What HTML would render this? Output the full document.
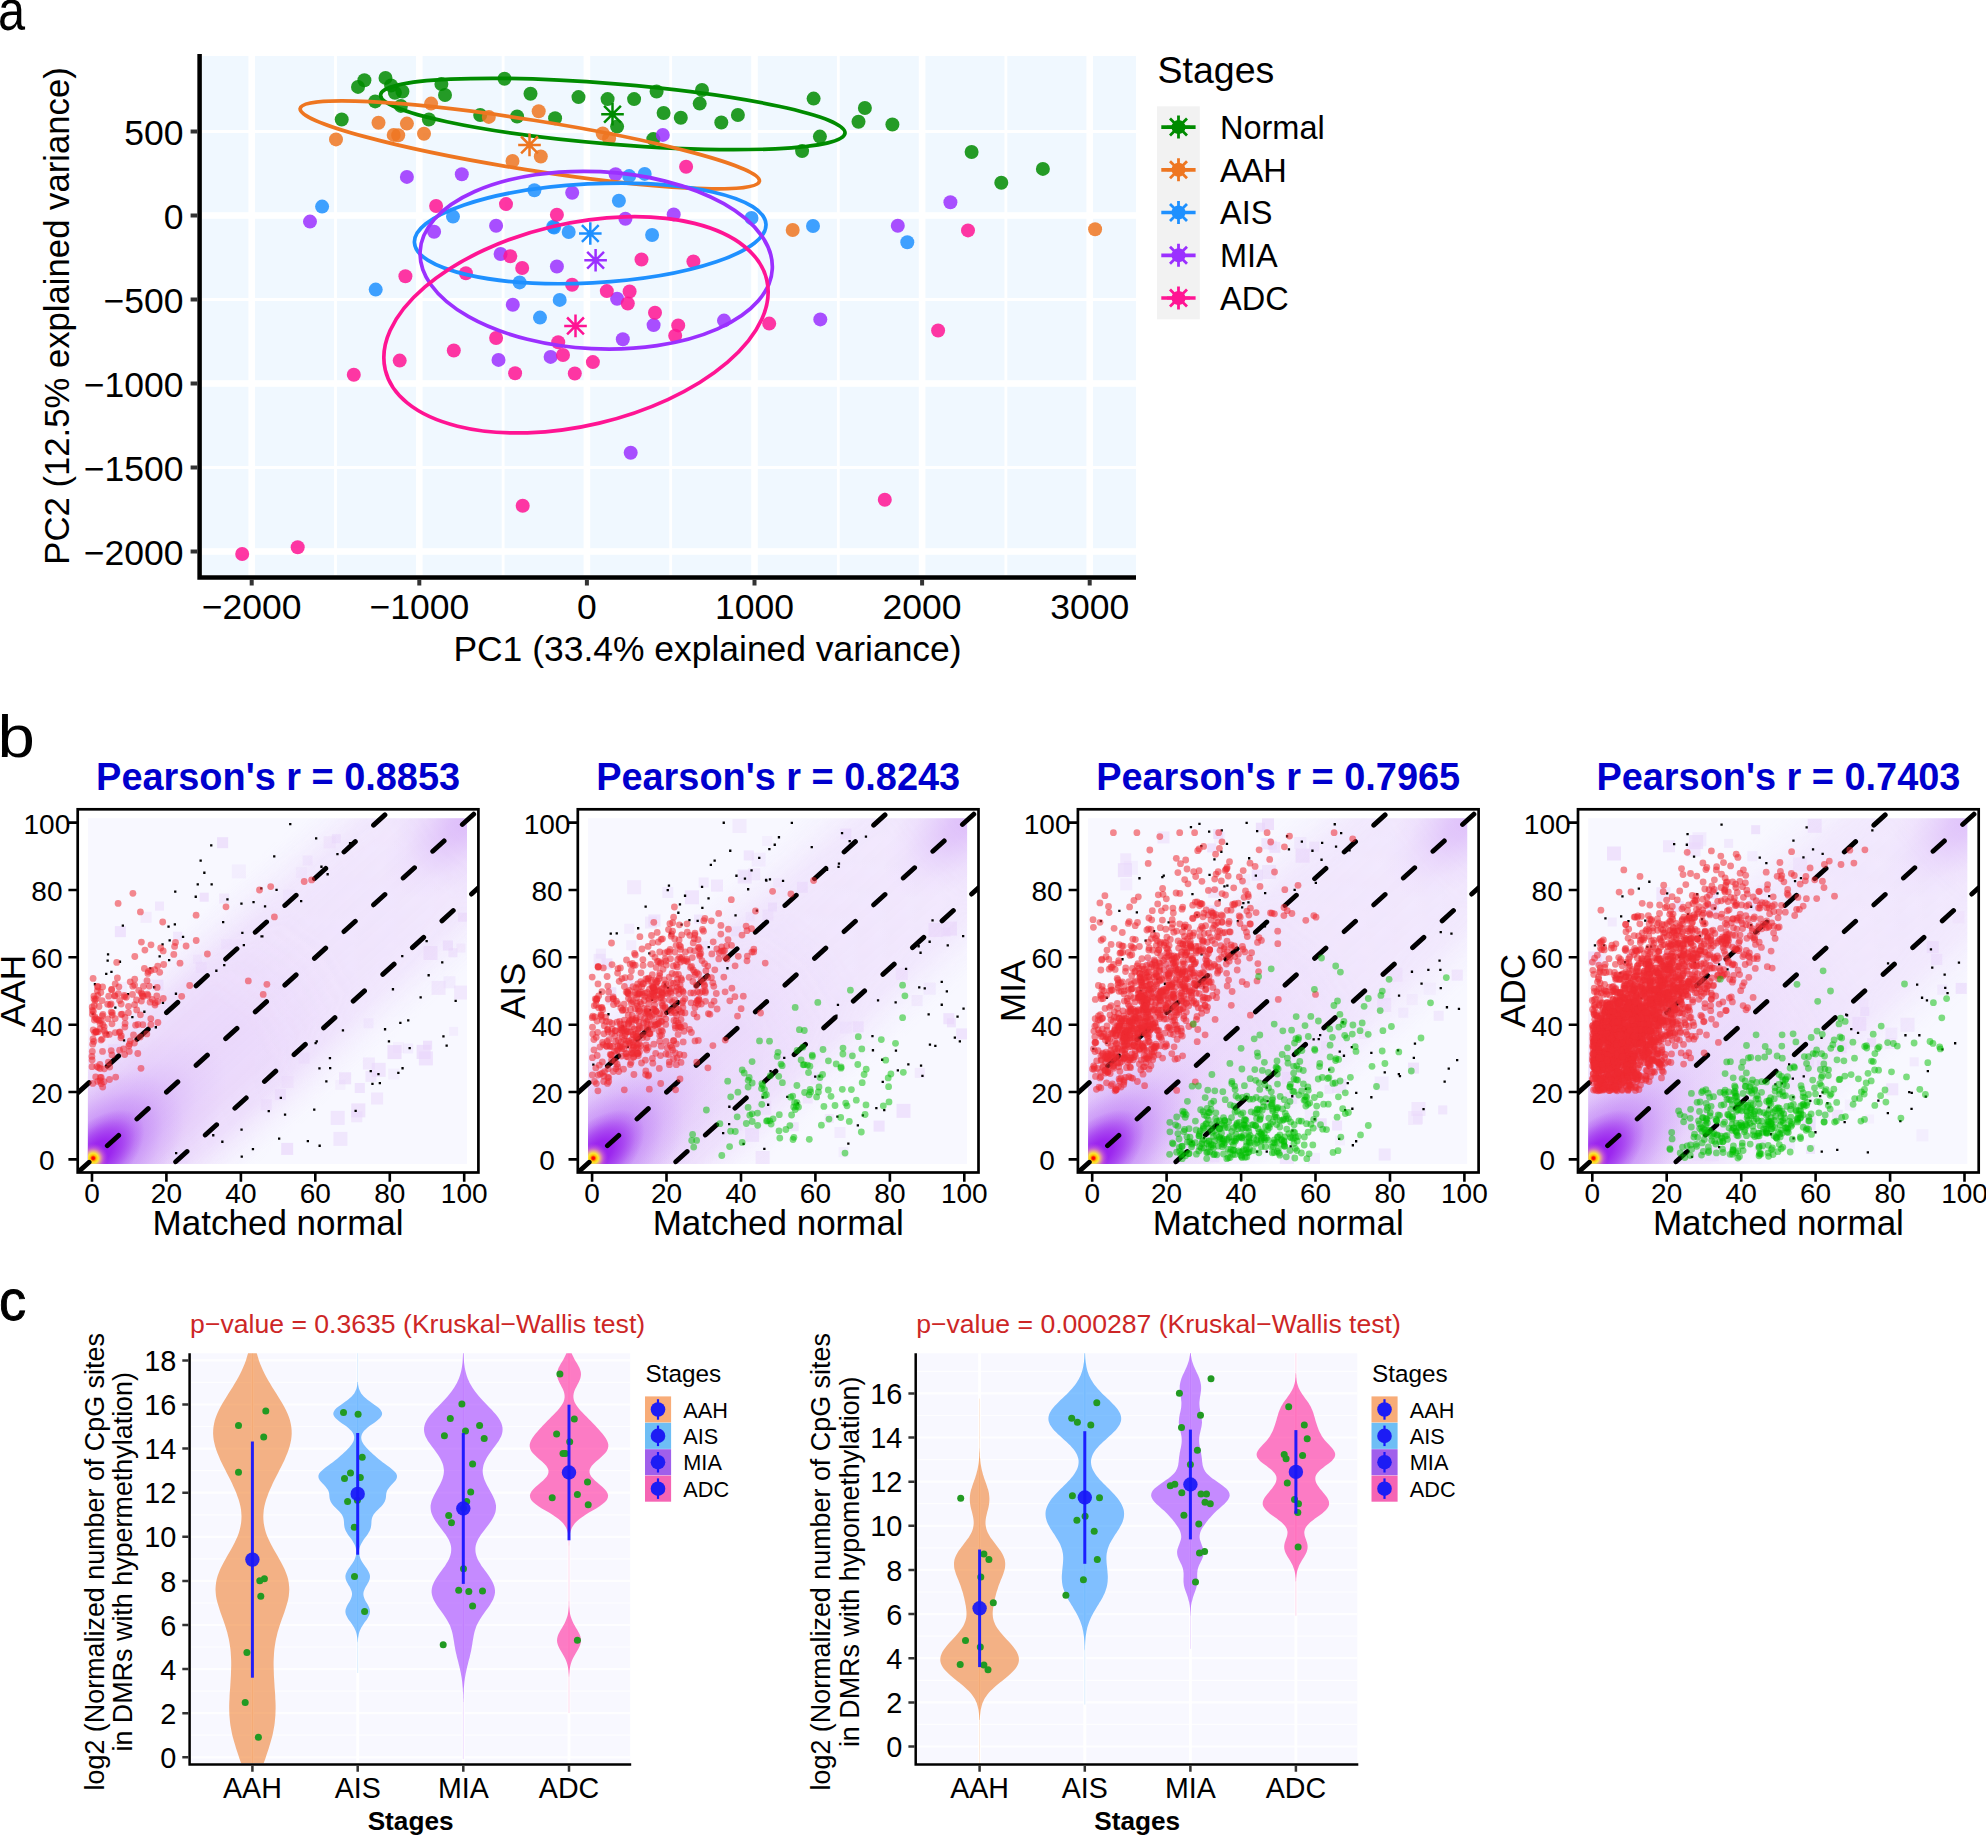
<!DOCTYPE html>
<html lang="en"><head><meta charset="utf-8"><title>Figure</title>
<style>html,body{margin:0;padding:0;background:#fff}svg{display:block}</style></head>
<body>
<svg width="1986" height="1836" viewBox="0 0 1986 1836" font-family="'Liberation Sans', Arial, sans-serif" fill="#000">
<rect width="1986" height="1836" fill="#fff"/>
<g id="panelA">
<text transform="translate(-2 30.3) scale(0.84 1)" font-size="58" fill="#000">a</text>
<rect x="201.8" y="56.0" width="934.2" height="519.2" fill="#F0F8FF"/>
<path d="M335.5 56.0V575.2M503.1 56.0V575.2M670.7 56.0V575.2M838.3 56.0V575.2M1005.9 56.0V575.2M201.8 131.5H1136.0M201.8 299.5H1136.0M201.8 467.5H1136.0" stroke="#fff" stroke-width="2.8" fill="none"/>
<path d="M251.7 56.0V575.2M419.3 56.0V575.2M586.9 56.0V575.2M754.5 56.0V575.2M922.1 56.0V575.2M1089.7 56.0V575.2M201.8 215.5H1136.0M201.8 383.5H1136.0M201.8 551.5H1136.0" stroke="#fff" stroke-width="6.6" fill="none"/>
<g fill-opacity="0.85">
<circle cx="364.4" cy="80.2" r="7" fill="#008B00"/>
<circle cx="358.0" cy="86.9" r="7" fill="#008B00"/>
<circle cx="385.5" cy="77.9" r="7" fill="#008B00"/>
<circle cx="391.1" cy="85.5" r="7" fill="#008B00"/>
<circle cx="394.9" cy="92.7" r="7" fill="#008B00"/>
<circle cx="402.4" cy="91.5" r="7" fill="#008B00"/>
<circle cx="375.2" cy="101.4" r="7" fill="#008B00"/>
<circle cx="400.9" cy="105.9" r="7" fill="#008B00"/>
<circle cx="341.7" cy="119.5" r="7" fill="#008B00"/>
<circle cx="441.4" cy="84.0" r="7" fill="#008B00"/>
<circle cx="445.0" cy="95.0" r="7" fill="#008B00"/>
<circle cx="428.9" cy="119.5" r="7" fill="#008B00"/>
<circle cx="480.2" cy="115.0" r="7" fill="#008B00"/>
<circle cx="504.5" cy="78.7" r="7" fill="#008B00"/>
<circle cx="530.5" cy="93.8" r="7" fill="#008B00"/>
<circle cx="578.5" cy="97.1" r="7" fill="#008B00"/>
<circle cx="607.6" cy="99.1" r="7" fill="#008B00"/>
<circle cx="634.1" cy="99.1" r="7" fill="#008B00"/>
<circle cx="656.6" cy="91.5" r="7" fill="#008B00"/>
<circle cx="702.0" cy="90.0" r="7" fill="#008B00"/>
<circle cx="699.7" cy="103.6" r="7" fill="#008B00"/>
<circle cx="517.1" cy="116.5" r="7" fill="#008B00"/>
<circle cx="555.1" cy="118.3" r="7" fill="#008B00"/>
<circle cx="617.1" cy="126.6" r="7" fill="#008B00"/>
<circle cx="663.6" cy="113.0" r="7" fill="#008B00"/>
<circle cx="680.8" cy="117.7" r="7" fill="#008B00"/>
<circle cx="721.3" cy="122.5" r="7" fill="#008B00"/>
<circle cx="737.9" cy="115.0" r="7" fill="#008B00"/>
<circle cx="653.3" cy="139.1" r="7" fill="#008B00"/>
<circle cx="813.6" cy="98.6" r="7" fill="#008B00"/>
<circle cx="864.9" cy="108.0" r="7" fill="#008B00"/>
<circle cx="858.5" cy="121.8" r="7" fill="#008B00"/>
<circle cx="892.4" cy="124.5" r="7" fill="#008B00"/>
<circle cx="819.9" cy="136.6" r="7" fill="#008B00"/>
<circle cx="802.1" cy="151.1" r="7" fill="#008B00"/>
<circle cx="971.6" cy="152.0" r="7" fill="#008B00"/>
<circle cx="1042.9" cy="168.9" r="7" fill="#008B00"/>
<circle cx="1001.3" cy="182.7" r="7" fill="#008B00"/>
<circle cx="431.1" cy="103.6" r="7" fill="#EE7621"/>
<circle cx="378.5" cy="122.8" r="7" fill="#EE7621"/>
<circle cx="406.9" cy="123.6" r="7" fill="#EE7621"/>
<circle cx="393.7" cy="134.9" r="7" fill="#EE7621"/>
<circle cx="398.2" cy="135.3" r="7" fill="#EE7621"/>
<circle cx="424.0" cy="133.8" r="7" fill="#EE7621"/>
<circle cx="336.0" cy="139.4" r="7" fill="#EE7621"/>
<circle cx="488.8" cy="116.9" r="7" fill="#EE7621"/>
<circle cx="538.7" cy="111.2" r="7" fill="#EE7621"/>
<circle cx="602.7" cy="133.5" r="7" fill="#EE7621"/>
<circle cx="609.1" cy="138.4" r="7" fill="#EE7621"/>
<circle cx="540.8" cy="156.5" r="7" fill="#EE7621"/>
<circle cx="512.5" cy="161.0" r="7" fill="#EE7621"/>
<circle cx="792.7" cy="230.0" r="7" fill="#EE7621"/>
<circle cx="1095.1" cy="229.3" r="7" fill="#EE7621"/>
<circle cx="322.1" cy="206.6" r="7" fill="#1E90FF"/>
<circle cx="453.0" cy="216.6" r="7" fill="#1E90FF"/>
<circle cx="629.2" cy="176.1" r="7" fill="#1E90FF"/>
<circle cx="644.7" cy="173.9" r="7" fill="#1E90FF"/>
<circle cx="534.4" cy="190.2" r="7" fill="#1E90FF"/>
<circle cx="618.9" cy="200.8" r="7" fill="#1E90FF"/>
<circle cx="553.2" cy="226.7" r="7" fill="#1E90FF"/>
<circle cx="554.1" cy="227.5" r="7" fill="#1E90FF"/>
<circle cx="568.7" cy="232.0" r="7" fill="#1E90FF"/>
<circle cx="652.1" cy="235.0" r="7" fill="#1E90FF"/>
<circle cx="751.5" cy="218.0" r="7" fill="#1E90FF"/>
<circle cx="813.0" cy="226.0" r="7" fill="#1E90FF"/>
<circle cx="907.3" cy="242.3" r="7" fill="#1E90FF"/>
<circle cx="375.7" cy="289.6" r="7" fill="#1E90FF"/>
<circle cx="519.6" cy="282.4" r="7" fill="#1E90FF"/>
<circle cx="559.7" cy="299.9" r="7" fill="#1E90FF"/>
<circle cx="540.0" cy="317.6" r="7" fill="#1E90FF"/>
<circle cx="406.9" cy="176.9" r="7" fill="#9B30FF"/>
<circle cx="461.8" cy="174.2" r="7" fill="#9B30FF"/>
<circle cx="310.0" cy="221.6" r="7" fill="#9B30FF"/>
<circle cx="434.1" cy="231.7" r="7" fill="#9B30FF"/>
<circle cx="496.1" cy="225.7" r="7" fill="#9B30FF"/>
<circle cx="662.8" cy="134.9" r="7" fill="#9B30FF"/>
<circle cx="615.6" cy="174.2" r="7" fill="#9B30FF"/>
<circle cx="572.2" cy="192.7" r="7" fill="#9B30FF"/>
<circle cx="625.4" cy="218.7" r="7" fill="#9B30FF"/>
<circle cx="673.7" cy="214.4" r="7" fill="#9B30FF"/>
<circle cx="556.9" cy="266.5" r="7" fill="#9B30FF"/>
<circle cx="950.4" cy="202.3" r="7" fill="#9B30FF"/>
<circle cx="897.8" cy="225.8" r="7" fill="#9B30FF"/>
<circle cx="512.8" cy="304.7" r="7" fill="#9B30FF"/>
<circle cx="617.1" cy="298.7" r="7" fill="#9B30FF"/>
<circle cx="653.6" cy="325.1" r="7" fill="#9B30FF"/>
<circle cx="724.0" cy="320.6" r="7" fill="#9B30FF"/>
<circle cx="622.8" cy="339.2" r="7" fill="#9B30FF"/>
<circle cx="550.6" cy="356.9" r="7" fill="#9B30FF"/>
<circle cx="498.5" cy="359.9" r="7" fill="#9B30FF"/>
<circle cx="630.7" cy="452.8" r="7" fill="#9B30FF"/>
<circle cx="820.3" cy="319.4" r="7" fill="#9B30FF"/>
<circle cx="500.6" cy="254.0" r="7" fill="#9B30FF"/>
<circle cx="436.1" cy="206.0" r="7" fill="#FF1493"/>
<circle cx="686.1" cy="166.8" r="7" fill="#FF1493"/>
<circle cx="506.0" cy="204.1" r="7" fill="#FF1493"/>
<circle cx="556.9" cy="214.7" r="7" fill="#FF1493"/>
<circle cx="510.3" cy="256.2" r="7" fill="#FF1493"/>
<circle cx="522.2" cy="268.0" r="7" fill="#FF1493"/>
<circle cx="641.5" cy="259.5" r="7" fill="#FF1493"/>
<circle cx="693.4" cy="261.5" r="7" fill="#FF1493"/>
<circle cx="968.0" cy="230.4" r="7" fill="#FF1493"/>
<circle cx="405.4" cy="276.3" r="7" fill="#FF1493"/>
<circle cx="465.9" cy="273.3" r="7" fill="#FF1493"/>
<circle cx="399.7" cy="360.6" r="7" fill="#FF1493"/>
<circle cx="353.8" cy="374.7" r="7" fill="#FF1493"/>
<circle cx="453.8" cy="350.5" r="7" fill="#FF1493"/>
<circle cx="496.1" cy="338.0" r="7" fill="#FF1493"/>
<circle cx="572.1" cy="284.7" r="7" fill="#FF1493"/>
<circle cx="606.8" cy="291.1" r="7" fill="#FF1493"/>
<circle cx="629.6" cy="291.5" r="7" fill="#FF1493"/>
<circle cx="627.8" cy="303.5" r="7" fill="#FF1493"/>
<circle cx="655.0" cy="312.7" r="7" fill="#FF1493"/>
<circle cx="678.2" cy="325.4" r="7" fill="#FF1493"/>
<circle cx="675.2" cy="335.7" r="7" fill="#FF1493"/>
<circle cx="769.2" cy="323.6" r="7" fill="#FF1493"/>
<circle cx="558.2" cy="342.2" r="7" fill="#FF1493"/>
<circle cx="563.0" cy="355.0" r="7" fill="#FF1493"/>
<circle cx="592.9" cy="362.1" r="7" fill="#FF1493"/>
<circle cx="574.8" cy="373.5" r="7" fill="#FF1493"/>
<circle cx="515.1" cy="373.2" r="7" fill="#FF1493"/>
<circle cx="938.1" cy="330.5" r="7" fill="#FF1493"/>
<circle cx="884.8" cy="499.7" r="7" fill="#FF1493"/>
<circle cx="242.2" cy="554.0" r="7" fill="#FF1493"/>
<circle cx="297.7" cy="547.2" r="7" fill="#FF1493"/>
<circle cx="522.7" cy="505.8" r="7" fill="#FF1493"/>
</g>
<ellipse cx="612.8" cy="114.0" rx="233.0" ry="30.2" transform="rotate(4.7 612.8 114.0)" fill="none" stroke="#008B00" stroke-width="3.7"/>
<ellipse cx="529.8" cy="144.9" rx="232.5" ry="25.0" transform="rotate(9.0 529.8 144.9)" fill="none" stroke="#EE7621" stroke-width="3.7"/>
<ellipse cx="590.2" cy="233.4" rx="176.0" ry="49.5" transform="rotate(-3.0 590.2 233.4)" fill="none" stroke="#1E90FF" stroke-width="3.7"/>
<ellipse cx="596.2" cy="260.2" rx="176.3" ry="88.6" transform="rotate(2.8 596.2 260.2)" fill="none" stroke="#9B30FF" stroke-width="3.7"/>
<ellipse cx="576.0" cy="324.8" rx="196.0" ry="101.0" transform="rotate(-13.3 576.0 324.8)" fill="none" stroke="#FF1493" stroke-width="3.7"/>
<path d="M601.2 114.2H623.8M612.5 102.9V125.5M604.1 105.8L620.9 122.6M604.1 122.6L620.9 105.8" stroke="#008B00" stroke-width="2.5" fill="none"/>
<path d="M518.2 144.9H540.8M529.5 133.6V156.2M521.1 136.5L537.9 153.3M521.1 153.3L537.9 136.5" stroke="#EE7621" stroke-width="2.5" fill="none"/>
<path d="M579.0 233.5H601.6M590.3 222.2V244.8M581.9 225.1L598.7 241.9M581.9 241.9L598.7 225.1" stroke="#1E90FF" stroke-width="2.5" fill="none"/>
<path d="M584.3 260.3H606.9M595.6 249.0V271.6M587.2 251.9L604.0 268.7M587.2 268.7L604.0 251.9" stroke="#9B30FF" stroke-width="2.5" fill="none"/>
<path d="M564.2 325.9H586.8M575.5 314.6V337.2M567.1 317.5L583.9 334.3M567.1 334.3L583.9 317.5" stroke="#FF1493" stroke-width="2.5" fill="none"/>
<path d="M199.6 54V579.7M197.4 577.4H1136.0" stroke="#000" stroke-width="4.5" fill="none"/>
<path d="M190.6 131.5H197.4M190.6 215.5H197.4M190.6 299.5H197.4M190.6 383.5H197.4M190.6 467.5H197.4M190.6 551.5H197.4M251.7 579.6V585.6M419.3 579.6V585.6M586.9 579.6V585.6M754.5 579.6V585.6M922.1 579.6V585.6M1089.7 579.6V585.6" stroke="#333" stroke-width="4" fill="none"/>
<g font-size="35.5" fill="#000">
<text x="183.5" y="144.9" text-anchor="end">500</text>
<text x="183.5" y="228.9" text-anchor="end">0</text>
<text x="183.5" y="312.9" text-anchor="end">−500</text>
<text x="183.5" y="396.9" text-anchor="end">−1000</text>
<text x="183.5" y="480.9" text-anchor="end">−1500</text>
<text x="183.5" y="564.9" text-anchor="end">−2000</text>
<text x="251.7" y="618.6" text-anchor="middle">−2000</text>
<text x="419.3" y="618.6" text-anchor="middle">−1000</text>
<text x="586.9" y="618.6" text-anchor="middle">0</text>
<text x="754.5" y="618.6" text-anchor="middle">1000</text>
<text x="922.1" y="618.6" text-anchor="middle">2000</text>
<text x="1089.7" y="618.6" text-anchor="middle">3000</text>
</g>
<text x="707.5" y="661" font-size="35.45" text-anchor="middle">PC1 (33.4% explained variance)</text>
<text transform="translate(68.5 316) rotate(-90)" font-size="34.7" text-anchor="middle">PC2 (12.5% explained variance)</text>
<text x="1157.5" y="82.5" font-size="37.5">Stages</text>
<rect x="1157" y="106.3" width="42.8" height="213" fill="#F2F2F2"/>
<path d="M1161.3 127.1H1195.6" stroke="#008B00" stroke-width="3.7"/>
<circle cx="1178.5" cy="127.1" r="7" fill="#008B00"/>
<path d="M1167.0 127.1H1190.0M1178.5 115.6V138.6M1170.0 118.6L1187.0 135.6M1170.0 135.6L1187.0 118.6" stroke="#008B00" stroke-width="2.8" fill="none"/>
<text x="1220" y="138.8" font-size="32.5">Normal</text>
<path d="M1161.3 169.8H1195.6" stroke="#EE7621" stroke-width="3.7"/>
<circle cx="1178.5" cy="169.8" r="7" fill="#EE7621"/>
<path d="M1167.0 169.8H1190.0M1178.5 158.3V181.3M1170.0 161.3L1187.0 178.3M1170.0 178.3L1187.0 161.3" stroke="#EE7621" stroke-width="2.8" fill="none"/>
<text x="1220" y="181.5" font-size="32.5">AAH</text>
<path d="M1161.3 212.5H1195.6" stroke="#1E90FF" stroke-width="3.7"/>
<circle cx="1178.5" cy="212.5" r="7" fill="#1E90FF"/>
<path d="M1167.0 212.5H1190.0M1178.5 201.0V224.0M1170.0 204.0L1187.0 221.0M1170.0 221.0L1187.0 204.0" stroke="#1E90FF" stroke-width="2.8" fill="none"/>
<text x="1220" y="224.2" font-size="32.5">AIS</text>
<path d="M1161.3 255.3H1195.6" stroke="#9B30FF" stroke-width="3.7"/>
<circle cx="1178.5" cy="255.3" r="7" fill="#9B30FF"/>
<path d="M1167.0 255.3H1190.0M1178.5 243.8V266.8M1170.0 246.8L1187.0 263.8M1170.0 263.8L1187.0 246.8" stroke="#9B30FF" stroke-width="2.8" fill="none"/>
<text x="1220" y="267.0" font-size="32.5">MIA</text>
<path d="M1161.3 298.0H1195.6" stroke="#FF1493" stroke-width="3.7"/>
<circle cx="1178.5" cy="298.0" r="7" fill="#FF1493"/>
<path d="M1167.0 298.0H1190.0M1178.5 286.5V309.5M1170.0 289.5L1187.0 306.5M1170.0 306.5L1187.0 289.5" stroke="#FF1493" stroke-width="2.8" fill="none"/>
<text x="1220" y="309.7" font-size="32.5">ADC</text>
</g>
<g id="panelB">
<defs><clipPath id="bclip"><rect x="87.9" y="818.2" width="379.1" height="345.7"/></clipPath><clipPath id="bbox"><rect x="77.7" y="809.3" width="400.7" height="363.2"/></clipPath><radialGradient id="bg1"><stop offset="0" stop-color="#DDBDFA" stop-opacity="0.280"/><stop offset="0.25" stop-color="#DDBDFA" stop-opacity="0.224"/><stop offset="0.5" stop-color="#DDBDFA" stop-opacity="0.118"/><stop offset="0.75" stop-color="#DDBDFA" stop-opacity="0.036"/><stop offset="1" stop-color="#DDBDFA" stop-opacity="0.000"/></radialGradient><radialGradient id="bg2"><stop offset="0" stop-color="#CB98F8" stop-opacity="0.850"/><stop offset="0.25" stop-color="#CB98F8" stop-opacity="0.680"/><stop offset="0.5" stop-color="#CB98F8" stop-opacity="0.357"/><stop offset="0.75" stop-color="#CB98F8" stop-opacity="0.111"/><stop offset="1" stop-color="#CB98F8" stop-opacity="0.000"/></radialGradient><radialGradient id="bg3"><stop offset="0" stop-color="#9A22EE" stop-opacity="1.000"/><stop offset="0.3" stop-color="#9A22EE" stop-opacity="0.950"/><stop offset="0.55" stop-color="#9A22EE" stop-opacity="0.600"/><stop offset="0.8" stop-color="#9A22EE" stop-opacity="0.200"/><stop offset="1" stop-color="#9A22EE" stop-opacity="0.000"/></radialGradient><radialGradient id="bg4"><stop offset="0" stop-color="#D6AEF9" stop-opacity="0.720"/><stop offset="0.25" stop-color="#D6AEF9" stop-opacity="0.576"/><stop offset="0.5" stop-color="#D6AEF9" stop-opacity="0.302"/><stop offset="0.75" stop-color="#D6AEF9" stop-opacity="0.094"/><stop offset="1" stop-color="#D6AEF9" stop-opacity="0.000"/></radialGradient><radialGradient id="bg5"><stop offset="0" stop-color="#B468F3" stop-opacity="0.780"/><stop offset="0.25" stop-color="#B468F3" stop-opacity="0.624"/><stop offset="0.5" stop-color="#B468F3" stop-opacity="0.328"/><stop offset="0.75" stop-color="#B468F3" stop-opacity="0.101"/><stop offset="1" stop-color="#B468F3" stop-opacity="0.000"/></radialGradient><radialGradient id="bblot"><stop offset="0" stop-color="#E4CDFA" stop-opacity="0.750"/><stop offset="0.5" stop-color="#E4CDFA" stop-opacity="0.675"/><stop offset="0.8" stop-color="#E4CDFA" stop-opacity="0.300"/><stop offset="1" stop-color="#E4CDFA" stop-opacity="0.000"/></radialGradient><radialGradient id="bhot"><stop offset="0" stop-color="#FF0000"/><stop offset="0.09" stop-color="#FF1000"/><stop offset="0.2" stop-color="#FFC000"/><stop offset="0.34" stop-color="#FFF030" stop-opacity="0.95"/><stop offset="0.5" stop-color="#FAC080" stop-opacity="0.75"/><stop offset="0.7" stop-color="#E080C8" stop-opacity="0.45"/><stop offset="1" stop-color="#C050E0" stop-opacity="0"/></radialGradient><linearGradient id="bband" x1="0" y1="0" x2="0" y2="1"><stop offset="0" stop-color="#EAD7FB" stop-opacity="0"/><stop offset="0.03" stop-color="#EAD7FB" stop-opacity="0.02"/><stop offset="0.09" stop-color="#EAD7FB" stop-opacity="0.2"/><stop offset="0.15" stop-color="#EAD7FB" stop-opacity="0.5"/><stop offset="0.205" stop-color="#EAD7FB" stop-opacity="0.85"/><stop offset="0.3" stop-color="#EAD7FB" stop-opacity="0.97"/><stop offset="0.5" stop-color="#EAD7FB" stop-opacity="1"/><stop offset="0.7" stop-color="#EAD7FB" stop-opacity="0.97"/><stop offset="0.795" stop-color="#EAD7FB" stop-opacity="0.85"/><stop offset="0.85" stop-color="#EAD7FB" stop-opacity="0.5"/><stop offset="0.91" stop-color="#EAD7FB" stop-opacity="0.2"/><stop offset="0.97" stop-color="#EAD7FB" stop-opacity="0.02"/><stop offset="1" stop-color="#EAD7FB" stop-opacity="0"/></linearGradient><linearGradient id="bmg" x1="0" y1="0" x2="1" y2="0"><stop offset="0" stop-color="#fff"/><stop offset="0.4" stop-color="#fff"/><stop offset="0.6" stop-color="#b4b4b4"/><stop offset="0.8" stop-color="#a4a4a4"/><stop offset="0.92" stop-color="#e0e0e0"/><stop offset="1" stop-color="#fff"/></linearGradient><mask id="bm" maskUnits="userSpaceOnUse" x="-40" y="-160" width="600" height="320"><rect x="-40" y="-160" width="600" height="320" fill="url(#bmg)"/></mask></defs>
<text transform="translate(-2.5 756.5) scale(1.12 1)" font-size="60">b</text>
<g id="b0">
<g transform="translate(0.0 0)"><rect x="87.9" y="818.2" width="379.1" height="345.7" fill="#F8F8FF"/><g clip-path="url(#bclip)"><rect x="456.4" y="943.6" width="9" height="9" fill="#E9D6FB" opacity="0.38"/><rect x="393.1" y="1041.9" width="11" height="11" fill="#E9D6FB" opacity="0.26"/><rect x="388.3" y="1068.6" width="11" height="11" fill="#E9D6FB" opacity="0.30"/><rect x="363.5" y="1018.3" width="10" height="10" fill="#E9D6FB" opacity="0.34"/><rect x="354.8" y="1083.0" width="10" height="10" fill="#E9D6FB" opacity="0.58"/><rect x="457.9" y="912.7" width="9" height="9" fill="#E9D6FB" opacity="0.66"/><rect x="217.1" y="837.2" width="11" height="11" fill="#E9D6FB" opacity="0.67"/><rect x="104.0" y="995.8" width="12" height="12" fill="#E9D6FB" opacity="0.26"/><rect x="114.8" y="982.0" width="12" height="12" fill="#E9D6FB" opacity="0.28"/><rect x="365.4" y="1070.9" width="11" height="11" fill="#E9D6FB" opacity="0.49"/><rect x="331.9" y="834.2" width="9" height="9" fill="#E9D6FB" opacity="0.57"/><rect x="281.2" y="1142.9" width="12" height="12" fill="#E9D6FB" opacity="0.69"/><rect x="108.1" y="1044.2" width="14" height="14" fill="#E9D6FB" opacity="0.60"/><rect x="173.2" y="931.7" width="9" height="9" fill="#E9D6FB" opacity="0.46"/><rect x="335.3" y="1079.8" width="10" height="10" fill="#E9D6FB" opacity="0.26"/><rect x="231.0" y="939.7" width="9" height="9" fill="#E9D6FB" opacity="0.29"/><rect x="323.7" y="836.3" width="12" height="12" fill="#E9D6FB" opacity="0.38"/><rect x="140.6" y="911.8" width="11" height="11" fill="#E9D6FB" opacity="0.38"/><rect x="274.9" y="1089.1" width="11" height="11" fill="#E9D6FB" opacity="0.59"/><rect x="351.3" y="1103.4" width="14" height="14" fill="#E9D6FB" opacity="0.63"/><rect x="449.1" y="1026.9" width="9" height="9" fill="#E9D6FB" opacity="0.32"/><rect x="330.7" y="1110.9" width="14" height="14" fill="#E9D6FB" opacity="0.53"/><rect x="231.9" y="864.4" width="14" height="14" fill="#E9D6FB" opacity="0.30"/><rect x="296.0" y="867.1" width="11" height="11" fill="#E9D6FB" opacity="0.28"/><rect x="199.7" y="892.7" width="9" height="9" fill="#E9D6FB" opacity="0.65"/><rect x="142.2" y="978.5" width="9" height="9" fill="#E9D6FB" opacity="0.27"/><rect x="423.5" y="946.0" width="14" height="14" fill="#E9D6FB" opacity="0.63"/><rect x="177.7" y="1153.7" width="10" height="10" fill="#E9D6FB" opacity="0.27"/><rect x="387.5" y="1045.1" width="14" height="14" fill="#E9D6FB" opacity="0.70"/><rect x="443.5" y="976.3" width="12" height="12" fill="#E9D6FB" opacity="0.34"/><rect x="403.2" y="1043.5" width="10" height="10" fill="#E9D6FB" opacity="0.34"/><rect x="418.9" y="1051.4" width="14" height="14" fill="#E9D6FB" opacity="0.60"/><rect x="195.7" y="961.9" width="11" height="11" fill="#E9D6FB" opacity="0.54"/><rect x="333.4" y="1131.9" width="14" height="14" fill="#E9D6FB" opacity="0.48"/><rect x="442.9" y="940.5" width="10" height="10" fill="#E9D6FB" opacity="0.67"/><rect x="281.5" y="1076.0" width="12" height="12" fill="#E9D6FB" opacity="0.38"/><rect x="371.7" y="1062.9" width="14" height="14" fill="#E9D6FB" opacity="0.56"/><rect x="260.7" y="1099.3" width="11" height="11" fill="#E9D6FB" opacity="0.51"/><rect x="339.1" y="1072.3" width="12" height="12" fill="#E9D6FB" opacity="0.64"/><rect x="219.1" y="893.5" width="10" height="10" fill="#E9D6FB" opacity="0.42"/><rect x="155.0" y="901.6" width="9" height="9" fill="#E9D6FB" opacity="0.51"/><rect x="351.2" y="1111.2" width="11" height="11" fill="#E9D6FB" opacity="0.52"/><rect x="371.1" y="1092.5" width="12" height="12" fill="#E9D6FB" opacity="0.51"/><rect x="114.9" y="926.1" width="11" height="11" fill="#E9D6FB" opacity="0.60"/><rect x="221.1" y="939.3" width="10" height="10" fill="#E9D6FB" opacity="0.34"/><rect x="283.1" y="889.7" width="12" height="12" fill="#E9D6FB" opacity="0.30"/><rect x="298.7" y="1052.6" width="11" height="11" fill="#E9D6FB" opacity="0.48"/><rect x="416.6" y="1044.9" width="14" height="14" fill="#E9D6FB" opacity="0.68"/><rect x="302.6" y="855.5" width="10" height="10" fill="#E9D6FB" opacity="0.37"/><rect x="431.6" y="980.9" width="14" height="14" fill="#E9D6FB" opacity="0.47"/><rect x="152.4" y="979.7" width="11" height="11" fill="#E9D6FB" opacity="0.58"/><rect x="423.1" y="1040.7" width="9" height="9" fill="#E9D6FB" opacity="0.68"/><rect x="454.1" y="985.6" width="14" height="14" fill="#E9D6FB" opacity="0.47"/><rect x="448.4" y="948.2" width="9" height="9" fill="#E9D6FB" opacity="0.54"/><rect x="362.9" y="1057.5" width="12" height="12" fill="#E9D6FB" opacity="0.47"/><rect x="192.9" y="954.7" width="9" height="9" fill="#E9D6FB" opacity="0.33"/><g transform="translate(92.0 1159.4) rotate(-42.14)"><rect x="-40" y="-116" width="600" height="232" fill="url(#bband)" opacity="0.85" mask="url(#bm)"/><ellipse cx="40" cy="0" rx="280" ry="88" fill="url(#bg1)"/><ellipse cx="508" cy="0" rx="105" ry="52" fill="url(#bg4)" opacity="1.0"/><ellipse cx="22" cy="0" rx="145" ry="74" fill="url(#bg2)"/><ellipse cx="12" cy="0" rx="96" ry="64" fill="url(#bg5)"/><ellipse cx="8" cy="0" rx="56" ry="32" fill="url(#bg3)"/></g><circle cx="93.2" cy="1158.2" r="15" fill="url(#bhot)"/></g></g>
<path d="M401.1 955.0h2.3v2.3h-2.3zM369.6 1070.0h2.3v2.3h-2.3zM240.4 1128.4h2.3v2.3h-2.3zM173.7 923.3h2.3v2.3h-2.3zM283.9 1113.5h2.3v2.3h-2.3zM126.9 993.0h2.3v2.3h-2.3zM240.6 1155.4h2.3v2.3h-2.3zM401.4 1067.1h2.3v2.3h-2.3zM153.1 986.1h2.3v2.3h-2.3zM377.3 1073.0h2.3v2.3h-2.3zM158.5 955.2h2.3v2.3h-2.3zM419.5 996.2h2.3v2.3h-2.3zM306.7 1139.9h2.3v2.3h-2.3zM181.9 935.7h2.3v2.3h-2.3zM174.1 890.4h2.3v2.3h-2.3zM194.6 895.6h2.3v2.3h-2.3zM196.6 883.2h2.3v2.3h-2.3zM114.2 1006.4h2.3v2.3h-2.3zM348.9 842.0h2.3v2.3h-2.3zM328.8 1056.9h2.3v2.3h-2.3zM203.2 871.6h2.3v2.3h-2.3zM289.1 823.0h2.3v2.3h-2.3zM161.8 1001.7h2.3v2.3h-2.3zM300.0 899.9h2.3v2.3h-2.3zM325.2 1080.3h2.3v2.3h-2.3zM407.1 1019.2h2.3v2.3h-2.3zM110.3 970.7h2.3v2.3h-2.3zM222.0 921.0h2.3v2.3h-2.3zM212.1 1134.1h2.3v2.3h-2.3zM260.4 935.2h2.3v2.3h-2.3zM441.1 961.3h2.3v2.3h-2.3zM143.2 1010.6h2.3v2.3h-2.3zM91.7 1012.8h2.3v2.3h-2.3zM326.5 873.1h2.3v2.3h-2.3zM354.5 1109.7h2.3v2.3h-2.3zM106.5 959.4h2.3v2.3h-2.3zM241.2 931.8h2.3v2.3h-2.3zM341.8 1029.3h2.3v2.3h-2.3zM273.1 855.2h2.3v2.3h-2.3zM121.7 924.4h2.3v2.3h-2.3zM221.2 1140.6h2.3v2.3h-2.3zM168.0 958.9h2.3v2.3h-2.3zM425.5 939.9h2.3v2.3h-2.3zM215.2 969.6h2.3v2.3h-2.3zM105.1 972.7h2.3v2.3h-2.3zM263.9 905.2h2.3v2.3h-2.3zM336.3 853.0h2.3v2.3h-2.3zM454.5 999.7h2.3v2.3h-2.3zM279.7 1096.7h2.3v2.3h-2.3zM199.5 859.4h2.3v2.3h-2.3zM383.9 1028.1h2.3v2.3h-2.3zM122.9 1039.2h2.3v2.3h-2.3zM131.2 1016.0h2.3v2.3h-2.3zM408.5 1046.9h2.3v2.3h-2.3zM226.3 898.2h2.3v2.3h-2.3zM397.2 1071.7h2.3v2.3h-2.3zM371.3 1082.7h2.3v2.3h-2.3zM314.5 1041.9h2.3v2.3h-2.3zM378.7 1081.9h2.3v2.3h-2.3zM210.5 883.3h2.3v2.3h-2.3zM252.4 900.9h2.3v2.3h-2.3zM106.6 1031.9h2.3v2.3h-2.3zM313.1 1108.4h2.3v2.3h-2.3zM318.5 1144.6h2.3v2.3h-2.3zM106.9 953.2h2.3v2.3h-2.3zM399.2 1021.7h2.3v2.3h-2.3zM93.8 983.1h2.3v2.3h-2.3zM242.7 944.0h2.3v2.3h-2.3zM427.5 974.1h2.3v2.3h-2.3zM149.2 967.3h2.3v2.3h-2.3zM174.8 992.6h2.3v2.3h-2.3zM118.8 960.6h2.3v2.3h-2.3zM267.6 1109.9h2.3v2.3h-2.3zM167.4 925.4h2.3v2.3h-2.3zM387.8 1040.3h2.3v2.3h-2.3zM275.4 888.8h2.3v2.3h-2.3zM251.8 1147.9h2.3v2.3h-2.3zM223.1 963.9h2.3v2.3h-2.3zM329.0 1067.0h2.3v2.3h-2.3zM442.3 1035.2h2.3v2.3h-2.3zM168.5 939.2h2.3v2.3h-2.3zM175.0 1152.0h2.3v2.3h-2.3zM315.0 837.2h2.3v2.3h-2.3zM260.1 887.3h2.3v2.3h-2.3zM261.2 935.2h2.3v2.3h-2.3zM161.4 943.3h2.3v2.3h-2.3zM154.7 1026.1h2.3v2.3h-2.3zM240.3 902.4h2.3v2.3h-2.3zM445.5 1044.4h2.3v2.3h-2.3zM320.3 865.6h2.3v2.3h-2.3zM315.6 1040.2h2.3v2.3h-2.3zM391.8 988.1h2.3v2.3h-2.3zM318.3 1067.3h2.3v2.3h-2.3zM278.0 1137.5h2.3v2.3h-2.3zM210.1 844.3h2.3v2.3h-2.3z" fill="#000"/>
<clipPath id="bbx0"><rect x="77.7" y="809.3" width="400.7" height="363.2"/></clipPath>
<g clip-path="url(#bbx0)"><path d="M77.7 1172.5L478.4 809.9M77.7 1092.9L391.1 809.3" stroke="#000" stroke-width="4.9" stroke-dasharray="15.3 24.6" stroke-linecap="round" fill="none"/><path d="M163.8 1172.5L478.4 887.8" stroke="#000" stroke-width="4.9" stroke-dasharray="15.3 24.6" stroke-dashoffset="-16" stroke-linecap="round" fill="none"/></g>
<g fill="#EE2A32" fill-opacity="0.55"><circle cx="142.8" cy="1024.7" r="3.4"/><circle cx="124.3" cy="995.4" r="3.4"/><circle cx="92.7" cy="1044.2" r="3.4"/><circle cx="128.5" cy="1006.3" r="3.4"/><circle cx="121.3" cy="1035.8" r="3.4"/><circle cx="105.2" cy="1033.3" r="3.4"/><circle cx="120.0" cy="1031.8" r="3.4"/><circle cx="112.0" cy="1023.8" r="3.4"/><circle cx="141.3" cy="992.8" r="3.4"/><circle cx="148.3" cy="971.6" r="3.4"/><circle cx="180.0" cy="963.2" r="3.4"/><circle cx="111.6" cy="989.7" r="3.4"/><circle cx="121.2" cy="1004.0" r="3.4"/><circle cx="124.6" cy="996.8" r="3.4"/><circle cx="150.7" cy="970.4" r="3.4"/><circle cx="109.3" cy="1034.4" r="3.4"/><circle cx="102.3" cy="1016.0" r="3.4"/><circle cx="119.3" cy="1032.5" r="3.4"/><circle cx="109.7" cy="1067.0" r="3.4"/><circle cx="136.7" cy="1009.9" r="3.4"/><circle cx="93.8" cy="1041.4" r="3.4"/><circle cx="102.9" cy="1014.3" r="3.4"/><circle cx="121.1" cy="1014.5" r="3.4"/><circle cx="118.9" cy="986.8" r="3.4"/><circle cx="126.3" cy="997.3" r="3.4"/><circle cx="157.9" cy="1022.5" r="3.4"/><circle cx="102.8" cy="1024.6" r="3.4"/><circle cx="150.1" cy="1002.2" r="3.4"/><circle cx="102.1" cy="1039.1" r="3.4"/><circle cx="100.0" cy="1023.2" r="3.4"/><circle cx="135.6" cy="1025.2" r="3.4"/><circle cx="102.6" cy="986.9" r="3.4"/><circle cx="146.8" cy="1033.9" r="3.4"/><circle cx="134.6" cy="1004.7" r="3.4"/><circle cx="156.8" cy="996.0" r="3.4"/><circle cx="98.1" cy="1031.8" r="3.4"/><circle cx="102.5" cy="1051.4" r="3.4"/><circle cx="115.0" cy="995.6" r="3.4"/><circle cx="142.3" cy="996.0" r="3.4"/><circle cx="163.7" cy="964.5" r="3.4"/><circle cx="144.4" cy="968.4" r="3.4"/><circle cx="111.1" cy="1003.8" r="3.4"/><circle cx="128.4" cy="1012.7" r="3.4"/><circle cx="119.6" cy="1000.5" r="3.4"/><circle cx="110.1" cy="1004.9" r="3.4"/><circle cx="133.5" cy="1035.0" r="3.4"/><circle cx="115.2" cy="983.8" r="3.4"/><circle cx="148.0" cy="995.5" r="3.4"/><circle cx="114.5" cy="995.9" r="3.4"/><circle cx="124.9" cy="1027.1" r="3.4"/><circle cx="111.2" cy="1050.6" r="3.4"/><circle cx="111.2" cy="1012.1" r="3.4"/><circle cx="137.9" cy="1024.5" r="3.4"/><circle cx="93.0" cy="1039.0" r="3.4"/><circle cx="150.9" cy="1024.6" r="3.4"/><circle cx="154.6" cy="969.6" r="3.4"/><circle cx="160.7" cy="948.0" r="3.4"/><circle cx="143.4" cy="986.3" r="3.4"/><circle cx="152.2" cy="999.3" r="3.4"/><circle cx="134.7" cy="979.2" r="3.4"/><circle cx="147.0" cy="980.7" r="3.4"/><circle cx="107.7" cy="1004.2" r="3.4"/><circle cx="157.8" cy="1001.6" r="3.4"/><circle cx="100.8" cy="992.5" r="3.4"/><circle cx="115.2" cy="1018.6" r="3.4"/><circle cx="147.3" cy="994.2" r="3.4"/><circle cx="125.1" cy="1023.4" r="3.4"/><circle cx="116.7" cy="962.4" r="3.4"/><circle cx="112.0" cy="1054.9" r="3.4"/><circle cx="128.8" cy="1046.0" r="3.4"/><circle cx="108.7" cy="996.2" r="3.4"/><circle cx="112.3" cy="1012.8" r="3.4"/><circle cx="143.3" cy="996.4" r="3.4"/><circle cx="115.3" cy="1032.6" r="3.4"/><circle cx="92.4" cy="1014.3" r="3.4"/><circle cx="140.4" cy="1014.8" r="3.4"/><circle cx="104.2" cy="1026.8" r="3.4"/><circle cx="97.8" cy="995.3" r="3.4"/><circle cx="112.2" cy="1015.1" r="3.4"/><circle cx="140.2" cy="1036.9" r="3.4"/><circle cx="155.0" cy="1005.0" r="3.4"/><circle cx="118.3" cy="993.7" r="3.4"/><circle cx="130.3" cy="1040.8" r="3.4"/><circle cx="137.8" cy="1053.5" r="3.4"/><circle cx="150.8" cy="1018.7" r="3.4"/><circle cx="149.2" cy="986.1" r="3.4"/><circle cx="130.2" cy="981.8" r="3.4"/><circle cx="106.5" cy="1034.7" r="3.4"/><circle cx="120.9" cy="1037.8" r="3.4"/><circle cx="129.5" cy="1044.2" r="3.4"/><circle cx="104.1" cy="1030.5" r="3.4"/><circle cx="155.2" cy="1002.9" r="3.4"/><circle cx="134.4" cy="1043.0" r="3.4"/><circle cx="125.0" cy="1017.4" r="3.4"/><circle cx="92.2" cy="1006.9" r="3.4"/><circle cx="98.0" cy="987.0" r="3.4"/><circle cx="92.1" cy="1060.0" r="3.4"/><circle cx="94.9" cy="1017.0" r="3.4"/><circle cx="94.6" cy="1032.5" r="3.4"/><circle cx="94.4" cy="1020.0" r="3.4"/><circle cx="99.0" cy="1006.5" r="3.4"/><circle cx="93.2" cy="1029.9" r="3.4"/><circle cx="97.3" cy="990.8" r="3.4"/><circle cx="93.4" cy="1011.5" r="3.4"/><circle cx="95.8" cy="1032.0" r="3.4"/><circle cx="92.0" cy="1066.7" r="3.4"/><circle cx="91.9" cy="1056.4" r="3.4"/><circle cx="102.0" cy="1000.6" r="3.4"/><circle cx="95.0" cy="1000.6" r="3.4"/><circle cx="99.8" cy="1028.9" r="3.4"/><circle cx="95.8" cy="999.1" r="3.4"/><circle cx="96.0" cy="1018.7" r="3.4"/><circle cx="92.3" cy="1051.4" r="3.4"/><circle cx="94.3" cy="1005.5" r="3.4"/><circle cx="92.4" cy="1010.5" r="3.4"/><circle cx="101.3" cy="1020.4" r="3.4"/><circle cx="93.9" cy="996.1" r="3.4"/><circle cx="101.0" cy="1040.1" r="3.4"/><circle cx="97.3" cy="1019.5" r="3.4"/><circle cx="99.0" cy="1020.6" r="3.4"/><circle cx="97.5" cy="986.5" r="3.4"/><circle cx="96.1" cy="1031.6" r="3.4"/><circle cx="96.3" cy="1031.9" r="3.4"/><circle cx="141.0" cy="1068.3" r="3.4"/><circle cx="96.9" cy="1066.6" r="3.4"/><circle cx="124.7" cy="1054.6" r="3.4"/><circle cx="129.3" cy="1051.4" r="3.4"/><circle cx="108.4" cy="1062.1" r="3.4"/><circle cx="119.6" cy="1050.2" r="3.4"/><circle cx="98.4" cy="1067.6" r="3.4"/><circle cx="109.5" cy="1079.5" r="3.4"/><circle cx="115.7" cy="1077.1" r="3.4"/><circle cx="123.5" cy="1048.9" r="3.4"/><circle cx="95.7" cy="1076.9" r="3.4"/><circle cx="104.0" cy="1081.7" r="3.4"/><circle cx="102.7" cy="1087.0" r="3.4"/><circle cx="100.2" cy="1080.7" r="3.4"/><circle cx="101.3" cy="1083.7" r="3.4"/><circle cx="100.1" cy="1068.5" r="3.4"/><circle cx="92.8" cy="1083.4" r="3.4"/><circle cx="104.3" cy="1068.8" r="3.4"/><circle cx="100.3" cy="1077.4" r="3.4"/><circle cx="101.2" cy="1077.3" r="3.4"/><circle cx="99.9" cy="1064.3" r="3.4"/><circle cx="97.8" cy="1081.4" r="3.4"/><circle cx="134.6" cy="985.1" r="3.4"/><circle cx="132.8" cy="986.2" r="3.4"/><circle cx="122.1" cy="1014.1" r="3.4"/><circle cx="141.4" cy="1001.0" r="3.4"/><circle cx="186.1" cy="946.0" r="3.4"/><circle cx="136.5" cy="1000.0" r="3.4"/><circle cx="141.4" cy="942.1" r="3.4"/><circle cx="181.7" cy="996.3" r="3.4"/><circle cx="157.7" cy="966.1" r="3.4"/><circle cx="189.7" cy="985.5" r="3.4"/><circle cx="144.9" cy="950.1" r="3.4"/><circle cx="163.2" cy="950.9" r="3.4"/><circle cx="93.1" cy="978.4" r="3.4"/><circle cx="196.1" cy="915.2" r="3.4"/><circle cx="142.3" cy="994.2" r="3.4"/><circle cx="159.7" cy="972.3" r="3.4"/><circle cx="138.7" cy="990.3" r="3.4"/><circle cx="157.2" cy="987.4" r="3.4"/><circle cx="134.8" cy="956.5" r="3.4"/><circle cx="94.0" cy="998.8" r="3.4"/><circle cx="111.7" cy="989.4" r="3.4"/><circle cx="174.6" cy="946.4" r="3.4"/><circle cx="173.8" cy="954.4" r="3.4"/><circle cx="117.4" cy="977.9" r="3.4"/><circle cx="108.0" cy="1018.8" r="3.4"/><circle cx="175.5" cy="942.5" r="3.4"/><circle cx="147.9" cy="973.4" r="3.4"/><circle cx="163.3" cy="998.5" r="3.4"/><circle cx="151.0" cy="944.8" r="3.4"/><circle cx="132.5" cy="994.4" r="3.4"/><circle cx="226.0" cy="906.8" r="3.4"/><circle cx="248.3" cy="980.9" r="3.4"/><circle cx="263.2" cy="994.4" r="3.4"/><circle cx="266.9" cy="984.3" r="3.4"/><circle cx="259.5" cy="890.0" r="3.4"/><circle cx="270.7" cy="886.6" r="3.4"/><circle cx="304.2" cy="881.5" r="3.4"/><circle cx="311.6" cy="879.9" r="3.4"/><circle cx="274.4" cy="916.9" r="3.4"/><circle cx="132.9" cy="893.3" r="3.4"/><circle cx="118.1" cy="903.4" r="3.4"/><circle cx="140.4" cy="911.9" r="3.4"/><circle cx="162.7" cy="922.0" r="3.4"/><circle cx="196.2" cy="940.5" r="3.4"/><circle cx="207.4" cy="954.0" r="3.4"/></g>
<rect x="77.7" y="809.3" width="400.7" height="363.2" fill="none" stroke="#000" stroke-width="2.7"/>
<path d="M92.0 1172.5v9.3M77.7 1159.4h-9.3M166.4 1172.5v9.3M77.7 1092.0h-9.3M240.9 1172.5v9.3M77.7 1024.7h-9.3M315.3 1172.5v9.3M77.7 957.3h-9.3M389.8 1172.5v9.3M77.7 890.0h-9.3M464.2 1172.5v9.3M77.7 822.6h-9.3" stroke="#000" stroke-width="2.6" fill="none"/>
<g font-size="28">
<text x="92.0" y="1202.6" text-anchor="middle">0</text>
<text x="46.9" y="1170.3" text-anchor="middle">0</text>
<text x="166.4" y="1202.6" text-anchor="middle">20</text>
<text x="46.9" y="1102.9" text-anchor="middle">20</text>
<text x="240.9" y="1202.6" text-anchor="middle">40</text>
<text x="46.9" y="1035.6" text-anchor="middle">40</text>
<text x="315.3" y="1202.6" text-anchor="middle">60</text>
<text x="46.9" y="968.2" text-anchor="middle">60</text>
<text x="389.8" y="1202.6" text-anchor="middle">80</text>
<text x="46.9" y="900.9" text-anchor="middle">80</text>
<text x="464.2" y="1202.6" text-anchor="middle">100</text>
<text x="46.9" y="833.5" text-anchor="middle">100</text>
</g>
<text x="278.1" y="1235" font-size="35" text-anchor="middle">Matched normal</text>
<text transform="translate(24.8 990.9) rotate(-90)" font-size="35" text-anchor="middle">AAH</text>
<text x="278.1" y="789.8" font-size="37.9" font-weight="bold" fill="#0000CD" text-anchor="middle">Pearson's r = 0.8853</text>
</g>
<g id="b1">
<g transform="translate(500.1 0)"><rect x="87.9" y="818.2" width="379.1" height="345.7" fill="#F8F8FF"/><g clip-path="url(#bclip)"><rect x="340.2" y="828.6" width="11" height="11" fill="#E9D6FB" opacity="0.58"/><rect x="144.9" y="916.6" width="12" height="12" fill="#E9D6FB" opacity="0.42"/><rect x="414.7" y="1067.9" width="10" height="10" fill="#E9D6FB" opacity="0.41"/><rect x="126.1" y="940.2" width="10" height="10" fill="#E9D6FB" opacity="0.33"/><rect x="231.2" y="1119.5" width="11" height="11" fill="#E9D6FB" opacity="0.32"/><rect x="243.7" y="850.4" width="10" height="10" fill="#E9D6FB" opacity="0.53"/><rect x="446.8" y="1018.3" width="9" height="9" fill="#E9D6FB" opacity="0.58"/><rect x="230.9" y="926.3" width="10" height="10" fill="#E9D6FB" opacity="0.44"/><rect x="296.8" y="881.8" width="11" height="11" fill="#E9D6FB" opacity="0.61"/><rect x="245.6" y="912.2" width="9" height="9" fill="#E9D6FB" opacity="0.34"/><rect x="115.5" y="1045.7" width="12" height="12" fill="#E9D6FB" opacity="0.57"/><rect x="262.1" y="836.0" width="10" height="10" fill="#E9D6FB" opacity="0.28"/><rect x="373.5" y="1120.6" width="11" height="11" fill="#E9D6FB" opacity="0.60"/><rect x="234.1" y="1104.2" width="10" height="10" fill="#E9D6FB" opacity="0.49"/><rect x="302.7" y="1093.5" width="10" height="10" fill="#E9D6FB" opacity="0.43"/><rect x="193.9" y="914.6" width="9" height="9" fill="#E9D6FB" opacity="0.47"/><rect x="232.4" y="819.0" width="14" height="14" fill="#E9D6FB" opacity="0.39"/><rect x="210.9" y="879.6" width="12" height="12" fill="#E9D6FB" opacity="0.51"/><rect x="239.2" y="870.9" width="11" height="11" fill="#E9D6FB" opacity="0.26"/><rect x="148.3" y="914.5" width="12" height="12" fill="#E9D6FB" opacity="0.53"/><rect x="251.5" y="852.6" width="14" height="14" fill="#E9D6FB" opacity="0.32"/><rect x="267.9" y="902.5" width="9" height="9" fill="#E9D6FB" opacity="0.62"/><rect x="428.4" y="923.0" width="14" height="14" fill="#E9D6FB" opacity="0.69"/><rect x="93.5" y="953.9" width="12" height="12" fill="#E9D6FB" opacity="0.45"/><rect x="237.6" y="869.6" width="14" height="14" fill="#E9D6FB" opacity="0.49"/><rect x="442.8" y="921.6" width="14" height="14" fill="#E9D6FB" opacity="0.68"/><rect x="310.3" y="1072.5" width="12" height="12" fill="#E9D6FB" opacity="0.40"/><rect x="262.3" y="909.7" width="11" height="11" fill="#E9D6FB" opacity="0.46"/><rect x="289.6" y="1122.2" width="9" height="9" fill="#E9D6FB" opacity="0.48"/><rect x="248.1" y="868.3" width="12" height="12" fill="#E9D6FB" opacity="0.43"/><rect x="443.2" y="1013.2" width="11" height="11" fill="#E9D6FB" opacity="0.60"/><rect x="411.5" y="995.1" width="11" height="11" fill="#E9D6FB" opacity="0.40"/><rect x="352.6" y="1021.3" width="11" height="11" fill="#E9D6FB" opacity="0.59"/><rect x="105.9" y="995.7" width="9" height="9" fill="#E9D6FB" opacity="0.56"/><rect x="255.5" y="1151.0" width="14" height="14" fill="#E9D6FB" opacity="0.50"/><rect x="324.7" y="1114.0" width="9" height="9" fill="#E9D6FB" opacity="0.43"/><rect x="198.6" y="877.5" width="10" height="10" fill="#E9D6FB" opacity="0.45"/><rect x="124.1" y="923.8" width="10" height="10" fill="#E9D6FB" opacity="0.33"/><rect x="456.1" y="1028.4" width="11" height="11" fill="#E9D6FB" opacity="0.58"/><rect x="123.4" y="978.8" width="10" height="10" fill="#E9D6FB" opacity="0.54"/><rect x="245.0" y="1127.9" width="14" height="14" fill="#E9D6FB" opacity="0.62"/><rect x="396.4" y="1103.9" width="14" height="14" fill="#E9D6FB" opacity="0.61"/><rect x="441.3" y="927.5" width="9" height="9" fill="#E9D6FB" opacity="0.61"/><rect x="184.8" y="890.3" width="14" height="14" fill="#E9D6FB" opacity="0.55"/><rect x="338.4" y="1147.1" width="10" height="10" fill="#E9D6FB" opacity="0.30"/><rect x="127.0" y="880.2" width="14" height="14" fill="#E9D6FB" opacity="0.43"/><rect x="273.2" y="878.3" width="9" height="9" fill="#E9D6FB" opacity="0.29"/><rect x="162.2" y="887.0" width="11" height="11" fill="#E9D6FB" opacity="0.37"/><rect x="101.4" y="958.4" width="11" height="11" fill="#E9D6FB" opacity="0.61"/><rect x="198.9" y="941.0" width="9" height="9" fill="#E9D6FB" opacity="0.40"/><rect x="257.1" y="1100.8" width="14" height="14" fill="#E9D6FB" opacity="0.45"/><rect x="334.4" y="1127.0" width="11" height="11" fill="#E9D6FB" opacity="0.36"/><rect x="395.7" y="967.9" width="12" height="12" fill="#E9D6FB" opacity="0.50"/><rect x="107.2" y="987.3" width="9" height="9" fill="#E9D6FB" opacity="0.63"/><rect x="345.6" y="1050.2" width="9" height="9" fill="#E9D6FB" opacity="0.45"/><rect x="339.8" y="1021.6" width="12" height="12" fill="#E9D6FB" opacity="0.34"/><rect x="95.8" y="948.7" width="10" height="10" fill="#E9D6FB" opacity="0.39"/><rect x="423.6" y="982.7" width="12" height="12" fill="#E9D6FB" opacity="0.35"/><g transform="translate(92.0 1159.4) rotate(-42.14)"><rect x="-40" y="-122" width="600" height="244" fill="url(#bband)" opacity="0.8" mask="url(#bm)"/><ellipse cx="40" cy="0" rx="280" ry="88" fill="url(#bg1)"/><ellipse cx="508" cy="0" rx="105" ry="52" fill="url(#bg4)" opacity="0.95"/><ellipse cx="22" cy="0" rx="145" ry="74" fill="url(#bg2)"/><ellipse cx="12" cy="0" rx="96" ry="64" fill="url(#bg5)"/><ellipse cx="8" cy="0" rx="56" ry="32" fill="url(#bg3)"/></g><circle cx="93.2" cy="1158.2" r="15" fill="url(#bhot)"/></g></g>
<path d="M728.2 1105.6h2.3v2.3h-2.3zM664.4 985.3h2.3v2.3h-2.3zM648.9 1008.9h2.3v2.3h-2.3zM696.5 919.7h2.3v2.3h-2.3zM683.9 894.6h2.3v2.3h-2.3zM615.6 932.3h2.3v2.3h-2.3zM666.6 888.9h2.3v2.3h-2.3zM676.6 1011.2h2.3v2.3h-2.3zM953.7 1036.4h2.3v2.3h-2.3zM747.0 888.1h2.3v2.3h-2.3zM607.3 1013.1h2.3v2.3h-2.3zM861.7 1114.3h2.3v2.3h-2.3zM750.4 869.3h2.3v2.3h-2.3zM810.6 846.0h2.3v2.3h-2.3zM848.5 840.0h2.3v2.3h-2.3zM726.3 967.1h2.3v2.3h-2.3zM796.6 1102.3h2.3v2.3h-2.3zM940.6 980.8h2.3v2.3h-2.3zM881.6 1080.7h2.3v2.3h-2.3zM875.2 1106.9h2.3v2.3h-2.3zM722.0 1131.9h2.3v2.3h-2.3zM768.8 878.2h2.3v2.3h-2.3zM678.8 903.2h2.3v2.3h-2.3zM777.8 836.1h2.3v2.3h-2.3zM904.9 967.8h2.3v2.3h-2.3zM881.1 1058.6h2.3v2.3h-2.3zM755.7 909.5h2.3v2.3h-2.3zM637.0 927.1h2.3v2.3h-2.3zM825.9 868.7h2.3v2.3h-2.3zM667.8 884.5h2.3v2.3h-2.3zM918.1 986.3h2.3v2.3h-2.3zM735.3 874.6h2.3v2.3h-2.3zM783.1 1056.8h2.3v2.3h-2.3zM940.6 1003.6h2.3v2.3h-2.3zM701.2 906.7h2.3v2.3h-2.3zM835.3 1014.5h2.3v2.3h-2.3zM864.8 835.5h2.3v2.3h-2.3zM764.9 878.8h2.3v2.3h-2.3zM781.9 879.8h2.3v2.3h-2.3zM837.8 862.4h2.3v2.3h-2.3zM962.4 1007.5h2.3v2.3h-2.3zM743.8 877.5h2.3v2.3h-2.3zM626.7 1045.6h2.3v2.3h-2.3zM871.8 1049.1h2.3v2.3h-2.3zM765.2 879.5h2.3v2.3h-2.3zM773.6 843.6h2.3v2.3h-2.3zM688.3 919.0h2.3v2.3h-2.3zM763.2 1147.8h2.3v2.3h-2.3zM927.5 1013.3h2.3v2.3h-2.3zM644.5 905.4h2.3v2.3h-2.3zM709.7 863.7h2.3v2.3h-2.3zM728.0 1123.0h2.3v2.3h-2.3zM695.4 983.2h2.3v2.3h-2.3zM945.7 990.2h2.3v2.3h-2.3zM876.9 999.3h2.3v2.3h-2.3zM946.6 944.2h2.3v2.3h-2.3zM790.7 821.8h2.3v2.3h-2.3zM786.2 1095.8h2.3v2.3h-2.3zM894.8 1049.5h2.3v2.3h-2.3zM928.8 1043.5h2.3v2.3h-2.3zM722.6 821.6h2.3v2.3h-2.3zM814.1 1075.4h2.3v2.3h-2.3zM761.6 1096.1h2.3v2.3h-2.3zM818.3 1075.3h2.3v2.3h-2.3zM836.8 1003.8h2.3v2.3h-2.3zM742.4 1142.8h2.3v2.3h-2.3zM917.5 945.1h2.3v2.3h-2.3zM768.2 847.9h2.3v2.3h-2.3zM666.9 986.8h2.3v2.3h-2.3zM896.7 1069.2h2.3v2.3h-2.3zM847.2 1142.5h2.3v2.3h-2.3zM621.7 1025.3h2.3v2.3h-2.3zM919.4 951.6h2.3v2.3h-2.3zM707.6 945.9h2.3v2.3h-2.3zM856.7 1124.3h2.3v2.3h-2.3zM907.2 1063.3h2.3v2.3h-2.3zM871.3 1034.9h2.3v2.3h-2.3zM663.5 985.1h2.3v2.3h-2.3zM650.9 998.7h2.3v2.3h-2.3zM663.8 983.3h2.3v2.3h-2.3zM614.5 1057.4h2.3v2.3h-2.3zM677.2 911.6h2.3v2.3h-2.3zM713.5 859.5h2.3v2.3h-2.3zM609.6 932.4h2.3v2.3h-2.3zM931.4 919.2h2.3v2.3h-2.3zM837.4 865.7h2.3v2.3h-2.3zM962.0 934.9h2.3v2.3h-2.3zM758.1 856.8h2.3v2.3h-2.3zM958.7 1040.3h2.3v2.3h-2.3zM836.3 1115.4h2.3v2.3h-2.3zM680.4 923.4h2.3v2.3h-2.3zM707.4 897.2h2.3v2.3h-2.3zM592.2 1063.5h2.3v2.3h-2.3zM767.0 1103.6h2.3v2.3h-2.3zM769.4 1070.1h2.3v2.3h-2.3zM921.3 1074.7h2.3v2.3h-2.3zM883.1 1108.9h2.3v2.3h-2.3zM648.2 952.3h2.3v2.3h-2.3zM729.1 849.6h2.3v2.3h-2.3zM928.5 940.6h2.3v2.3h-2.3zM840.9 831.9h2.3v2.3h-2.3zM956.4 1015.5h2.3v2.3h-2.3zM599.2 991.2h2.3v2.3h-2.3zM700.9 885.7h2.3v2.3h-2.3zM734.4 914.3h2.3v2.3h-2.3zM934.2 1044.7h2.3v2.3h-2.3zM923.6 987.3h2.3v2.3h-2.3zM669.1 932.3h2.3v2.3h-2.3zM919.9 1064.5h2.3v2.3h-2.3zM894.5 1001.2h2.3v2.3h-2.3z" fill="#000"/>
<clipPath id="bbx1"><rect x="577.8" y="809.3" width="400.7" height="363.2"/></clipPath>
<g clip-path="url(#bbx1)"><path d="M577.8 1172.5L978.5 809.9M577.8 1092.9L891.2 809.3" stroke="#000" stroke-width="4.9" stroke-dasharray="15.3 24.6" stroke-linecap="round" fill="none"/><path d="M663.9 1172.5L978.5 887.8" stroke="#000" stroke-width="4.9" stroke-dasharray="15.3 24.6" stroke-dashoffset="-16" stroke-linecap="round" fill="none"/></g>
<g fill="#EE2A32" fill-opacity="0.55"><circle cx="653.7" cy="1014.5" r="3.4"/><circle cx="695.0" cy="1040.9" r="3.4"/><circle cx="672.7" cy="922.7" r="3.4"/><circle cx="674.0" cy="1020.5" r="3.4"/><circle cx="639.1" cy="1026.1" r="3.4"/><circle cx="676.4" cy="1043.9" r="3.4"/><circle cx="705.9" cy="970.7" r="3.4"/><circle cx="645.8" cy="1071.0" r="3.4"/><circle cx="630.4" cy="977.1" r="3.4"/><circle cx="735.1" cy="965.8" r="3.4"/><circle cx="702.5" cy="929.4" r="3.4"/><circle cx="639.4" cy="1051.8" r="3.4"/><circle cx="651.5" cy="935.5" r="3.4"/><circle cx="608.6" cy="991.9" r="3.4"/><circle cx="665.1" cy="959.0" r="3.4"/><circle cx="607.6" cy="1029.9" r="3.4"/><circle cx="641.1" cy="1003.8" r="3.4"/><circle cx="697.3" cy="991.8" r="3.4"/><circle cx="683.9" cy="960.8" r="3.4"/><circle cx="660.8" cy="1021.3" r="3.4"/><circle cx="718.8" cy="958.9" r="3.4"/><circle cx="637.5" cy="1006.1" r="3.4"/><circle cx="617.0" cy="1022.2" r="3.4"/><circle cx="661.5" cy="997.4" r="3.4"/><circle cx="653.2" cy="994.8" r="3.4"/><circle cx="614.6" cy="1051.3" r="3.4"/><circle cx="685.4" cy="952.0" r="3.4"/><circle cx="655.2" cy="1010.5" r="3.4"/><circle cx="644.8" cy="993.1" r="3.4"/><circle cx="669.9" cy="923.7" r="3.4"/><circle cx="633.0" cy="1001.6" r="3.4"/><circle cx="625.1" cy="977.7" r="3.4"/><circle cx="661.7" cy="1003.0" r="3.4"/><circle cx="631.0" cy="1062.6" r="3.4"/><circle cx="605.5" cy="1017.1" r="3.4"/><circle cx="602.3" cy="1061.9" r="3.4"/><circle cx="669.3" cy="1061.9" r="3.4"/><circle cx="663.4" cy="1000.6" r="3.4"/><circle cx="626.5" cy="960.0" r="3.4"/><circle cx="665.8" cy="1019.0" r="3.4"/><circle cx="723.8" cy="977.1" r="3.4"/><circle cx="652.5" cy="992.0" r="3.4"/><circle cx="668.5" cy="929.6" r="3.4"/><circle cx="672.5" cy="1002.0" r="3.4"/><circle cx="669.5" cy="999.8" r="3.4"/><circle cx="597.2" cy="1055.5" r="3.4"/><circle cx="633.3" cy="1034.5" r="3.4"/><circle cx="687.0" cy="923.8" r="3.4"/><circle cx="678.1" cy="1022.9" r="3.4"/><circle cx="648.7" cy="1074.9" r="3.4"/><circle cx="657.5" cy="981.4" r="3.4"/><circle cx="667.3" cy="1047.9" r="3.4"/><circle cx="620.9" cy="1029.8" r="3.4"/><circle cx="659.1" cy="978.5" r="3.4"/><circle cx="633.9" cy="1056.6" r="3.4"/><circle cx="615.6" cy="1041.5" r="3.4"/><circle cx="747.0" cy="960.8" r="3.4"/><circle cx="621.9" cy="1028.2" r="3.4"/><circle cx="649.6" cy="1033.6" r="3.4"/><circle cx="674.4" cy="907.0" r="3.4"/><circle cx="641.5" cy="1063.0" r="3.4"/><circle cx="681.0" cy="1062.4" r="3.4"/><circle cx="675.1" cy="1025.7" r="3.4"/><circle cx="639.4" cy="993.1" r="3.4"/><circle cx="622.2" cy="1046.9" r="3.4"/><circle cx="682.7" cy="991.1" r="3.4"/><circle cx="644.9" cy="1012.3" r="3.4"/><circle cx="657.2" cy="932.4" r="3.4"/><circle cx="621.5" cy="1048.7" r="3.4"/><circle cx="631.4" cy="1052.6" r="3.4"/><circle cx="592.3" cy="1075.0" r="3.4"/><circle cx="603.3" cy="1044.6" r="3.4"/><circle cx="633.0" cy="1042.2" r="3.4"/><circle cx="662.5" cy="1031.3" r="3.4"/><circle cx="644.2" cy="1000.5" r="3.4"/><circle cx="615.3" cy="1030.6" r="3.4"/><circle cx="615.1" cy="1031.0" r="3.4"/><circle cx="654.3" cy="1021.7" r="3.4"/><circle cx="645.8" cy="1048.3" r="3.4"/><circle cx="675.6" cy="1089.8" r="3.4"/><circle cx="628.3" cy="1024.1" r="3.4"/><circle cx="653.7" cy="993.1" r="3.4"/><circle cx="679.4" cy="945.3" r="3.4"/><circle cx="639.5" cy="1028.1" r="3.4"/><circle cx="687.5" cy="961.8" r="3.4"/><circle cx="656.7" cy="990.5" r="3.4"/><circle cx="717.1" cy="1009.0" r="3.4"/><circle cx="656.0" cy="1024.5" r="3.4"/><circle cx="592.3" cy="1017.7" r="3.4"/><circle cx="703.2" cy="982.1" r="3.4"/><circle cx="619.7" cy="1047.3" r="3.4"/><circle cx="621.6" cy="1056.0" r="3.4"/><circle cx="624.1" cy="1004.2" r="3.4"/><circle cx="673.4" cy="966.0" r="3.4"/><circle cx="659.6" cy="1013.7" r="3.4"/><circle cx="698.7" cy="948.0" r="3.4"/><circle cx="661.4" cy="1030.1" r="3.4"/><circle cx="681.0" cy="1027.5" r="3.4"/><circle cx="635.6" cy="1020.6" r="3.4"/><circle cx="667.7" cy="951.6" r="3.4"/><circle cx="679.4" cy="924.8" r="3.4"/><circle cx="671.5" cy="934.0" r="3.4"/><circle cx="618.7" cy="1071.5" r="3.4"/><circle cx="639.0" cy="1022.2" r="3.4"/><circle cx="636.3" cy="1047.8" r="3.4"/><circle cx="682.4" cy="1002.9" r="3.4"/><circle cx="680.6" cy="962.0" r="3.4"/><circle cx="645.6" cy="1074.6" r="3.4"/><circle cx="724.5" cy="950.7" r="3.4"/><circle cx="623.9" cy="1027.6" r="3.4"/><circle cx="597.0" cy="998.7" r="3.4"/><circle cx="620.2" cy="1045.9" r="3.4"/><circle cx="661.1" cy="939.3" r="3.4"/><circle cx="608.1" cy="1068.7" r="3.4"/><circle cx="646.1" cy="1045.0" r="3.4"/><circle cx="644.0" cy="1034.8" r="3.4"/><circle cx="728.4" cy="929.2" r="3.4"/><circle cx="630.7" cy="1031.9" r="3.4"/><circle cx="647.6" cy="1023.8" r="3.4"/><circle cx="680.1" cy="1026.8" r="3.4"/><circle cx="675.3" cy="1053.0" r="3.4"/><circle cx="751.5" cy="928.7" r="3.4"/><circle cx="672.8" cy="1050.0" r="3.4"/><circle cx="655.7" cy="1053.3" r="3.4"/><circle cx="646.8" cy="1050.1" r="3.4"/><circle cx="614.7" cy="1036.1" r="3.4"/><circle cx="683.2" cy="1041.9" r="3.4"/><circle cx="630.1" cy="1020.2" r="3.4"/><circle cx="628.0" cy="1056.9" r="3.4"/><circle cx="678.5" cy="974.3" r="3.4"/><circle cx="618.3" cy="1040.5" r="3.4"/><circle cx="654.0" cy="1009.1" r="3.4"/><circle cx="731.9" cy="988.2" r="3.4"/><circle cx="607.1" cy="1041.4" r="3.4"/><circle cx="635.2" cy="1008.7" r="3.4"/><circle cx="658.2" cy="1023.9" r="3.4"/><circle cx="650.1" cy="1033.7" r="3.4"/><circle cx="613.1" cy="998.8" r="3.4"/><circle cx="648.1" cy="1076.1" r="3.4"/><circle cx="609.4" cy="1045.8" r="3.4"/><circle cx="726.7" cy="945.9" r="3.4"/><circle cx="592.5" cy="1027.2" r="3.4"/><circle cx="650.6" cy="996.5" r="3.4"/><circle cx="660.2" cy="997.5" r="3.4"/><circle cx="622.8" cy="1009.8" r="3.4"/><circle cx="677.7" cy="959.5" r="3.4"/><circle cx="737.5" cy="1016.1" r="3.4"/><circle cx="655.3" cy="980.3" r="3.4"/><circle cx="681.9" cy="957.6" r="3.4"/><circle cx="656.3" cy="986.9" r="3.4"/><circle cx="660.7" cy="1083.5" r="3.4"/><circle cx="641.0" cy="972.8" r="3.4"/><circle cx="592.4" cy="1057.7" r="3.4"/><circle cx="624.3" cy="1039.8" r="3.4"/><circle cx="624.1" cy="1024.1" r="3.4"/><circle cx="640.8" cy="981.6" r="3.4"/><circle cx="649.4" cy="1033.6" r="3.4"/><circle cx="655.0" cy="957.3" r="3.4"/><circle cx="608.7" cy="1081.5" r="3.4"/><circle cx="714.1" cy="1001.2" r="3.4"/><circle cx="603.7" cy="1081.5" r="3.4"/><circle cx="660.5" cy="1055.6" r="3.4"/><circle cx="676.4" cy="965.0" r="3.4"/><circle cx="659.0" cy="990.8" r="3.4"/><circle cx="610.3" cy="1054.4" r="3.4"/><circle cx="627.4" cy="1031.7" r="3.4"/><circle cx="676.6" cy="1015.5" r="3.4"/><circle cx="627.4" cy="1031.6" r="3.4"/><circle cx="702.5" cy="991.5" r="3.4"/><circle cx="665.9" cy="1054.0" r="3.4"/><circle cx="610.3" cy="1046.5" r="3.4"/><circle cx="699.1" cy="1000.0" r="3.4"/><circle cx="633.9" cy="1074.5" r="3.4"/><circle cx="652.0" cy="986.0" r="3.4"/><circle cx="691.1" cy="1002.8" r="3.4"/><circle cx="627.5" cy="991.6" r="3.4"/><circle cx="716.3" cy="993.5" r="3.4"/><circle cx="644.6" cy="1018.4" r="3.4"/><circle cx="639.9" cy="936.7" r="3.4"/><circle cx="594.0" cy="1049.9" r="3.4"/><circle cx="655.9" cy="998.8" r="3.4"/><circle cx="637.5" cy="1038.5" r="3.4"/><circle cx="624.3" cy="1089.8" r="3.4"/><circle cx="678.1" cy="1034.4" r="3.4"/><circle cx="652.6" cy="942.7" r="3.4"/><circle cx="672.6" cy="931.1" r="3.4"/><circle cx="676.3" cy="1064.7" r="3.4"/><circle cx="634.5" cy="953.4" r="3.4"/><circle cx="671.2" cy="1012.6" r="3.4"/><circle cx="621.1" cy="1042.2" r="3.4"/><circle cx="598.7" cy="1007.8" r="3.4"/><circle cx="656.1" cy="983.3" r="3.4"/><circle cx="602.6" cy="1009.7" r="3.4"/><circle cx="630.6" cy="1009.5" r="3.4"/><circle cx="673.5" cy="983.1" r="3.4"/><circle cx="753.7" cy="951.9" r="3.4"/><circle cx="698.8" cy="999.2" r="3.4"/><circle cx="673.7" cy="1040.7" r="3.4"/><circle cx="661.6" cy="992.4" r="3.4"/><circle cx="659.7" cy="952.0" r="3.4"/><circle cx="602.3" cy="1073.1" r="3.4"/><circle cx="694.3" cy="938.7" r="3.4"/><circle cx="607.5" cy="1083.4" r="3.4"/><circle cx="632.7" cy="1045.1" r="3.4"/><circle cx="720.9" cy="925.4" r="3.4"/><circle cx="633.0" cy="986.7" r="3.4"/><circle cx="598.4" cy="966.8" r="3.4"/><circle cx="708.4" cy="1013.6" r="3.4"/><circle cx="673.5" cy="1040.6" r="3.4"/><circle cx="652.5" cy="1029.1" r="3.4"/><circle cx="648.1" cy="946.4" r="3.4"/><circle cx="720.8" cy="934.1" r="3.4"/><circle cx="648.2" cy="1047.5" r="3.4"/><circle cx="698.3" cy="1040.4" r="3.4"/><circle cx="613.1" cy="996.8" r="3.4"/><circle cx="599.4" cy="1065.2" r="3.4"/><circle cx="669.0" cy="989.0" r="3.4"/><circle cx="625.9" cy="1044.0" r="3.4"/><circle cx="662.8" cy="988.1" r="3.4"/><circle cx="631.5" cy="1003.5" r="3.4"/><circle cx="685.0" cy="1012.9" r="3.4"/><circle cx="600.0" cy="1047.0" r="3.4"/><circle cx="670.1" cy="949.4" r="3.4"/><circle cx="600.9" cy="1014.7" r="3.4"/><circle cx="658.9" cy="1023.4" r="3.4"/><circle cx="648.2" cy="1019.8" r="3.4"/><circle cx="617.8" cy="1045.9" r="3.4"/><circle cx="664.5" cy="979.8" r="3.4"/><circle cx="711.8" cy="953.9" r="3.4"/><circle cx="653.8" cy="922.3" r="3.4"/><circle cx="627.7" cy="992.5" r="3.4"/><circle cx="611.5" cy="943.0" r="3.4"/><circle cx="622.2" cy="1036.4" r="3.4"/><circle cx="694.8" cy="935.0" r="3.4"/><circle cx="602.6" cy="1042.3" r="3.4"/><circle cx="651.3" cy="1024.7" r="3.4"/><circle cx="680.7" cy="1011.7" r="3.4"/><circle cx="695.0" cy="1007.4" r="3.4"/><circle cx="700.2" cy="949.1" r="3.4"/><circle cx="606.3" cy="1046.0" r="3.4"/><circle cx="626.2" cy="992.1" r="3.4"/><circle cx="608.7" cy="1077.6" r="3.4"/><circle cx="677.4" cy="987.1" r="3.4"/><circle cx="632.0" cy="1026.8" r="3.4"/><circle cx="632.4" cy="963.5" r="3.4"/><circle cx="712.8" cy="982.8" r="3.4"/><circle cx="673.6" cy="917.2" r="3.4"/><circle cx="662.0" cy="1021.4" r="3.4"/><circle cx="652.4" cy="1058.4" r="3.4"/><circle cx="686.4" cy="960.8" r="3.4"/><circle cx="603.9" cy="1033.8" r="3.4"/><circle cx="689.5" cy="1029.3" r="3.4"/><circle cx="612.0" cy="964.6" r="3.4"/><circle cx="600.9" cy="1016.6" r="3.4"/><circle cx="625.6" cy="1010.1" r="3.4"/><circle cx="631.4" cy="970.7" r="3.4"/><circle cx="675.9" cy="1007.5" r="3.4"/><circle cx="658.6" cy="961.5" r="3.4"/><circle cx="596.2" cy="1037.3" r="3.4"/><circle cx="666.3" cy="965.1" r="3.4"/><circle cx="680.6" cy="946.7" r="3.4"/><circle cx="659.7" cy="1041.2" r="3.4"/><circle cx="670.5" cy="991.6" r="3.4"/><circle cx="615.9" cy="1068.7" r="3.4"/><circle cx="648.3" cy="997.9" r="3.4"/><circle cx="659.3" cy="1068.4" r="3.4"/><circle cx="669.4" cy="1064.7" r="3.4"/><circle cx="598.0" cy="1075.1" r="3.4"/><circle cx="648.8" cy="978.1" r="3.4"/><circle cx="601.9" cy="991.7" r="3.4"/><circle cx="626.5" cy="1053.5" r="3.4"/><circle cx="681.1" cy="989.4" r="3.4"/><circle cx="611.6" cy="1059.8" r="3.4"/><circle cx="687.3" cy="932.2" r="3.4"/><circle cx="691.6" cy="966.4" r="3.4"/><circle cx="707.9" cy="1067.8" r="3.4"/><circle cx="627.9" cy="993.6" r="3.4"/><circle cx="624.9" cy="1035.6" r="3.4"/><circle cx="611.6" cy="1055.1" r="3.4"/><circle cx="665.1" cy="993.6" r="3.4"/><circle cx="636.7" cy="1002.9" r="3.4"/><circle cx="746.1" cy="926.1" r="3.4"/><circle cx="738.3" cy="956.3" r="3.4"/><circle cx="649.3" cy="1089.2" r="3.4"/><circle cx="674.7" cy="939.0" r="3.4"/><circle cx="592.2" cy="977.1" r="3.4"/><circle cx="617.7" cy="1066.8" r="3.4"/><circle cx="628.6" cy="1023.0" r="3.4"/><circle cx="661.2" cy="1046.2" r="3.4"/><circle cx="594.3" cy="1005.7" r="3.4"/><circle cx="638.1" cy="1032.7" r="3.4"/><circle cx="656.0" cy="1011.6" r="3.4"/><circle cx="652.8" cy="1063.2" r="3.4"/><circle cx="620.6" cy="1027.6" r="3.4"/><circle cx="665.1" cy="1006.6" r="3.4"/><circle cx="636.6" cy="997.6" r="3.4"/><circle cx="623.5" cy="1069.2" r="3.4"/><circle cx="617.8" cy="1050.1" r="3.4"/><circle cx="623.7" cy="1048.8" r="3.4"/><circle cx="662.5" cy="993.3" r="3.4"/><circle cx="628.5" cy="998.4" r="3.4"/><circle cx="633.5" cy="1057.3" r="3.4"/><circle cx="753.8" cy="949.2" r="3.4"/><circle cx="638.9" cy="986.9" r="3.4"/><circle cx="743.3" cy="996.2" r="3.4"/><circle cx="692.3" cy="957.6" r="3.4"/><circle cx="647.7" cy="978.9" r="3.4"/><circle cx="709.9" cy="1014.4" r="3.4"/><circle cx="617.6" cy="973.1" r="3.4"/><circle cx="607.1" cy="976.5" r="3.4"/><circle cx="721.7" cy="947.0" r="3.4"/><circle cx="635.1" cy="992.4" r="3.4"/><circle cx="624.4" cy="986.5" r="3.4"/><circle cx="647.2" cy="1011.2" r="3.4"/><circle cx="713.2" cy="941.8" r="3.4"/><circle cx="670.9" cy="983.0" r="3.4"/><circle cx="666.3" cy="990.9" r="3.4"/><circle cx="689.1" cy="977.3" r="3.4"/><circle cx="663.7" cy="1014.4" r="3.4"/><circle cx="696.7" cy="1062.1" r="3.4"/><circle cx="679.1" cy="939.9" r="3.4"/><circle cx="647.1" cy="1037.5" r="3.4"/><circle cx="630.1" cy="1043.1" r="3.4"/><circle cx="639.3" cy="1043.8" r="3.4"/><circle cx="654.2" cy="996.6" r="3.4"/><circle cx="642.7" cy="983.7" r="3.4"/><circle cx="681.0" cy="1019.6" r="3.4"/><circle cx="657.3" cy="961.3" r="3.4"/><circle cx="705.2" cy="990.9" r="3.4"/><circle cx="671.0" cy="993.4" r="3.4"/><circle cx="606.8" cy="1046.3" r="3.4"/><circle cx="684.0" cy="1031.3" r="3.4"/><circle cx="704.4" cy="984.9" r="3.4"/><circle cx="699.9" cy="992.7" r="3.4"/><circle cx="618.0" cy="968.6" r="3.4"/><circle cx="619.6" cy="1021.3" r="3.4"/><circle cx="636.2" cy="1040.0" r="3.4"/><circle cx="728.0" cy="939.7" r="3.4"/><circle cx="642.9" cy="959.6" r="3.4"/><circle cx="639.8" cy="1010.7" r="3.4"/><circle cx="643.6" cy="1023.0" r="3.4"/><circle cx="654.7" cy="1004.9" r="3.4"/><circle cx="679.6" cy="1054.5" r="3.4"/><circle cx="652.3" cy="1015.5" r="3.4"/><circle cx="725.1" cy="991.8" r="3.4"/><circle cx="741.1" cy="1008.7" r="3.4"/><circle cx="647.2" cy="1028.2" r="3.4"/><circle cx="670.4" cy="1045.5" r="3.4"/><circle cx="604.3" cy="1025.7" r="3.4"/><circle cx="673.2" cy="1011.1" r="3.4"/><circle cx="625.6" cy="1033.6" r="3.4"/><circle cx="611.8" cy="1033.5" r="3.4"/><circle cx="621.9" cy="978.6" r="3.4"/><circle cx="658.3" cy="942.0" r="3.4"/><circle cx="635.3" cy="954.9" r="3.4"/><circle cx="654.9" cy="1025.6" r="3.4"/><circle cx="609.0" cy="1039.7" r="3.4"/><circle cx="621.8" cy="1030.4" r="3.4"/><circle cx="704.9" cy="918.4" r="3.4"/><circle cx="613.3" cy="1071.5" r="3.4"/><circle cx="677.2" cy="1057.9" r="3.4"/><circle cx="651.1" cy="980.5" r="3.4"/><circle cx="660.8" cy="963.6" r="3.4"/><circle cx="638.3" cy="1008.9" r="3.4"/><circle cx="653.5" cy="988.0" r="3.4"/><circle cx="654.1" cy="1000.1" r="3.4"/><circle cx="677.2" cy="966.9" r="3.4"/><circle cx="634.1" cy="1029.2" r="3.4"/><circle cx="663.0" cy="1008.2" r="3.4"/><circle cx="633.7" cy="1047.4" r="3.4"/><circle cx="690.0" cy="950.2" r="3.4"/><circle cx="606.2" cy="1021.4" r="3.4"/><circle cx="704.5" cy="986.2" r="3.4"/><circle cx="696.2" cy="1002.9" r="3.4"/><circle cx="696.3" cy="985.5" r="3.4"/><circle cx="681.0" cy="978.4" r="3.4"/><circle cx="662.5" cy="938.8" r="3.4"/><circle cx="654.7" cy="990.9" r="3.4"/><circle cx="707.7" cy="977.4" r="3.4"/><circle cx="640.4" cy="1045.7" r="3.4"/><circle cx="642.7" cy="1027.6" r="3.4"/><circle cx="698.2" cy="1004.3" r="3.4"/><circle cx="625.8" cy="1053.7" r="3.4"/><circle cx="619.2" cy="981.3" r="3.4"/><circle cx="602.4" cy="1020.3" r="3.4"/><circle cx="636.2" cy="1017.8" r="3.4"/><circle cx="640.0" cy="1002.1" r="3.4"/><circle cx="671.7" cy="1047.5" r="3.4"/><circle cx="698.1" cy="939.6" r="3.4"/><circle cx="595.3" cy="999.0" r="3.4"/><circle cx="697.2" cy="1000.7" r="3.4"/><circle cx="596.4" cy="1083.6" r="3.4"/><circle cx="653.4" cy="987.6" r="3.4"/><circle cx="596.7" cy="999.2" r="3.4"/><circle cx="632.9" cy="1053.2" r="3.4"/><circle cx="639.1" cy="994.0" r="3.4"/><circle cx="671.9" cy="988.5" r="3.4"/><circle cx="601.4" cy="1015.4" r="3.4"/><circle cx="654.4" cy="990.1" r="3.4"/><circle cx="645.4" cy="1060.2" r="3.4"/><circle cx="607.8" cy="1077.3" r="3.4"/><circle cx="678.7" cy="1009.4" r="3.4"/><circle cx="718.7" cy="913.4" r="3.4"/><circle cx="607.7" cy="1029.1" r="3.4"/><circle cx="664.8" cy="952.9" r="3.4"/><circle cx="637.7" cy="984.0" r="3.4"/><circle cx="637.8" cy="993.9" r="3.4"/><circle cx="595.8" cy="1067.9" r="3.4"/><circle cx="673.5" cy="1059.0" r="3.4"/><circle cx="659.6" cy="975.7" r="3.4"/><circle cx="636.0" cy="1036.7" r="3.4"/><circle cx="612.6" cy="1046.4" r="3.4"/><circle cx="625.9" cy="1029.4" r="3.4"/><circle cx="601.9" cy="1007.3" r="3.4"/><circle cx="603.9" cy="1076.2" r="3.4"/><circle cx="649.5" cy="989.2" r="3.4"/><circle cx="665.7" cy="984.0" r="3.4"/><circle cx="616.3" cy="1001.2" r="3.4"/><circle cx="620.9" cy="1007.9" r="3.4"/><circle cx="619.9" cy="1033.6" r="3.4"/><circle cx="637.8" cy="1029.3" r="3.4"/><circle cx="612.2" cy="1023.5" r="3.4"/><circle cx="628.3" cy="1015.2" r="3.4"/><circle cx="656.3" cy="1011.3" r="3.4"/><circle cx="642.3" cy="994.4" r="3.4"/><circle cx="620.4" cy="1024.2" r="3.4"/><circle cx="647.7" cy="1012.4" r="3.4"/><circle cx="632.5" cy="1053.7" r="3.4"/><circle cx="656.2" cy="967.4" r="3.4"/><circle cx="681.9" cy="1013.2" r="3.4"/><circle cx="600.2" cy="1074.1" r="3.4"/><circle cx="642.0" cy="949.0" r="3.4"/><circle cx="689.8" cy="935.3" r="3.4"/><circle cx="630.6" cy="1000.2" r="3.4"/><circle cx="592.8" cy="1034.0" r="3.4"/><circle cx="626.6" cy="1056.6" r="3.4"/><circle cx="651.6" cy="993.7" r="3.4"/><circle cx="648.7" cy="1003.6" r="3.4"/><circle cx="669.4" cy="952.0" r="3.4"/><circle cx="668.2" cy="993.5" r="3.4"/><circle cx="631.7" cy="1039.6" r="3.4"/><circle cx="597.6" cy="1032.3" r="3.4"/><circle cx="638.0" cy="1053.7" r="3.4"/><circle cx="684.5" cy="1025.7" r="3.4"/><circle cx="632.2" cy="1015.4" r="3.4"/><circle cx="686.6" cy="959.1" r="3.4"/><circle cx="635.7" cy="1019.8" r="3.4"/><circle cx="662.7" cy="1005.6" r="3.4"/><circle cx="712.9" cy="1045.6" r="3.4"/><circle cx="597.9" cy="1090.8" r="3.4"/><circle cx="670.9" cy="1010.2" r="3.4"/><circle cx="644.2" cy="1008.3" r="3.4"/><circle cx="646.0" cy="979.0" r="3.4"/><circle cx="632.4" cy="1050.2" r="3.4"/><circle cx="653.8" cy="1044.2" r="3.4"/><circle cx="646.5" cy="1021.7" r="3.4"/><circle cx="598.7" cy="995.8" r="3.4"/><circle cx="628.5" cy="1041.0" r="3.4"/><circle cx="725.2" cy="1040.1" r="3.4"/><circle cx="760.6" cy="1013.0" r="3.4"/><circle cx="637.3" cy="1045.2" r="3.4"/><circle cx="652.8" cy="986.8" r="3.4"/><circle cx="640.5" cy="1016.9" r="3.4"/><circle cx="734.9" cy="996.7" r="3.4"/><circle cx="676.1" cy="1020.8" r="3.4"/><circle cx="656.9" cy="981.4" r="3.4"/><circle cx="711.4" cy="920.8" r="3.4"/><circle cx="592.8" cy="1016.2" r="3.4"/><circle cx="634.0" cy="1046.2" r="3.4"/><circle cx="598.0" cy="983.9" r="3.4"/><circle cx="676.7" cy="982.9" r="3.4"/><circle cx="682.9" cy="1007.4" r="3.4"/><circle cx="705.4" cy="992.4" r="3.4"/><circle cx="630.2" cy="964.3" r="3.4"/><circle cx="711.4" cy="977.7" r="3.4"/><circle cx="616.6" cy="1051.3" r="3.4"/><circle cx="611.0" cy="1054.8" r="3.4"/><circle cx="697.0" cy="1017.1" r="3.4"/><circle cx="653.1" cy="1008.8" r="3.4"/><circle cx="624.1" cy="1030.5" r="3.4"/><circle cx="634.8" cy="995.0" r="3.4"/><circle cx="644.9" cy="996.3" r="3.4"/><circle cx="637.0" cy="1036.1" r="3.4"/><circle cx="678.2" cy="1027.4" r="3.4"/><circle cx="661.6" cy="989.2" r="3.4"/><circle cx="608.2" cy="999.0" r="3.4"/><circle cx="674.7" cy="1000.0" r="3.4"/><circle cx="684.9" cy="998.7" r="3.4"/><circle cx="675.4" cy="1028.1" r="3.4"/><circle cx="638.2" cy="1047.7" r="3.4"/><circle cx="648.8" cy="1014.0" r="3.4"/><circle cx="653.2" cy="986.9" r="3.4"/><circle cx="666.0" cy="1041.4" r="3.4"/><circle cx="638.3" cy="1055.6" r="3.4"/><circle cx="649.1" cy="999.2" r="3.4"/><circle cx="650.6" cy="964.3" r="3.4"/><circle cx="637.7" cy="1053.2" r="3.4"/><circle cx="594.5" cy="1081.5" r="3.4"/><circle cx="659.0" cy="1031.3" r="3.4"/><circle cx="691.4" cy="1032.5" r="3.4"/><circle cx="629.4" cy="990.4" r="3.4"/><circle cx="665.7" cy="1024.4" r="3.4"/><circle cx="629.2" cy="1021.4" r="3.4"/><circle cx="652.3" cy="974.7" r="3.4"/><circle cx="617.6" cy="1003.7" r="3.4"/><circle cx="637.2" cy="1053.3" r="3.4"/><circle cx="664.9" cy="1007.8" r="3.4"/><circle cx="690.7" cy="992.9" r="3.4"/><circle cx="624.4" cy="1020.1" r="3.4"/><circle cx="626.7" cy="1041.1" r="3.4"/><circle cx="705.5" cy="1001.3" r="3.4"/><circle cx="598.1" cy="967.2" r="3.4"/><circle cx="646.3" cy="1013.8" r="3.4"/><circle cx="679.1" cy="1025.5" r="3.4"/><circle cx="659.3" cy="1018.1" r="3.4"/><circle cx="675.8" cy="991.1" r="3.4"/><circle cx="615.1" cy="1061.4" r="3.4"/><circle cx="662.1" cy="994.9" r="3.4"/><circle cx="604.5" cy="1071.7" r="3.4"/><circle cx="596.3" cy="1000.2" r="3.4"/><circle cx="598.1" cy="966.5" r="3.4"/><circle cx="659.8" cy="1035.6" r="3.4"/><circle cx="659.8" cy="973.1" r="3.4"/><circle cx="642.5" cy="1037.7" r="3.4"/><circle cx="683.9" cy="1055.2" r="3.4"/><circle cx="668.5" cy="1054.5" r="3.4"/><circle cx="613.4" cy="998.7" r="3.4"/><circle cx="680.1" cy="985.0" r="3.4"/><circle cx="677.5" cy="979.3" r="3.4"/><circle cx="631.6" cy="1021.0" r="3.4"/><circle cx="620.4" cy="967.9" r="3.4"/><circle cx="633.1" cy="1035.1" r="3.4"/><circle cx="681.1" cy="959.1" r="3.4"/><circle cx="640.9" cy="992.1" r="3.4"/><circle cx="678.5" cy="989.5" r="3.4"/><circle cx="648.2" cy="1029.3" r="3.4"/><circle cx="635.9" cy="988.0" r="3.4"/><circle cx="716.8" cy="949.0" r="3.4"/><circle cx="661.5" cy="1035.3" r="3.4"/><circle cx="693.9" cy="1013.7" r="3.4"/><circle cx="597.0" cy="1021.0" r="3.4"/><circle cx="607.8" cy="986.1" r="3.4"/><circle cx="647.1" cy="992.5" r="3.4"/><circle cx="680.0" cy="1078.9" r="3.4"/><circle cx="622.4" cy="1010.4" r="3.4"/><circle cx="630.3" cy="1064.6" r="3.4"/><circle cx="703.5" cy="931.2" r="3.4"/><circle cx="603.3" cy="967.9" r="3.4"/><circle cx="612.1" cy="1029.1" r="3.4"/><circle cx="609.5" cy="1022.1" r="3.4"/><circle cx="596.1" cy="1004.7" r="3.4"/><circle cx="647.2" cy="1008.9" r="3.4"/><circle cx="711.3" cy="1004.9" r="3.4"/><circle cx="650.0" cy="1016.8" r="3.4"/><circle cx="713.8" cy="986.3" r="3.4"/><circle cx="635.2" cy="965.2" r="3.4"/><circle cx="701.3" cy="1004.0" r="3.4"/><circle cx="594.8" cy="1017.0" r="3.4"/><circle cx="658.6" cy="994.9" r="3.4"/><circle cx="652.3" cy="953.7" r="3.4"/><circle cx="593.9" cy="1039.6" r="3.4"/><circle cx="697.9" cy="1001.0" r="3.4"/><circle cx="628.7" cy="994.1" r="3.4"/><circle cx="617.1" cy="1064.2" r="3.4"/><circle cx="681.6" cy="979.9" r="3.4"/><circle cx="608.1" cy="1032.0" r="3.4"/><circle cx="601.3" cy="1007.8" r="3.4"/><circle cx="671.2" cy="936.2" r="3.4"/><circle cx="613.5" cy="1004.6" r="3.4"/><circle cx="633.5" cy="965.2" r="3.4"/><circle cx="699.8" cy="956.1" r="3.4"/><circle cx="693.6" cy="992.9" r="3.4"/><circle cx="664.4" cy="985.0" r="3.4"/><circle cx="628.5" cy="1046.2" r="3.4"/><circle cx="635.9" cy="1033.9" r="3.4"/><circle cx="647.7" cy="981.1" r="3.4"/><circle cx="643.1" cy="965.4" r="3.4"/><circle cx="694.5" cy="972.1" r="3.4"/><circle cx="660.6" cy="962.6" r="3.4"/><circle cx="693.2" cy="969.8" r="3.4"/><circle cx="683.3" cy="992.3" r="3.4"/><circle cx="751.9" cy="952.1" r="3.4"/><circle cx="693.2" cy="942.9" r="3.4"/><circle cx="690.5" cy="967.5" r="3.4"/><circle cx="680.5" cy="949.4" r="3.4"/><circle cx="765.2" cy="963.1" r="3.4"/><circle cx="641.7" cy="986.8" r="3.4"/><circle cx="657.2" cy="1024.8" r="3.4"/><circle cx="755.5" cy="911.0" r="3.4"/><circle cx="675.0" cy="1012.8" r="3.4"/><circle cx="704.6" cy="963.7" r="3.4"/><circle cx="714.8" cy="969.8" r="3.4"/><circle cx="731.5" cy="945.3" r="3.4"/><circle cx="699.5" cy="954.4" r="3.4"/><circle cx="719.4" cy="952.9" r="3.4"/><circle cx="672.1" cy="973.5" r="3.4"/><circle cx="669.2" cy="977.1" r="3.4"/><circle cx="703.8" cy="920.7" r="3.4"/><circle cx="696.7" cy="972.6" r="3.4"/><circle cx="747.0" cy="930.7" r="3.4"/><circle cx="674.9" cy="952.1" r="3.4"/><circle cx="707.8" cy="966.1" r="3.4"/><circle cx="725.2" cy="957.1" r="3.4"/><circle cx="638.7" cy="1011.6" r="3.4"/><circle cx="700.8" cy="953.6" r="3.4"/><circle cx="670.5" cy="958.8" r="3.4"/><circle cx="683.1" cy="1000.9" r="3.4"/><circle cx="678.9" cy="994.1" r="3.4"/><circle cx="698.5" cy="974.1" r="3.4"/><circle cx="701.0" cy="980.0" r="3.4"/><circle cx="692.9" cy="981.5" r="3.4"/><circle cx="695.2" cy="974.9" r="3.4"/><circle cx="632.5" cy="1019.2" r="3.4"/><circle cx="679.6" cy="957.1" r="3.4"/><circle cx="698.8" cy="947.2" r="3.4"/><circle cx="663.0" cy="969.3" r="3.4"/><circle cx="742.0" cy="935.1" r="3.4"/><circle cx="675.6" cy="974.4" r="3.4"/><circle cx="702.0" cy="960.6" r="3.4"/><circle cx="721.4" cy="951.1" r="3.4"/><circle cx="681.7" cy="934.9" r="3.4"/><circle cx="747.3" cy="956.1" r="3.4"/><circle cx="723.1" cy="951.0" r="3.4"/><circle cx="694.5" cy="950.8" r="3.4"/><circle cx="729.8" cy="1000.8" r="3.4"/><circle cx="676.1" cy="945.6" r="3.4"/><circle cx="643.6" cy="983.7" r="3.4"/><circle cx="694.9" cy="933.2" r="3.4"/><circle cx="726.9" cy="958.9" r="3.4"/><circle cx="666.0" cy="961.0" r="3.4"/><circle cx="772.6" cy="891.3" r="3.4"/><circle cx="790.9" cy="894.0" r="3.4"/><circle cx="813.6" cy="880.5" r="3.4"/><circle cx="731.3" cy="899.7" r="3.4"/></g>
<g fill="#00C000" fill-opacity="0.5"><circle cx="851.4" cy="1089.6" r="3.4"/><circle cx="843.0" cy="1048.1" r="3.4"/><circle cx="762.5" cy="1085.3" r="3.4"/><circle cx="804.3" cy="1030.5" r="3.4"/><circle cx="791.6" cy="1115.0" r="3.4"/><circle cx="804.2" cy="1064.7" r="3.4"/><circle cx="761.5" cy="1088.6" r="3.4"/><circle cx="759.5" cy="1040.9" r="3.4"/><circle cx="789.9" cy="1125.6" r="3.4"/><circle cx="748.1" cy="1087.0" r="3.4"/><circle cx="797.1" cy="1050.4" r="3.4"/><circle cx="737.9" cy="1092.2" r="3.4"/><circle cx="752.2" cy="1083.0" r="3.4"/><circle cx="799.4" cy="1029.7" r="3.4"/><circle cx="730.6" cy="1131.2" r="3.4"/><circle cx="865.1" cy="1114.5" r="3.4"/><circle cx="757.5" cy="1113.1" r="3.4"/><circle cx="888.2" cy="1077.9" r="3.4"/><circle cx="866.0" cy="1104.9" r="3.4"/><circle cx="749.8" cy="1115.2" r="3.4"/><circle cx="769.5" cy="1041.2" r="3.4"/><circle cx="781.0" cy="1064.1" r="3.4"/><circle cx="809.3" cy="1139.3" r="3.4"/><circle cx="823.0" cy="1049.5" r="3.4"/><circle cx="840.7" cy="1117.5" r="3.4"/><circle cx="796.9" cy="1085.5" r="3.4"/><circle cx="858.3" cy="1036.7" r="3.4"/><circle cx="823.9" cy="1106.4" r="3.4"/><circle cx="847.0" cy="1105.8" r="3.4"/><circle cx="778.0" cy="1052.3" r="3.4"/><circle cx="883.3" cy="1105.8" r="3.4"/><circle cx="861.8" cy="1048.9" r="3.4"/><circle cx="764.6" cy="1095.7" r="3.4"/><circle cx="777.2" cy="1056.4" r="3.4"/><circle cx="742.2" cy="1070.0" r="3.4"/><circle cx="904.9" cy="995.8" r="3.4"/><circle cx="810.7" cy="1091.9" r="3.4"/><circle cx="752.1" cy="1113.8" r="3.4"/><circle cx="761.9" cy="1083.6" r="3.4"/><circle cx="836.2" cy="1063.9" r="3.4"/><circle cx="820.0" cy="1077.5" r="3.4"/><circle cx="773.1" cy="1118.8" r="3.4"/><circle cx="808.5" cy="1072.6" r="3.4"/><circle cx="766.4" cy="1094.7" r="3.4"/><circle cx="845.0" cy="1153.1" r="3.4"/><circle cx="770.3" cy="1075.7" r="3.4"/><circle cx="766.5" cy="1121.1" r="3.4"/><circle cx="856.3" cy="1100.2" r="3.4"/><circle cx="852.4" cy="1055.8" r="3.4"/><circle cx="818.4" cy="1092.0" r="3.4"/><circle cx="812.2" cy="1055.1" r="3.4"/><circle cx="862.2" cy="1082.7" r="3.4"/><circle cx="796.4" cy="1106.3" r="3.4"/><circle cx="749.2" cy="1077.4" r="3.4"/><circle cx="857.8" cy="1064.5" r="3.4"/><circle cx="888.6" cy="1086.7" r="3.4"/><circle cx="778.7" cy="1076.3" r="3.4"/><circle cx="849.3" cy="1121.4" r="3.4"/><circle cx="902.6" cy="985.2" r="3.4"/><circle cx="767.5" cy="1120.7" r="3.4"/><circle cx="803.2" cy="1064.8" r="3.4"/><circle cx="782.2" cy="1065.7" r="3.4"/><circle cx="746.3" cy="1123.5" r="3.4"/><circle cx="881.3" cy="1039.6" r="3.4"/><circle cx="831.0" cy="1096.3" r="3.4"/><circle cx="890.9" cy="1074.0" r="3.4"/><circle cx="793.7" cy="1107.0" r="3.4"/><circle cx="795.2" cy="1007.4" r="3.4"/><circle cx="696.6" cy="1140.4" r="3.4"/><circle cx="798.5" cy="1107.1" r="3.4"/><circle cx="809.9" cy="1066.2" r="3.4"/><circle cx="812.4" cy="1056.4" r="3.4"/><circle cx="790.6" cy="1097.2" r="3.4"/><circle cx="895.5" cy="1043.3" r="3.4"/><circle cx="735.3" cy="1131.5" r="3.4"/><circle cx="817.8" cy="1002.4" r="3.4"/><circle cx="782.4" cy="1082.7" r="3.4"/><circle cx="719.9" cy="1123.7" r="3.4"/><circle cx="810.1" cy="1089.5" r="3.4"/><circle cx="801.1" cy="1060.0" r="3.4"/><circle cx="841.0" cy="1068.2" r="3.4"/><circle cx="793.0" cy="1139.5" r="3.4"/><circle cx="752.2" cy="1121.5" r="3.4"/><circle cx="761.8" cy="1104.3" r="3.4"/><circle cx="693.7" cy="1147.1" r="3.4"/><circle cx="737.2" cy="1116.8" r="3.4"/><circle cx="785.9" cy="1129.5" r="3.4"/><circle cx="730.7" cy="1096.8" r="3.4"/><circle cx="748.2" cy="1080.3" r="3.4"/><circle cx="764.5" cy="1089.7" r="3.4"/><circle cx="819.0" cy="1087.0" r="3.4"/><circle cx="779.0" cy="1130.8" r="3.4"/><circle cx="845.7" cy="1103.1" r="3.4"/><circle cx="804.6" cy="1092.5" r="3.4"/><circle cx="822.6" cy="1074.5" r="3.4"/><circle cx="752.1" cy="1061.6" r="3.4"/><circle cx="769.7" cy="1120.8" r="3.4"/><circle cx="828.3" cy="1090.0" r="3.4"/><circle cx="721.8" cy="1155.5" r="3.4"/><circle cx="795.2" cy="1109.6" r="3.4"/><circle cx="850.4" cy="990.2" r="3.4"/><circle cx="757.7" cy="1125.3" r="3.4"/><circle cx="706.4" cy="1110.0" r="3.4"/><circle cx="729.6" cy="1146.6" r="3.4"/><circle cx="802.9" cy="1047.2" r="3.4"/><circle cx="771.1" cy="1124.0" r="3.4"/><circle cx="692.6" cy="1134.4" r="3.4"/><circle cx="727.7" cy="1081.2" r="3.4"/><circle cx="742.2" cy="1142.4" r="3.4"/><circle cx="842.9" cy="1054.0" r="3.4"/><circle cx="828.4" cy="1060.8" r="3.4"/><circle cx="889.0" cy="1101.9" r="3.4"/><circle cx="748.1" cy="1107.4" r="3.4"/><circle cx="816.6" cy="1096.9" r="3.4"/><circle cx="903.3" cy="1072.3" r="3.4"/><circle cx="744.2" cy="1073.0" r="3.4"/><circle cx="842.3" cy="1089.3" r="3.4"/><circle cx="691.7" cy="1140.5" r="3.4"/><circle cx="902.6" cy="1017.7" r="3.4"/><circle cx="885.7" cy="1060.2" r="3.4"/><circle cx="793.9" cy="1137.3" r="3.4"/><circle cx="866.2" cy="1069.2" r="3.4"/><circle cx="835.0" cy="1105.5" r="3.4"/><circle cx="807.5" cy="1065.1" r="3.4"/><circle cx="861.3" cy="1132.0" r="3.4"/><circle cx="829.0" cy="1119.1" r="3.4"/><circle cx="864.1" cy="1074.5" r="3.4"/><circle cx="779.3" cy="1114.7" r="3.4"/><circle cx="794.6" cy="1102.4" r="3.4"/><circle cx="841.1" cy="1067.0" r="3.4"/><circle cx="779.8" cy="1138.1" r="3.4"/><circle cx="821.4" cy="1125.2" r="3.4"/><circle cx="809.1" cy="1094.8" r="3.4"/><circle cx="792.7" cy="1096.1" r="3.4"/><circle cx="797.0" cy="1102.7" r="3.4"/></g>
<rect x="577.8" y="809.3" width="400.7" height="363.2" fill="none" stroke="#000" stroke-width="2.7"/>
<path d="M592.1 1172.5v9.3M577.8 1159.4h-9.3M666.5 1172.5v9.3M577.8 1092.0h-9.3M741.0 1172.5v9.3M577.8 1024.7h-9.3M815.4 1172.5v9.3M577.8 957.3h-9.3M889.9 1172.5v9.3M577.8 890.0h-9.3M964.3 1172.5v9.3M577.8 822.6h-9.3" stroke="#000" stroke-width="2.6" fill="none"/>
<g font-size="28">
<text x="592.1" y="1202.6" text-anchor="middle">0</text>
<text x="547.0" y="1170.3" text-anchor="middle">0</text>
<text x="666.5" y="1202.6" text-anchor="middle">20</text>
<text x="547.0" y="1102.9" text-anchor="middle">20</text>
<text x="741.0" y="1202.6" text-anchor="middle">40</text>
<text x="547.0" y="1035.6" text-anchor="middle">40</text>
<text x="815.4" y="1202.6" text-anchor="middle">60</text>
<text x="547.0" y="968.2" text-anchor="middle">60</text>
<text x="889.9" y="1202.6" text-anchor="middle">80</text>
<text x="547.0" y="900.9" text-anchor="middle">80</text>
<text x="964.3" y="1202.6" text-anchor="middle">100</text>
<text x="547.0" y="833.5" text-anchor="middle">100</text>
</g>
<text x="778.2" y="1235" font-size="35" text-anchor="middle">Matched normal</text>
<text transform="translate(524.9 990.9) rotate(-90)" font-size="35" text-anchor="middle">AIS</text>
<text x="778.2" y="789.8" font-size="37.9" font-weight="bold" fill="#0000CD" text-anchor="middle">Pearson's r = 0.8243</text>
</g>
<g id="b2">
<g transform="translate(1000.2 0)"><rect x="87.9" y="818.2" width="379.1" height="345.7" fill="#F8F8FF"/><g clip-path="url(#bclip)"><rect x="161.3" y="963.3" width="12" height="12" fill="#E9D6FB" opacity="0.57"/><rect x="378.4" y="988.5" width="12" height="12" fill="#E9D6FB" opacity="0.27"/><rect x="320.8" y="1040.8" width="9" height="9" fill="#E9D6FB" opacity="0.53"/><rect x="280.4" y="1141.9" width="11" height="11" fill="#E9D6FB" opacity="0.46"/><rect x="117.4" y="1035.5" width="14" height="14" fill="#E9D6FB" opacity="0.41"/><rect x="267.6" y="840.8" width="9" height="9" fill="#E9D6FB" opacity="0.49"/><rect x="295.4" y="848.7" width="14" height="14" fill="#E9D6FB" opacity="0.70"/><rect x="214.0" y="832.2" width="11" height="11" fill="#E9D6FB" opacity="0.26"/><rect x="294.1" y="837.0" width="12" height="12" fill="#E9D6FB" opacity="0.35"/><rect x="160.8" y="952.0" width="14" height="14" fill="#E9D6FB" opacity="0.34"/><rect x="207.4" y="1150.3" width="12" height="12" fill="#E9D6FB" opacity="0.58"/><rect x="131.2" y="1009.5" width="12" height="12" fill="#E9D6FB" opacity="0.25"/><rect x="269.2" y="841.9" width="11" height="11" fill="#E9D6FB" opacity="0.61"/><rect x="205.9" y="905.3" width="11" height="11" fill="#E9D6FB" opacity="0.59"/><rect x="309.0" y="841.7" width="10" height="10" fill="#E9D6FB" opacity="0.49"/><rect x="261.8" y="818.1" width="12" height="12" fill="#E9D6FB" opacity="0.70"/><rect x="324.3" y="1084.8" width="9" height="9" fill="#E9D6FB" opacity="0.45"/><rect x="378.5" y="1148.5" width="12" height="12" fill="#E9D6FB" opacity="0.48"/><rect x="144.9" y="957.1" width="10" height="10" fill="#E9D6FB" opacity="0.58"/><rect x="279.7" y="1150.9" width="14" height="14" fill="#E9D6FB" opacity="0.56"/><rect x="123.7" y="860.8" width="14" height="14" fill="#E9D6FB" opacity="0.30"/><rect x="120.0" y="878.3" width="12" height="12" fill="#E9D6FB" opacity="0.33"/><rect x="165.0" y="961.0" width="10" height="10" fill="#E9D6FB" opacity="0.44"/><rect x="407.8" y="1062.6" width="11" height="11" fill="#E9D6FB" opacity="0.64"/><rect x="315.5" y="1118.3" width="11" height="11" fill="#E9D6FB" opacity="0.66"/><rect x="213.0" y="829.0" width="10" height="10" fill="#E9D6FB" opacity="0.64"/><rect x="358.7" y="1029.0" width="10" height="10" fill="#E9D6FB" opacity="0.38"/><rect x="261.2" y="838.2" width="11" height="11" fill="#E9D6FB" opacity="0.53"/><rect x="208.0" y="886.8" width="11" height="11" fill="#E9D6FB" opacity="0.47"/><rect x="376.9" y="998.0" width="14" height="14" fill="#E9D6FB" opacity="0.52"/><rect x="157.3" y="831.4" width="12" height="12" fill="#E9D6FB" opacity="0.46"/><rect x="117.7" y="863.2" width="14" height="14" fill="#E9D6FB" opacity="0.67"/><rect x="184.5" y="963.5" width="14" height="14" fill="#E9D6FB" opacity="0.66"/><rect x="150.0" y="986.1" width="14" height="14" fill="#E9D6FB" opacity="0.60"/><rect x="242.4" y="1124.9" width="9" height="9" fill="#E9D6FB" opacity="0.40"/><rect x="451.5" y="969.6" width="11" height="11" fill="#E9D6FB" opacity="0.50"/><rect x="284.9" y="1092.0" width="12" height="12" fill="#E9D6FB" opacity="0.54"/><rect x="207.0" y="843.4" width="9" height="9" fill="#E9D6FB" opacity="0.61"/><rect x="433.5" y="1010.8" width="10" height="10" fill="#E9D6FB" opacity="0.45"/><rect x="261.8" y="865.0" width="14" height="14" fill="#E9D6FB" opacity="0.48"/><rect x="407.9" y="1111.0" width="14" height="14" fill="#E9D6FB" opacity="0.42"/><rect x="374.4" y="1076.5" width="14" height="14" fill="#E9D6FB" opacity="0.35"/><rect x="307.8" y="1152.9" width="12" height="12" fill="#E9D6FB" opacity="0.34"/><rect x="423.5" y="982.8" width="12" height="12" fill="#E9D6FB" opacity="0.25"/><rect x="411.3" y="1102.0" width="14" height="14" fill="#E9D6FB" opacity="0.51"/><rect x="199.8" y="958.1" width="10" height="10" fill="#E9D6FB" opacity="0.51"/><rect x="331.9" y="1120.5" width="10" height="10" fill="#E9D6FB" opacity="0.59"/><rect x="438.0" y="1105.4" width="9" height="9" fill="#E9D6FB" opacity="0.54"/><rect x="255.7" y="822.7" width="9" height="9" fill="#E9D6FB" opacity="0.68"/><rect x="406.5" y="994.1" width="11" height="11" fill="#E9D6FB" opacity="0.27"/><rect x="334.8" y="1135.5" width="10" height="10" fill="#E9D6FB" opacity="0.27"/><rect x="398.1" y="1007.7" width="10" height="10" fill="#E9D6FB" opacity="0.34"/><rect x="251.5" y="869.6" width="11" height="11" fill="#E9D6FB" opacity="0.62"/><rect x="332.1" y="1079.0" width="14" height="14" fill="#E9D6FB" opacity="0.55"/><rect x="388.3" y="967.7" width="14" height="14" fill="#E9D6FB" opacity="0.43"/><rect x="304.5" y="1110.0" width="14" height="14" fill="#E9D6FB" opacity="0.32"/><rect x="281.7" y="1071.9" width="12" height="12" fill="#E9D6FB" opacity="0.63"/><rect x="239.0" y="874.3" width="11" height="11" fill="#E9D6FB" opacity="0.32"/><rect x="136.4" y="1027.8" width="10" height="10" fill="#E9D6FB" opacity="0.48"/><rect x="120.0" y="853.3" width="11" height="11" fill="#E9D6FB" opacity="0.47"/><rect x="412.8" y="1113.9" width="10" height="10" fill="#E9D6FB" opacity="0.41"/><g transform="translate(92.0 1159.4) rotate(-42.14)"><rect x="-40" y="-128" width="600" height="256" fill="url(#bband)" opacity="0.78" mask="url(#bm)"/><ellipse cx="40" cy="0" rx="280" ry="88" fill="url(#bg1)"/><ellipse cx="508" cy="0" rx="105" ry="52" fill="url(#bg4)" opacity="0.9"/><ellipse cx="22" cy="0" rx="145" ry="74" fill="url(#bg2)"/><ellipse cx="12" cy="0" rx="96" ry="64" fill="url(#bg5)"/><ellipse cx="8" cy="0" rx="56" ry="32" fill="url(#bg3)"/></g><circle cx="93.2" cy="1158.2" r="15" fill="url(#bhot)"/></g></g>
<path d="M1293.5 888.8h2.3v2.3h-2.3zM1439.6 930.9h2.3v2.3h-2.3zM1370.2 1051.8h2.3v2.3h-2.3zM1225.8 842.7h2.3v2.3h-2.3zM1413.8 1042.4h2.3v2.3h-2.3zM1443.5 1080.5h2.3v2.3h-2.3zM1226.2 884.4h2.3v2.3h-2.3zM1254.7 874.5h2.3v2.3h-2.3zM1438.4 959.4h2.3v2.3h-2.3zM1348.4 849.3h2.3v2.3h-2.3zM1196.9 948.1h2.3v2.3h-2.3zM1338.6 1050.4h2.3v2.3h-2.3zM1456.0 1059.0h2.3v2.3h-2.3zM1118.2 909.8h2.3v2.3h-2.3zM1410.8 970.6h2.3v2.3h-2.3zM1190.5 946.3h2.3v2.3h-2.3zM1162.6 874.4h2.3v2.3h-2.3zM1397.9 994.4h2.3v2.3h-2.3zM1195.8 914.0h2.3v2.3h-2.3zM1138.3 877.1h2.3v2.3h-2.3zM1439.6 986.9h2.3v2.3h-2.3zM1245.5 821.8h2.3v2.3h-2.3zM1447.6 1067.5h2.3v2.3h-2.3zM1427.2 968.7h2.3v2.3h-2.3zM1213.3 858.2h2.3v2.3h-2.3zM1167.5 921.3h2.3v2.3h-2.3zM1099.7 920.0h2.3v2.3h-2.3zM1422.4 1108.0h2.3v2.3h-2.3zM1264.0 891.9h2.3v2.3h-2.3zM1202.8 1136.9h2.3v2.3h-2.3zM1370.2 1096.1h2.3v2.3h-2.3zM1236.7 920.0h2.3v2.3h-2.3zM1181.6 985.9h2.3v2.3h-2.3zM1445.8 1006.1h2.3v2.3h-2.3zM1263.8 925.3h2.3v2.3h-2.3zM1189.8 825.9h2.3v2.3h-2.3zM1190.6 1140.8h2.3v2.3h-2.3zM1144.5 939.4h2.3v2.3h-2.3zM1313.5 1118.1h2.3v2.3h-2.3zM1198.3 822.7h2.3v2.3h-2.3zM1291.4 1129.5h2.3v2.3h-2.3zM1163.8 982.6h2.3v2.3h-2.3zM1200.4 953.3h2.3v2.3h-2.3zM1291.1 1095.1h2.3v2.3h-2.3zM1450.3 932.5h2.3v2.3h-2.3zM1135.7 911.2h2.3v2.3h-2.3zM1351.7 1144.1h2.3v2.3h-2.3zM1220.6 829.2h2.3v2.3h-2.3zM1223.3 885.3h2.3v2.3h-2.3zM1105.6 996.6h2.3v2.3h-2.3zM1317.6 1037.9h2.3v2.3h-2.3zM1287.8 848.2h2.3v2.3h-2.3zM1439.2 968.7h2.3v2.3h-2.3zM1350.7 1046.0h2.3v2.3h-2.3zM1311.3 849.6h2.3v2.3h-2.3zM1314.7 881.7h2.3v2.3h-2.3zM1340.0 832.0h2.3v2.3h-2.3zM1265.6 1150.4h2.3v2.3h-2.3zM1334.9 845.5h2.3v2.3h-2.3zM1248.0 857.1h2.3v2.3h-2.3zM1285.9 835.1h2.3v2.3h-2.3zM1139.4 989.7h2.3v2.3h-2.3zM1320.4 858.6h2.3v2.3h-2.3zM1266.4 1100.0h2.3v2.3h-2.3zM1220.2 850.6h2.3v2.3h-2.3zM1242.2 902.0h2.3v2.3h-2.3zM1333.6 823.1h2.3v2.3h-2.3zM1265.7 1086.4h2.3v2.3h-2.3zM1289.5 1145.3h2.3v2.3h-2.3zM1355.1 1091.8h2.3v2.3h-2.3zM1256.0 830.0h2.3v2.3h-2.3zM1220.4 1136.4h2.3v2.3h-2.3zM1355.0 1140.1h2.3v2.3h-2.3zM1208.4 873.7h2.3v2.3h-2.3zM1121.3 958.1h2.3v2.3h-2.3zM1420.4 982.4h2.3v2.3h-2.3zM1304.7 1087.8h2.3v2.3h-2.3zM1202.9 986.3h2.3v2.3h-2.3zM1383.6 1071.3h2.3v2.3h-2.3zM1200.2 845.0h2.3v2.3h-2.3zM1338.0 1137.8h2.3v2.3h-2.3zM1183.7 926.6h2.3v2.3h-2.3zM1218.4 899.1h2.3v2.3h-2.3zM1397.7 1072.9h2.3v2.3h-2.3zM1300.7 840.4h2.3v2.3h-2.3zM1208.0 830.4h2.3v2.3h-2.3zM1161.2 875.9h2.3v2.3h-2.3zM1092.2 1047.7h2.3v2.3h-2.3zM1312.5 1038.2h2.3v2.3h-2.3zM1328.0 1068.4h2.3v2.3h-2.3zM1321.0 841.8h2.3v2.3h-2.3zM1396.9 1049.3h2.3v2.3h-2.3zM1351.2 1107.6h2.3v2.3h-2.3zM1152.9 930.1h2.3v2.3h-2.3zM1342.8 1054.6h2.3v2.3h-2.3zM1319.0 1033.9h2.3v2.3h-2.3zM1341.6 1021.1h2.3v2.3h-2.3zM1191.3 893.0h2.3v2.3h-2.3zM1346.6 1081.9h2.3v2.3h-2.3zM1105.4 1041.6h2.3v2.3h-2.3zM1119.3 1025.4h2.3v2.3h-2.3zM1344.0 1109.0h2.3v2.3h-2.3zM1412.7 1056.7h2.3v2.3h-2.3zM1163.1 1009.2h2.3v2.3h-2.3zM1398.8 1074.9h2.3v2.3h-2.3zM1247.3 901.2h2.3v2.3h-2.3zM1256.0 1150.5h2.3v2.3h-2.3zM1156.3 977.8h2.3v2.3h-2.3zM1241.0 906.2h2.3v2.3h-2.3zM1457.8 1007.7h2.3v2.3h-2.3z" fill="#000"/>
<clipPath id="bbx2"><rect x="1077.9" y="809.3" width="400.7" height="363.2"/></clipPath>
<g clip-path="url(#bbx2)"><path d="M1077.9 1172.5L1478.6 809.9M1077.9 1092.9L1391.3 809.3" stroke="#000" stroke-width="4.9" stroke-dasharray="15.3 24.6" stroke-linecap="round" fill="none"/><path d="M1164.0 1172.5L1478.6 887.8" stroke="#000" stroke-width="4.9" stroke-dasharray="15.3 24.6" stroke-dashoffset="-16" stroke-linecap="round" fill="none"/></g>
<g fill="#EE2A32" fill-opacity="0.55"><circle cx="1122.3" cy="1041.5" r="3.4"/><circle cx="1147.8" cy="989.6" r="3.4"/><circle cx="1105.9" cy="1052.2" r="3.4"/><circle cx="1135.4" cy="1056.4" r="3.4"/><circle cx="1142.1" cy="1009.2" r="3.4"/><circle cx="1132.4" cy="968.4" r="3.4"/><circle cx="1106.2" cy="1036.5" r="3.4"/><circle cx="1155.2" cy="1046.4" r="3.4"/><circle cx="1156.2" cy="965.4" r="3.4"/><circle cx="1143.0" cy="1074.2" r="3.4"/><circle cx="1103.8" cy="990.8" r="3.4"/><circle cx="1193.8" cy="983.4" r="3.4"/><circle cx="1123.4" cy="1025.8" r="3.4"/><circle cx="1165.6" cy="999.3" r="3.4"/><circle cx="1168.8" cy="1027.0" r="3.4"/><circle cx="1145.4" cy="1021.2" r="3.4"/><circle cx="1188.5" cy="927.3" r="3.4"/><circle cx="1107.7" cy="1072.2" r="3.4"/><circle cx="1169.0" cy="987.4" r="3.4"/><circle cx="1111.4" cy="1033.6" r="3.4"/><circle cx="1168.5" cy="973.9" r="3.4"/><circle cx="1186.0" cy="1020.7" r="3.4"/><circle cx="1169.5" cy="984.8" r="3.4"/><circle cx="1158.0" cy="998.3" r="3.4"/><circle cx="1171.8" cy="1000.4" r="3.4"/><circle cx="1205.7" cy="959.6" r="3.4"/><circle cx="1133.2" cy="1020.7" r="3.4"/><circle cx="1189.6" cy="976.8" r="3.4"/><circle cx="1162.1" cy="991.8" r="3.4"/><circle cx="1143.1" cy="1008.1" r="3.4"/><circle cx="1098.4" cy="985.5" r="3.4"/><circle cx="1144.0" cy="1002.5" r="3.4"/><circle cx="1098.2" cy="1029.9" r="3.4"/><circle cx="1173.5" cy="1034.5" r="3.4"/><circle cx="1168.7" cy="955.3" r="3.4"/><circle cx="1115.0" cy="1029.8" r="3.4"/><circle cx="1146.0" cy="1017.2" r="3.4"/><circle cx="1218.2" cy="967.2" r="3.4"/><circle cx="1137.9" cy="1032.8" r="3.4"/><circle cx="1190.9" cy="946.3" r="3.4"/><circle cx="1246.9" cy="911.1" r="3.4"/><circle cx="1237.2" cy="970.0" r="3.4"/><circle cx="1159.8" cy="1018.5" r="3.4"/><circle cx="1183.9" cy="1016.1" r="3.4"/><circle cx="1151.9" cy="1052.3" r="3.4"/><circle cx="1226.6" cy="973.3" r="3.4"/><circle cx="1184.4" cy="936.3" r="3.4"/><circle cx="1146.9" cy="1029.0" r="3.4"/><circle cx="1126.5" cy="1039.1" r="3.4"/><circle cx="1183.2" cy="1008.5" r="3.4"/><circle cx="1149.5" cy="1055.9" r="3.4"/><circle cx="1148.7" cy="992.4" r="3.4"/><circle cx="1221.5" cy="957.1" r="3.4"/><circle cx="1145.3" cy="989.8" r="3.4"/><circle cx="1171.2" cy="997.1" r="3.4"/><circle cx="1125.3" cy="1018.2" r="3.4"/><circle cx="1154.3" cy="960.0" r="3.4"/><circle cx="1175.9" cy="1007.1" r="3.4"/><circle cx="1152.8" cy="1024.0" r="3.4"/><circle cx="1142.2" cy="974.6" r="3.4"/><circle cx="1192.7" cy="905.2" r="3.4"/><circle cx="1125.5" cy="971.5" r="3.4"/><circle cx="1106.8" cy="1030.1" r="3.4"/><circle cx="1138.3" cy="993.7" r="3.4"/><circle cx="1112.7" cy="1034.0" r="3.4"/><circle cx="1202.2" cy="940.2" r="3.4"/><circle cx="1111.1" cy="1005.7" r="3.4"/><circle cx="1206.7" cy="1010.5" r="3.4"/><circle cx="1122.1" cy="1032.9" r="3.4"/><circle cx="1166.8" cy="952.8" r="3.4"/><circle cx="1112.6" cy="1032.8" r="3.4"/><circle cx="1131.2" cy="1015.3" r="3.4"/><circle cx="1134.6" cy="1015.9" r="3.4"/><circle cx="1160.4" cy="992.3" r="3.4"/><circle cx="1128.4" cy="1004.5" r="3.4"/><circle cx="1154.7" cy="961.4" r="3.4"/><circle cx="1152.8" cy="998.0" r="3.4"/><circle cx="1160.0" cy="963.4" r="3.4"/><circle cx="1144.4" cy="1003.1" r="3.4"/><circle cx="1151.3" cy="991.0" r="3.4"/><circle cx="1185.2" cy="986.5" r="3.4"/><circle cx="1209.0" cy="976.5" r="3.4"/><circle cx="1119.0" cy="991.3" r="3.4"/><circle cx="1108.4" cy="1056.1" r="3.4"/><circle cx="1184.9" cy="972.1" r="3.4"/><circle cx="1149.2" cy="1025.6" r="3.4"/><circle cx="1127.2" cy="1000.9" r="3.4"/><circle cx="1250.4" cy="908.2" r="3.4"/><circle cx="1149.0" cy="1069.2" r="3.4"/><circle cx="1140.0" cy="977.6" r="3.4"/><circle cx="1179.6" cy="973.1" r="3.4"/><circle cx="1137.4" cy="1037.5" r="3.4"/><circle cx="1149.6" cy="989.3" r="3.4"/><circle cx="1185.6" cy="944.8" r="3.4"/><circle cx="1202.0" cy="903.9" r="3.4"/><circle cx="1122.4" cy="981.8" r="3.4"/><circle cx="1148.3" cy="942.1" r="3.4"/><circle cx="1201.4" cy="1008.4" r="3.4"/><circle cx="1143.0" cy="1028.0" r="3.4"/><circle cx="1144.7" cy="1006.5" r="3.4"/><circle cx="1189.8" cy="936.2" r="3.4"/><circle cx="1184.8" cy="955.2" r="3.4"/><circle cx="1192.7" cy="935.5" r="3.4"/><circle cx="1163.0" cy="1009.8" r="3.4"/><circle cx="1154.4" cy="997.0" r="3.4"/><circle cx="1143.5" cy="1010.0" r="3.4"/><circle cx="1159.2" cy="969.9" r="3.4"/><circle cx="1209.2" cy="963.0" r="3.4"/><circle cx="1217.5" cy="973.2" r="3.4"/><circle cx="1167.1" cy="956.6" r="3.4"/><circle cx="1163.2" cy="995.2" r="3.4"/><circle cx="1192.4" cy="1002.4" r="3.4"/><circle cx="1146.7" cy="1050.4" r="3.4"/><circle cx="1115.5" cy="1088.8" r="3.4"/><circle cx="1108.0" cy="1037.7" r="3.4"/><circle cx="1136.8" cy="1032.2" r="3.4"/><circle cx="1153.1" cy="1024.3" r="3.4"/><circle cx="1123.1" cy="1038.6" r="3.4"/><circle cx="1204.3" cy="966.4" r="3.4"/><circle cx="1201.8" cy="986.0" r="3.4"/><circle cx="1248.0" cy="894.4" r="3.4"/><circle cx="1165.9" cy="975.6" r="3.4"/><circle cx="1194.5" cy="983.9" r="3.4"/><circle cx="1112.5" cy="1058.2" r="3.4"/><circle cx="1100.4" cy="1014.7" r="3.4"/><circle cx="1159.2" cy="962.4" r="3.4"/><circle cx="1168.7" cy="985.0" r="3.4"/><circle cx="1184.1" cy="941.0" r="3.4"/><circle cx="1187.6" cy="978.9" r="3.4"/><circle cx="1123.2" cy="1059.0" r="3.4"/><circle cx="1177.4" cy="1028.8" r="3.4"/><circle cx="1182.1" cy="973.7" r="3.4"/><circle cx="1208.1" cy="914.9" r="3.4"/><circle cx="1139.9" cy="1043.1" r="3.4"/><circle cx="1131.0" cy="1008.7" r="3.4"/><circle cx="1183.1" cy="961.5" r="3.4"/><circle cx="1142.1" cy="998.8" r="3.4"/><circle cx="1194.2" cy="963.9" r="3.4"/><circle cx="1191.2" cy="967.2" r="3.4"/><circle cx="1139.9" cy="1048.9" r="3.4"/><circle cx="1100.1" cy="1020.1" r="3.4"/><circle cx="1186.8" cy="951.9" r="3.4"/><circle cx="1124.0" cy="994.0" r="3.4"/><circle cx="1128.9" cy="981.6" r="3.4"/><circle cx="1124.3" cy="990.8" r="3.4"/><circle cx="1196.1" cy="952.9" r="3.4"/><circle cx="1144.1" cy="1005.4" r="3.4"/><circle cx="1134.3" cy="1026.2" r="3.4"/><circle cx="1146.8" cy="1010.1" r="3.4"/><circle cx="1152.5" cy="1010.8" r="3.4"/><circle cx="1193.9" cy="975.4" r="3.4"/><circle cx="1128.9" cy="1076.7" r="3.4"/><circle cx="1144.4" cy="1066.6" r="3.4"/><circle cx="1095.2" cy="1042.5" r="3.4"/><circle cx="1135.1" cy="1017.7" r="3.4"/><circle cx="1127.1" cy="1056.4" r="3.4"/><circle cx="1117.2" cy="978.5" r="3.4"/><circle cx="1158.0" cy="1012.9" r="3.4"/><circle cx="1156.0" cy="1027.0" r="3.4"/><circle cx="1182.7" cy="944.1" r="3.4"/><circle cx="1107.2" cy="1058.6" r="3.4"/><circle cx="1143.6" cy="1011.5" r="3.4"/><circle cx="1135.2" cy="1020.1" r="3.4"/><circle cx="1156.1" cy="1002.6" r="3.4"/><circle cx="1119.9" cy="1071.3" r="3.4"/><circle cx="1191.3" cy="995.4" r="3.4"/><circle cx="1099.0" cy="1087.1" r="3.4"/><circle cx="1122.4" cy="1029.9" r="3.4"/><circle cx="1124.3" cy="986.4" r="3.4"/><circle cx="1183.1" cy="970.1" r="3.4"/><circle cx="1166.3" cy="898.8" r="3.4"/><circle cx="1133.8" cy="1045.3" r="3.4"/><circle cx="1116.4" cy="1044.4" r="3.4"/><circle cx="1144.1" cy="1021.1" r="3.4"/><circle cx="1098.1" cy="1050.7" r="3.4"/><circle cx="1155.0" cy="1005.0" r="3.4"/><circle cx="1141.0" cy="985.1" r="3.4"/><circle cx="1172.0" cy="986.7" r="3.4"/><circle cx="1144.1" cy="1055.4" r="3.4"/><circle cx="1118.6" cy="982.6" r="3.4"/><circle cx="1171.7" cy="985.2" r="3.4"/><circle cx="1184.7" cy="950.4" r="3.4"/><circle cx="1117.5" cy="1008.3" r="3.4"/><circle cx="1116.6" cy="1043.1" r="3.4"/><circle cx="1155.4" cy="1048.1" r="3.4"/><circle cx="1130.5" cy="996.1" r="3.4"/><circle cx="1135.3" cy="1038.0" r="3.4"/><circle cx="1198.3" cy="950.3" r="3.4"/><circle cx="1133.3" cy="1018.3" r="3.4"/><circle cx="1150.3" cy="984.0" r="3.4"/><circle cx="1191.9" cy="990.4" r="3.4"/><circle cx="1135.3" cy="1050.9" r="3.4"/><circle cx="1126.9" cy="1044.8" r="3.4"/><circle cx="1175.1" cy="987.2" r="3.4"/><circle cx="1175.4" cy="979.9" r="3.4"/><circle cx="1161.8" cy="978.6" r="3.4"/><circle cx="1168.6" cy="977.8" r="3.4"/><circle cx="1103.0" cy="1036.4" r="3.4"/><circle cx="1175.1" cy="1004.8" r="3.4"/><circle cx="1142.0" cy="1030.3" r="3.4"/><circle cx="1137.4" cy="1033.0" r="3.4"/><circle cx="1124.2" cy="1045.3" r="3.4"/><circle cx="1131.7" cy="975.6" r="3.4"/><circle cx="1211.0" cy="919.9" r="3.4"/><circle cx="1128.1" cy="952.3" r="3.4"/><circle cx="1208.5" cy="933.1" r="3.4"/><circle cx="1179.7" cy="984.6" r="3.4"/><circle cx="1173.9" cy="991.3" r="3.4"/><circle cx="1185.4" cy="971.2" r="3.4"/><circle cx="1136.1" cy="1010.9" r="3.4"/><circle cx="1148.4" cy="1041.4" r="3.4"/><circle cx="1204.1" cy="982.0" r="3.4"/><circle cx="1154.9" cy="1017.1" r="3.4"/><circle cx="1182.7" cy="971.8" r="3.4"/><circle cx="1176.4" cy="1012.6" r="3.4"/><circle cx="1202.9" cy="942.0" r="3.4"/><circle cx="1169.7" cy="1027.9" r="3.4"/><circle cx="1139.2" cy="997.1" r="3.4"/><circle cx="1096.7" cy="1060.9" r="3.4"/><circle cx="1142.1" cy="1046.1" r="3.4"/><circle cx="1179.9" cy="993.1" r="3.4"/><circle cx="1157.5" cy="952.7" r="3.4"/><circle cx="1115.6" cy="1054.1" r="3.4"/><circle cx="1139.4" cy="996.7" r="3.4"/><circle cx="1153.6" cy="1056.4" r="3.4"/><circle cx="1128.3" cy="990.0" r="3.4"/><circle cx="1140.4" cy="1026.6" r="3.4"/><circle cx="1177.5" cy="1058.5" r="3.4"/><circle cx="1166.8" cy="987.7" r="3.4"/><circle cx="1163.5" cy="960.5" r="3.4"/><circle cx="1184.3" cy="963.9" r="3.4"/><circle cx="1155.2" cy="1023.1" r="3.4"/><circle cx="1210.5" cy="937.3" r="3.4"/><circle cx="1125.7" cy="1021.1" r="3.4"/><circle cx="1203.1" cy="950.5" r="3.4"/><circle cx="1146.3" cy="1012.5" r="3.4"/><circle cx="1183.1" cy="944.2" r="3.4"/><circle cx="1164.0" cy="989.5" r="3.4"/><circle cx="1219.9" cy="969.9" r="3.4"/><circle cx="1149.0" cy="1025.4" r="3.4"/><circle cx="1094.8" cy="1036.8" r="3.4"/><circle cx="1122.2" cy="1018.8" r="3.4"/><circle cx="1124.6" cy="1033.5" r="3.4"/><circle cx="1160.6" cy="1010.1" r="3.4"/><circle cx="1176.5" cy="1006.1" r="3.4"/><circle cx="1107.8" cy="1058.3" r="3.4"/><circle cx="1198.3" cy="946.4" r="3.4"/><circle cx="1208.3" cy="953.6" r="3.4"/><circle cx="1172.5" cy="995.5" r="3.4"/><circle cx="1122.9" cy="1045.5" r="3.4"/><circle cx="1166.0" cy="992.4" r="3.4"/><circle cx="1200.0" cy="936.3" r="3.4"/><circle cx="1204.1" cy="973.2" r="3.4"/><circle cx="1197.0" cy="1016.5" r="3.4"/><circle cx="1161.6" cy="1039.5" r="3.4"/><circle cx="1191.6" cy="969.5" r="3.4"/><circle cx="1095.0" cy="1051.6" r="3.4"/><circle cx="1194.3" cy="972.7" r="3.4"/><circle cx="1152.2" cy="964.4" r="3.4"/><circle cx="1192.7" cy="973.4" r="3.4"/><circle cx="1172.1" cy="984.2" r="3.4"/><circle cx="1109.0" cy="1054.3" r="3.4"/><circle cx="1187.6" cy="938.8" r="3.4"/><circle cx="1114.2" cy="1017.3" r="3.4"/><circle cx="1151.4" cy="1007.0" r="3.4"/><circle cx="1133.7" cy="998.0" r="3.4"/><circle cx="1111.0" cy="1050.2" r="3.4"/><circle cx="1100.5" cy="1033.5" r="3.4"/><circle cx="1107.2" cy="1059.3" r="3.4"/><circle cx="1150.8" cy="967.1" r="3.4"/><circle cx="1144.0" cy="992.8" r="3.4"/><circle cx="1160.7" cy="955.7" r="3.4"/><circle cx="1118.2" cy="1026.3" r="3.4"/><circle cx="1183.1" cy="1007.3" r="3.4"/><circle cx="1169.0" cy="968.0" r="3.4"/><circle cx="1229.1" cy="921.5" r="3.4"/><circle cx="1133.4" cy="1028.7" r="3.4"/><circle cx="1178.6" cy="948.1" r="3.4"/><circle cx="1194.6" cy="988.6" r="3.4"/><circle cx="1152.4" cy="989.1" r="3.4"/><circle cx="1111.0" cy="1020.0" r="3.4"/><circle cx="1128.0" cy="1030.0" r="3.4"/><circle cx="1134.9" cy="1054.5" r="3.4"/><circle cx="1116.4" cy="1057.8" r="3.4"/><circle cx="1150.4" cy="984.5" r="3.4"/><circle cx="1166.1" cy="1005.0" r="3.4"/><circle cx="1249.6" cy="958.1" r="3.4"/><circle cx="1119.8" cy="1081.0" r="3.4"/><circle cx="1181.4" cy="987.2" r="3.4"/><circle cx="1093.7" cy="1066.0" r="3.4"/><circle cx="1205.5" cy="989.9" r="3.4"/><circle cx="1207.5" cy="1007.1" r="3.4"/><circle cx="1149.4" cy="979.8" r="3.4"/><circle cx="1203.8" cy="913.2" r="3.4"/><circle cx="1196.3" cy="1003.0" r="3.4"/><circle cx="1172.7" cy="924.0" r="3.4"/><circle cx="1152.2" cy="996.8" r="3.4"/><circle cx="1166.7" cy="948.3" r="3.4"/><circle cx="1132.4" cy="988.5" r="3.4"/><circle cx="1101.8" cy="1018.5" r="3.4"/><circle cx="1143.3" cy="1006.1" r="3.4"/><circle cx="1180.4" cy="943.5" r="3.4"/><circle cx="1112.0" cy="967.4" r="3.4"/><circle cx="1180.7" cy="1034.6" r="3.4"/><circle cx="1107.0" cy="1026.0" r="3.4"/><circle cx="1224.1" cy="948.6" r="3.4"/><circle cx="1131.3" cy="1046.6" r="3.4"/><circle cx="1140.2" cy="1000.6" r="3.4"/><circle cx="1122.9" cy="1010.8" r="3.4"/><circle cx="1151.1" cy="1029.0" r="3.4"/><circle cx="1234.4" cy="945.9" r="3.4"/><circle cx="1159.9" cy="1014.9" r="3.4"/><circle cx="1130.0" cy="1012.3" r="3.4"/><circle cx="1129.5" cy="1011.3" r="3.4"/><circle cx="1183.2" cy="986.7" r="3.4"/><circle cx="1125.7" cy="968.0" r="3.4"/><circle cx="1125.3" cy="1077.5" r="3.4"/><circle cx="1134.9" cy="1001.9" r="3.4"/><circle cx="1185.9" cy="954.9" r="3.4"/><circle cx="1179.7" cy="982.0" r="3.4"/><circle cx="1166.2" cy="964.2" r="3.4"/><circle cx="1104.1" cy="1033.6" r="3.4"/><circle cx="1134.7" cy="1035.7" r="3.4"/><circle cx="1144.1" cy="985.8" r="3.4"/><circle cx="1138.1" cy="1009.7" r="3.4"/><circle cx="1130.0" cy="1034.4" r="3.4"/><circle cx="1158.5" cy="1010.1" r="3.4"/><circle cx="1121.8" cy="945.9" r="3.4"/><circle cx="1182.7" cy="963.9" r="3.4"/><circle cx="1182.2" cy="984.1" r="3.4"/><circle cx="1164.2" cy="1019.0" r="3.4"/><circle cx="1184.9" cy="988.9" r="3.4"/><circle cx="1171.3" cy="955.8" r="3.4"/><circle cx="1135.9" cy="1017.1" r="3.4"/><circle cx="1107.9" cy="1072.2" r="3.4"/><circle cx="1176.6" cy="957.5" r="3.4"/><circle cx="1160.0" cy="999.9" r="3.4"/><circle cx="1122.5" cy="1050.0" r="3.4"/><circle cx="1154.9" cy="1022.8" r="3.4"/><circle cx="1204.7" cy="1005.6" r="3.4"/><circle cx="1199.3" cy="950.0" r="3.4"/><circle cx="1175.1" cy="998.4" r="3.4"/><circle cx="1146.9" cy="930.0" r="3.4"/><circle cx="1159.5" cy="979.8" r="3.4"/><circle cx="1156.9" cy="976.2" r="3.4"/><circle cx="1170.5" cy="970.8" r="3.4"/><circle cx="1144.5" cy="969.2" r="3.4"/><circle cx="1184.1" cy="985.8" r="3.4"/><circle cx="1123.9" cy="1015.8" r="3.4"/><circle cx="1197.2" cy="901.9" r="3.4"/><circle cx="1123.9" cy="1080.3" r="3.4"/><circle cx="1201.7" cy="1013.3" r="3.4"/><circle cx="1131.6" cy="1022.2" r="3.4"/><circle cx="1129.9" cy="1066.8" r="3.4"/><circle cx="1116.3" cy="1033.4" r="3.4"/><circle cx="1159.1" cy="1036.7" r="3.4"/><circle cx="1141.8" cy="1000.4" r="3.4"/><circle cx="1131.3" cy="1057.9" r="3.4"/><circle cx="1148.7" cy="971.7" r="3.4"/><circle cx="1184.2" cy="926.9" r="3.4"/><circle cx="1206.1" cy="909.9" r="3.4"/><circle cx="1192.0" cy="959.3" r="3.4"/><circle cx="1166.6" cy="1045.7" r="3.4"/><circle cx="1178.0" cy="969.8" r="3.4"/><circle cx="1129.7" cy="1021.4" r="3.4"/><circle cx="1109.6" cy="1039.3" r="3.4"/><circle cx="1172.7" cy="1021.1" r="3.4"/><circle cx="1180.0" cy="1010.0" r="3.4"/><circle cx="1240.0" cy="923.6" r="3.4"/><circle cx="1176.6" cy="978.6" r="3.4"/><circle cx="1121.1" cy="1021.7" r="3.4"/><circle cx="1209.7" cy="949.6" r="3.4"/><circle cx="1117.2" cy="1026.1" r="3.4"/><circle cx="1137.7" cy="1033.4" r="3.4"/><circle cx="1186.3" cy="978.4" r="3.4"/><circle cx="1175.3" cy="1011.5" r="3.4"/><circle cx="1105.5" cy="1062.1" r="3.4"/><circle cx="1141.8" cy="1002.2" r="3.4"/><circle cx="1130.7" cy="1032.3" r="3.4"/><circle cx="1145.4" cy="995.7" r="3.4"/><circle cx="1124.3" cy="1038.3" r="3.4"/><circle cx="1120.3" cy="1036.4" r="3.4"/><circle cx="1139.3" cy="1028.1" r="3.4"/><circle cx="1125.5" cy="1032.2" r="3.4"/><circle cx="1166.1" cy="1044.0" r="3.4"/><circle cx="1141.7" cy="981.7" r="3.4"/><circle cx="1148.2" cy="1011.9" r="3.4"/><circle cx="1199.3" cy="993.6" r="3.4"/><circle cx="1130.2" cy="1058.0" r="3.4"/><circle cx="1196.1" cy="951.1" r="3.4"/><circle cx="1163.7" cy="969.8" r="3.4"/><circle cx="1218.6" cy="937.5" r="3.4"/><circle cx="1171.8" cy="1053.6" r="3.4"/><circle cx="1185.2" cy="979.6" r="3.4"/><circle cx="1198.3" cy="1007.7" r="3.4"/><circle cx="1147.5" cy="1011.9" r="3.4"/><circle cx="1148.8" cy="976.9" r="3.4"/><circle cx="1118.4" cy="1013.5" r="3.4"/><circle cx="1111.9" cy="1052.7" r="3.4"/><circle cx="1147.7" cy="1021.6" r="3.4"/><circle cx="1152.3" cy="1054.3" r="3.4"/><circle cx="1217.7" cy="922.5" r="3.4"/><circle cx="1131.6" cy="988.9" r="3.4"/><circle cx="1176.6" cy="1015.0" r="3.4"/><circle cx="1153.9" cy="977.2" r="3.4"/><circle cx="1161.2" cy="994.0" r="3.4"/><circle cx="1205.8" cy="984.1" r="3.4"/><circle cx="1165.9" cy="942.8" r="3.4"/><circle cx="1191.7" cy="998.0" r="3.4"/><circle cx="1191.7" cy="948.1" r="3.4"/><circle cx="1174.5" cy="958.2" r="3.4"/><circle cx="1103.0" cy="998.5" r="3.4"/><circle cx="1146.8" cy="1002.5" r="3.4"/><circle cx="1144.6" cy="1021.9" r="3.4"/><circle cx="1101.4" cy="1036.5" r="3.4"/><circle cx="1174.7" cy="1024.7" r="3.4"/><circle cx="1136.2" cy="1018.6" r="3.4"/><circle cx="1219.6" cy="931.0" r="3.4"/><circle cx="1109.0" cy="1057.5" r="3.4"/><circle cx="1138.4" cy="997.6" r="3.4"/><circle cx="1143.5" cy="997.7" r="3.4"/><circle cx="1144.9" cy="1009.3" r="3.4"/><circle cx="1130.1" cy="1037.7" r="3.4"/><circle cx="1171.0" cy="1016.7" r="3.4"/><circle cx="1165.6" cy="1008.6" r="3.4"/><circle cx="1152.7" cy="1059.8" r="3.4"/><circle cx="1094.9" cy="1026.2" r="3.4"/><circle cx="1129.6" cy="1006.5" r="3.4"/><circle cx="1098.5" cy="1016.0" r="3.4"/><circle cx="1125.4" cy="1034.6" r="3.4"/><circle cx="1165.6" cy="996.1" r="3.4"/><circle cx="1171.2" cy="1029.8" r="3.4"/><circle cx="1151.8" cy="1045.4" r="3.4"/><circle cx="1186.2" cy="1003.3" r="3.4"/><circle cx="1178.8" cy="1012.2" r="3.4"/><circle cx="1185.3" cy="925.0" r="3.4"/><circle cx="1224.7" cy="932.5" r="3.4"/><circle cx="1141.2" cy="994.5" r="3.4"/><circle cx="1117.5" cy="1047.9" r="3.4"/><circle cx="1129.3" cy="1022.9" r="3.4"/><circle cx="1134.0" cy="1038.3" r="3.4"/><circle cx="1121.7" cy="1020.7" r="3.4"/><circle cx="1159.3" cy="1035.2" r="3.4"/><circle cx="1126.5" cy="1028.1" r="3.4"/><circle cx="1100.0" cy="1077.9" r="3.4"/><circle cx="1181.2" cy="998.4" r="3.4"/><circle cx="1139.8" cy="1028.4" r="3.4"/><circle cx="1125.2" cy="1033.2" r="3.4"/><circle cx="1185.4" cy="979.9" r="3.4"/><circle cx="1114.7" cy="1049.0" r="3.4"/><circle cx="1161.0" cy="990.7" r="3.4"/><circle cx="1228.6" cy="923.6" r="3.4"/><circle cx="1194.0" cy="932.8" r="3.4"/><circle cx="1147.8" cy="1033.7" r="3.4"/><circle cx="1212.9" cy="987.4" r="3.4"/><circle cx="1101.9" cy="989.6" r="3.4"/><circle cx="1144.6" cy="995.4" r="3.4"/><circle cx="1131.2" cy="984.5" r="3.4"/><circle cx="1138.1" cy="997.9" r="3.4"/><circle cx="1196.4" cy="1019.4" r="3.4"/><circle cx="1168.2" cy="1003.2" r="3.4"/><circle cx="1162.6" cy="1058.1" r="3.4"/><circle cx="1191.0" cy="947.9" r="3.4"/><circle cx="1153.4" cy="1026.8" r="3.4"/><circle cx="1105.4" cy="1070.4" r="3.4"/><circle cx="1129.0" cy="1030.0" r="3.4"/><circle cx="1207.3" cy="942.3" r="3.4"/><circle cx="1174.7" cy="1020.2" r="3.4"/><circle cx="1173.5" cy="982.8" r="3.4"/><circle cx="1178.2" cy="969.2" r="3.4"/><circle cx="1156.3" cy="975.3" r="3.4"/><circle cx="1144.3" cy="1059.1" r="3.4"/><circle cx="1122.5" cy="1023.2" r="3.4"/><circle cx="1119.1" cy="1027.5" r="3.4"/><circle cx="1102.6" cy="1018.2" r="3.4"/><circle cx="1143.2" cy="1046.9" r="3.4"/><circle cx="1131.7" cy="1027.9" r="3.4"/><circle cx="1126.2" cy="1032.0" r="3.4"/><circle cx="1127.5" cy="998.5" r="3.4"/><circle cx="1249.9" cy="923.9" r="3.4"/><circle cx="1108.0" cy="1071.1" r="3.4"/><circle cx="1145.8" cy="1007.0" r="3.4"/><circle cx="1208.6" cy="998.3" r="3.4"/><circle cx="1173.8" cy="1007.9" r="3.4"/><circle cx="1186.6" cy="952.8" r="3.4"/><circle cx="1191.1" cy="946.9" r="3.4"/><circle cx="1166.4" cy="1018.9" r="3.4"/><circle cx="1165.7" cy="929.2" r="3.4"/><circle cx="1177.1" cy="1039.4" r="3.4"/><circle cx="1147.4" cy="1036.3" r="3.4"/><circle cx="1165.4" cy="1005.2" r="3.4"/><circle cx="1147.6" cy="998.3" r="3.4"/><circle cx="1153.6" cy="988.0" r="3.4"/><circle cx="1105.2" cy="1057.6" r="3.4"/><circle cx="1175.4" cy="964.2" r="3.4"/><circle cx="1195.0" cy="980.7" r="3.4"/><circle cx="1176.3" cy="1025.2" r="3.4"/><circle cx="1168.5" cy="998.4" r="3.4"/><circle cx="1176.2" cy="962.0" r="3.4"/><circle cx="1155.0" cy="962.7" r="3.4"/><circle cx="1141.0" cy="979.5" r="3.4"/><circle cx="1154.3" cy="1010.2" r="3.4"/><circle cx="1099.1" cy="1033.0" r="3.4"/><circle cx="1114.3" cy="1011.8" r="3.4"/><circle cx="1132.5" cy="947.4" r="3.4"/><circle cx="1214.3" cy="925.5" r="3.4"/><circle cx="1159.3" cy="1005.4" r="3.4"/><circle cx="1124.6" cy="1042.2" r="3.4"/><circle cx="1185.2" cy="988.4" r="3.4"/><circle cx="1159.1" cy="976.3" r="3.4"/><circle cx="1129.0" cy="1021.8" r="3.4"/><circle cx="1133.0" cy="1009.1" r="3.4"/><circle cx="1180.3" cy="1009.6" r="3.4"/><circle cx="1120.6" cy="982.9" r="3.4"/><circle cx="1211.4" cy="911.7" r="3.4"/><circle cx="1196.7" cy="985.6" r="3.4"/><circle cx="1174.1" cy="997.6" r="3.4"/><circle cx="1146.7" cy="986.0" r="3.4"/><circle cx="1180.9" cy="995.3" r="3.4"/><circle cx="1204.2" cy="933.6" r="3.4"/><circle cx="1132.2" cy="1019.6" r="3.4"/><circle cx="1197.2" cy="1041.7" r="3.4"/><circle cx="1159.9" cy="996.9" r="3.4"/><circle cx="1177.3" cy="972.0" r="3.4"/><circle cx="1175.7" cy="968.1" r="3.4"/><circle cx="1135.2" cy="925.7" r="3.4"/><circle cx="1131.2" cy="1010.1" r="3.4"/><circle cx="1139.0" cy="1025.1" r="3.4"/><circle cx="1127.4" cy="1032.5" r="3.4"/><circle cx="1117.3" cy="1003.5" r="3.4"/><circle cx="1138.4" cy="1013.0" r="3.4"/><circle cx="1171.9" cy="927.9" r="3.4"/><circle cx="1118.8" cy="1018.2" r="3.4"/><circle cx="1151.4" cy="938.6" r="3.4"/><circle cx="1169.1" cy="945.6" r="3.4"/><circle cx="1139.7" cy="993.8" r="3.4"/><circle cx="1155.8" cy="1044.2" r="3.4"/><circle cx="1190.2" cy="968.6" r="3.4"/><circle cx="1168.0" cy="974.5" r="3.4"/><circle cx="1211.2" cy="981.9" r="3.4"/><circle cx="1124.3" cy="1001.1" r="3.4"/><circle cx="1195.6" cy="984.8" r="3.4"/><circle cx="1096.3" cy="1024.9" r="3.4"/><circle cx="1190.0" cy="973.2" r="3.4"/><circle cx="1160.7" cy="1037.3" r="3.4"/><circle cx="1169.7" cy="1012.2" r="3.4"/><circle cx="1168.5" cy="981.2" r="3.4"/><circle cx="1093.9" cy="1031.1" r="3.4"/><circle cx="1186.4" cy="1012.1" r="3.4"/><circle cx="1105.1" cy="1008.4" r="3.4"/><circle cx="1130.5" cy="1067.7" r="3.4"/><circle cx="1166.9" cy="937.2" r="3.4"/><circle cx="1138.7" cy="1010.6" r="3.4"/><circle cx="1147.8" cy="957.6" r="3.4"/><circle cx="1188.5" cy="959.4" r="3.4"/><circle cx="1151.1" cy="1001.6" r="3.4"/><circle cx="1120.3" cy="1058.1" r="3.4"/><circle cx="1111.4" cy="989.9" r="3.4"/><circle cx="1151.3" cy="1049.1" r="3.4"/><circle cx="1163.3" cy="1015.0" r="3.4"/><circle cx="1181.7" cy="952.1" r="3.4"/><circle cx="1244.3" cy="927.9" r="3.4"/><circle cx="1173.8" cy="996.7" r="3.4"/><circle cx="1128.0" cy="1011.7" r="3.4"/><circle cx="1169.0" cy="952.3" r="3.4"/><circle cx="1126.7" cy="1031.7" r="3.4"/><circle cx="1183.8" cy="1001.8" r="3.4"/><circle cx="1147.3" cy="1003.1" r="3.4"/><circle cx="1159.0" cy="997.9" r="3.4"/><circle cx="1132.7" cy="1028.5" r="3.4"/><circle cx="1202.7" cy="972.5" r="3.4"/><circle cx="1201.6" cy="926.3" r="3.4"/><circle cx="1144.6" cy="1032.6" r="3.4"/><circle cx="1170.9" cy="986.4" r="3.4"/><circle cx="1164.8" cy="1033.1" r="3.4"/><circle cx="1159.6" cy="980.8" r="3.4"/><circle cx="1131.3" cy="1030.7" r="3.4"/><circle cx="1105.4" cy="1040.0" r="3.4"/><circle cx="1261.4" cy="940.4" r="3.4"/><circle cx="1177.6" cy="1031.1" r="3.4"/><circle cx="1203.0" cy="997.2" r="3.4"/><circle cx="1173.1" cy="973.4" r="3.4"/><circle cx="1220.0" cy="950.3" r="3.4"/><circle cx="1172.1" cy="959.1" r="3.4"/><circle cx="1137.8" cy="1020.8" r="3.4"/><circle cx="1160.4" cy="1001.1" r="3.4"/><circle cx="1224.6" cy="946.8" r="3.4"/><circle cx="1134.9" cy="982.5" r="3.4"/><circle cx="1142.5" cy="1044.4" r="3.4"/><circle cx="1206.8" cy="964.5" r="3.4"/><circle cx="1147.5" cy="1026.8" r="3.4"/><circle cx="1119.9" cy="1023.5" r="3.4"/><circle cx="1148.4" cy="1009.4" r="3.4"/><circle cx="1107.7" cy="1039.1" r="3.4"/><circle cx="1152.8" cy="950.2" r="3.4"/><circle cx="1142.7" cy="1017.7" r="3.4"/><circle cx="1206.4" cy="963.2" r="3.4"/><circle cx="1164.9" cy="1046.8" r="3.4"/><circle cx="1123.8" cy="1035.5" r="3.4"/><circle cx="1134.9" cy="981.1" r="3.4"/><circle cx="1158.7" cy="949.8" r="3.4"/><circle cx="1180.0" cy="980.3" r="3.4"/><circle cx="1131.3" cy="1025.1" r="3.4"/><circle cx="1204.7" cy="997.7" r="3.4"/><circle cx="1195.8" cy="1004.1" r="3.4"/><circle cx="1195.3" cy="902.1" r="3.4"/><circle cx="1146.6" cy="965.5" r="3.4"/><circle cx="1186.5" cy="999.2" r="3.4"/><circle cx="1154.2" cy="1047.8" r="3.4"/><circle cx="1118.1" cy="987.9" r="3.4"/><circle cx="1183.8" cy="1018.5" r="3.4"/><circle cx="1138.8" cy="1018.2" r="3.4"/><circle cx="1157.5" cy="1011.7" r="3.4"/><circle cx="1206.1" cy="989.1" r="3.4"/><circle cx="1159.7" cy="971.2" r="3.4"/><circle cx="1160.6" cy="1016.9" r="3.4"/><circle cx="1146.1" cy="981.0" r="3.4"/><circle cx="1197.8" cy="1029.5" r="3.4"/><circle cx="1100.9" cy="1055.9" r="3.4"/><circle cx="1145.5" cy="1026.6" r="3.4"/><circle cx="1166.4" cy="1008.1" r="3.4"/><circle cx="1107.0" cy="1058.2" r="3.4"/><circle cx="1137.8" cy="990.0" r="3.4"/><circle cx="1151.3" cy="993.6" r="3.4"/><circle cx="1200.7" cy="983.8" r="3.4"/><circle cx="1142.0" cy="969.1" r="3.4"/><circle cx="1128.6" cy="1043.8" r="3.4"/><circle cx="1125.9" cy="1036.2" r="3.4"/><circle cx="1111.1" cy="1085.6" r="3.4"/><circle cx="1098.2" cy="1020.1" r="3.4"/><circle cx="1156.3" cy="985.4" r="3.4"/><circle cx="1160.0" cy="943.9" r="3.4"/><circle cx="1157.0" cy="983.6" r="3.4"/><circle cx="1151.1" cy="1019.3" r="3.4"/><circle cx="1140.0" cy="976.9" r="3.4"/><circle cx="1137.6" cy="1022.1" r="3.4"/><circle cx="1139.9" cy="973.5" r="3.4"/><circle cx="1175.6" cy="970.3" r="3.4"/><circle cx="1190.3" cy="945.5" r="3.4"/><circle cx="1169.6" cy="973.0" r="3.4"/><circle cx="1182.0" cy="974.9" r="3.4"/><circle cx="1128.7" cy="1038.3" r="3.4"/><circle cx="1229.2" cy="961.2" r="3.4"/><circle cx="1209.5" cy="982.6" r="3.4"/><circle cx="1102.7" cy="1067.5" r="3.4"/><circle cx="1141.8" cy="1028.7" r="3.4"/><circle cx="1260.0" cy="886.4" r="3.4"/><circle cx="1147.0" cy="1003.9" r="3.4"/><circle cx="1171.6" cy="959.8" r="3.4"/><circle cx="1183.7" cy="995.9" r="3.4"/><circle cx="1095.9" cy="1042.6" r="3.4"/><circle cx="1125.1" cy="1030.1" r="3.4"/><circle cx="1146.3" cy="1056.7" r="3.4"/><circle cx="1182.0" cy="909.2" r="3.4"/><circle cx="1167.6" cy="1027.6" r="3.4"/><circle cx="1198.6" cy="978.0" r="3.4"/><circle cx="1153.9" cy="1009.4" r="3.4"/><circle cx="1159.1" cy="996.0" r="3.4"/><circle cx="1162.8" cy="990.7" r="3.4"/><circle cx="1145.9" cy="1006.6" r="3.4"/><circle cx="1137.5" cy="1029.0" r="3.4"/><circle cx="1123.2" cy="1040.1" r="3.4"/><circle cx="1133.7" cy="1057.3" r="3.4"/><circle cx="1145.4" cy="1043.0" r="3.4"/><circle cx="1117.3" cy="1062.6" r="3.4"/><circle cx="1125.1" cy="1045.8" r="3.4"/><circle cx="1134.4" cy="1042.2" r="3.4"/><circle cx="1153.5" cy="1027.6" r="3.4"/><circle cx="1118.0" cy="1029.7" r="3.4"/><circle cx="1139.7" cy="1019.3" r="3.4"/><circle cx="1095.3" cy="999.4" r="3.4"/><circle cx="1141.2" cy="1060.2" r="3.4"/><circle cx="1117.5" cy="1030.8" r="3.4"/><circle cx="1121.4" cy="1061.8" r="3.4"/><circle cx="1149.4" cy="1041.8" r="3.4"/><circle cx="1121.0" cy="1087.1" r="3.4"/><circle cx="1140.8" cy="1070.0" r="3.4"/><circle cx="1115.1" cy="1028.0" r="3.4"/><circle cx="1145.9" cy="1034.6" r="3.4"/><circle cx="1142.2" cy="1026.8" r="3.4"/><circle cx="1092.5" cy="1069.0" r="3.4"/><circle cx="1153.7" cy="1047.2" r="3.4"/><circle cx="1105.6" cy="1073.1" r="3.4"/><circle cx="1097.4" cy="1068.3" r="3.4"/><circle cx="1124.4" cy="1035.0" r="3.4"/><circle cx="1137.7" cy="1041.8" r="3.4"/><circle cx="1174.1" cy="1046.8" r="3.4"/><circle cx="1139.4" cy="1050.2" r="3.4"/><circle cx="1157.8" cy="1030.9" r="3.4"/><circle cx="1156.5" cy="1046.3" r="3.4"/><circle cx="1111.1" cy="1045.8" r="3.4"/><circle cx="1147.8" cy="1025.7" r="3.4"/><circle cx="1160.7" cy="1045.8" r="3.4"/><circle cx="1124.3" cy="1057.2" r="3.4"/><circle cx="1120.1" cy="1025.6" r="3.4"/><circle cx="1116.2" cy="1089.8" r="3.4"/><circle cx="1101.1" cy="1060.4" r="3.4"/><circle cx="1106.5" cy="1082.8" r="3.4"/><circle cx="1113.5" cy="1063.2" r="3.4"/><circle cx="1146.1" cy="1062.7" r="3.4"/><circle cx="1137.4" cy="1081.5" r="3.4"/><circle cx="1111.6" cy="1061.8" r="3.4"/><circle cx="1123.7" cy="1084.4" r="3.4"/><circle cx="1135.9" cy="1012.1" r="3.4"/><circle cx="1120.8" cy="1035.0" r="3.4"/><circle cx="1173.9" cy="1017.5" r="3.4"/><circle cx="1107.9" cy="1043.1" r="3.4"/><circle cx="1130.0" cy="1035.3" r="3.4"/><circle cx="1119.1" cy="1078.9" r="3.4"/><circle cx="1103.3" cy="1066.4" r="3.4"/><circle cx="1124.2" cy="1058.3" r="3.4"/><circle cx="1139.4" cy="1063.9" r="3.4"/><circle cx="1148.0" cy="1038.0" r="3.4"/><circle cx="1142.5" cy="1046.4" r="3.4"/><circle cx="1144.6" cy="1085.7" r="3.4"/><circle cx="1109.5" cy="1065.8" r="3.4"/><circle cx="1149.9" cy="1029.8" r="3.4"/><circle cx="1100.8" cy="1087.9" r="3.4"/><circle cx="1125.2" cy="1053.9" r="3.4"/><circle cx="1116.6" cy="1017.5" r="3.4"/><circle cx="1147.1" cy="1058.6" r="3.4"/><circle cx="1093.5" cy="1048.8" r="3.4"/><circle cx="1110.8" cy="1055.6" r="3.4"/><circle cx="1141.6" cy="1015.1" r="3.4"/><circle cx="1100.5" cy="1072.1" r="3.4"/><circle cx="1127.1" cy="1037.3" r="3.4"/><circle cx="1149.8" cy="1024.4" r="3.4"/><circle cx="1119.5" cy="1018.5" r="3.4"/><circle cx="1146.6" cy="1018.6" r="3.4"/><circle cx="1127.4" cy="1040.3" r="3.4"/><circle cx="1100.9" cy="1076.7" r="3.4"/><circle cx="1156.8" cy="1030.1" r="3.4"/><circle cx="1110.2" cy="1073.5" r="3.4"/><circle cx="1132.6" cy="1078.3" r="3.4"/><circle cx="1131.0" cy="1077.7" r="3.4"/><circle cx="1158.3" cy="1054.8" r="3.4"/><circle cx="1112.3" cy="1084.0" r="3.4"/><circle cx="1107.6" cy="1053.8" r="3.4"/><circle cx="1125.3" cy="1049.4" r="3.4"/><circle cx="1119.3" cy="1029.9" r="3.4"/><circle cx="1118.7" cy="1066.8" r="3.4"/><circle cx="1111.8" cy="1054.6" r="3.4"/><circle cx="1122.1" cy="1051.4" r="3.4"/><circle cx="1147.5" cy="1057.6" r="3.4"/><circle cx="1102.6" cy="1054.3" r="3.4"/><circle cx="1096.4" cy="1089.3" r="3.4"/><circle cx="1094.4" cy="1067.3" r="3.4"/><circle cx="1140.2" cy="995.9" r="3.4"/><circle cx="1129.1" cy="1046.7" r="3.4"/><circle cx="1126.5" cy="1067.7" r="3.4"/><circle cx="1116.2" cy="1089.8" r="3.4"/><circle cx="1119.7" cy="1062.9" r="3.4"/><circle cx="1114.5" cy="1056.8" r="3.4"/><circle cx="1116.8" cy="1051.2" r="3.4"/><circle cx="1115.8" cy="1057.0" r="3.4"/><circle cx="1142.1" cy="1025.2" r="3.4"/><circle cx="1148.0" cy="1014.8" r="3.4"/><circle cx="1143.3" cy="1067.2" r="3.4"/><circle cx="1115.1" cy="1090.8" r="3.4"/><circle cx="1124.3" cy="1038.1" r="3.4"/><circle cx="1124.3" cy="1050.0" r="3.4"/><circle cx="1147.4" cy="999.4" r="3.4"/><circle cx="1157.8" cy="994.3" r="3.4"/><circle cx="1139.7" cy="1048.8" r="3.4"/><circle cx="1127.7" cy="1062.3" r="3.4"/><circle cx="1124.0" cy="1081.9" r="3.4"/><circle cx="1120.9" cy="1078.1" r="3.4"/><circle cx="1118.4" cy="1086.5" r="3.4"/><circle cx="1149.7" cy="1018.2" r="3.4"/><circle cx="1117.7" cy="1063.2" r="3.4"/><circle cx="1113.5" cy="1065.6" r="3.4"/><circle cx="1144.5" cy="1050.3" r="3.4"/><circle cx="1137.0" cy="1047.1" r="3.4"/><circle cx="1128.9" cy="1060.1" r="3.4"/><circle cx="1144.1" cy="1048.5" r="3.4"/><circle cx="1130.0" cy="1060.2" r="3.4"/><circle cx="1129.2" cy="1025.5" r="3.4"/><circle cx="1114.8" cy="1041.3" r="3.4"/><circle cx="1149.0" cy="1035.7" r="3.4"/><circle cx="1125.4" cy="1055.1" r="3.4"/><circle cx="1133.7" cy="1045.5" r="3.4"/><circle cx="1115.4" cy="1035.5" r="3.4"/><circle cx="1095.0" cy="1042.4" r="3.4"/><circle cx="1148.7" cy="1059.5" r="3.4"/><circle cx="1104.8" cy="1070.3" r="3.4"/><circle cx="1095.5" cy="1076.4" r="3.4"/><circle cx="1124.1" cy="1058.1" r="3.4"/><circle cx="1113.7" cy="1068.3" r="3.4"/><circle cx="1135.0" cy="1046.1" r="3.4"/><circle cx="1175.0" cy="1059.2" r="3.4"/><circle cx="1133.2" cy="1059.8" r="3.4"/><circle cx="1181.3" cy="1001.1" r="3.4"/><circle cx="1130.9" cy="945.8" r="3.4"/><circle cx="1155.7" cy="973.7" r="3.4"/><circle cx="1208.4" cy="890.4" r="3.4"/><circle cx="1185.9" cy="991.0" r="3.4"/><circle cx="1214.7" cy="889.6" r="3.4"/><circle cx="1114.1" cy="928.3" r="3.4"/><circle cx="1148.2" cy="863.4" r="3.4"/><circle cx="1154.3" cy="967.7" r="3.4"/><circle cx="1148.7" cy="985.5" r="3.4"/><circle cx="1202.7" cy="948.6" r="3.4"/><circle cx="1176.6" cy="931.1" r="3.4"/><circle cx="1154.2" cy="974.4" r="3.4"/><circle cx="1181.9" cy="1001.0" r="3.4"/><circle cx="1188.7" cy="1005.8" r="3.4"/><circle cx="1270.7" cy="842.0" r="3.4"/><circle cx="1113.5" cy="964.4" r="3.4"/><circle cx="1130.0" cy="1040.9" r="3.4"/><circle cx="1128.9" cy="1020.8" r="3.4"/><circle cx="1221.9" cy="922.2" r="3.4"/><circle cx="1213.5" cy="915.7" r="3.4"/><circle cx="1244.9" cy="951.9" r="3.4"/><circle cx="1177.9" cy="872.6" r="3.4"/><circle cx="1173.9" cy="955.9" r="3.4"/><circle cx="1233.7" cy="887.8" r="3.4"/><circle cx="1200.6" cy="974.6" r="3.4"/><circle cx="1207.0" cy="998.2" r="3.4"/><circle cx="1139.7" cy="973.4" r="3.4"/><circle cx="1155.5" cy="938.5" r="3.4"/><circle cx="1160.5" cy="942.4" r="3.4"/><circle cx="1142.2" cy="987.0" r="3.4"/><circle cx="1215.1" cy="1019.4" r="3.4"/><circle cx="1121.4" cy="991.3" r="3.4"/><circle cx="1141.9" cy="958.6" r="3.4"/><circle cx="1160.3" cy="927.7" r="3.4"/><circle cx="1093.4" cy="927.3" r="3.4"/><circle cx="1228.4" cy="955.6" r="3.4"/><circle cx="1215.6" cy="854.2" r="3.4"/><circle cx="1199.6" cy="973.3" r="3.4"/><circle cx="1111.1" cy="944.4" r="3.4"/><circle cx="1119.2" cy="944.6" r="3.4"/><circle cx="1120.9" cy="952.6" r="3.4"/><circle cx="1221.3" cy="880.9" r="3.4"/><circle cx="1109.1" cy="912.6" r="3.4"/><circle cx="1220.9" cy="945.7" r="3.4"/><circle cx="1203.1" cy="1000.0" r="3.4"/><circle cx="1106.1" cy="956.7" r="3.4"/><circle cx="1104.9" cy="895.7" r="3.4"/><circle cx="1148.9" cy="918.0" r="3.4"/><circle cx="1208.9" cy="981.4" r="3.4"/><circle cx="1179.7" cy="924.0" r="3.4"/><circle cx="1214.8" cy="965.9" r="3.4"/><circle cx="1142.6" cy="1032.7" r="3.4"/><circle cx="1214.9" cy="943.6" r="3.4"/><circle cx="1120.0" cy="953.2" r="3.4"/><circle cx="1118.7" cy="960.7" r="3.4"/><circle cx="1232.1" cy="991.5" r="3.4"/><circle cx="1163.9" cy="945.2" r="3.4"/><circle cx="1093.0" cy="919.7" r="3.4"/><circle cx="1234.1" cy="904.9" r="3.4"/><circle cx="1156.7" cy="935.6" r="3.4"/><circle cx="1172.9" cy="963.2" r="3.4"/><circle cx="1153.2" cy="934.8" r="3.4"/><circle cx="1159.8" cy="836.6" r="3.4"/><circle cx="1207.2" cy="961.1" r="3.4"/><circle cx="1185.7" cy="860.0" r="3.4"/><circle cx="1142.6" cy="979.6" r="3.4"/><circle cx="1167.8" cy="949.0" r="3.4"/><circle cx="1099.9" cy="902.9" r="3.4"/><circle cx="1216.9" cy="991.9" r="3.4"/><circle cx="1216.4" cy="917.6" r="3.4"/><circle cx="1201.3" cy="951.5" r="3.4"/><circle cx="1247.3" cy="936.6" r="3.4"/><circle cx="1182.6" cy="1055.8" r="3.4"/><circle cx="1106.5" cy="995.2" r="3.4"/><circle cx="1219.4" cy="848.3" r="3.4"/><circle cx="1191.4" cy="992.2" r="3.4"/><circle cx="1103.0" cy="938.8" r="3.4"/><circle cx="1238.3" cy="903.1" r="3.4"/><circle cx="1147.6" cy="976.9" r="3.4"/><circle cx="1199.1" cy="870.7" r="3.4"/><circle cx="1138.3" cy="1043.0" r="3.4"/><circle cx="1226.9" cy="868.6" r="3.4"/><circle cx="1150.9" cy="1065.7" r="3.4"/><circle cx="1242.2" cy="981.7" r="3.4"/><circle cx="1160.0" cy="966.4" r="3.4"/><circle cx="1117.9" cy="979.8" r="3.4"/><circle cx="1158.9" cy="1030.4" r="3.4"/><circle cx="1140.5" cy="980.3" r="3.4"/><circle cx="1167.0" cy="991.1" r="3.4"/><circle cx="1201.9" cy="881.3" r="3.4"/><circle cx="1224.2" cy="953.9" r="3.4"/><circle cx="1231.1" cy="945.0" r="3.4"/><circle cx="1176.1" cy="893.0" r="3.4"/><circle cx="1095.2" cy="1018.7" r="3.4"/><circle cx="1274.5" cy="872.0" r="3.4"/><circle cx="1114.4" cy="1030.7" r="3.4"/><circle cx="1179.3" cy="975.2" r="3.4"/><circle cx="1130.1" cy="955.4" r="3.4"/><circle cx="1174.6" cy="965.9" r="3.4"/><circle cx="1231.3" cy="947.5" r="3.4"/><circle cx="1139.3" cy="989.7" r="3.4"/><circle cx="1176.3" cy="858.3" r="3.4"/><circle cx="1157.7" cy="903.9" r="3.4"/><circle cx="1206.4" cy="956.2" r="3.4"/><circle cx="1231.3" cy="1005.3" r="3.4"/><circle cx="1200.2" cy="903.5" r="3.4"/><circle cx="1141.2" cy="982.7" r="3.4"/><circle cx="1102.2" cy="986.4" r="3.4"/><circle cx="1240.2" cy="917.2" r="3.4"/><circle cx="1146.1" cy="972.5" r="3.4"/><circle cx="1109.5" cy="1007.3" r="3.4"/><circle cx="1118.3" cy="1048.9" r="3.4"/><circle cx="1137.1" cy="966.0" r="3.4"/><circle cx="1133.9" cy="948.1" r="3.4"/><circle cx="1216.1" cy="914.6" r="3.4"/><circle cx="1131.9" cy="1054.0" r="3.4"/><circle cx="1151.7" cy="919.8" r="3.4"/><circle cx="1184.4" cy="927.1" r="3.4"/><circle cx="1142.4" cy="985.8" r="3.4"/><circle cx="1116.1" cy="1035.5" r="3.4"/><circle cx="1225.2" cy="870.4" r="3.4"/><circle cx="1244.1" cy="897.3" r="3.4"/><circle cx="1298.0" cy="885.3" r="3.4"/><circle cx="1230.2" cy="931.9" r="3.4"/><circle cx="1208.6" cy="967.2" r="3.4"/><circle cx="1182.3" cy="1036.0" r="3.4"/><circle cx="1217.2" cy="936.7" r="3.4"/><circle cx="1142.8" cy="966.4" r="3.4"/><circle cx="1149.1" cy="948.0" r="3.4"/><circle cx="1239.3" cy="876.8" r="3.4"/><circle cx="1284.0" cy="907.5" r="3.4"/><circle cx="1199.1" cy="848.9" r="3.4"/><circle cx="1110.0" cy="1015.0" r="3.4"/><circle cx="1129.2" cy="921.6" r="3.4"/><circle cx="1200.1" cy="929.6" r="3.4"/><circle cx="1168.9" cy="975.5" r="3.4"/><circle cx="1259.1" cy="849.8" r="3.4"/><circle cx="1100.0" cy="922.3" r="3.4"/><circle cx="1222.5" cy="915.9" r="3.4"/><circle cx="1203.0" cy="916.8" r="3.4"/><circle cx="1222.7" cy="932.9" r="3.4"/><circle cx="1108.5" cy="906.5" r="3.4"/><circle cx="1181.9" cy="974.2" r="3.4"/><circle cx="1194.9" cy="963.5" r="3.4"/><circle cx="1142.7" cy="996.3" r="3.4"/><circle cx="1110.9" cy="967.1" r="3.4"/><circle cx="1172.9" cy="908.1" r="3.4"/><circle cx="1113.0" cy="1021.5" r="3.4"/><circle cx="1209.7" cy="950.0" r="3.4"/><circle cx="1259.0" cy="937.7" r="3.4"/><circle cx="1138.3" cy="896.8" r="3.4"/><circle cx="1246.7" cy="984.4" r="3.4"/><circle cx="1222.1" cy="893.6" r="3.4"/><circle cx="1243.1" cy="949.3" r="3.4"/><circle cx="1101.1" cy="995.9" r="3.4"/><circle cx="1227.2" cy="986.0" r="3.4"/><circle cx="1166.2" cy="989.9" r="3.4"/><circle cx="1158.3" cy="894.8" r="3.4"/><circle cx="1193.7" cy="1000.9" r="3.4"/><circle cx="1251.6" cy="952.7" r="3.4"/><circle cx="1135.0" cy="1011.7" r="3.4"/><circle cx="1172.2" cy="919.7" r="3.4"/><circle cx="1313.8" cy="915.6" r="3.4"/><circle cx="1156.6" cy="968.6" r="3.4"/><circle cx="1248.9" cy="915.1" r="3.4"/><circle cx="1243.2" cy="870.6" r="3.4"/><circle cx="1195.6" cy="962.1" r="3.4"/><circle cx="1181.0" cy="1028.3" r="3.4"/><circle cx="1107.0" cy="950.1" r="3.4"/><circle cx="1158.4" cy="990.9" r="3.4"/><circle cx="1214.3" cy="964.5" r="3.4"/><circle cx="1287.2" cy="910.7" r="3.4"/><circle cx="1316.0" cy="917.2" r="3.4"/><circle cx="1151.0" cy="929.3" r="3.4"/><circle cx="1212.7" cy="928.4" r="3.4"/><circle cx="1227.0" cy="941.2" r="3.4"/><circle cx="1217.6" cy="903.5" r="3.4"/><circle cx="1162.4" cy="920.1" r="3.4"/><circle cx="1250.4" cy="924.0" r="3.4"/><circle cx="1129.6" cy="906.9" r="3.4"/><circle cx="1187.8" cy="986.1" r="3.4"/><circle cx="1229.4" cy="931.8" r="3.4"/><circle cx="1154.0" cy="1051.5" r="3.4"/><circle cx="1216.1" cy="874.1" r="3.4"/><circle cx="1192.8" cy="960.1" r="3.4"/><circle cx="1145.6" cy="998.9" r="3.4"/><circle cx="1123.2" cy="946.1" r="3.4"/><circle cx="1196.2" cy="993.2" r="3.4"/><circle cx="1245.5" cy="890.9" r="3.4"/><circle cx="1147.6" cy="999.9" r="3.4"/><circle cx="1150.2" cy="1030.2" r="3.4"/><circle cx="1165.4" cy="907.8" r="3.4"/><circle cx="1250.0" cy="863.2" r="3.4"/><circle cx="1109.2" cy="969.2" r="3.4"/><circle cx="1189.6" cy="991.1" r="3.4"/><circle cx="1218.0" cy="971.2" r="3.4"/><circle cx="1212.2" cy="940.4" r="3.4"/><circle cx="1182.7" cy="907.1" r="3.4"/><circle cx="1141.1" cy="996.5" r="3.4"/><circle cx="1132.3" cy="1022.8" r="3.4"/><circle cx="1139.4" cy="946.5" r="3.4"/><circle cx="1155.3" cy="981.7" r="3.4"/><circle cx="1163.0" cy="894.3" r="3.4"/><circle cx="1148.5" cy="928.9" r="3.4"/><circle cx="1225.5" cy="895.0" r="3.4"/><circle cx="1177.3" cy="956.3" r="3.4"/><circle cx="1211.2" cy="967.0" r="3.4"/><circle cx="1101.6" cy="959.9" r="3.4"/><circle cx="1197.7" cy="850.7" r="3.4"/><circle cx="1184.7" cy="879.6" r="3.4"/><circle cx="1258.6" cy="971.6" r="3.4"/><circle cx="1217.6" cy="931.5" r="3.4"/><circle cx="1269.7" cy="859.4" r="3.4"/><circle cx="1149.1" cy="1017.0" r="3.4"/><circle cx="1227.2" cy="952.2" r="3.4"/><circle cx="1178.1" cy="940.9" r="3.4"/><circle cx="1128.3" cy="923.4" r="3.4"/><circle cx="1122.3" cy="932.5" r="3.4"/><circle cx="1270.5" cy="912.9" r="3.4"/><circle cx="1179.8" cy="893.4" r="3.4"/><circle cx="1186.7" cy="1003.0" r="3.4"/><circle cx="1135.4" cy="939.6" r="3.4"/><circle cx="1193.7" cy="871.6" r="3.4"/><circle cx="1234.8" cy="903.7" r="3.4"/><circle cx="1102.0" cy="959.2" r="3.4"/><circle cx="1205.1" cy="1034.8" r="3.4"/><circle cx="1126.5" cy="1018.7" r="3.4"/><circle cx="1238.4" cy="954.3" r="3.4"/><circle cx="1213.2" cy="913.2" r="3.4"/><circle cx="1187.0" cy="869.0" r="3.4"/><circle cx="1209.6" cy="950.0" r="3.4"/><circle cx="1305.8" cy="920.3" r="3.4"/><circle cx="1274.4" cy="913.8" r="3.4"/><circle cx="1119.1" cy="1024.2" r="3.4"/><circle cx="1170.3" cy="939.4" r="3.4"/><circle cx="1192.6" cy="918.2" r="3.4"/><circle cx="1102.3" cy="1029.1" r="3.4"/><circle cx="1122.6" cy="952.4" r="3.4"/><circle cx="1146.2" cy="974.8" r="3.4"/><circle cx="1173.3" cy="913.0" r="3.4"/><circle cx="1192.6" cy="958.5" r="3.4"/><circle cx="1272.0" cy="913.2" r="3.4"/><circle cx="1188.8" cy="1026.5" r="3.4"/><circle cx="1100.5" cy="994.9" r="3.4"/><circle cx="1165.2" cy="958.2" r="3.4"/><circle cx="1255.1" cy="866.4" r="3.4"/><circle cx="1218.9" cy="959.1" r="3.4"/><circle cx="1257.0" cy="980.9" r="3.4"/><circle cx="1192.7" cy="1024.6" r="3.4"/><circle cx="1256.1" cy="912.6" r="3.4"/><circle cx="1131.8" cy="954.7" r="3.4"/><circle cx="1100.8" cy="970.0" r="3.4"/><circle cx="1211.8" cy="913.1" r="3.4"/><circle cx="1135.5" cy="971.0" r="3.4"/><circle cx="1117.8" cy="984.9" r="3.4"/><circle cx="1112.4" cy="990.1" r="3.4"/><circle cx="1242.5" cy="881.1" r="3.4"/><circle cx="1181.8" cy="993.1" r="3.4"/><circle cx="1189.4" cy="992.5" r="3.4"/><circle cx="1149.9" cy="963.7" r="3.4"/><circle cx="1227.2" cy="910.3" r="3.4"/><circle cx="1173.6" cy="962.3" r="3.4"/><circle cx="1234.8" cy="956.6" r="3.4"/><circle cx="1112.8" cy="1066.8" r="3.4"/><circle cx="1105.9" cy="1056.1" r="3.4"/><circle cx="1283.9" cy="915.6" r="3.4"/><circle cx="1228.6" cy="980.1" r="3.4"/><circle cx="1148.8" cy="950.1" r="3.4"/><circle cx="1138.8" cy="968.4" r="3.4"/><circle cx="1228.2" cy="876.1" r="3.4"/><circle cx="1160.6" cy="991.8" r="3.4"/><circle cx="1130.8" cy="989.5" r="3.4"/><circle cx="1199.4" cy="905.5" r="3.4"/><circle cx="1161.4" cy="910.8" r="3.4"/><circle cx="1190.5" cy="955.8" r="3.4"/><circle cx="1214.7" cy="879.1" r="3.4"/><circle cx="1193.0" cy="918.6" r="3.4"/><circle cx="1176.7" cy="1029.3" r="3.4"/><circle cx="1205.1" cy="980.8" r="3.4"/><circle cx="1226.1" cy="869.3" r="3.4"/><circle cx="1162.0" cy="980.0" r="3.4"/><circle cx="1132.8" cy="939.1" r="3.4"/><circle cx="1277.8" cy="943.7" r="3.4"/><circle cx="1109.9" cy="991.0" r="3.4"/><circle cx="1277.7" cy="931.2" r="3.4"/><circle cx="1218.2" cy="871.7" r="3.4"/><circle cx="1170.9" cy="1006.6" r="3.4"/><circle cx="1190.3" cy="941.3" r="3.4"/><circle cx="1147.7" cy="972.3" r="3.4"/><circle cx="1229.5" cy="861.7" r="3.4"/><circle cx="1232.7" cy="904.4" r="3.4"/><circle cx="1110.9" cy="986.2" r="3.4"/><circle cx="1173.5" cy="994.2" r="3.4"/><circle cx="1195.7" cy="876.5" r="3.4"/><circle cx="1184.0" cy="969.9" r="3.4"/><circle cx="1152.3" cy="910.7" r="3.4"/><circle cx="1101.6" cy="1059.7" r="3.4"/><circle cx="1182.5" cy="932.0" r="3.4"/><circle cx="1212.7" cy="995.5" r="3.4"/><circle cx="1201.1" cy="903.8" r="3.4"/><circle cx="1248.4" cy="896.6" r="3.4"/><circle cx="1102.7" cy="1053.2" r="3.4"/><circle cx="1101.3" cy="998.8" r="3.4"/><circle cx="1133.9" cy="900.4" r="3.4"/><circle cx="1284.8" cy="889.7" r="3.4"/><circle cx="1164.3" cy="942.5" r="3.4"/><circle cx="1108.8" cy="959.4" r="3.4"/><circle cx="1181.5" cy="1031.1" r="3.4"/><circle cx="1257.9" cy="963.6" r="3.4"/><circle cx="1094.1" cy="1069.3" r="3.4"/><circle cx="1205.6" cy="925.7" r="3.4"/><circle cx="1181.2" cy="954.7" r="3.4"/><circle cx="1137.5" cy="922.5" r="3.4"/><circle cx="1158.9" cy="949.9" r="3.4"/><circle cx="1221.5" cy="915.0" r="3.4"/><circle cx="1221.9" cy="922.0" r="3.4"/><circle cx="1216.5" cy="997.7" r="3.4"/><circle cx="1226.3" cy="964.0" r="3.4"/><circle cx="1149.8" cy="850.0" r="3.4"/><circle cx="1203.6" cy="846.4" r="3.4"/><circle cx="1242.4" cy="946.4" r="3.4"/><circle cx="1189.8" cy="933.2" r="3.4"/><circle cx="1231.0" cy="910.2" r="3.4"/><circle cx="1230.0" cy="957.3" r="3.4"/><circle cx="1157.4" cy="940.8" r="3.4"/><circle cx="1222.0" cy="841.8" r="3.4"/><circle cx="1115.2" cy="969.4" r="3.4"/><circle cx="1160.6" cy="1000.9" r="3.4"/><circle cx="1284.4" cy="846.8" r="3.4"/><circle cx="1173.8" cy="932.2" r="3.4"/><circle cx="1227.1" cy="867.1" r="3.4"/><circle cx="1118.6" cy="962.8" r="3.4"/><circle cx="1180.5" cy="863.7" r="3.4"/><circle cx="1188.0" cy="883.8" r="3.4"/><circle cx="1162.6" cy="888.5" r="3.4"/><circle cx="1246.5" cy="932.2" r="3.4"/><circle cx="1134.7" cy="972.0" r="3.4"/><circle cx="1291.9" cy="913.5" r="3.4"/><circle cx="1166.5" cy="1006.6" r="3.4"/><circle cx="1203.6" cy="940.9" r="3.4"/><circle cx="1239.2" cy="916.0" r="3.4"/><circle cx="1195.7" cy="946.5" r="3.4"/><circle cx="1170.3" cy="1033.8" r="3.4"/><circle cx="1196.8" cy="915.1" r="3.4"/><circle cx="1257.5" cy="942.4" r="3.4"/><circle cx="1101.1" cy="940.3" r="3.4"/><circle cx="1197.2" cy="914.5" r="3.4"/><circle cx="1205.2" cy="1005.2" r="3.4"/><circle cx="1172.7" cy="993.8" r="3.4"/><circle cx="1190.4" cy="944.2" r="3.4"/><circle cx="1215.7" cy="924.6" r="3.4"/><circle cx="1138.0" cy="963.6" r="3.4"/><circle cx="1237.8" cy="961.3" r="3.4"/><circle cx="1119.5" cy="1027.0" r="3.4"/><circle cx="1184.8" cy="947.8" r="3.4"/><circle cx="1156.3" cy="945.3" r="3.4"/><circle cx="1144.4" cy="977.9" r="3.4"/><circle cx="1202.5" cy="927.8" r="3.4"/><circle cx="1113.4" cy="832.7" r="3.4"/><circle cx="1179.7" cy="832.7" r="3.4"/><circle cx="1194.6" cy="832.7" r="3.4"/><circle cx="1218.7" cy="832.7" r="3.4"/><circle cx="1267.1" cy="832.7" r="3.4"/><circle cx="1289.5" cy="836.1" r="3.4"/><circle cx="1334.1" cy="832.7" r="3.4"/><circle cx="1352.7" cy="838.8" r="3.4"/><circle cx="1136.9" cy="832.7" r="3.4"/><circle cx="1315.5" cy="994.4" r="3.4"/><circle cx="1278.3" cy="999.4" r="3.4"/><circle cx="1250.4" cy="1015.2" r="3.4"/><circle cx="1195.3" cy="1081.9" r="3.4"/><circle cx="1176.7" cy="1090.4" r="3.4"/></g>
<g fill="#00C000" fill-opacity="0.5"><circle cx="1296.9" cy="1150.6" r="3.4"/><circle cx="1306.5" cy="1123.7" r="3.4"/><circle cx="1214.5" cy="1154.2" r="3.4"/><circle cx="1231.1" cy="1149.4" r="3.4"/><circle cx="1227.2" cy="1139.4" r="3.4"/><circle cx="1274.4" cy="1139.8" r="3.4"/><circle cx="1223.5" cy="1154.0" r="3.4"/><circle cx="1257.6" cy="1109.0" r="3.4"/><circle cx="1287.1" cy="1105.7" r="3.4"/><circle cx="1214.8" cy="1141.0" r="3.4"/><circle cx="1242.2" cy="1137.5" r="3.4"/><circle cx="1342.7" cy="1108.7" r="3.4"/><circle cx="1260.7" cy="1133.7" r="3.4"/><circle cx="1218.2" cy="1146.0" r="3.4"/><circle cx="1206.7" cy="1158.6" r="3.4"/><circle cx="1221.9" cy="1138.3" r="3.4"/><circle cx="1199.6" cy="1134.0" r="3.4"/><circle cx="1182.2" cy="1158.7" r="3.4"/><circle cx="1179.1" cy="1139.0" r="3.4"/><circle cx="1249.5" cy="1148.9" r="3.4"/><circle cx="1340.1" cy="1081.0" r="3.4"/><circle cx="1316.2" cy="1114.0" r="3.4"/><circle cx="1173.1" cy="1143.8" r="3.4"/><circle cx="1196.1" cy="1130.0" r="3.4"/><circle cx="1211.9" cy="1074.5" r="3.4"/><circle cx="1256.6" cy="1140.0" r="3.4"/><circle cx="1243.7" cy="1124.6" r="3.4"/><circle cx="1294.7" cy="1132.7" r="3.4"/><circle cx="1208.4" cy="1119.8" r="3.4"/><circle cx="1274.1" cy="1152.5" r="3.4"/><circle cx="1205.8" cy="1124.1" r="3.4"/><circle cx="1284.4" cy="1145.9" r="3.4"/><circle cx="1195.3" cy="1142.6" r="3.4"/><circle cx="1258.0" cy="1136.1" r="3.4"/><circle cx="1231.9" cy="1081.5" r="3.4"/><circle cx="1230.1" cy="1152.2" r="3.4"/><circle cx="1281.4" cy="1139.5" r="3.4"/><circle cx="1276.7" cy="1107.8" r="3.4"/><circle cx="1211.1" cy="1103.5" r="3.4"/><circle cx="1198.8" cy="1150.9" r="3.4"/><circle cx="1224.6" cy="1120.5" r="3.4"/><circle cx="1283.7" cy="1144.4" r="3.4"/><circle cx="1272.5" cy="1098.1" r="3.4"/><circle cx="1268.1" cy="1140.2" r="3.4"/><circle cx="1360.5" cy="1134.9" r="3.4"/><circle cx="1199.7" cy="1146.7" r="3.4"/><circle cx="1207.6" cy="1151.9" r="3.4"/><circle cx="1309.1" cy="1153.8" r="3.4"/><circle cx="1241.2" cy="1136.5" r="3.4"/><circle cx="1223.8" cy="1144.5" r="3.4"/><circle cx="1225.0" cy="1127.4" r="3.4"/><circle cx="1301.4" cy="1153.0" r="3.4"/><circle cx="1236.2" cy="1137.8" r="3.4"/><circle cx="1253.6" cy="1137.9" r="3.4"/><circle cx="1326.5" cy="1129.6" r="3.4"/><circle cx="1219.2" cy="1128.3" r="3.4"/><circle cx="1238.4" cy="1097.8" r="3.4"/><circle cx="1215.6" cy="1119.0" r="3.4"/><circle cx="1280.2" cy="1096.5" r="3.4"/><circle cx="1255.6" cy="1125.7" r="3.4"/><circle cx="1279.9" cy="1134.8" r="3.4"/><circle cx="1200.2" cy="1131.0" r="3.4"/><circle cx="1234.0" cy="1150.3" r="3.4"/><circle cx="1258.9" cy="1152.8" r="3.4"/><circle cx="1246.7" cy="1142.5" r="3.4"/><circle cx="1224.8" cy="1121.0" r="3.4"/><circle cx="1196.4" cy="1154.2" r="3.4"/><circle cx="1264.8" cy="1084.5" r="3.4"/><circle cx="1376.5" cy="1086.5" r="3.4"/><circle cx="1227.8" cy="1127.7" r="3.4"/><circle cx="1274.9" cy="1143.0" r="3.4"/><circle cx="1198.4" cy="1086.0" r="3.4"/><circle cx="1283.9" cy="1142.0" r="3.4"/><circle cx="1236.7" cy="1125.9" r="3.4"/><circle cx="1275.2" cy="1115.2" r="3.4"/><circle cx="1186.1" cy="1114.6" r="3.4"/><circle cx="1257.1" cy="1142.6" r="3.4"/><circle cx="1246.2" cy="1146.2" r="3.4"/><circle cx="1209.0" cy="1140.7" r="3.4"/><circle cx="1188.6" cy="1153.7" r="3.4"/><circle cx="1298.1" cy="1136.5" r="3.4"/><circle cx="1291.5" cy="1137.9" r="3.4"/><circle cx="1277.2" cy="1142.2" r="3.4"/><circle cx="1286.8" cy="1129.1" r="3.4"/><circle cx="1224.9" cy="1142.8" r="3.4"/><circle cx="1189.1" cy="1153.5" r="3.4"/><circle cx="1211.2" cy="1146.7" r="3.4"/><circle cx="1301.4" cy="1121.2" r="3.4"/><circle cx="1238.3" cy="1150.9" r="3.4"/><circle cx="1202.9" cy="1129.5" r="3.4"/><circle cx="1270.5" cy="1124.0" r="3.4"/><circle cx="1292.8" cy="1091.3" r="3.4"/><circle cx="1219.8" cy="1129.0" r="3.4"/><circle cx="1261.3" cy="1146.7" r="3.4"/><circle cx="1233.2" cy="1150.2" r="3.4"/><circle cx="1248.9" cy="1137.8" r="3.4"/><circle cx="1298.9" cy="1120.9" r="3.4"/><circle cx="1278.3" cy="1148.5" r="3.4"/><circle cx="1333.0" cy="1152.4" r="3.4"/><circle cx="1233.4" cy="1144.9" r="3.4"/><circle cx="1284.3" cy="1099.7" r="3.4"/><circle cx="1242.9" cy="1112.8" r="3.4"/><circle cx="1295.3" cy="1148.3" r="3.4"/><circle cx="1229.6" cy="1136.7" r="3.4"/><circle cx="1169.6" cy="1154.3" r="3.4"/><circle cx="1231.5" cy="1117.6" r="3.4"/><circle cx="1241.9" cy="1157.6" r="3.4"/><circle cx="1231.8" cy="1131.4" r="3.4"/><circle cx="1255.7" cy="1080.3" r="3.4"/><circle cx="1223.5" cy="1117.7" r="3.4"/><circle cx="1201.9" cy="1143.8" r="3.4"/><circle cx="1272.3" cy="1152.8" r="3.4"/><circle cx="1206.8" cy="1116.3" r="3.4"/><circle cx="1182.2" cy="1153.0" r="3.4"/><circle cx="1304.2" cy="1145.0" r="3.4"/><circle cx="1227.9" cy="1149.1" r="3.4"/><circle cx="1316.7" cy="1106.1" r="3.4"/><circle cx="1169.9" cy="1131.8" r="3.4"/><circle cx="1175.6" cy="1124.8" r="3.4"/><circle cx="1235.0" cy="1112.0" r="3.4"/><circle cx="1259.8" cy="1119.8" r="3.4"/><circle cx="1294.0" cy="1143.3" r="3.4"/><circle cx="1261.9" cy="1131.8" r="3.4"/><circle cx="1207.7" cy="1090.1" r="3.4"/><circle cx="1269.4" cy="1127.5" r="3.4"/><circle cx="1219.5" cy="1120.7" r="3.4"/><circle cx="1284.0" cy="1140.8" r="3.4"/><circle cx="1214.4" cy="1130.7" r="3.4"/><circle cx="1240.9" cy="1155.2" r="3.4"/><circle cx="1240.0" cy="1152.2" r="3.4"/><circle cx="1224.1" cy="1125.2" r="3.4"/><circle cx="1203.4" cy="1139.6" r="3.4"/><circle cx="1264.6" cy="1139.9" r="3.4"/><circle cx="1250.6" cy="1142.7" r="3.4"/><circle cx="1183.0" cy="1114.3" r="3.4"/><circle cx="1243.0" cy="1128.0" r="3.4"/><circle cx="1176.6" cy="1152.2" r="3.4"/><circle cx="1242.3" cy="1097.3" r="3.4"/><circle cx="1183.8" cy="1131.5" r="3.4"/><circle cx="1209.2" cy="1128.3" r="3.4"/><circle cx="1230.1" cy="1157.6" r="3.4"/><circle cx="1264.1" cy="1137.7" r="3.4"/><circle cx="1219.4" cy="1128.7" r="3.4"/><circle cx="1288.8" cy="1133.6" r="3.4"/><circle cx="1260.1" cy="1118.9" r="3.4"/><circle cx="1309.7" cy="1103.0" r="3.4"/><circle cx="1223.8" cy="1139.2" r="3.4"/><circle cx="1213.3" cy="1148.3" r="3.4"/><circle cx="1212.8" cy="1145.2" r="3.4"/><circle cx="1207.2" cy="1108.5" r="3.4"/><circle cx="1276.5" cy="1117.5" r="3.4"/><circle cx="1191.6" cy="1146.8" r="3.4"/><circle cx="1345.3" cy="1113.6" r="3.4"/><circle cx="1261.6" cy="1134.3" r="3.4"/><circle cx="1267.6" cy="1129.8" r="3.4"/><circle cx="1213.7" cy="1101.2" r="3.4"/><circle cx="1307.9" cy="1104.3" r="3.4"/><circle cx="1237.3" cy="1111.2" r="3.4"/><circle cx="1266.4" cy="1137.9" r="3.4"/><circle cx="1262.2" cy="1110.2" r="3.4"/><circle cx="1235.1" cy="1154.6" r="3.4"/><circle cx="1211.0" cy="1109.5" r="3.4"/><circle cx="1281.6" cy="1140.2" r="3.4"/><circle cx="1219.4" cy="1137.0" r="3.4"/><circle cx="1313.7" cy="1119.3" r="3.4"/><circle cx="1232.7" cy="1154.4" r="3.4"/><circle cx="1267.2" cy="1106.8" r="3.4"/><circle cx="1240.9" cy="1114.3" r="3.4"/><circle cx="1271.4" cy="1105.6" r="3.4"/><circle cx="1213.5" cy="1136.4" r="3.4"/><circle cx="1313.2" cy="1128.2" r="3.4"/><circle cx="1284.7" cy="1146.3" r="3.4"/><circle cx="1236.0" cy="1095.9" r="3.4"/><circle cx="1239.4" cy="1137.3" r="3.4"/><circle cx="1250.1" cy="1135.3" r="3.4"/><circle cx="1320.5" cy="1124.7" r="3.4"/><circle cx="1338.0" cy="1150.7" r="3.4"/><circle cx="1206.7" cy="1152.4" r="3.4"/><circle cx="1234.1" cy="1140.8" r="3.4"/><circle cx="1241.7" cy="1129.0" r="3.4"/><circle cx="1185.5" cy="1155.8" r="3.4"/><circle cx="1279.0" cy="1153.2" r="3.4"/><circle cx="1231.8" cy="1083.5" r="3.4"/><circle cx="1258.1" cy="1128.7" r="3.4"/><circle cx="1239.2" cy="1122.3" r="3.4"/><circle cx="1332.9" cy="1083.4" r="3.4"/><circle cx="1185.2" cy="1117.3" r="3.4"/><circle cx="1260.6" cy="1116.3" r="3.4"/><circle cx="1177.9" cy="1126.3" r="3.4"/><circle cx="1177.9" cy="1133.6" r="3.4"/><circle cx="1289.9" cy="1150.5" r="3.4"/><circle cx="1261.3" cy="1141.0" r="3.4"/><circle cx="1208.6" cy="1112.5" r="3.4"/><circle cx="1182.7" cy="1111.2" r="3.4"/><circle cx="1203.0" cy="1111.7" r="3.4"/><circle cx="1320.0" cy="1094.7" r="3.4"/><circle cx="1273.6" cy="1142.7" r="3.4"/><circle cx="1242.6" cy="1151.1" r="3.4"/><circle cx="1181.8" cy="1146.5" r="3.4"/><circle cx="1248.8" cy="1131.5" r="3.4"/><circle cx="1285.9" cy="1119.1" r="3.4"/><circle cx="1179.6" cy="1151.1" r="3.4"/><circle cx="1176.7" cy="1117.0" r="3.4"/><circle cx="1273.2" cy="1146.6" r="3.4"/><circle cx="1203.9" cy="1147.9" r="3.4"/><circle cx="1200.6" cy="1109.7" r="3.4"/><circle cx="1294.1" cy="1124.7" r="3.4"/><circle cx="1222.1" cy="1146.7" r="3.4"/><circle cx="1290.2" cy="1086.9" r="3.4"/><circle cx="1199.2" cy="1135.8" r="3.4"/><circle cx="1348.4" cy="1112.5" r="3.4"/><circle cx="1208.8" cy="1141.4" r="3.4"/><circle cx="1189.8" cy="1141.7" r="3.4"/><circle cx="1211.3" cy="1144.4" r="3.4"/><circle cx="1271.7" cy="1104.1" r="3.4"/><circle cx="1244.3" cy="1119.9" r="3.4"/><circle cx="1237.1" cy="1123.1" r="3.4"/><circle cx="1241.7" cy="1156.4" r="3.4"/><circle cx="1203.5" cy="1127.9" r="3.4"/><circle cx="1234.0" cy="1106.2" r="3.4"/><circle cx="1201.4" cy="1148.2" r="3.4"/><circle cx="1337.1" cy="1117.2" r="3.4"/><circle cx="1297.6" cy="1080.1" r="3.4"/><circle cx="1237.8" cy="1128.7" r="3.4"/><circle cx="1280.0" cy="1120.5" r="3.4"/><circle cx="1304.4" cy="1137.0" r="3.4"/><circle cx="1169.8" cy="1122.3" r="3.4"/><circle cx="1228.3" cy="1157.8" r="3.4"/><circle cx="1187.4" cy="1142.1" r="3.4"/><circle cx="1277.4" cy="1137.1" r="3.4"/><circle cx="1246.8" cy="1156.9" r="3.4"/><circle cx="1225.2" cy="1099.7" r="3.4"/><circle cx="1290.3" cy="1137.2" r="3.4"/><circle cx="1206.6" cy="1123.4" r="3.4"/><circle cx="1282.4" cy="1120.4" r="3.4"/><circle cx="1249.0" cy="1152.0" r="3.4"/><circle cx="1298.8" cy="1095.0" r="3.4"/><circle cx="1279.8" cy="1127.0" r="3.4"/><circle cx="1223.5" cy="1141.2" r="3.4"/><circle cx="1260.6" cy="1099.3" r="3.4"/><circle cx="1229.1" cy="1137.8" r="3.4"/><circle cx="1257.1" cy="1109.7" r="3.4"/><circle cx="1305.3" cy="1096.5" r="3.4"/><circle cx="1192.1" cy="1144.2" r="3.4"/><circle cx="1204.4" cy="1115.0" r="3.4"/><circle cx="1202.3" cy="1141.4" r="3.4"/><circle cx="1322.7" cy="1129.2" r="3.4"/><circle cx="1245.1" cy="1157.3" r="3.4"/><circle cx="1243.8" cy="1149.7" r="3.4"/><circle cx="1248.6" cy="1136.8" r="3.4"/><circle cx="1241.9" cy="1138.1" r="3.4"/><circle cx="1209.7" cy="1152.1" r="3.4"/><circle cx="1215.9" cy="1112.8" r="3.4"/><circle cx="1243.7" cy="1135.3" r="3.4"/><circle cx="1209.6" cy="1112.7" r="3.4"/><circle cx="1282.6" cy="1108.9" r="3.4"/><circle cx="1283.6" cy="1119.4" r="3.4"/><circle cx="1251.2" cy="1111.8" r="3.4"/><circle cx="1284.7" cy="1137.0" r="3.4"/><circle cx="1231.7" cy="1141.9" r="3.4"/><circle cx="1249.0" cy="1141.5" r="3.4"/><circle cx="1286.7" cy="1116.1" r="3.4"/><circle cx="1236.1" cy="1139.3" r="3.4"/><circle cx="1293.4" cy="1138.4" r="3.4"/><circle cx="1294.0" cy="1091.7" r="3.4"/><circle cx="1195.4" cy="1121.1" r="3.4"/><circle cx="1172.4" cy="1143.0" r="3.4"/><circle cx="1246.1" cy="1127.7" r="3.4"/><circle cx="1276.7" cy="1124.5" r="3.4"/><circle cx="1212.1" cy="1132.3" r="3.4"/><circle cx="1259.4" cy="1109.7" r="3.4"/><circle cx="1248.1" cy="1152.6" r="3.4"/><circle cx="1274.7" cy="1116.8" r="3.4"/><circle cx="1295.5" cy="1137.5" r="3.4"/><circle cx="1216.5" cy="1135.2" r="3.4"/><circle cx="1216.8" cy="1154.8" r="3.4"/><circle cx="1340.8" cy="1137.1" r="3.4"/><circle cx="1268.8" cy="1118.1" r="3.4"/><circle cx="1180.8" cy="1154.5" r="3.4"/><circle cx="1254.9" cy="1113.0" r="3.4"/><circle cx="1179.3" cy="1147.4" r="3.4"/><circle cx="1286.3" cy="1156.8" r="3.4"/><circle cx="1233.9" cy="1127.6" r="3.4"/><circle cx="1249.3" cy="1142.8" r="3.4"/><circle cx="1226.8" cy="1158.7" r="3.4"/><circle cx="1213.6" cy="1154.7" r="3.4"/><circle cx="1307.9" cy="1086.9" r="3.4"/><circle cx="1276.5" cy="1109.4" r="3.4"/><circle cx="1235.3" cy="1141.3" r="3.4"/><circle cx="1290.4" cy="1084.3" r="3.4"/><circle cx="1271.4" cy="1146.7" r="3.4"/><circle cx="1261.2" cy="1139.9" r="3.4"/><circle cx="1265.7" cy="1126.5" r="3.4"/><circle cx="1301.6" cy="1091.0" r="3.4"/><circle cx="1234.6" cy="1086.1" r="3.4"/><circle cx="1294.8" cy="1158.0" r="3.4"/><circle cx="1257.0" cy="1113.1" r="3.4"/><circle cx="1191.7" cy="1143.2" r="3.4"/><circle cx="1259.2" cy="1132.1" r="3.4"/><circle cx="1214.8" cy="1090.8" r="3.4"/><circle cx="1293.4" cy="1131.7" r="3.4"/><circle cx="1245.2" cy="1125.4" r="3.4"/><circle cx="1198.9" cy="1135.9" r="3.4"/><circle cx="1272.3" cy="1099.8" r="3.4"/><circle cx="1323.6" cy="1104.2" r="3.4"/><circle cx="1256.5" cy="1118.6" r="3.4"/><circle cx="1246.1" cy="1153.1" r="3.4"/><circle cx="1206.9" cy="1143.5" r="3.4"/><circle cx="1228.6" cy="1121.7" r="3.4"/><circle cx="1209.1" cy="1145.8" r="3.4"/><circle cx="1253.1" cy="1150.6" r="3.4"/><circle cx="1272.7" cy="1111.1" r="3.4"/><circle cx="1306.8" cy="1158.7" r="3.4"/><circle cx="1248.2" cy="1128.0" r="3.4"/><circle cx="1312.8" cy="1144.9" r="3.4"/><circle cx="1265.3" cy="1146.7" r="3.4"/><circle cx="1246.4" cy="1149.4" r="3.4"/><circle cx="1251.9" cy="1124.8" r="3.4"/><circle cx="1211.8" cy="1124.6" r="3.4"/><circle cx="1314.4" cy="1097.5" r="3.4"/><circle cx="1249.7" cy="1099.2" r="3.4"/><circle cx="1246.8" cy="1096.2" r="3.4"/><circle cx="1278.1" cy="1137.0" r="3.4"/><circle cx="1310.9" cy="1124.2" r="3.4"/><circle cx="1255.2" cy="1144.1" r="3.4"/><circle cx="1277.3" cy="1151.5" r="3.4"/><circle cx="1368.3" cy="1125.5" r="3.4"/><circle cx="1261.8" cy="1138.2" r="3.4"/><circle cx="1221.5" cy="1133.2" r="3.4"/><circle cx="1222.8" cy="1091.7" r="3.4"/><circle cx="1308.3" cy="1036.5" r="3.4"/><circle cx="1236.6" cy="1124.7" r="3.4"/><circle cx="1330.1" cy="1045.2" r="3.4"/><circle cx="1318.4" cy="1021.0" r="3.4"/><circle cx="1296.7" cy="1065.8" r="3.4"/><circle cx="1276.8" cy="1068.0" r="3.4"/><circle cx="1262.3" cy="1070.4" r="3.4"/><circle cx="1276.1" cy="1067.2" r="3.4"/><circle cx="1298.6" cy="1037.6" r="3.4"/><circle cx="1268.4" cy="1072.4" r="3.4"/><circle cx="1218.9" cy="1139.6" r="3.4"/><circle cx="1257.3" cy="1052.8" r="3.4"/><circle cx="1268.3" cy="1125.9" r="3.4"/><circle cx="1384.9" cy="1063.5" r="3.4"/><circle cx="1272.3" cy="1103.0" r="3.4"/><circle cx="1298.3" cy="1039.6" r="3.4"/><circle cx="1186.9" cy="1136.8" r="3.4"/><circle cx="1411.3" cy="1071.0" r="3.4"/><circle cx="1254.2" cy="1038.8" r="3.4"/><circle cx="1328.9" cy="1077.6" r="3.4"/><circle cx="1277.0" cy="1061.0" r="3.4"/><circle cx="1319.5" cy="1066.6" r="3.4"/><circle cx="1364.1" cy="1006.3" r="3.4"/><circle cx="1314.6" cy="1049.1" r="3.4"/><circle cx="1421.0" cy="1038.0" r="3.4"/><circle cx="1340.4" cy="972.1" r="3.4"/><circle cx="1246.0" cy="1120.5" r="3.4"/><circle cx="1259.8" cy="1035.0" r="3.4"/><circle cx="1430.5" cy="1002.8" r="3.4"/><circle cx="1230.3" cy="1104.9" r="3.4"/><circle cx="1287.5" cy="1047.8" r="3.4"/><circle cx="1380.2" cy="1010.6" r="3.4"/><circle cx="1338.6" cy="1059.4" r="3.4"/><circle cx="1368.3" cy="998.5" r="3.4"/><circle cx="1294.5" cy="1043.0" r="3.4"/><circle cx="1350.4" cy="1077.3" r="3.4"/><circle cx="1243.4" cy="1124.8" r="3.4"/><circle cx="1271.3" cy="1091.8" r="3.4"/><circle cx="1264.4" cy="1062.3" r="3.4"/><circle cx="1274.2" cy="1024.1" r="3.4"/><circle cx="1301.9" cy="1050.5" r="3.4"/><circle cx="1297.3" cy="1052.3" r="3.4"/><circle cx="1382.9" cy="1030.7" r="3.4"/><circle cx="1189.0" cy="1128.7" r="3.4"/><circle cx="1360.1" cy="1030.7" r="3.4"/><circle cx="1291.6" cy="1030.2" r="3.4"/><circle cx="1345.3" cy="1092.8" r="3.4"/><circle cx="1288.0" cy="1063.2" r="3.4"/><circle cx="1304.1" cy="1100.2" r="3.4"/><circle cx="1295.9" cy="1038.7" r="3.4"/><circle cx="1296.2" cy="1016.6" r="3.4"/><circle cx="1277.3" cy="1074.0" r="3.4"/><circle cx="1253.4" cy="1124.7" r="3.4"/><circle cx="1217.1" cy="1121.1" r="3.4"/><circle cx="1330.1" cy="1056.9" r="3.4"/><circle cx="1279.8" cy="1155.2" r="3.4"/><circle cx="1356.0" cy="1051.4" r="3.4"/><circle cx="1203.4" cy="1125.9" r="3.4"/><circle cx="1297.2" cy="1141.1" r="3.4"/><circle cx="1272.8" cy="1121.8" r="3.4"/><circle cx="1335.2" cy="1083.0" r="3.4"/><circle cx="1265.9" cy="1098.6" r="3.4"/><circle cx="1293.6" cy="1066.3" r="3.4"/><circle cx="1190.0" cy="1137.2" r="3.4"/><circle cx="1362.2" cy="1022.9" r="3.4"/><circle cx="1235.1" cy="1089.6" r="3.4"/><circle cx="1355.2" cy="1046.7" r="3.4"/><circle cx="1259.7" cy="1089.4" r="3.4"/><circle cx="1287.4" cy="1058.1" r="3.4"/><circle cx="1310.8" cy="1016.4" r="3.4"/><circle cx="1282.2" cy="1054.5" r="3.4"/><circle cx="1314.9" cy="1050.3" r="3.4"/><circle cx="1391.4" cy="1026.5" r="3.4"/><circle cx="1344.7" cy="1035.3" r="3.4"/><circle cx="1285.3" cy="1113.4" r="3.4"/><circle cx="1252.9" cy="1099.1" r="3.4"/><circle cx="1256.3" cy="1097.5" r="3.4"/><circle cx="1380.9" cy="995.4" r="3.4"/><circle cx="1339.9" cy="1014.4" r="3.4"/><circle cx="1299.8" cy="1061.4" r="3.4"/><circle cx="1290.0" cy="1101.4" r="3.4"/><circle cx="1305.8" cy="1106.1" r="3.4"/><circle cx="1308.3" cy="1090.3" r="3.4"/><circle cx="1263.5" cy="1106.6" r="3.4"/><circle cx="1296.2" cy="1079.7" r="3.4"/><circle cx="1382.2" cy="1051.0" r="3.4"/><circle cx="1338.4" cy="1096.8" r="3.4"/><circle cx="1327.7" cy="1078.5" r="3.4"/><circle cx="1305.0" cy="1025.6" r="3.4"/><circle cx="1289.6" cy="1086.8" r="3.4"/><circle cx="1254.8" cy="1069.6" r="3.4"/><circle cx="1343.9" cy="1021.5" r="3.4"/><circle cx="1277.8" cy="1107.7" r="3.4"/><circle cx="1331.4" cy="1069.8" r="3.4"/><circle cx="1259.1" cy="1082.8" r="3.4"/><circle cx="1182.2" cy="1146.2" r="3.4"/><circle cx="1352.3" cy="1034.1" r="3.4"/><circle cx="1368.2" cy="1034.3" r="3.4"/><circle cx="1328.3" cy="1104.2" r="3.4"/><circle cx="1305.3" cy="1099.9" r="3.4"/><circle cx="1222.0" cy="1123.9" r="3.4"/><circle cx="1255.5" cy="1125.5" r="3.4"/><circle cx="1282.8" cy="1030.8" r="3.4"/><circle cx="1333.9" cy="1005.5" r="3.4"/><circle cx="1308.1" cy="1132.2" r="3.4"/><circle cx="1335.7" cy="966.0" r="3.4"/><circle cx="1290.6" cy="1121.9" r="3.4"/><circle cx="1278.1" cy="1068.9" r="3.4"/><circle cx="1303.4" cy="1084.0" r="3.4"/><circle cx="1221.8" cy="1144.0" r="3.4"/><circle cx="1352.9" cy="1025.0" r="3.4"/><circle cx="1277.5" cy="1084.1" r="3.4"/><circle cx="1235.8" cy="1134.2" r="3.4"/><circle cx="1241.9" cy="1069.0" r="3.4"/><circle cx="1205.2" cy="1097.6" r="3.4"/><circle cx="1398.8" cy="1051.9" r="3.4"/><circle cx="1220.5" cy="1138.6" r="3.4"/><circle cx="1192.1" cy="1086.2" r="3.4"/><circle cx="1337.5" cy="1001.0" r="3.4"/><circle cx="1263.2" cy="1101.9" r="3.4"/><circle cx="1268.6" cy="1088.0" r="3.4"/><circle cx="1187.4" cy="1101.3" r="3.4"/><circle cx="1322.3" cy="1077.4" r="3.4"/><circle cx="1319.8" cy="1063.4" r="3.4"/><circle cx="1446.3" cy="977.6" r="3.4"/><circle cx="1338.8" cy="1027.1" r="3.4"/><circle cx="1184.6" cy="1129.5" r="3.4"/><circle cx="1389.1" cy="979.3" r="3.4"/><circle cx="1303.3" cy="1070.5" r="3.4"/><circle cx="1306.7" cy="1097.0" r="3.4"/><circle cx="1343.0" cy="1024.5" r="3.4"/><circle cx="1244.4" cy="1085.7" r="3.4"/><circle cx="1293.6" cy="1073.1" r="3.4"/><circle cx="1336.0" cy="1058.6" r="3.4"/><circle cx="1299.0" cy="1069.2" r="3.4"/><circle cx="1272.7" cy="1109.2" r="3.4"/><circle cx="1335.6" cy="1060.5" r="3.4"/><circle cx="1184.4" cy="1112.1" r="3.4"/><circle cx="1372.0" cy="1066.3" r="3.4"/><circle cx="1288.4" cy="1118.6" r="3.4"/><circle cx="1382.3" cy="991.1" r="3.4"/><circle cx="1257.8" cy="1056.3" r="3.4"/><circle cx="1346.7" cy="1037.9" r="3.4"/><circle cx="1329.8" cy="1028.9" r="3.4"/><circle cx="1264.3" cy="1133.2" r="3.4"/><circle cx="1318.2" cy="1079.0" r="3.4"/><circle cx="1250.2" cy="1078.7" r="3.4"/><circle cx="1245.1" cy="1119.4" r="3.4"/><circle cx="1294.0" cy="1079.1" r="3.4"/><circle cx="1332.4" cy="1037.3" r="3.4"/><circle cx="1258.6" cy="976.5" r="3.4"/><circle cx="1271.2" cy="968.8" r="3.4"/><circle cx="1321.5" cy="958.0" r="3.4"/><circle cx="1314.4" cy="989.3" r="3.4"/><circle cx="1193.4" cy="1024.0" r="3.4"/><circle cx="1241.1" cy="1048.3" r="3.4"/><circle cx="1229.9" cy="1063.4" r="3.4"/></g>
<rect x="1077.9" y="809.3" width="400.7" height="363.2" fill="none" stroke="#000" stroke-width="2.7"/>
<path d="M1092.2 1172.5v9.3M1077.9 1159.4h-9.3M1166.6 1172.5v9.3M1077.9 1092.0h-9.3M1241.1 1172.5v9.3M1077.9 1024.7h-9.3M1315.5 1172.5v9.3M1077.9 957.3h-9.3M1390.0 1172.5v9.3M1077.9 890.0h-9.3M1464.4 1172.5v9.3M1077.9 822.6h-9.3" stroke="#000" stroke-width="2.6" fill="none"/>
<g font-size="28">
<text x="1092.2" y="1202.6" text-anchor="middle">0</text>
<text x="1047.1" y="1170.3" text-anchor="middle">0</text>
<text x="1166.6" y="1202.6" text-anchor="middle">20</text>
<text x="1047.1" y="1102.9" text-anchor="middle">20</text>
<text x="1241.1" y="1202.6" text-anchor="middle">40</text>
<text x="1047.1" y="1035.6" text-anchor="middle">40</text>
<text x="1315.5" y="1202.6" text-anchor="middle">60</text>
<text x="1047.1" y="968.2" text-anchor="middle">60</text>
<text x="1390.0" y="1202.6" text-anchor="middle">80</text>
<text x="1047.1" y="900.9" text-anchor="middle">80</text>
<text x="1464.4" y="1202.6" text-anchor="middle">100</text>
<text x="1047.1" y="833.5" text-anchor="middle">100</text>
</g>
<text x="1278.2" y="1235" font-size="35" text-anchor="middle">Matched normal</text>
<text transform="translate(1025.0 990.9) rotate(-90)" font-size="35" text-anchor="middle">MIA</text>
<text x="1278.2" y="789.8" font-size="37.9" font-weight="bold" fill="#0000CD" text-anchor="middle">Pearson's r = 0.7965</text>
</g>
<g id="b3">
<g transform="translate(1500.3 0)"><rect x="87.9" y="818.2" width="379.1" height="345.7" fill="#F8F8FF"/><g clip-path="url(#bclip)"><rect x="94.4" y="953.6" width="12" height="12" fill="#E9D6FB" opacity="0.42"/><rect x="205.8" y="887.2" width="12" height="12" fill="#E9D6FB" opacity="0.67"/><rect x="166.2" y="966.3" width="10" height="10" fill="#E9D6FB" opacity="0.37"/><rect x="430.9" y="953.9" width="11" height="11" fill="#E9D6FB" opacity="0.53"/><rect x="223.8" y="838.9" width="9" height="9" fill="#E9D6FB" opacity="0.45"/><rect x="107.4" y="917.5" width="9" height="9" fill="#E9D6FB" opacity="0.42"/><rect x="204.6" y="1147.3" width="14" height="14" fill="#E9D6FB" opacity="0.37"/><rect x="230.2" y="942.6" width="11" height="11" fill="#E9D6FB" opacity="0.60"/><rect x="316.5" y="1060.0" width="10" height="10" fill="#E9D6FB" opacity="0.63"/><rect x="426.5" y="941.1" width="12" height="12" fill="#E9D6FB" opacity="0.59"/><rect x="204.4" y="902.2" width="14" height="14" fill="#E9D6FB" opacity="0.70"/><rect x="156.1" y="887.3" width="14" height="14" fill="#E9D6FB" opacity="0.50"/><rect x="194.5" y="1141.0" width="12" height="12" fill="#E9D6FB" opacity="0.25"/><rect x="254.5" y="1140.1" width="11" height="11" fill="#E9D6FB" opacity="0.66"/><rect x="118.8" y="1013.9" width="10" height="10" fill="#E9D6FB" opacity="0.54"/><rect x="250.9" y="825.2" width="9" height="9" fill="#E9D6FB" opacity="0.67"/><rect x="436.9" y="984.7" width="10" height="10" fill="#E9D6FB" opacity="0.35"/><rect x="162.7" y="840.3" width="12" height="12" fill="#E9D6FB" opacity="0.52"/><rect x="248.9" y="899.2" width="12" height="12" fill="#E9D6FB" opacity="0.68"/><rect x="352.0" y="1016.9" width="14" height="14" fill="#E9D6FB" opacity="0.60"/><rect x="283.4" y="1138.5" width="11" height="11" fill="#E9D6FB" opacity="0.35"/><rect x="335.4" y="1042.4" width="11" height="11" fill="#E9D6FB" opacity="0.61"/><rect x="339.4" y="1038.5" width="11" height="11" fill="#E9D6FB" opacity="0.31"/><rect x="455.4" y="982.9" width="11" height="11" fill="#E9D6FB" opacity="0.58"/><rect x="89.0" y="1060.6" width="12" height="12" fill="#E9D6FB" opacity="0.36"/><rect x="188.9" y="835.1" width="14" height="14" fill="#E9D6FB" opacity="0.67"/><rect x="305.7" y="1144.9" width="9" height="9" fill="#E9D6FB" opacity="0.53"/><rect x="302.6" y="1056.5" width="11" height="11" fill="#E9D6FB" opacity="0.63"/><rect x="257.2" y="885.3" width="10" height="10" fill="#E9D6FB" opacity="0.26"/><rect x="292.8" y="857.4" width="14" height="14" fill="#E9D6FB" opacity="0.36"/><rect x="250.3" y="897.8" width="12" height="12" fill="#E9D6FB" opacity="0.37"/><rect x="192.0" y="1149.7" width="11" height="11" fill="#E9D6FB" opacity="0.45"/><rect x="409.4" y="1057.3" width="9" height="9" fill="#E9D6FB" opacity="0.41"/><rect x="384.6" y="1038.0" width="11" height="11" fill="#E9D6FB" opacity="0.33"/><rect x="278.1" y="1107.5" width="9" height="9" fill="#E9D6FB" opacity="0.66"/><rect x="172.3" y="901.1" width="11" height="11" fill="#E9D6FB" opacity="0.55"/><rect x="400.2" y="1017.8" width="14" height="14" fill="#E9D6FB" opacity="0.45"/><rect x="87.3" y="951.5" width="14" height="14" fill="#E9D6FB" opacity="0.68"/><rect x="175.3" y="990.5" width="9" height="9" fill="#E9D6FB" opacity="0.29"/><rect x="344.5" y="1099.6" width="11" height="11" fill="#E9D6FB" opacity="0.28"/><rect x="146.2" y="988.8" width="11" height="11" fill="#E9D6FB" opacity="0.37"/><rect x="267.0" y="1115.0" width="11" height="11" fill="#E9D6FB" opacity="0.50"/><rect x="301.4" y="1116.1" width="14" height="14" fill="#E9D6FB" opacity="0.59"/><rect x="320.1" y="1111.1" width="10" height="10" fill="#E9D6FB" opacity="0.35"/><rect x="228.1" y="1126.2" width="14" height="14" fill="#E9D6FB" opacity="0.64"/><rect x="385.9" y="1083.3" width="12" height="12" fill="#E9D6FB" opacity="0.54"/><rect x="310.3" y="1044.9" width="11" height="11" fill="#E9D6FB" opacity="0.26"/><rect x="299.9" y="1066.7" width="9" height="9" fill="#E9D6FB" opacity="0.39"/><rect x="192.1" y="832.2" width="14" height="14" fill="#E9D6FB" opacity="0.37"/><rect x="180.2" y="918.6" width="12" height="12" fill="#E9D6FB" opacity="0.25"/><rect x="160.9" y="951.6" width="11" height="11" fill="#E9D6FB" opacity="0.58"/><rect x="106.7" y="846.5" width="14" height="14" fill="#E9D6FB" opacity="0.65"/><rect x="360.0" y="1007.0" width="9" height="9" fill="#E9D6FB" opacity="0.62"/><rect x="452.1" y="911.2" width="12" height="12" fill="#E9D6FB" opacity="0.29"/><rect x="281.5" y="1130.5" width="9" height="9" fill="#E9D6FB" opacity="0.30"/><rect x="102.0" y="1051.7" width="12" height="12" fill="#E9D6FB" opacity="0.43"/><rect x="124.4" y="947.4" width="10" height="10" fill="#E9D6FB" opacity="0.37"/><rect x="206.3" y="952.7" width="14" height="14" fill="#E9D6FB" opacity="0.37"/><rect x="359.1" y="998.0" width="9" height="9" fill="#E9D6FB" opacity="0.32"/><rect x="385.1" y="1027.6" width="12" height="12" fill="#E9D6FB" opacity="0.37"/><rect x="416.1" y="1129.3" width="12" height="12" fill="#E9D6FB" opacity="0.30"/><rect x="186.1" y="842.4" width="14" height="14" fill="#E9D6FB" opacity="0.51"/><rect x="247.0" y="851.2" width="10" height="10" fill="#E9D6FB" opacity="0.31"/><rect x="307.4" y="818.8" width="14" height="14" fill="#E9D6FB" opacity="0.60"/><rect x="215.3" y="1126.9" width="10" height="10" fill="#E9D6FB" opacity="0.37"/><rect x="364.8" y="1114.5" width="9" height="9" fill="#E9D6FB" opacity="0.26"/><rect x="366.8" y="1038.2" width="9" height="9" fill="#E9D6FB" opacity="0.69"/><rect x="331.5" y="1109.8" width="11" height="11" fill="#E9D6FB" opacity="0.55"/><g transform="translate(92.0 1159.4) rotate(-42.14)"><rect x="-40" y="-134" width="600" height="268" fill="url(#bband)" opacity="0.75" mask="url(#bm)"/><ellipse cx="40" cy="0" rx="280" ry="88" fill="url(#bg1)"/><ellipse cx="508" cy="0" rx="105" ry="52" fill="url(#bg4)" opacity="0.85"/><ellipse cx="22" cy="0" rx="145" ry="74" fill="url(#bg2)"/><ellipse cx="12" cy="0" rx="96" ry="64" fill="url(#bg5)"/><ellipse cx="8" cy="0" rx="56" ry="32" fill="url(#bg3)"/></g><circle cx="93.2" cy="1158.2" r="15" fill="url(#bhot)"/></g></g>
<path d="M1836.1 1148.7h2.3v2.3h-2.3zM1594.2 1044.2h2.3v2.3h-2.3zM1713.7 907.2h2.3v2.3h-2.3zM1850.1 1028.0h2.3v2.3h-2.3zM1799.8 877.0h2.3v2.3h-2.3zM1821.5 1091.3h2.3v2.3h-2.3zM1650.0 945.4h2.3v2.3h-2.3zM1666.0 892.3h2.3v2.3h-2.3zM1811.9 848.3h2.3v2.3h-2.3zM1768.1 894.9h2.3v2.3h-2.3zM1954.0 1042.1h2.3v2.3h-2.3zM1871.2 829.2h2.3v2.3h-2.3zM1944.1 986.8h2.3v2.3h-2.3zM1720.4 823.5h2.3v2.3h-2.3zM1678.2 955.6h2.3v2.3h-2.3zM1646.2 945.7h2.3v2.3h-2.3zM1749.9 924.0h2.3v2.3h-2.3zM1750.0 905.6h2.3v2.3h-2.3zM1696.0 893.1h2.3v2.3h-2.3zM1793.9 879.9h2.3v2.3h-2.3zM1632.7 989.7h2.3v2.3h-2.3zM1593.8 944.2h2.3v2.3h-2.3zM1767.6 1106.3h2.3v2.3h-2.3zM1910.6 1091.7h2.3v2.3h-2.3zM1765.2 861.9h2.3v2.3h-2.3zM1946.4 992.0h2.3v2.3h-2.3zM1637.7 887.5h2.3v2.3h-2.3zM1780.9 1082.3h2.3v2.3h-2.3zM1791.7 1077.5h2.3v2.3h-2.3zM1657.7 974.2h2.3v2.3h-2.3zM1957.8 961.5h2.3v2.3h-2.3zM1918.2 1034.1h2.3v2.3h-2.3zM1931.1 966.4h2.3v2.3h-2.3zM1877.2 1099.5h2.3v2.3h-2.3zM1925.8 999.3h2.3v2.3h-2.3zM1820.6 1150.4h2.3v2.3h-2.3zM1686.4 833.0h2.3v2.3h-2.3zM1604.3 917.2h2.3v2.3h-2.3zM1685.7 843.6h2.3v2.3h-2.3zM1917.1 941.7h2.3v2.3h-2.3zM1904.3 1034.1h2.3v2.3h-2.3zM1920.9 996.6h2.3v2.3h-2.3zM1693.6 961.6h2.3v2.3h-2.3zM1679.4 994.3h2.3v2.3h-2.3zM1690.8 1155.8h2.3v2.3h-2.3zM1845.0 1013.5h2.3v2.3h-2.3zM1856.9 1031.7h2.3v2.3h-2.3zM1809.1 1099.7h2.3v2.3h-2.3zM1665.3 994.8h2.3v2.3h-2.3zM1929.8 948.2h2.3v2.3h-2.3zM1814.3 1131.1h2.3v2.3h-2.3zM1636.1 1019.8h2.3v2.3h-2.3zM1718.0 1146.0h2.3v2.3h-2.3zM1899.2 1119.9h2.3v2.3h-2.3zM1845.9 1014.1h2.3v2.3h-2.3zM1924.6 1095.5h2.3v2.3h-2.3zM1926.7 1069.9h2.3v2.3h-2.3zM1602.9 944.2h2.3v2.3h-2.3zM1620.0 915.2h2.3v2.3h-2.3zM1774.3 1083.2h2.3v2.3h-2.3zM1802.6 1075.3h2.3v2.3h-2.3zM1820.4 1036.8h2.3v2.3h-2.3zM1941.2 1048.3h2.3v2.3h-2.3zM1886.7 1111.9h2.3v2.3h-2.3zM1716.3 892.3h2.3v2.3h-2.3zM1758.6 856.4h2.3v2.3h-2.3zM1826.3 1102.1h2.3v2.3h-2.3zM1819.0 1095.0h2.3v2.3h-2.3zM1700.9 918.1h2.3v2.3h-2.3zM1718.0 963.3h2.3v2.3h-2.3zM1908.1 1091.0h2.3v2.3h-2.3zM1644.1 919.5h2.3v2.3h-2.3zM1943.5 973.4h2.3v2.3h-2.3zM1916.0 983.5h2.3v2.3h-2.3zM1698.6 934.8h2.3v2.3h-2.3zM1805.5 826.2h2.3v2.3h-2.3zM1692.9 855.4h2.3v2.3h-2.3zM1627.3 920.0h2.3v2.3h-2.3zM1621.3 895.3h2.3v2.3h-2.3zM1686.9 912.9h2.3v2.3h-2.3zM1843.5 1120.9h2.3v2.3h-2.3zM1769.8 1133.1h2.3v2.3h-2.3zM1641.4 1029.1h2.3v2.3h-2.3zM1866.7 1151.2h2.3v2.3h-2.3zM1726.3 968.2h2.3v2.3h-2.3zM1802.3 856.2h2.3v2.3h-2.3zM1703.6 922.4h2.3v2.3h-2.3zM1648.2 880.6h2.3v2.3h-2.3zM1886.9 962.3h2.3v2.3h-2.3zM1623.9 961.1h2.3v2.3h-2.3zM1612.0 1027.4h2.3v2.3h-2.3zM1673.0 843.0h2.3v2.3h-2.3zM1792.4 1137.3h2.3v2.3h-2.3zM1910.4 1107.7h2.3v2.3h-2.3zM1792.3 839.5h2.3v2.3h-2.3zM1792.1 1095.9h2.3v2.3h-2.3zM1619.2 972.0h2.3v2.3h-2.3zM1640.1 997.0h2.3v2.3h-2.3zM1821.5 852.8h2.3v2.3h-2.3zM1788.0 1063.2h2.3v2.3h-2.3z" fill="#000"/>
<clipPath id="bbx3"><rect x="1578.0" y="809.3" width="400.7" height="363.2"/></clipPath>
<g clip-path="url(#bbx3)"><path d="M1578.0 1172.5L1978.7 809.9M1578.0 1092.9L1891.4 809.3" stroke="#000" stroke-width="4.9" stroke-dasharray="15.3 24.6" stroke-linecap="round" fill="none"/><path d="M1664.1 1172.5L1978.7 887.8" stroke="#000" stroke-width="4.9" stroke-dasharray="15.3 24.6" stroke-dashoffset="-16" stroke-linecap="round" fill="none"/></g>
<g fill="#EE2A32" fill-opacity="0.55"><circle cx="1630.8" cy="1069.1" r="3.4"/><circle cx="1605.8" cy="1058.7" r="3.4"/><circle cx="1599.6" cy="1066.2" r="3.4"/><circle cx="1665.3" cy="1003.4" r="3.4"/><circle cx="1621.3" cy="1042.5" r="3.4"/><circle cx="1623.9" cy="1018.3" r="3.4"/><circle cx="1612.1" cy="1051.7" r="3.4"/><circle cx="1604.4" cy="1056.8" r="3.4"/><circle cx="1677.4" cy="988.6" r="3.4"/><circle cx="1592.5" cy="1009.5" r="3.4"/><circle cx="1624.6" cy="1054.8" r="3.4"/><circle cx="1613.6" cy="990.6" r="3.4"/><circle cx="1633.6" cy="1035.9" r="3.4"/><circle cx="1634.7" cy="1037.1" r="3.4"/><circle cx="1610.1" cy="1009.5" r="3.4"/><circle cx="1598.4" cy="1066.0" r="3.4"/><circle cx="1629.5" cy="1003.4" r="3.4"/><circle cx="1628.7" cy="1003.5" r="3.4"/><circle cx="1656.9" cy="985.2" r="3.4"/><circle cx="1612.9" cy="1047.5" r="3.4"/><circle cx="1628.4" cy="1073.4" r="3.4"/><circle cx="1683.0" cy="874.6" r="3.4"/><circle cx="1611.1" cy="1077.3" r="3.4"/><circle cx="1656.4" cy="971.7" r="3.4"/><circle cx="1600.1" cy="1090.5" r="3.4"/><circle cx="1639.3" cy="1018.8" r="3.4"/><circle cx="1640.4" cy="1039.8" r="3.4"/><circle cx="1605.8" cy="1065.3" r="3.4"/><circle cx="1649.9" cy="953.5" r="3.4"/><circle cx="1662.1" cy="1066.9" r="3.4"/><circle cx="1597.0" cy="1077.9" r="3.4"/><circle cx="1600.2" cy="1059.1" r="3.4"/><circle cx="1610.8" cy="1016.2" r="3.4"/><circle cx="1625.7" cy="1067.1" r="3.4"/><circle cx="1644.9" cy="1049.9" r="3.4"/><circle cx="1609.4" cy="1036.6" r="3.4"/><circle cx="1633.7" cy="990.0" r="3.4"/><circle cx="1593.0" cy="1041.9" r="3.4"/><circle cx="1621.7" cy="1042.9" r="3.4"/><circle cx="1660.2" cy="1012.5" r="3.4"/><circle cx="1604.9" cy="1027.3" r="3.4"/><circle cx="1597.1" cy="1042.1" r="3.4"/><circle cx="1637.9" cy="965.2" r="3.4"/><circle cx="1618.4" cy="1051.9" r="3.4"/><circle cx="1650.4" cy="1003.5" r="3.4"/><circle cx="1641.7" cy="1027.1" r="3.4"/><circle cx="1628.4" cy="1046.7" r="3.4"/><circle cx="1605.3" cy="1012.6" r="3.4"/><circle cx="1625.4" cy="1073.1" r="3.4"/><circle cx="1639.5" cy="1041.5" r="3.4"/><circle cx="1646.5" cy="1011.2" r="3.4"/><circle cx="1663.7" cy="1024.8" r="3.4"/><circle cx="1610.1" cy="1041.8" r="3.4"/><circle cx="1622.1" cy="1020.2" r="3.4"/><circle cx="1613.4" cy="1027.9" r="3.4"/><circle cx="1646.1" cy="992.6" r="3.4"/><circle cx="1642.4" cy="1034.2" r="3.4"/><circle cx="1673.6" cy="949.0" r="3.4"/><circle cx="1614.8" cy="1079.8" r="3.4"/><circle cx="1636.5" cy="1021.0" r="3.4"/><circle cx="1619.5" cy="1010.3" r="3.4"/><circle cx="1675.7" cy="977.4" r="3.4"/><circle cx="1672.1" cy="962.9" r="3.4"/><circle cx="1650.5" cy="1016.9" r="3.4"/><circle cx="1662.0" cy="1050.0" r="3.4"/><circle cx="1673.7" cy="980.0" r="3.4"/><circle cx="1639.5" cy="1006.7" r="3.4"/><circle cx="1632.8" cy="1068.4" r="3.4"/><circle cx="1676.8" cy="1038.8" r="3.4"/><circle cx="1631.2" cy="1054.2" r="3.4"/><circle cx="1666.1" cy="998.0" r="3.4"/><circle cx="1638.9" cy="1029.5" r="3.4"/><circle cx="1599.9" cy="1059.9" r="3.4"/><circle cx="1606.9" cy="1072.3" r="3.4"/><circle cx="1605.8" cy="1011.5" r="3.4"/><circle cx="1638.8" cy="1045.5" r="3.4"/><circle cx="1659.3" cy="1019.8" r="3.4"/><circle cx="1643.4" cy="980.2" r="3.4"/><circle cx="1648.8" cy="989.8" r="3.4"/><circle cx="1631.2" cy="1011.6" r="3.4"/><circle cx="1695.3" cy="953.1" r="3.4"/><circle cx="1638.0" cy="1028.2" r="3.4"/><circle cx="1618.5" cy="1045.3" r="3.4"/><circle cx="1607.6" cy="1035.7" r="3.4"/><circle cx="1660.6" cy="978.0" r="3.4"/><circle cx="1592.3" cy="1000.5" r="3.4"/><circle cx="1629.7" cy="965.7" r="3.4"/><circle cx="1706.5" cy="970.5" r="3.4"/><circle cx="1641.4" cy="1043.2" r="3.4"/><circle cx="1604.4" cy="1020.0" r="3.4"/><circle cx="1642.4" cy="1000.3" r="3.4"/><circle cx="1613.0" cy="1056.7" r="3.4"/><circle cx="1611.3" cy="1026.5" r="3.4"/><circle cx="1634.8" cy="1037.8" r="3.4"/><circle cx="1678.8" cy="1000.1" r="3.4"/><circle cx="1649.8" cy="1031.6" r="3.4"/><circle cx="1645.2" cy="1052.3" r="3.4"/><circle cx="1606.3" cy="1031.7" r="3.4"/><circle cx="1605.4" cy="1050.2" r="3.4"/><circle cx="1597.7" cy="1078.1" r="3.4"/><circle cx="1614.9" cy="1061.6" r="3.4"/><circle cx="1645.4" cy="1008.2" r="3.4"/><circle cx="1608.6" cy="1024.1" r="3.4"/><circle cx="1595.5" cy="1030.4" r="3.4"/><circle cx="1612.7" cy="1054.2" r="3.4"/><circle cx="1638.9" cy="1018.8" r="3.4"/><circle cx="1637.7" cy="998.5" r="3.4"/><circle cx="1632.4" cy="969.6" r="3.4"/><circle cx="1699.6" cy="985.1" r="3.4"/><circle cx="1633.9" cy="1011.3" r="3.4"/><circle cx="1629.7" cy="1039.3" r="3.4"/><circle cx="1632.9" cy="1011.1" r="3.4"/><circle cx="1600.7" cy="988.5" r="3.4"/><circle cx="1647.3" cy="973.7" r="3.4"/><circle cx="1663.4" cy="994.7" r="3.4"/><circle cx="1606.8" cy="1055.0" r="3.4"/><circle cx="1612.1" cy="1045.7" r="3.4"/><circle cx="1652.2" cy="1015.5" r="3.4"/><circle cx="1598.9" cy="1048.4" r="3.4"/><circle cx="1608.7" cy="1083.1" r="3.4"/><circle cx="1643.4" cy="1010.0" r="3.4"/><circle cx="1609.4" cy="971.9" r="3.4"/><circle cx="1632.4" cy="1058.1" r="3.4"/><circle cx="1609.6" cy="1090.6" r="3.4"/><circle cx="1616.8" cy="1034.0" r="3.4"/><circle cx="1625.6" cy="1072.6" r="3.4"/><circle cx="1597.2" cy="1033.8" r="3.4"/><circle cx="1689.1" cy="974.1" r="3.4"/><circle cx="1603.0" cy="1073.4" r="3.4"/><circle cx="1601.7" cy="1015.3" r="3.4"/><circle cx="1663.4" cy="1072.1" r="3.4"/><circle cx="1625.0" cy="1021.6" r="3.4"/><circle cx="1615.3" cy="1009.9" r="3.4"/><circle cx="1688.8" cy="1052.7" r="3.4"/><circle cx="1625.8" cy="1065.0" r="3.4"/><circle cx="1633.4" cy="1056.5" r="3.4"/><circle cx="1647.2" cy="1053.5" r="3.4"/><circle cx="1595.9" cy="1034.1" r="3.4"/><circle cx="1660.5" cy="982.6" r="3.4"/><circle cx="1636.1" cy="951.1" r="3.4"/><circle cx="1599.9" cy="1058.8" r="3.4"/><circle cx="1629.2" cy="1081.4" r="3.4"/><circle cx="1630.1" cy="1084.9" r="3.4"/><circle cx="1598.8" cy="1030.3" r="3.4"/><circle cx="1611.5" cy="1078.9" r="3.4"/><circle cx="1687.3" cy="940.0" r="3.4"/><circle cx="1622.3" cy="997.0" r="3.4"/><circle cx="1635.9" cy="1045.0" r="3.4"/><circle cx="1629.6" cy="1036.3" r="3.4"/><circle cx="1707.5" cy="938.0" r="3.4"/><circle cx="1674.5" cy="1008.0" r="3.4"/><circle cx="1629.1" cy="1050.6" r="3.4"/><circle cx="1633.8" cy="978.9" r="3.4"/><circle cx="1635.6" cy="992.4" r="3.4"/><circle cx="1669.1" cy="977.2" r="3.4"/><circle cx="1623.6" cy="1014.1" r="3.4"/><circle cx="1617.3" cy="1064.3" r="3.4"/><circle cx="1668.5" cy="987.4" r="3.4"/><circle cx="1612.5" cy="1011.8" r="3.4"/><circle cx="1652.2" cy="1059.9" r="3.4"/><circle cx="1600.0" cy="1043.9" r="3.4"/><circle cx="1650.7" cy="1030.4" r="3.4"/><circle cx="1672.3" cy="1023.4" r="3.4"/><circle cx="1603.7" cy="1028.6" r="3.4"/><circle cx="1664.6" cy="1057.2" r="3.4"/><circle cx="1610.2" cy="1031.9" r="3.4"/><circle cx="1633.1" cy="1077.8" r="3.4"/><circle cx="1625.1" cy="1028.1" r="3.4"/><circle cx="1685.8" cy="1024.8" r="3.4"/><circle cx="1611.2" cy="1057.8" r="3.4"/><circle cx="1600.4" cy="1083.4" r="3.4"/><circle cx="1600.2" cy="983.2" r="3.4"/><circle cx="1680.3" cy="977.9" r="3.4"/><circle cx="1618.0" cy="1023.6" r="3.4"/><circle cx="1654.5" cy="997.5" r="3.4"/><circle cx="1631.3" cy="1062.9" r="3.4"/><circle cx="1646.5" cy="1076.3" r="3.4"/><circle cx="1631.2" cy="1061.4" r="3.4"/><circle cx="1613.1" cy="1023.1" r="3.4"/><circle cx="1645.5" cy="1005.5" r="3.4"/><circle cx="1606.2" cy="1042.9" r="3.4"/><circle cx="1665.4" cy="993.3" r="3.4"/><circle cx="1647.2" cy="1045.4" r="3.4"/><circle cx="1601.0" cy="1058.3" r="3.4"/><circle cx="1605.7" cy="1038.0" r="3.4"/><circle cx="1613.5" cy="1067.4" r="3.4"/><circle cx="1652.2" cy="1009.8" r="3.4"/><circle cx="1647.7" cy="1052.1" r="3.4"/><circle cx="1672.4" cy="956.6" r="3.4"/><circle cx="1659.0" cy="998.4" r="3.4"/><circle cx="1618.4" cy="1029.2" r="3.4"/><circle cx="1598.5" cy="1021.1" r="3.4"/><circle cx="1609.5" cy="1066.8" r="3.4"/><circle cx="1610.7" cy="1048.4" r="3.4"/><circle cx="1646.6" cy="1018.2" r="3.4"/><circle cx="1655.9" cy="1018.6" r="3.4"/><circle cx="1612.5" cy="1014.5" r="3.4"/><circle cx="1616.2" cy="1027.4" r="3.4"/><circle cx="1601.7" cy="1014.2" r="3.4"/><circle cx="1607.8" cy="1039.8" r="3.4"/><circle cx="1610.5" cy="1051.6" r="3.4"/><circle cx="1647.0" cy="1028.5" r="3.4"/><circle cx="1616.9" cy="1010.9" r="3.4"/><circle cx="1627.2" cy="1005.2" r="3.4"/><circle cx="1633.5" cy="1012.2" r="3.4"/><circle cx="1659.5" cy="989.9" r="3.4"/><circle cx="1608.0" cy="1033.1" r="3.4"/><circle cx="1609.7" cy="1033.5" r="3.4"/><circle cx="1623.9" cy="985.7" r="3.4"/><circle cx="1633.0" cy="1058.9" r="3.4"/><circle cx="1676.7" cy="1009.0" r="3.4"/><circle cx="1628.3" cy="1017.0" r="3.4"/><circle cx="1641.8" cy="1026.4" r="3.4"/><circle cx="1606.0" cy="1036.2" r="3.4"/><circle cx="1672.9" cy="1018.3" r="3.4"/><circle cx="1654.0" cy="992.7" r="3.4"/><circle cx="1639.5" cy="950.0" r="3.4"/><circle cx="1615.5" cy="1034.6" r="3.4"/><circle cx="1611.0" cy="1066.9" r="3.4"/><circle cx="1679.5" cy="995.1" r="3.4"/><circle cx="1631.6" cy="1018.3" r="3.4"/><circle cx="1619.9" cy="1029.6" r="3.4"/><circle cx="1627.0" cy="1076.2" r="3.4"/><circle cx="1658.2" cy="1035.7" r="3.4"/><circle cx="1623.8" cy="1017.7" r="3.4"/><circle cx="1600.1" cy="1087.6" r="3.4"/><circle cx="1618.9" cy="1078.2" r="3.4"/><circle cx="1652.0" cy="1041.0" r="3.4"/><circle cx="1614.7" cy="1040.7" r="3.4"/><circle cx="1655.8" cy="1042.1" r="3.4"/><circle cx="1625.7" cy="1014.1" r="3.4"/><circle cx="1643.3" cy="1019.1" r="3.4"/><circle cx="1637.2" cy="1012.1" r="3.4"/><circle cx="1625.9" cy="962.4" r="3.4"/><circle cx="1600.0" cy="1066.0" r="3.4"/><circle cx="1630.6" cy="1034.9" r="3.4"/><circle cx="1668.0" cy="946.7" r="3.4"/><circle cx="1679.0" cy="953.0" r="3.4"/><circle cx="1621.7" cy="1084.4" r="3.4"/><circle cx="1603.6" cy="1051.7" r="3.4"/><circle cx="1635.5" cy="1023.0" r="3.4"/><circle cx="1690.6" cy="1057.9" r="3.4"/><circle cx="1611.0" cy="1018.6" r="3.4"/><circle cx="1638.9" cy="999.0" r="3.4"/><circle cx="1642.5" cy="1034.0" r="3.4"/><circle cx="1640.0" cy="1038.0" r="3.4"/><circle cx="1594.2" cy="1014.7" r="3.4"/><circle cx="1618.5" cy="1004.6" r="3.4"/><circle cx="1645.6" cy="1050.1" r="3.4"/><circle cx="1634.6" cy="1055.2" r="3.4"/><circle cx="1605.9" cy="972.5" r="3.4"/><circle cx="1613.8" cy="1032.7" r="3.4"/><circle cx="1624.2" cy="1083.2" r="3.4"/><circle cx="1624.3" cy="1042.6" r="3.4"/><circle cx="1646.1" cy="1070.2" r="3.4"/><circle cx="1651.6" cy="1039.7" r="3.4"/><circle cx="1673.5" cy="937.3" r="3.4"/><circle cx="1637.3" cy="1015.4" r="3.4"/><circle cx="1618.0" cy="1014.8" r="3.4"/><circle cx="1592.8" cy="1025.5" r="3.4"/><circle cx="1624.7" cy="1007.7" r="3.4"/><circle cx="1634.8" cy="1087.2" r="3.4"/><circle cx="1661.7" cy="1060.5" r="3.4"/><circle cx="1627.7" cy="1080.7" r="3.4"/><circle cx="1699.7" cy="1031.8" r="3.4"/><circle cx="1611.7" cy="1017.9" r="3.4"/><circle cx="1623.3" cy="1056.6" r="3.4"/><circle cx="1617.0" cy="1002.5" r="3.4"/><circle cx="1690.6" cy="956.3" r="3.4"/><circle cx="1624.1" cy="1054.3" r="3.4"/><circle cx="1685.4" cy="1007.1" r="3.4"/><circle cx="1610.6" cy="1025.3" r="3.4"/><circle cx="1626.9" cy="1064.0" r="3.4"/><circle cx="1630.0" cy="983.2" r="3.4"/><circle cx="1638.4" cy="1068.2" r="3.4"/><circle cx="1693.9" cy="1039.2" r="3.4"/><circle cx="1613.1" cy="1030.9" r="3.4"/><circle cx="1704.9" cy="988.7" r="3.4"/><circle cx="1648.1" cy="1059.2" r="3.4"/><circle cx="1632.4" cy="1029.3" r="3.4"/><circle cx="1599.0" cy="1004.5" r="3.4"/><circle cx="1646.5" cy="1056.5" r="3.4"/><circle cx="1598.1" cy="1067.0" r="3.4"/><circle cx="1657.7" cy="994.9" r="3.4"/><circle cx="1610.7" cy="1082.9" r="3.4"/><circle cx="1611.2" cy="1044.9" r="3.4"/><circle cx="1603.7" cy="1021.7" r="3.4"/><circle cx="1605.6" cy="1044.1" r="3.4"/><circle cx="1674.8" cy="1034.3" r="3.4"/><circle cx="1618.9" cy="1077.1" r="3.4"/><circle cx="1598.8" cy="1050.5" r="3.4"/><circle cx="1618.1" cy="1064.8" r="3.4"/><circle cx="1616.0" cy="1059.1" r="3.4"/><circle cx="1660.5" cy="992.7" r="3.4"/><circle cx="1640.9" cy="1056.6" r="3.4"/><circle cx="1629.9" cy="1053.2" r="3.4"/><circle cx="1633.7" cy="1000.4" r="3.4"/><circle cx="1617.2" cy="1059.9" r="3.4"/><circle cx="1601.0" cy="1032.5" r="3.4"/><circle cx="1595.2" cy="1070.1" r="3.4"/><circle cx="1596.0" cy="1074.7" r="3.4"/><circle cx="1656.5" cy="1002.7" r="3.4"/><circle cx="1619.0" cy="1058.1" r="3.4"/><circle cx="1640.4" cy="1031.2" r="3.4"/><circle cx="1595.5" cy="1037.3" r="3.4"/><circle cx="1618.3" cy="1054.8" r="3.4"/><circle cx="1667.1" cy="969.7" r="3.4"/><circle cx="1612.3" cy="1062.9" r="3.4"/><circle cx="1643.3" cy="1032.0" r="3.4"/><circle cx="1661.2" cy="1022.6" r="3.4"/><circle cx="1612.7" cy="1041.4" r="3.4"/><circle cx="1655.1" cy="1018.9" r="3.4"/><circle cx="1634.2" cy="1064.8" r="3.4"/><circle cx="1661.3" cy="983.9" r="3.4"/><circle cx="1659.1" cy="958.8" r="3.4"/><circle cx="1600.0" cy="1045.6" r="3.4"/><circle cx="1682.2" cy="983.1" r="3.4"/><circle cx="1645.8" cy="1080.4" r="3.4"/><circle cx="1630.4" cy="1034.5" r="3.4"/><circle cx="1625.5" cy="976.9" r="3.4"/><circle cx="1626.8" cy="1063.2" r="3.4"/><circle cx="1666.9" cy="1009.3" r="3.4"/><circle cx="1634.6" cy="984.8" r="3.4"/><circle cx="1631.1" cy="1084.9" r="3.4"/><circle cx="1650.2" cy="1004.6" r="3.4"/><circle cx="1595.8" cy="1064.3" r="3.4"/><circle cx="1655.4" cy="1018.3" r="3.4"/><circle cx="1596.5" cy="1059.6" r="3.4"/><circle cx="1607.4" cy="1030.4" r="3.4"/><circle cx="1703.5" cy="923.9" r="3.4"/><circle cx="1625.9" cy="1038.2" r="3.4"/><circle cx="1690.9" cy="928.2" r="3.4"/><circle cx="1627.0" cy="1049.4" r="3.4"/><circle cx="1623.6" cy="1042.0" r="3.4"/><circle cx="1594.9" cy="1067.3" r="3.4"/><circle cx="1601.3" cy="1085.9" r="3.4"/><circle cx="1612.8" cy="1035.6" r="3.4"/><circle cx="1618.1" cy="1032.0" r="3.4"/><circle cx="1596.8" cy="1077.9" r="3.4"/><circle cx="1713.5" cy="985.1" r="3.4"/><circle cx="1652.0" cy="1072.4" r="3.4"/><circle cx="1656.3" cy="970.4" r="3.4"/><circle cx="1637.7" cy="1032.0" r="3.4"/><circle cx="1622.6" cy="1061.7" r="3.4"/><circle cx="1601.6" cy="1018.7" r="3.4"/><circle cx="1629.3" cy="1040.7" r="3.4"/><circle cx="1604.9" cy="1060.7" r="3.4"/><circle cx="1650.2" cy="1031.1" r="3.4"/><circle cx="1604.3" cy="1057.8" r="3.4"/><circle cx="1638.5" cy="1023.6" r="3.4"/><circle cx="1621.5" cy="1064.8" r="3.4"/><circle cx="1623.7" cy="1030.4" r="3.4"/><circle cx="1618.5" cy="1081.9" r="3.4"/><circle cx="1620.9" cy="1006.8" r="3.4"/><circle cx="1669.7" cy="914.3" r="3.4"/><circle cx="1656.9" cy="1038.5" r="3.4"/><circle cx="1596.2" cy="1057.8" r="3.4"/><circle cx="1653.4" cy="1071.3" r="3.4"/><circle cx="1626.5" cy="1037.2" r="3.4"/><circle cx="1602.7" cy="1057.5" r="3.4"/><circle cx="1659.6" cy="1067.2" r="3.4"/><circle cx="1626.7" cy="1076.8" r="3.4"/><circle cx="1621.2" cy="1047.1" r="3.4"/><circle cx="1626.4" cy="1010.9" r="3.4"/><circle cx="1604.1" cy="1034.7" r="3.4"/><circle cx="1662.4" cy="977.3" r="3.4"/><circle cx="1598.2" cy="1072.4" r="3.4"/><circle cx="1619.7" cy="1053.2" r="3.4"/><circle cx="1637.7" cy="993.5" r="3.4"/><circle cx="1661.3" cy="1035.3" r="3.4"/><circle cx="1594.4" cy="1059.9" r="3.4"/><circle cx="1621.3" cy="1026.5" r="3.4"/><circle cx="1602.3" cy="1069.9" r="3.4"/><circle cx="1614.2" cy="1061.3" r="3.4"/><circle cx="1637.6" cy="1017.7" r="3.4"/><circle cx="1594.6" cy="1032.5" r="3.4"/><circle cx="1627.1" cy="1046.9" r="3.4"/><circle cx="1598.7" cy="1074.9" r="3.4"/><circle cx="1595.2" cy="1089.3" r="3.4"/><circle cx="1614.4" cy="1010.8" r="3.4"/><circle cx="1628.5" cy="966.8" r="3.4"/><circle cx="1700.9" cy="950.4" r="3.4"/><circle cx="1652.2" cy="978.8" r="3.4"/><circle cx="1637.8" cy="1019.1" r="3.4"/><circle cx="1624.7" cy="1051.8" r="3.4"/><circle cx="1620.0" cy="1021.2" r="3.4"/><circle cx="1592.7" cy="1034.1" r="3.4"/><circle cx="1628.2" cy="1026.1" r="3.4"/><circle cx="1608.7" cy="1087.2" r="3.4"/><circle cx="1642.2" cy="903.3" r="3.4"/><circle cx="1620.1" cy="1072.1" r="3.4"/><circle cx="1632.0" cy="986.5" r="3.4"/><circle cx="1592.4" cy="1060.3" r="3.4"/><circle cx="1653.6" cy="1041.8" r="3.4"/><circle cx="1597.5" cy="1050.8" r="3.4"/><circle cx="1619.3" cy="1015.2" r="3.4"/><circle cx="1593.6" cy="1090.0" r="3.4"/><circle cx="1645.6" cy="1075.8" r="3.4"/><circle cx="1611.1" cy="1031.4" r="3.4"/><circle cx="1651.0" cy="979.7" r="3.4"/><circle cx="1642.1" cy="1032.1" r="3.4"/><circle cx="1628.4" cy="1002.1" r="3.4"/><circle cx="1630.8" cy="1062.1" r="3.4"/><circle cx="1618.3" cy="1046.0" r="3.4"/><circle cx="1594.2" cy="1005.8" r="3.4"/><circle cx="1635.7" cy="1002.4" r="3.4"/><circle cx="1683.6" cy="1064.1" r="3.4"/><circle cx="1598.3" cy="1048.1" r="3.4"/><circle cx="1627.7" cy="1072.6" r="3.4"/><circle cx="1629.5" cy="1012.3" r="3.4"/><circle cx="1597.0" cy="1044.9" r="3.4"/><circle cx="1636.4" cy="971.5" r="3.4"/><circle cx="1610.8" cy="1062.5" r="3.4"/><circle cx="1672.3" cy="1003.6" r="3.4"/><circle cx="1634.3" cy="1002.5" r="3.4"/><circle cx="1625.9" cy="1041.0" r="3.4"/><circle cx="1616.0" cy="1020.1" r="3.4"/><circle cx="1625.4" cy="1048.6" r="3.4"/><circle cx="1594.0" cy="1062.3" r="3.4"/><circle cx="1610.1" cy="1049.7" r="3.4"/><circle cx="1653.2" cy="980.8" r="3.4"/><circle cx="1605.2" cy="1053.9" r="3.4"/><circle cx="1625.3" cy="1075.2" r="3.4"/><circle cx="1614.7" cy="1010.6" r="3.4"/><circle cx="1636.8" cy="1012.6" r="3.4"/><circle cx="1632.0" cy="1039.1" r="3.4"/><circle cx="1649.6" cy="1030.6" r="3.4"/><circle cx="1594.0" cy="1013.8" r="3.4"/><circle cx="1609.0" cy="1018.9" r="3.4"/><circle cx="1606.2" cy="1005.5" r="3.4"/><circle cx="1646.1" cy="1059.5" r="3.4"/><circle cx="1598.8" cy="1055.2" r="3.4"/><circle cx="1600.9" cy="1049.2" r="3.4"/><circle cx="1641.1" cy="962.8" r="3.4"/><circle cx="1599.3" cy="1005.3" r="3.4"/><circle cx="1651.7" cy="1042.5" r="3.4"/><circle cx="1646.0" cy="1010.1" r="3.4"/><circle cx="1618.4" cy="1046.1" r="3.4"/><circle cx="1638.9" cy="1089.5" r="3.4"/><circle cx="1600.1" cy="1051.2" r="3.4"/><circle cx="1595.2" cy="1023.2" r="3.4"/><circle cx="1679.3" cy="936.2" r="3.4"/><circle cx="1614.9" cy="1061.4" r="3.4"/><circle cx="1602.3" cy="1021.0" r="3.4"/><circle cx="1611.1" cy="1022.8" r="3.4"/><circle cx="1618.6" cy="1087.1" r="3.4"/><circle cx="1593.8" cy="1067.6" r="3.4"/><circle cx="1607.9" cy="1066.3" r="3.4"/><circle cx="1642.7" cy="1055.5" r="3.4"/><circle cx="1609.4" cy="1048.0" r="3.4"/><circle cx="1621.4" cy="1017.9" r="3.4"/><circle cx="1630.4" cy="1045.2" r="3.4"/><circle cx="1626.5" cy="1062.8" r="3.4"/><circle cx="1615.8" cy="1033.3" r="3.4"/><circle cx="1614.5" cy="972.5" r="3.4"/><circle cx="1633.0" cy="992.8" r="3.4"/><circle cx="1629.7" cy="989.2" r="3.4"/><circle cx="1618.3" cy="1080.2" r="3.4"/><circle cx="1613.2" cy="1086.6" r="3.4"/><circle cx="1645.7" cy="964.4" r="3.4"/><circle cx="1631.9" cy="1069.8" r="3.4"/><circle cx="1593.9" cy="1011.9" r="3.4"/><circle cx="1615.6" cy="1043.4" r="3.4"/><circle cx="1677.5" cy="1023.9" r="3.4"/><circle cx="1627.2" cy="1069.2" r="3.4"/><circle cx="1627.8" cy="1060.7" r="3.4"/><circle cx="1622.1" cy="1090.3" r="3.4"/><circle cx="1613.6" cy="1040.1" r="3.4"/><circle cx="1634.8" cy="1012.4" r="3.4"/><circle cx="1623.8" cy="1019.0" r="3.4"/><circle cx="1613.2" cy="1039.2" r="3.4"/><circle cx="1645.6" cy="1019.1" r="3.4"/><circle cx="1598.0" cy="1070.5" r="3.4"/><circle cx="1686.0" cy="1055.7" r="3.4"/><circle cx="1620.4" cy="1022.0" r="3.4"/><circle cx="1616.7" cy="1069.6" r="3.4"/><circle cx="1603.0" cy="1032.4" r="3.4"/><circle cx="1621.5" cy="1077.4" r="3.4"/><circle cx="1644.4" cy="990.2" r="3.4"/><circle cx="1611.5" cy="1022.8" r="3.4"/><circle cx="1604.2" cy="1063.8" r="3.4"/><circle cx="1618.4" cy="1077.1" r="3.4"/><circle cx="1648.8" cy="1052.5" r="3.4"/><circle cx="1635.4" cy="1090.4" r="3.4"/><circle cx="1626.4" cy="1071.1" r="3.4"/><circle cx="1594.0" cy="1046.2" r="3.4"/><circle cx="1613.5" cy="1041.2" r="3.4"/><circle cx="1605.9" cy="1064.6" r="3.4"/><circle cx="1663.0" cy="994.1" r="3.4"/><circle cx="1652.6" cy="971.4" r="3.4"/><circle cx="1599.2" cy="1063.0" r="3.4"/><circle cx="1652.8" cy="1059.1" r="3.4"/><circle cx="1604.3" cy="1079.1" r="3.4"/><circle cx="1641.4" cy="1008.2" r="3.4"/><circle cx="1597.4" cy="1063.5" r="3.4"/><circle cx="1648.4" cy="1058.2" r="3.4"/><circle cx="1597.6" cy="1059.2" r="3.4"/><circle cx="1598.2" cy="1070.4" r="3.4"/><circle cx="1644.0" cy="1062.6" r="3.4"/><circle cx="1609.0" cy="1048.4" r="3.4"/><circle cx="1603.5" cy="1069.6" r="3.4"/><circle cx="1625.1" cy="1046.2" r="3.4"/><circle cx="1598.2" cy="1090.8" r="3.4"/><circle cx="1627.4" cy="1057.5" r="3.4"/><circle cx="1625.8" cy="976.7" r="3.4"/><circle cx="1604.4" cy="1089.8" r="3.4"/><circle cx="1613.3" cy="986.4" r="3.4"/><circle cx="1624.4" cy="1041.2" r="3.4"/><circle cx="1650.7" cy="1045.1" r="3.4"/><circle cx="1597.0" cy="1066.7" r="3.4"/><circle cx="1618.1" cy="1047.2" r="3.4"/><circle cx="1625.8" cy="1043.8" r="3.4"/><circle cx="1652.9" cy="1013.8" r="3.4"/><circle cx="1642.9" cy="1038.9" r="3.4"/><circle cx="1652.5" cy="999.0" r="3.4"/><circle cx="1609.0" cy="1090.5" r="3.4"/><circle cx="1607.7" cy="1051.4" r="3.4"/><circle cx="1617.4" cy="1037.1" r="3.4"/><circle cx="1604.3" cy="1066.2" r="3.4"/><circle cx="1633.2" cy="1077.6" r="3.4"/><circle cx="1629.2" cy="1018.4" r="3.4"/><circle cx="1633.8" cy="1045.1" r="3.4"/><circle cx="1612.8" cy="1085.4" r="3.4"/><circle cx="1631.5" cy="1050.3" r="3.4"/><circle cx="1633.9" cy="1031.7" r="3.4"/><circle cx="1615.8" cy="1017.8" r="3.4"/><circle cx="1637.4" cy="1051.3" r="3.4"/><circle cx="1600.7" cy="1038.3" r="3.4"/><circle cx="1657.2" cy="992.2" r="3.4"/><circle cx="1638.2" cy="1033.7" r="3.4"/><circle cx="1684.5" cy="1019.4" r="3.4"/><circle cx="1596.6" cy="1023.7" r="3.4"/><circle cx="1602.1" cy="1068.4" r="3.4"/><circle cx="1650.4" cy="991.0" r="3.4"/><circle cx="1610.1" cy="1087.1" r="3.4"/><circle cx="1629.6" cy="1044.4" r="3.4"/><circle cx="1617.3" cy="1086.7" r="3.4"/><circle cx="1650.3" cy="982.9" r="3.4"/><circle cx="1643.3" cy="1040.0" r="3.4"/><circle cx="1642.7" cy="1041.9" r="3.4"/><circle cx="1620.6" cy="975.4" r="3.4"/><circle cx="1621.0" cy="992.1" r="3.4"/><circle cx="1612.6" cy="1068.3" r="3.4"/><circle cx="1605.4" cy="1083.6" r="3.4"/><circle cx="1630.5" cy="1054.7" r="3.4"/><circle cx="1610.2" cy="1015.0" r="3.4"/><circle cx="1644.2" cy="1056.5" r="3.4"/><circle cx="1619.3" cy="1053.5" r="3.4"/><circle cx="1650.4" cy="1076.5" r="3.4"/><circle cx="1596.2" cy="1037.1" r="3.4"/><circle cx="1616.1" cy="1073.3" r="3.4"/><circle cx="1604.2" cy="1034.0" r="3.4"/><circle cx="1634.7" cy="948.3" r="3.4"/><circle cx="1645.7" cy="963.9" r="3.4"/><circle cx="1658.9" cy="988.1" r="3.4"/><circle cx="1636.1" cy="1023.5" r="3.4"/><circle cx="1629.6" cy="1067.6" r="3.4"/><circle cx="1619.2" cy="1038.6" r="3.4"/><circle cx="1621.4" cy="1043.6" r="3.4"/><circle cx="1651.4" cy="940.9" r="3.4"/><circle cx="1663.0" cy="966.0" r="3.4"/><circle cx="1645.4" cy="1028.9" r="3.4"/><circle cx="1615.0" cy="1075.4" r="3.4"/><circle cx="1619.9" cy="992.6" r="3.4"/><circle cx="1656.7" cy="1056.1" r="3.4"/><circle cx="1625.0" cy="1029.5" r="3.4"/><circle cx="1646.1" cy="1046.9" r="3.4"/><circle cx="1646.6" cy="1050.1" r="3.4"/><circle cx="1620.8" cy="1042.5" r="3.4"/><circle cx="1599.9" cy="1040.2" r="3.4"/><circle cx="1650.9" cy="972.7" r="3.4"/><circle cx="1621.5" cy="1016.9" r="3.4"/><circle cx="1626.8" cy="1049.0" r="3.4"/><circle cx="1622.7" cy="1007.0" r="3.4"/><circle cx="1601.3" cy="1053.6" r="3.4"/><circle cx="1610.9" cy="1069.0" r="3.4"/><circle cx="1600.5" cy="1053.5" r="3.4"/><circle cx="1659.4" cy="995.8" r="3.4"/><circle cx="1622.1" cy="1052.9" r="3.4"/><circle cx="1665.8" cy="956.7" r="3.4"/><circle cx="1619.5" cy="1053.2" r="3.4"/><circle cx="1600.8" cy="1052.7" r="3.4"/><circle cx="1635.1" cy="980.7" r="3.4"/><circle cx="1603.0" cy="1036.2" r="3.4"/><circle cx="1606.1" cy="1050.5" r="3.4"/><circle cx="1604.5" cy="1088.4" r="3.4"/><circle cx="1619.7" cy="997.9" r="3.4"/><circle cx="1612.3" cy="1088.8" r="3.4"/><circle cx="1599.3" cy="1030.4" r="3.4"/><circle cx="1683.8" cy="970.6" r="3.4"/><circle cx="1665.3" cy="984.3" r="3.4"/><circle cx="1643.0" cy="1015.1" r="3.4"/><circle cx="1612.3" cy="1061.1" r="3.4"/><circle cx="1632.4" cy="1006.5" r="3.4"/><circle cx="1594.8" cy="1067.6" r="3.4"/><circle cx="1595.3" cy="1069.3" r="3.4"/><circle cx="1642.1" cy="988.7" r="3.4"/><circle cx="1675.2" cy="1001.5" r="3.4"/><circle cx="1629.1" cy="1006.3" r="3.4"/><circle cx="1600.5" cy="1052.9" r="3.4"/><circle cx="1605.2" cy="1036.4" r="3.4"/><circle cx="1621.4" cy="1073.9" r="3.4"/><circle cx="1670.0" cy="983.2" r="3.4"/><circle cx="1635.0" cy="1043.5" r="3.4"/><circle cx="1660.6" cy="977.8" r="3.4"/><circle cx="1660.0" cy="984.9" r="3.4"/><circle cx="1614.9" cy="1072.2" r="3.4"/><circle cx="1618.3" cy="1060.6" r="3.4"/><circle cx="1643.5" cy="1021.1" r="3.4"/><circle cx="1600.9" cy="1037.0" r="3.4"/><circle cx="1601.2" cy="1056.4" r="3.4"/><circle cx="1626.5" cy="1010.4" r="3.4"/><circle cx="1624.3" cy="998.7" r="3.4"/><circle cx="1637.2" cy="966.2" r="3.4"/><circle cx="1637.1" cy="975.5" r="3.4"/><circle cx="1609.6" cy="1066.7" r="3.4"/><circle cx="1595.1" cy="1067.4" r="3.4"/><circle cx="1631.9" cy="995.9" r="3.4"/><circle cx="1614.7" cy="1050.9" r="3.4"/><circle cx="1658.2" cy="1053.8" r="3.4"/><circle cx="1679.8" cy="1012.7" r="3.4"/><circle cx="1650.4" cy="991.7" r="3.4"/><circle cx="1611.4" cy="1028.4" r="3.4"/><circle cx="1603.6" cy="1077.3" r="3.4"/><circle cx="1674.3" cy="998.7" r="3.4"/><circle cx="1630.3" cy="1002.0" r="3.4"/><circle cx="1630.9" cy="1057.4" r="3.4"/><circle cx="1679.5" cy="1007.6" r="3.4"/><circle cx="1627.0" cy="1052.1" r="3.4"/><circle cx="1622.8" cy="1042.5" r="3.4"/><circle cx="1601.7" cy="1082.7" r="3.4"/><circle cx="1649.7" cy="998.6" r="3.4"/><circle cx="1625.2" cy="1049.1" r="3.4"/><circle cx="1647.1" cy="1070.8" r="3.4"/><circle cx="1639.3" cy="1006.0" r="3.4"/><circle cx="1650.9" cy="1044.3" r="3.4"/><circle cx="1602.4" cy="1032.2" r="3.4"/><circle cx="1602.0" cy="1026.1" r="3.4"/><circle cx="1631.0" cy="1060.5" r="3.4"/><circle cx="1601.7" cy="1028.1" r="3.4"/><circle cx="1657.9" cy="991.4" r="3.4"/><circle cx="1622.1" cy="1006.2" r="3.4"/><circle cx="1612.6" cy="1048.6" r="3.4"/><circle cx="1615.9" cy="1032.4" r="3.4"/><circle cx="1598.6" cy="1078.9" r="3.4"/><circle cx="1638.2" cy="1051.6" r="3.4"/><circle cx="1648.4" cy="1063.9" r="3.4"/><circle cx="1627.7" cy="1058.9" r="3.4"/><circle cx="1623.2" cy="1010.8" r="3.4"/><circle cx="1685.4" cy="986.8" r="3.4"/><circle cx="1621.6" cy="1075.2" r="3.4"/><circle cx="1599.2" cy="1089.6" r="3.4"/><circle cx="1608.1" cy="1037.0" r="3.4"/><circle cx="1613.5" cy="1041.2" r="3.4"/><circle cx="1670.9" cy="1014.4" r="3.4"/><circle cx="1628.1" cy="980.5" r="3.4"/><circle cx="1675.9" cy="947.6" r="3.4"/><circle cx="1619.6" cy="1039.9" r="3.4"/><circle cx="1605.0" cy="1040.1" r="3.4"/><circle cx="1688.7" cy="957.9" r="3.4"/><circle cx="1598.2" cy="1036.7" r="3.4"/><circle cx="1609.5" cy="1072.5" r="3.4"/><circle cx="1645.2" cy="1028.9" r="3.4"/><circle cx="1643.2" cy="1007.5" r="3.4"/><circle cx="1642.1" cy="1012.9" r="3.4"/><circle cx="1621.3" cy="1048.0" r="3.4"/><circle cx="1634.7" cy="988.3" r="3.4"/><circle cx="1602.8" cy="1069.8" r="3.4"/><circle cx="1620.3" cy="961.6" r="3.4"/><circle cx="1644.3" cy="971.5" r="3.4"/><circle cx="1615.1" cy="1023.7" r="3.4"/><circle cx="1607.5" cy="1041.5" r="3.4"/><circle cx="1622.7" cy="1036.0" r="3.4"/><circle cx="1599.3" cy="1026.8" r="3.4"/><circle cx="1633.8" cy="1069.1" r="3.4"/><circle cx="1655.5" cy="1049.1" r="3.4"/><circle cx="1597.8" cy="1086.5" r="3.4"/><circle cx="1635.9" cy="1051.0" r="3.4"/><circle cx="1612.9" cy="1035.1" r="3.4"/><circle cx="1675.9" cy="1022.3" r="3.4"/><circle cx="1642.5" cy="1039.8" r="3.4"/><circle cx="1609.3" cy="1062.3" r="3.4"/><circle cx="1601.0" cy="1028.4" r="3.4"/><circle cx="1633.0" cy="1070.3" r="3.4"/><circle cx="1629.6" cy="1006.2" r="3.4"/><circle cx="1628.2" cy="1090.4" r="3.4"/><circle cx="1617.6" cy="1021.1" r="3.4"/><circle cx="1650.1" cy="973.9" r="3.4"/><circle cx="1618.1" cy="1024.7" r="3.4"/><circle cx="1614.9" cy="1066.1" r="3.4"/><circle cx="1631.5" cy="1009.4" r="3.4"/><circle cx="1656.6" cy="994.6" r="3.4"/><circle cx="1661.5" cy="974.5" r="3.4"/><circle cx="1615.4" cy="1055.1" r="3.4"/><circle cx="1613.2" cy="999.3" r="3.4"/><circle cx="1641.5" cy="1007.5" r="3.4"/><circle cx="1664.9" cy="968.9" r="3.4"/><circle cx="1666.6" cy="992.3" r="3.4"/><circle cx="1620.8" cy="1015.2" r="3.4"/><circle cx="1618.8" cy="1014.2" r="3.4"/><circle cx="1594.4" cy="991.5" r="3.4"/><circle cx="1607.9" cy="1023.8" r="3.4"/><circle cx="1688.8" cy="1026.4" r="3.4"/><circle cx="1603.6" cy="1077.9" r="3.4"/><circle cx="1661.5" cy="1046.5" r="3.4"/><circle cx="1649.8" cy="1031.2" r="3.4"/><circle cx="1691.1" cy="943.1" r="3.4"/><circle cx="1620.4" cy="1043.0" r="3.4"/><circle cx="1634.1" cy="1053.2" r="3.4"/><circle cx="1597.0" cy="1061.4" r="3.4"/><circle cx="1630.2" cy="1032.4" r="3.4"/><circle cx="1633.8" cy="1032.7" r="3.4"/><circle cx="1615.7" cy="1032.7" r="3.4"/><circle cx="1598.9" cy="988.5" r="3.4"/><circle cx="1644.1" cy="991.7" r="3.4"/><circle cx="1699.0" cy="906.6" r="3.4"/><circle cx="1651.8" cy="961.3" r="3.4"/><circle cx="1635.6" cy="1078.9" r="3.4"/><circle cx="1599.6" cy="1070.5" r="3.4"/><circle cx="1601.3" cy="1073.3" r="3.4"/><circle cx="1634.4" cy="1056.6" r="3.4"/><circle cx="1621.7" cy="1017.4" r="3.4"/><circle cx="1612.3" cy="1049.6" r="3.4"/><circle cx="1655.6" cy="1008.9" r="3.4"/><circle cx="1627.9" cy="1028.7" r="3.4"/><circle cx="1609.1" cy="1041.6" r="3.4"/><circle cx="1646.8" cy="995.6" r="3.4"/><circle cx="1631.6" cy="1071.0" r="3.4"/><circle cx="1604.2" cy="1058.3" r="3.4"/><circle cx="1641.4" cy="1013.7" r="3.4"/><circle cx="1619.7" cy="993.7" r="3.4"/><circle cx="1628.7" cy="1026.9" r="3.4"/><circle cx="1601.9" cy="1052.8" r="3.4"/><circle cx="1677.5" cy="944.3" r="3.4"/><circle cx="1636.2" cy="1036.3" r="3.4"/><circle cx="1627.1" cy="994.5" r="3.4"/><circle cx="1610.0" cy="1051.8" r="3.4"/><circle cx="1642.3" cy="1052.8" r="3.4"/><circle cx="1602.4" cy="1051.8" r="3.4"/><circle cx="1633.7" cy="1039.2" r="3.4"/><circle cx="1645.2" cy="981.0" r="3.4"/><circle cx="1609.5" cy="1041.5" r="3.4"/><circle cx="1598.5" cy="977.2" r="3.4"/><circle cx="1628.5" cy="1024.6" r="3.4"/><circle cx="1597.6" cy="1024.5" r="3.4"/><circle cx="1604.2" cy="1019.4" r="3.4"/><circle cx="1611.8" cy="1023.6" r="3.4"/><circle cx="1641.6" cy="1022.2" r="3.4"/><circle cx="1596.9" cy="1045.5" r="3.4"/><circle cx="1652.7" cy="1012.4" r="3.4"/><circle cx="1611.1" cy="1050.8" r="3.4"/><circle cx="1597.4" cy="1040.1" r="3.4"/><circle cx="1615.8" cy="1044.4" r="3.4"/><circle cx="1627.9" cy="1005.3" r="3.4"/><circle cx="1616.1" cy="1040.9" r="3.4"/><circle cx="1704.1" cy="1052.9" r="3.4"/><circle cx="1603.3" cy="1039.9" r="3.4"/><circle cx="1626.8" cy="1055.4" r="3.4"/><circle cx="1636.1" cy="1087.5" r="3.4"/><circle cx="1687.8" cy="931.1" r="3.4"/><circle cx="1666.0" cy="1007.2" r="3.4"/><circle cx="1606.7" cy="994.2" r="3.4"/><circle cx="1659.5" cy="913.4" r="3.4"/><circle cx="1603.0" cy="1039.7" r="3.4"/><circle cx="1626.5" cy="1031.6" r="3.4"/><circle cx="1626.2" cy="1086.2" r="3.4"/><circle cx="1627.7" cy="1035.0" r="3.4"/><circle cx="1657.1" cy="1050.6" r="3.4"/><circle cx="1625.7" cy="948.4" r="3.4"/><circle cx="1627.1" cy="1071.2" r="3.4"/><circle cx="1626.9" cy="1076.0" r="3.4"/><circle cx="1624.0" cy="1059.1" r="3.4"/><circle cx="1618.5" cy="1058.0" r="3.4"/><circle cx="1657.6" cy="979.8" r="3.4"/><circle cx="1647.4" cy="1017.9" r="3.4"/><circle cx="1654.4" cy="1045.2" r="3.4"/><circle cx="1608.9" cy="1056.5" r="3.4"/><circle cx="1626.1" cy="1062.2" r="3.4"/><circle cx="1621.5" cy="1029.7" r="3.4"/><circle cx="1647.3" cy="1025.2" r="3.4"/><circle cx="1640.7" cy="949.2" r="3.4"/><circle cx="1624.3" cy="1014.5" r="3.4"/><circle cx="1626.7" cy="1026.5" r="3.4"/><circle cx="1605.1" cy="1054.4" r="3.4"/><circle cx="1630.0" cy="1086.4" r="3.4"/><circle cx="1670.9" cy="1062.5" r="3.4"/><circle cx="1617.0" cy="1052.7" r="3.4"/><circle cx="1619.0" cy="1042.2" r="3.4"/><circle cx="1607.3" cy="1002.8" r="3.4"/><circle cx="1655.6" cy="1019.2" r="3.4"/><circle cx="1608.4" cy="1066.1" r="3.4"/><circle cx="1596.6" cy="1083.9" r="3.4"/><circle cx="1603.3" cy="994.4" r="3.4"/><circle cx="1606.0" cy="1011.5" r="3.4"/><circle cx="1593.0" cy="1044.9" r="3.4"/><circle cx="1682.6" cy="1013.2" r="3.4"/><circle cx="1614.0" cy="1033.4" r="3.4"/><circle cx="1654.4" cy="999.2" r="3.4"/><circle cx="1632.6" cy="1047.0" r="3.4"/><circle cx="1648.2" cy="1016.8" r="3.4"/><circle cx="1620.8" cy="1042.9" r="3.4"/><circle cx="1605.3" cy="1054.7" r="3.4"/><circle cx="1637.9" cy="1026.6" r="3.4"/><circle cx="1656.1" cy="1033.2" r="3.4"/><circle cx="1620.5" cy="1025.7" r="3.4"/><circle cx="1610.6" cy="1063.3" r="3.4"/><circle cx="1600.0" cy="1089.7" r="3.4"/><circle cx="1633.3" cy="1010.1" r="3.4"/><circle cx="1681.2" cy="998.3" r="3.4"/><circle cx="1650.6" cy="1039.8" r="3.4"/><circle cx="1666.0" cy="996.1" r="3.4"/><circle cx="1661.4" cy="1023.5" r="3.4"/><circle cx="1611.5" cy="1039.8" r="3.4"/><circle cx="1627.8" cy="1022.5" r="3.4"/><circle cx="1613.3" cy="1050.2" r="3.4"/><circle cx="1666.5" cy="992.0" r="3.4"/><circle cx="1629.1" cy="1058.2" r="3.4"/><circle cx="1611.6" cy="1016.4" r="3.4"/><circle cx="1678.6" cy="975.5" r="3.4"/><circle cx="1673.9" cy="987.0" r="3.4"/><circle cx="1615.6" cy="1004.1" r="3.4"/><circle cx="1623.7" cy="1071.0" r="3.4"/><circle cx="1630.8" cy="942.3" r="3.4"/><circle cx="1634.5" cy="1027.2" r="3.4"/><circle cx="1613.3" cy="1030.9" r="3.4"/><circle cx="1615.1" cy="1079.6" r="3.4"/><circle cx="1597.7" cy="1064.2" r="3.4"/><circle cx="1603.8" cy="1083.2" r="3.4"/><circle cx="1649.7" cy="1014.6" r="3.4"/><circle cx="1602.9" cy="1008.3" r="3.4"/><circle cx="1612.3" cy="1059.1" r="3.4"/><circle cx="1626.7" cy="1058.3" r="3.4"/><circle cx="1593.0" cy="1054.5" r="3.4"/><circle cx="1606.1" cy="1049.7" r="3.4"/><circle cx="1634.3" cy="990.4" r="3.4"/><circle cx="1613.7" cy="1081.1" r="3.4"/><circle cx="1594.1" cy="1062.8" r="3.4"/><circle cx="1608.2" cy="1088.0" r="3.4"/><circle cx="1657.2" cy="951.6" r="3.4"/><circle cx="1619.8" cy="979.6" r="3.4"/><circle cx="1646.0" cy="1045.0" r="3.4"/><circle cx="1623.0" cy="1070.6" r="3.4"/><circle cx="1652.4" cy="1032.6" r="3.4"/><circle cx="1612.7" cy="1057.5" r="3.4"/><circle cx="1617.4" cy="1004.5" r="3.4"/><circle cx="1612.4" cy="1054.4" r="3.4"/><circle cx="1616.8" cy="978.8" r="3.4"/><circle cx="1622.8" cy="1028.4" r="3.4"/><circle cx="1599.1" cy="1065.4" r="3.4"/><circle cx="1630.8" cy="1019.0" r="3.4"/><circle cx="1630.4" cy="1056.9" r="3.4"/><circle cx="1611.2" cy="1089.8" r="3.4"/><circle cx="1625.7" cy="1060.9" r="3.4"/><circle cx="1645.8" cy="1028.2" r="3.4"/><circle cx="1665.3" cy="1020.3" r="3.4"/><circle cx="1705.1" cy="931.6" r="3.4"/><circle cx="1633.5" cy="1062.0" r="3.4"/><circle cx="1614.0" cy="1019.0" r="3.4"/><circle cx="1645.8" cy="1079.0" r="3.4"/><circle cx="1643.5" cy="1011.8" r="3.4"/><circle cx="1614.9" cy="991.8" r="3.4"/><circle cx="1659.0" cy="1025.6" r="3.4"/><circle cx="1623.5" cy="1044.6" r="3.4"/><circle cx="1597.1" cy="1082.7" r="3.4"/><circle cx="1634.2" cy="1038.7" r="3.4"/><circle cx="1594.7" cy="1069.2" r="3.4"/><circle cx="1594.5" cy="1040.9" r="3.4"/><circle cx="1592.7" cy="1038.8" r="3.4"/><circle cx="1664.5" cy="993.2" r="3.4"/><circle cx="1603.8" cy="1067.5" r="3.4"/><circle cx="1619.4" cy="1052.4" r="3.4"/><circle cx="1649.1" cy="1081.5" r="3.4"/><circle cx="1668.0" cy="1042.8" r="3.4"/><circle cx="1672.1" cy="999.2" r="3.4"/><circle cx="1604.4" cy="1057.6" r="3.4"/><circle cx="1619.7" cy="1067.0" r="3.4"/><circle cx="1637.9" cy="1031.9" r="3.4"/><circle cx="1634.2" cy="1016.0" r="3.4"/><circle cx="1627.1" cy="1048.3" r="3.4"/><circle cx="1619.0" cy="1021.0" r="3.4"/><circle cx="1663.2" cy="993.4" r="3.4"/><circle cx="1594.2" cy="1064.9" r="3.4"/><circle cx="1675.0" cy="1032.6" r="3.4"/><circle cx="1623.2" cy="1031.1" r="3.4"/><circle cx="1659.2" cy="985.7" r="3.4"/><circle cx="1666.5" cy="1015.7" r="3.4"/><circle cx="1632.9" cy="1060.4" r="3.4"/><circle cx="1635.3" cy="1016.0" r="3.4"/><circle cx="1631.4" cy="1016.1" r="3.4"/><circle cx="1596.8" cy="1078.8" r="3.4"/><circle cx="1607.2" cy="1084.6" r="3.4"/><circle cx="1611.2" cy="1074.8" r="3.4"/><circle cx="1612.3" cy="1064.4" r="3.4"/><circle cx="1600.5" cy="948.3" r="3.4"/><circle cx="1633.8" cy="1072.5" r="3.4"/><circle cx="1600.3" cy="1018.2" r="3.4"/><circle cx="1634.4" cy="1054.2" r="3.4"/><circle cx="1628.9" cy="1006.4" r="3.4"/><circle cx="1610.7" cy="1048.6" r="3.4"/><circle cx="1615.0" cy="1015.9" r="3.4"/><circle cx="1638.6" cy="979.3" r="3.4"/><circle cx="1654.7" cy="972.9" r="3.4"/><circle cx="1609.7" cy="1004.2" r="3.4"/><circle cx="1616.9" cy="1058.6" r="3.4"/><circle cx="1617.5" cy="992.5" r="3.4"/><circle cx="1607.5" cy="1071.7" r="3.4"/><circle cx="1620.4" cy="1055.4" r="3.4"/><circle cx="1620.1" cy="1062.1" r="3.4"/><circle cx="1615.9" cy="1044.5" r="3.4"/><circle cx="1602.5" cy="1058.7" r="3.4"/><circle cx="1693.1" cy="959.6" r="3.4"/><circle cx="1697.5" cy="957.1" r="3.4"/><circle cx="1601.2" cy="1080.7" r="3.4"/><circle cx="1650.6" cy="986.0" r="3.4"/><circle cx="1617.9" cy="1052.7" r="3.4"/><circle cx="1607.8" cy="1013.4" r="3.4"/><circle cx="1658.4" cy="972.8" r="3.4"/><circle cx="1639.0" cy="1007.5" r="3.4"/><circle cx="1619.5" cy="999.9" r="3.4"/><circle cx="1627.0" cy="1063.6" r="3.4"/><circle cx="1599.7" cy="1080.6" r="3.4"/><circle cx="1683.5" cy="1044.4" r="3.4"/><circle cx="1595.3" cy="1048.7" r="3.4"/><circle cx="1608.4" cy="1076.2" r="3.4"/><circle cx="1598.0" cy="1041.9" r="3.4"/><circle cx="1649.2" cy="1020.6" r="3.4"/><circle cx="1645.6" cy="1014.7" r="3.4"/><circle cx="1595.5" cy="1007.3" r="3.4"/><circle cx="1593.2" cy="1060.8" r="3.4"/><circle cx="1649.7" cy="1013.2" r="3.4"/><circle cx="1661.4" cy="1034.2" r="3.4"/><circle cx="1635.6" cy="1057.7" r="3.4"/><circle cx="1641.9" cy="1009.7" r="3.4"/><circle cx="1621.5" cy="1065.0" r="3.4"/><circle cx="1609.2" cy="1055.2" r="3.4"/><circle cx="1598.2" cy="1050.9" r="3.4"/><circle cx="1622.9" cy="1031.8" r="3.4"/><circle cx="1602.3" cy="1022.9" r="3.4"/><circle cx="1657.2" cy="1019.8" r="3.4"/><circle cx="1606.5" cy="991.3" r="3.4"/><circle cx="1626.9" cy="984.7" r="3.4"/><circle cx="1649.0" cy="1024.5" r="3.4"/><circle cx="1628.6" cy="1088.9" r="3.4"/><circle cx="1595.4" cy="1064.1" r="3.4"/><circle cx="1616.9" cy="1023.1" r="3.4"/><circle cx="1652.9" cy="1005.5" r="3.4"/><circle cx="1600.8" cy="1061.7" r="3.4"/><circle cx="1648.5" cy="1026.5" r="3.4"/><circle cx="1658.4" cy="1062.1" r="3.4"/><circle cx="1604.1" cy="1033.7" r="3.4"/><circle cx="1688.0" cy="983.7" r="3.4"/><circle cx="1648.4" cy="1005.2" r="3.4"/><circle cx="1595.1" cy="1040.2" r="3.4"/><circle cx="1633.3" cy="1072.3" r="3.4"/><circle cx="1593.3" cy="1082.9" r="3.4"/><circle cx="1650.1" cy="981.6" r="3.4"/><circle cx="1605.1" cy="1010.4" r="3.4"/><circle cx="1640.9" cy="1052.7" r="3.4"/><circle cx="1595.3" cy="1052.5" r="3.4"/><circle cx="1621.6" cy="1026.1" r="3.4"/><circle cx="1657.2" cy="1019.7" r="3.4"/><circle cx="1658.5" cy="1039.7" r="3.4"/><circle cx="1605.4" cy="1077.3" r="3.4"/><circle cx="1650.3" cy="1023.9" r="3.4"/><circle cx="1624.7" cy="1029.7" r="3.4"/><circle cx="1653.8" cy="1032.6" r="3.4"/><circle cx="1606.3" cy="1006.9" r="3.4"/><circle cx="1695.9" cy="965.6" r="3.4"/><circle cx="1643.9" cy="973.2" r="3.4"/><circle cx="1599.9" cy="1054.0" r="3.4"/><circle cx="1649.8" cy="1037.3" r="3.4"/><circle cx="1657.2" cy="960.2" r="3.4"/><circle cx="1642.2" cy="1021.6" r="3.4"/><circle cx="1642.3" cy="1036.5" r="3.4"/><circle cx="1598.0" cy="1087.1" r="3.4"/><circle cx="1629.0" cy="1029.4" r="3.4"/><circle cx="1633.5" cy="985.1" r="3.4"/><circle cx="1598.4" cy="1064.4" r="3.4"/><circle cx="1626.8" cy="1054.3" r="3.4"/><circle cx="1646.8" cy="1010.9" r="3.4"/><circle cx="1631.9" cy="1075.8" r="3.4"/><circle cx="1616.1" cy="1088.5" r="3.4"/><circle cx="1606.1" cy="1027.7" r="3.4"/><circle cx="1671.6" cy="988.7" r="3.4"/><circle cx="1616.6" cy="1080.9" r="3.4"/><circle cx="1599.8" cy="1071.3" r="3.4"/><circle cx="1637.5" cy="1007.7" r="3.4"/><circle cx="1609.6" cy="1017.1" r="3.4"/><circle cx="1613.3" cy="1039.6" r="3.4"/><circle cx="1636.7" cy="1041.0" r="3.4"/><circle cx="1660.7" cy="1040.6" r="3.4"/><circle cx="1623.7" cy="1034.1" r="3.4"/><circle cx="1623.6" cy="1076.0" r="3.4"/><circle cx="1618.8" cy="1009.3" r="3.4"/><circle cx="1602.9" cy="1086.8" r="3.4"/><circle cx="1609.6" cy="987.1" r="3.4"/><circle cx="1608.2" cy="1056.4" r="3.4"/><circle cx="1603.8" cy="1035.5" r="3.4"/><circle cx="1612.1" cy="1056.1" r="3.4"/><circle cx="1626.8" cy="1070.1" r="3.4"/><circle cx="1622.8" cy="1044.1" r="3.4"/><circle cx="1657.5" cy="1062.4" r="3.4"/><circle cx="1639.0" cy="979.3" r="3.4"/><circle cx="1609.8" cy="1078.8" r="3.4"/><circle cx="1631.1" cy="1003.4" r="3.4"/><circle cx="1666.7" cy="996.9" r="3.4"/><circle cx="1604.6" cy="984.3" r="3.4"/><circle cx="1654.0" cy="1051.8" r="3.4"/><circle cx="1632.9" cy="1043.6" r="3.4"/><circle cx="1601.3" cy="1088.3" r="3.4"/><circle cx="1600.0" cy="972.4" r="3.4"/><circle cx="1649.8" cy="987.4" r="3.4"/><circle cx="1616.2" cy="1070.8" r="3.4"/><circle cx="1595.2" cy="1059.0" r="3.4"/><circle cx="1619.7" cy="1057.8" r="3.4"/><circle cx="1653.9" cy="1060.3" r="3.4"/><circle cx="1639.6" cy="1039.8" r="3.4"/><circle cx="1650.0" cy="1041.6" r="3.4"/><circle cx="1672.7" cy="1022.0" r="3.4"/><circle cx="1603.3" cy="1087.0" r="3.4"/><circle cx="1678.7" cy="966.9" r="3.4"/><circle cx="1609.8" cy="1060.7" r="3.4"/><circle cx="1616.8" cy="1021.3" r="3.4"/><circle cx="1671.9" cy="1014.2" r="3.4"/><circle cx="1638.0" cy="1008.9" r="3.4"/><circle cx="1593.2" cy="1073.8" r="3.4"/><circle cx="1611.5" cy="1040.1" r="3.4"/><circle cx="1629.5" cy="1001.7" r="3.4"/><circle cx="1621.3" cy="1048.3" r="3.4"/><circle cx="1593.9" cy="1046.6" r="3.4"/><circle cx="1637.1" cy="1028.4" r="3.4"/><circle cx="1627.4" cy="1011.7" r="3.4"/><circle cx="1650.1" cy="983.2" r="3.4"/><circle cx="1592.3" cy="1078.8" r="3.4"/><circle cx="1622.0" cy="1022.1" r="3.4"/><circle cx="1639.8" cy="987.2" r="3.4"/><circle cx="1622.2" cy="1083.0" r="3.4"/><circle cx="1639.3" cy="1020.4" r="3.4"/><circle cx="1628.0" cy="1077.7" r="3.4"/><circle cx="1622.8" cy="1052.9" r="3.4"/><circle cx="1616.2" cy="1074.9" r="3.4"/><circle cx="1595.1" cy="1076.4" r="3.4"/><circle cx="1601.0" cy="1030.2" r="3.4"/><circle cx="1634.1" cy="954.5" r="3.4"/><circle cx="1611.8" cy="1037.9" r="3.4"/><circle cx="1636.3" cy="1036.8" r="3.4"/><circle cx="1651.8" cy="1006.3" r="3.4"/><circle cx="1627.6" cy="1065.0" r="3.4"/><circle cx="1661.5" cy="1060.7" r="3.4"/><circle cx="1612.4" cy="1085.7" r="3.4"/><circle cx="1624.5" cy="1011.1" r="3.4"/><circle cx="1626.7" cy="1040.5" r="3.4"/><circle cx="1616.4" cy="1042.6" r="3.4"/><circle cx="1615.1" cy="1055.9" r="3.4"/><circle cx="1606.9" cy="1005.6" r="3.4"/><circle cx="1596.0" cy="1024.9" r="3.4"/><circle cx="1617.5" cy="1024.5" r="3.4"/><circle cx="1632.1" cy="1061.3" r="3.4"/><circle cx="1612.8" cy="1057.7" r="3.4"/><circle cx="1613.6" cy="1022.9" r="3.4"/><circle cx="1592.5" cy="1057.6" r="3.4"/><circle cx="1622.1" cy="1028.7" r="3.4"/><circle cx="1617.1" cy="1062.6" r="3.4"/><circle cx="1679.6" cy="988.9" r="3.4"/><circle cx="1645.7" cy="1006.1" r="3.4"/><circle cx="1632.6" cy="1026.3" r="3.4"/><circle cx="1595.4" cy="1030.3" r="3.4"/><circle cx="1641.0" cy="993.8" r="3.4"/><circle cx="1625.4" cy="1030.0" r="3.4"/><circle cx="1604.9" cy="1013.3" r="3.4"/><circle cx="1652.3" cy="1001.5" r="3.4"/><circle cx="1636.5" cy="1015.9" r="3.4"/><circle cx="1643.9" cy="1038.1" r="3.4"/><circle cx="1607.3" cy="1030.8" r="3.4"/><circle cx="1657.6" cy="1002.2" r="3.4"/><circle cx="1608.7" cy="1061.8" r="3.4"/><circle cx="1647.2" cy="998.8" r="3.4"/><circle cx="1607.0" cy="1018.1" r="3.4"/><circle cx="1623.5" cy="1050.0" r="3.4"/><circle cx="1607.0" cy="1074.5" r="3.4"/><circle cx="1619.3" cy="1026.1" r="3.4"/><circle cx="1708.3" cy="945.8" r="3.4"/><circle cx="1616.2" cy="1028.8" r="3.4"/><circle cx="1611.6" cy="1045.5" r="3.4"/><circle cx="1640.5" cy="1085.0" r="3.4"/><circle cx="1645.6" cy="1044.5" r="3.4"/><circle cx="1646.1" cy="1024.2" r="3.4"/><circle cx="1603.2" cy="1066.2" r="3.4"/><circle cx="1624.6" cy="997.7" r="3.4"/><circle cx="1612.9" cy="1011.5" r="3.4"/><circle cx="1651.1" cy="985.4" r="3.4"/><circle cx="1632.7" cy="1081.4" r="3.4"/><circle cx="1605.1" cy="1062.9" r="3.4"/><circle cx="1595.0" cy="1051.3" r="3.4"/><circle cx="1616.6" cy="1069.7" r="3.4"/><circle cx="1638.9" cy="1051.2" r="3.4"/><circle cx="1660.5" cy="1053.2" r="3.4"/><circle cx="1605.2" cy="964.3" r="3.4"/><circle cx="1636.2" cy="994.8" r="3.4"/><circle cx="1593.2" cy="1030.0" r="3.4"/><circle cx="1623.1" cy="1040.1" r="3.4"/><circle cx="1635.6" cy="1076.4" r="3.4"/><circle cx="1664.5" cy="1036.4" r="3.4"/><circle cx="1612.5" cy="1016.4" r="3.4"/><circle cx="1623.5" cy="1010.5" r="3.4"/><circle cx="1641.7" cy="985.1" r="3.4"/><circle cx="1623.5" cy="1012.0" r="3.4"/><circle cx="1651.5" cy="1055.0" r="3.4"/><circle cx="1602.6" cy="1052.3" r="3.4"/><circle cx="1605.9" cy="1081.2" r="3.4"/><circle cx="1648.2" cy="969.0" r="3.4"/><circle cx="1622.5" cy="1082.3" r="3.4"/><circle cx="1598.7" cy="1051.7" r="3.4"/><circle cx="1672.7" cy="919.2" r="3.4"/><circle cx="1676.2" cy="938.2" r="3.4"/><circle cx="1594.3" cy="1031.7" r="3.4"/><circle cx="1646.6" cy="1027.2" r="3.4"/><circle cx="1600.5" cy="1023.5" r="3.4"/><circle cx="1633.0" cy="1025.3" r="3.4"/><circle cx="1608.1" cy="1009.7" r="3.4"/><circle cx="1642.0" cy="1014.0" r="3.4"/><circle cx="1597.5" cy="981.8" r="3.4"/><circle cx="1646.7" cy="1050.3" r="3.4"/><circle cx="1627.1" cy="1005.8" r="3.4"/><circle cx="1626.5" cy="1047.4" r="3.4"/><circle cx="1617.6" cy="1015.3" r="3.4"/><circle cx="1610.2" cy="1003.0" r="3.4"/><circle cx="1640.4" cy="1075.9" r="3.4"/><circle cx="1632.1" cy="1055.2" r="3.4"/><circle cx="1642.7" cy="1049.9" r="3.4"/><circle cx="1619.3" cy="1073.2" r="3.4"/><circle cx="1612.9" cy="1087.5" r="3.4"/><circle cx="1604.3" cy="990.3" r="3.4"/><circle cx="1680.4" cy="1033.0" r="3.4"/><circle cx="1640.9" cy="1027.6" r="3.4"/><circle cx="1609.4" cy="1042.9" r="3.4"/><circle cx="1615.5" cy="1045.1" r="3.4"/><circle cx="1659.9" cy="1017.4" r="3.4"/><circle cx="1631.6" cy="1072.2" r="3.4"/><circle cx="1609.8" cy="1020.7" r="3.4"/><circle cx="1600.1" cy="1078.3" r="3.4"/><circle cx="1636.9" cy="1023.5" r="3.4"/><circle cx="1620.2" cy="1072.5" r="3.4"/><circle cx="1637.9" cy="1018.5" r="3.4"/><circle cx="1650.1" cy="1065.2" r="3.4"/><circle cx="1618.2" cy="1080.0" r="3.4"/><circle cx="1615.5" cy="1065.0" r="3.4"/><circle cx="1623.4" cy="998.6" r="3.4"/><circle cx="1644.1" cy="1057.3" r="3.4"/><circle cx="1669.0" cy="1012.3" r="3.4"/><circle cx="1649.7" cy="1037.2" r="3.4"/><circle cx="1605.5" cy="1061.8" r="3.4"/><circle cx="1681.7" cy="993.7" r="3.4"/><circle cx="1621.5" cy="1012.4" r="3.4"/><circle cx="1609.4" cy="1070.5" r="3.4"/><circle cx="1666.8" cy="906.3" r="3.4"/><circle cx="1667.6" cy="1021.4" r="3.4"/><circle cx="1602.3" cy="1036.0" r="3.4"/><circle cx="1645.6" cy="1023.6" r="3.4"/><circle cx="1621.0" cy="1018.0" r="3.4"/><circle cx="1641.8" cy="1050.3" r="3.4"/><circle cx="1605.7" cy="1054.9" r="3.4"/><circle cx="1631.1" cy="1023.6" r="3.4"/><circle cx="1641.2" cy="1025.9" r="3.4"/><circle cx="1619.4" cy="1036.9" r="3.4"/><circle cx="1596.5" cy="1071.0" r="3.4"/><circle cx="1676.4" cy="1009.7" r="3.4"/><circle cx="1594.0" cy="1062.3" r="3.4"/><circle cx="1621.2" cy="1057.4" r="3.4"/><circle cx="1647.7" cy="1002.1" r="3.4"/><circle cx="1593.9" cy="1058.7" r="3.4"/><circle cx="1599.6" cy="971.1" r="3.4"/><circle cx="1667.5" cy="1035.1" r="3.4"/><circle cx="1611.1" cy="1013.4" r="3.4"/><circle cx="1669.4" cy="1034.0" r="3.4"/><circle cx="1605.4" cy="1009.7" r="3.4"/><circle cx="1619.4" cy="1084.8" r="3.4"/><circle cx="1601.9" cy="1062.1" r="3.4"/><circle cx="1637.6" cy="1079.2" r="3.4"/><circle cx="1667.3" cy="1032.3" r="3.4"/><circle cx="1632.0" cy="1075.7" r="3.4"/><circle cx="1594.2" cy="999.9" r="3.4"/><circle cx="1601.0" cy="1033.4" r="3.4"/><circle cx="1613.3" cy="991.3" r="3.4"/><circle cx="1669.1" cy="965.5" r="3.4"/><circle cx="1598.8" cy="965.1" r="3.4"/><circle cx="1598.7" cy="1044.4" r="3.4"/><circle cx="1624.0" cy="1064.6" r="3.4"/><circle cx="1662.2" cy="1071.0" r="3.4"/><circle cx="1639.9" cy="1064.9" r="3.4"/><circle cx="1629.7" cy="1012.9" r="3.4"/><circle cx="1604.6" cy="1056.7" r="3.4"/><circle cx="1657.8" cy="959.2" r="3.4"/><circle cx="1645.1" cy="1046.7" r="3.4"/><circle cx="1631.5" cy="1087.5" r="3.4"/><circle cx="1592.6" cy="1046.4" r="3.4"/><circle cx="1611.6" cy="1012.5" r="3.4"/><circle cx="1636.5" cy="1027.4" r="3.4"/><circle cx="1629.4" cy="1017.2" r="3.4"/><circle cx="1625.6" cy="1052.0" r="3.4"/><circle cx="1642.2" cy="1032.5" r="3.4"/><circle cx="1609.1" cy="1055.9" r="3.4"/><circle cx="1610.1" cy="1042.5" r="3.4"/><circle cx="1617.0" cy="1066.4" r="3.4"/><circle cx="1607.6" cy="1040.5" r="3.4"/><circle cx="1615.9" cy="1068.2" r="3.4"/><circle cx="1647.7" cy="1063.2" r="3.4"/><circle cx="1671.1" cy="1018.5" r="3.4"/><circle cx="1612.2" cy="1025.6" r="3.4"/><circle cx="1662.7" cy="1020.6" r="3.4"/><circle cx="1673.5" cy="996.2" r="3.4"/><circle cx="1607.7" cy="1027.1" r="3.4"/><circle cx="1628.5" cy="1026.2" r="3.4"/><circle cx="1625.1" cy="1035.7" r="3.4"/><circle cx="1613.7" cy="1023.8" r="3.4"/><circle cx="1640.3" cy="1005.1" r="3.4"/><circle cx="1602.7" cy="1082.2" r="3.4"/><circle cx="1667.7" cy="998.8" r="3.4"/><circle cx="1654.4" cy="1014.9" r="3.4"/><circle cx="1646.6" cy="1028.9" r="3.4"/><circle cx="1631.8" cy="1056.9" r="3.4"/><circle cx="1637.0" cy="1003.9" r="3.4"/><circle cx="1658.8" cy="1042.1" r="3.4"/><circle cx="1634.1" cy="1006.6" r="3.4"/><circle cx="1636.3" cy="997.0" r="3.4"/><circle cx="1629.4" cy="1028.4" r="3.4"/><circle cx="1606.1" cy="1036.0" r="3.4"/><circle cx="1612.9" cy="1010.8" r="3.4"/><circle cx="1615.4" cy="1080.2" r="3.4"/><circle cx="1594.7" cy="1019.3" r="3.4"/><circle cx="1600.6" cy="1002.8" r="3.4"/><circle cx="1608.1" cy="1079.2" r="3.4"/><circle cx="1610.9" cy="1057.2" r="3.4"/><circle cx="1616.0" cy="1065.5" r="3.4"/><circle cx="1616.8" cy="1016.1" r="3.4"/><circle cx="1664.4" cy="980.0" r="3.4"/><circle cx="1638.4" cy="1075.5" r="3.4"/><circle cx="1672.4" cy="1040.1" r="3.4"/><circle cx="1624.2" cy="1012.1" r="3.4"/><circle cx="1666.2" cy="1027.0" r="3.4"/><circle cx="1611.1" cy="1085.5" r="3.4"/><circle cx="1617.9" cy="1053.7" r="3.4"/><circle cx="1634.9" cy="1011.4" r="3.4"/><circle cx="1663.3" cy="1020.9" r="3.4"/><circle cx="1628.7" cy="1065.3" r="3.4"/><circle cx="1646.2" cy="1006.0" r="3.4"/><circle cx="1615.7" cy="988.5" r="3.4"/><circle cx="1623.6" cy="1035.2" r="3.4"/><circle cx="1604.7" cy="967.3" r="3.4"/><circle cx="1632.9" cy="1062.6" r="3.4"/><circle cx="1600.2" cy="1022.6" r="3.4"/><circle cx="1672.2" cy="969.8" r="3.4"/><circle cx="1637.7" cy="1043.4" r="3.4"/><circle cx="1625.3" cy="1054.7" r="3.4"/><circle cx="1651.8" cy="1031.1" r="3.4"/><circle cx="1644.6" cy="1032.8" r="3.4"/><circle cx="1625.9" cy="999.3" r="3.4"/><circle cx="1635.9" cy="1041.9" r="3.4"/><circle cx="1627.9" cy="1034.0" r="3.4"/><circle cx="1614.6" cy="1016.5" r="3.4"/><circle cx="1682.1" cy="979.8" r="3.4"/><circle cx="1649.1" cy="1054.4" r="3.4"/><circle cx="1626.8" cy="1078.1" r="3.4"/><circle cx="1595.8" cy="1015.3" r="3.4"/><circle cx="1690.4" cy="979.2" r="3.4"/><circle cx="1609.8" cy="1059.6" r="3.4"/><circle cx="1628.9" cy="1082.6" r="3.4"/><circle cx="1621.7" cy="1078.7" r="3.4"/><circle cx="1611.1" cy="1078.3" r="3.4"/><circle cx="1624.5" cy="986.1" r="3.4"/><circle cx="1637.2" cy="1013.3" r="3.4"/><circle cx="1624.0" cy="1047.0" r="3.4"/><circle cx="1677.0" cy="966.4" r="3.4"/><circle cx="1615.3" cy="1077.7" r="3.4"/><circle cx="1627.5" cy="1052.2" r="3.4"/><circle cx="1616.2" cy="999.8" r="3.4"/><circle cx="1663.3" cy="1038.8" r="3.4"/><circle cx="1605.1" cy="1061.9" r="3.4"/><circle cx="1670.3" cy="1035.9" r="3.4"/><circle cx="1596.8" cy="1048.3" r="3.4"/><circle cx="1642.0" cy="1029.9" r="3.4"/><circle cx="1652.0" cy="1061.2" r="3.4"/><circle cx="1646.6" cy="1031.3" r="3.4"/><circle cx="1609.9" cy="1032.3" r="3.4"/><circle cx="1646.4" cy="990.0" r="3.4"/><circle cx="1645.8" cy="1053.8" r="3.4"/><circle cx="1627.5" cy="1077.3" r="3.4"/><circle cx="1621.6" cy="1016.7" r="3.4"/><circle cx="1635.6" cy="1073.3" r="3.4"/><circle cx="1665.7" cy="988.0" r="3.4"/><circle cx="1675.1" cy="1045.8" r="3.4"/><circle cx="1630.5" cy="1059.9" r="3.4"/><circle cx="1656.2" cy="1014.6" r="3.4"/><circle cx="1651.2" cy="1024.1" r="3.4"/><circle cx="1628.5" cy="1084.8" r="3.4"/><circle cx="1648.1" cy="1025.0" r="3.4"/><circle cx="1624.7" cy="1000.7" r="3.4"/><circle cx="1643.5" cy="1056.1" r="3.4"/><circle cx="1617.5" cy="1054.7" r="3.4"/><circle cx="1620.9" cy="1076.6" r="3.4"/><circle cx="1637.6" cy="1042.7" r="3.4"/><circle cx="1608.8" cy="1044.7" r="3.4"/><circle cx="1627.0" cy="990.5" r="3.4"/><circle cx="1640.6" cy="982.0" r="3.4"/><circle cx="1621.0" cy="1013.5" r="3.4"/><circle cx="1635.1" cy="1034.5" r="3.4"/><circle cx="1648.7" cy="1052.6" r="3.4"/><circle cx="1718.4" cy="1042.4" r="3.4"/><circle cx="1621.7" cy="1014.9" r="3.4"/><circle cx="1631.3" cy="993.9" r="3.4"/><circle cx="1627.6" cy="1043.4" r="3.4"/><circle cx="1636.8" cy="1081.2" r="3.4"/><circle cx="1638.1" cy="1065.0" r="3.4"/><circle cx="1681.0" cy="986.6" r="3.4"/><circle cx="1658.6" cy="1062.4" r="3.4"/><circle cx="1633.9" cy="1013.5" r="3.4"/><circle cx="1599.1" cy="1052.4" r="3.4"/><circle cx="1638.6" cy="1074.7" r="3.4"/><circle cx="1617.7" cy="1071.8" r="3.4"/><circle cx="1595.7" cy="1038.5" r="3.4"/><circle cx="1641.2" cy="1004.2" r="3.4"/><circle cx="1630.0" cy="1037.5" r="3.4"/><circle cx="1657.4" cy="990.7" r="3.4"/><circle cx="1593.5" cy="1041.1" r="3.4"/><circle cx="1592.7" cy="1025.8" r="3.4"/><circle cx="1659.0" cy="1029.8" r="3.4"/><circle cx="1671.5" cy="1053.9" r="3.4"/><circle cx="1599.3" cy="1083.8" r="3.4"/><circle cx="1621.6" cy="1054.8" r="3.4"/><circle cx="1628.9" cy="1012.0" r="3.4"/><circle cx="1596.3" cy="1090.4" r="3.4"/><circle cx="1647.5" cy="1032.9" r="3.4"/><circle cx="1601.5" cy="1053.7" r="3.4"/><circle cx="1603.1" cy="1067.0" r="3.4"/><circle cx="1603.7" cy="1088.8" r="3.4"/><circle cx="1646.3" cy="987.3" r="3.4"/><circle cx="1594.1" cy="1052.7" r="3.4"/><circle cx="1612.7" cy="1065.9" r="3.4"/><circle cx="1632.7" cy="1023.1" r="3.4"/><circle cx="1651.6" cy="1020.5" r="3.4"/><circle cx="1599.4" cy="1079.8" r="3.4"/><circle cx="1593.7" cy="1064.0" r="3.4"/><circle cx="1646.5" cy="1035.1" r="3.4"/><circle cx="1626.9" cy="1040.4" r="3.4"/><circle cx="1623.0" cy="1022.2" r="3.4"/><circle cx="1634.1" cy="1029.1" r="3.4"/><circle cx="1636.5" cy="1072.0" r="3.4"/><circle cx="1634.8" cy="1026.4" r="3.4"/><circle cx="1629.7" cy="997.4" r="3.4"/><circle cx="1649.8" cy="1044.2" r="3.4"/><circle cx="1658.7" cy="1012.2" r="3.4"/><circle cx="1617.8" cy="1028.8" r="3.4"/><circle cx="1629.4" cy="977.7" r="3.4"/><circle cx="1611.8" cy="1044.5" r="3.4"/><circle cx="1597.2" cy="1047.6" r="3.4"/><circle cx="1633.6" cy="987.2" r="3.4"/><circle cx="1596.7" cy="1041.0" r="3.4"/><circle cx="1659.4" cy="1004.5" r="3.4"/><circle cx="1604.6" cy="1085.9" r="3.4"/><circle cx="1604.8" cy="1017.6" r="3.4"/><circle cx="1637.5" cy="995.7" r="3.4"/><circle cx="1610.3" cy="1006.8" r="3.4"/><circle cx="1609.1" cy="1076.4" r="3.4"/><circle cx="1644.7" cy="1011.8" r="3.4"/><circle cx="1615.1" cy="1085.3" r="3.4"/><circle cx="1627.7" cy="1072.0" r="3.4"/><circle cx="1632.3" cy="999.7" r="3.4"/><circle cx="1625.3" cy="1012.8" r="3.4"/><circle cx="1654.2" cy="1047.0" r="3.4"/><circle cx="1618.2" cy="1046.3" r="3.4"/><circle cx="1617.2" cy="1090.8" r="3.4"/><circle cx="1646.3" cy="963.8" r="3.4"/><circle cx="1616.0" cy="1040.1" r="3.4"/><circle cx="1657.4" cy="1026.2" r="3.4"/><circle cx="1652.4" cy="1000.7" r="3.4"/><circle cx="1599.3" cy="1043.9" r="3.4"/><circle cx="1631.8" cy="1035.0" r="3.4"/><circle cx="1677.9" cy="1020.7" r="3.4"/><circle cx="1639.0" cy="971.4" r="3.4"/><circle cx="1639.0" cy="1019.0" r="3.4"/><circle cx="1613.8" cy="1042.6" r="3.4"/><circle cx="1659.6" cy="1064.5" r="3.4"/><circle cx="1642.8" cy="990.0" r="3.4"/><circle cx="1610.2" cy="1036.1" r="3.4"/><circle cx="1637.1" cy="968.3" r="3.4"/><circle cx="1669.9" cy="1033.1" r="3.4"/><circle cx="1689.0" cy="951.8" r="3.4"/><circle cx="1650.6" cy="1005.4" r="3.4"/><circle cx="1639.7" cy="1077.0" r="3.4"/><circle cx="1653.6" cy="1050.3" r="3.4"/><circle cx="1595.4" cy="1061.1" r="3.4"/><circle cx="1624.1" cy="1056.6" r="3.4"/><circle cx="1605.7" cy="1010.7" r="3.4"/><circle cx="1617.0" cy="1075.7" r="3.4"/><circle cx="1624.9" cy="988.2" r="3.4"/><circle cx="1614.6" cy="975.5" r="3.4"/><circle cx="1616.4" cy="1040.0" r="3.4"/><circle cx="1611.0" cy="1018.1" r="3.4"/><circle cx="1604.2" cy="1022.0" r="3.4"/><circle cx="1707.0" cy="957.7" r="3.4"/><circle cx="1606.0" cy="1047.6" r="3.4"/><circle cx="1616.4" cy="1047.5" r="3.4"/><circle cx="1629.9" cy="1037.9" r="3.4"/><circle cx="1596.9" cy="1015.7" r="3.4"/><circle cx="1603.9" cy="1069.0" r="3.4"/><circle cx="1613.8" cy="1044.2" r="3.4"/><circle cx="1612.0" cy="1063.9" r="3.4"/><circle cx="1628.7" cy="959.0" r="3.4"/><circle cx="1596.8" cy="1043.1" r="3.4"/><circle cx="1658.3" cy="988.1" r="3.4"/><circle cx="1651.3" cy="1000.4" r="3.4"/><circle cx="1659.4" cy="1018.1" r="3.4"/><circle cx="1636.8" cy="1021.7" r="3.4"/><circle cx="1600.2" cy="1000.3" r="3.4"/><circle cx="1594.9" cy="1005.0" r="3.4"/><circle cx="1615.4" cy="1089.9" r="3.4"/><circle cx="1679.1" cy="984.6" r="3.4"/><circle cx="1645.3" cy="984.3" r="3.4"/><circle cx="1627.7" cy="1089.7" r="3.4"/><circle cx="1643.7" cy="1023.4" r="3.4"/><circle cx="1655.1" cy="1041.0" r="3.4"/><circle cx="1629.8" cy="989.7" r="3.4"/><circle cx="1610.8" cy="1048.0" r="3.4"/><circle cx="1609.2" cy="1017.6" r="3.4"/><circle cx="1623.9" cy="1002.9" r="3.4"/><circle cx="1652.9" cy="1046.1" r="3.4"/><circle cx="1664.7" cy="932.6" r="3.4"/><circle cx="1676.2" cy="923.5" r="3.4"/><circle cx="1626.1" cy="1066.0" r="3.4"/><circle cx="1638.6" cy="1048.1" r="3.4"/><circle cx="1618.9" cy="1031.6" r="3.4"/><circle cx="1681.0" cy="1025.4" r="3.4"/><circle cx="1633.5" cy="1004.2" r="3.4"/><circle cx="1681.2" cy="1052.9" r="3.4"/><circle cx="1648.8" cy="1025.0" r="3.4"/><circle cx="1660.9" cy="1064.6" r="3.4"/><circle cx="1618.5" cy="1019.8" r="3.4"/><circle cx="1614.9" cy="1086.3" r="3.4"/><circle cx="1673.8" cy="1014.9" r="3.4"/><circle cx="1658.3" cy="1022.5" r="3.4"/><circle cx="1616.6" cy="1089.6" r="3.4"/><circle cx="1611.2" cy="1067.5" r="3.4"/><circle cx="1639.3" cy="1028.0" r="3.4"/><circle cx="1608.0" cy="1009.7" r="3.4"/><circle cx="1637.5" cy="1009.6" r="3.4"/><circle cx="1593.4" cy="1073.9" r="3.4"/><circle cx="1656.7" cy="1019.4" r="3.4"/><circle cx="1618.3" cy="1062.5" r="3.4"/><circle cx="1608.7" cy="1055.9" r="3.4"/><circle cx="1635.0" cy="1023.5" r="3.4"/><circle cx="1598.1" cy="1059.3" r="3.4"/><circle cx="1623.2" cy="1034.2" r="3.4"/><circle cx="1622.1" cy="1089.5" r="3.4"/><circle cx="1615.0" cy="1001.2" r="3.4"/><circle cx="1641.6" cy="994.4" r="3.4"/><circle cx="1640.5" cy="1061.6" r="3.4"/><circle cx="1618.1" cy="1013.4" r="3.4"/><circle cx="1637.6" cy="1078.7" r="3.4"/><circle cx="1607.1" cy="1021.9" r="3.4"/><circle cx="1633.1" cy="1063.3" r="3.4"/><circle cx="1608.5" cy="1022.1" r="3.4"/><circle cx="1647.1" cy="1002.0" r="3.4"/><circle cx="1600.3" cy="1015.9" r="3.4"/><circle cx="1630.5" cy="1064.1" r="3.4"/><circle cx="1633.1" cy="1063.6" r="3.4"/><circle cx="1623.6" cy="980.0" r="3.4"/><circle cx="1599.1" cy="1047.1" r="3.4"/><circle cx="1649.9" cy="984.9" r="3.4"/><circle cx="1666.7" cy="1000.3" r="3.4"/><circle cx="1595.7" cy="1023.8" r="3.4"/><circle cx="1597.4" cy="1063.9" r="3.4"/><circle cx="1613.1" cy="1018.3" r="3.4"/><circle cx="1630.1" cy="1045.7" r="3.4"/><circle cx="1623.4" cy="1039.7" r="3.4"/><circle cx="1662.7" cy="1009.9" r="3.4"/><circle cx="1600.7" cy="1031.6" r="3.4"/><circle cx="1641.1" cy="1032.2" r="3.4"/><circle cx="1620.0" cy="1000.5" r="3.4"/><circle cx="1704.9" cy="1007.6" r="3.4"/><circle cx="1681.1" cy="1002.0" r="3.4"/><circle cx="1597.7" cy="1042.1" r="3.4"/><circle cx="1615.7" cy="979.4" r="3.4"/><circle cx="1649.6" cy="1036.8" r="3.4"/><circle cx="1712.3" cy="967.8" r="3.4"/><circle cx="1605.1" cy="1043.3" r="3.4"/><circle cx="1595.2" cy="1036.9" r="3.4"/><circle cx="1645.9" cy="1044.3" r="3.4"/><circle cx="1614.3" cy="1044.9" r="3.4"/><circle cx="1618.3" cy="1007.2" r="3.4"/><circle cx="1652.8" cy="988.9" r="3.4"/><circle cx="1604.2" cy="949.9" r="3.4"/><circle cx="1655.0" cy="990.2" r="3.4"/><circle cx="1650.9" cy="998.4" r="3.4"/><circle cx="1634.1" cy="1040.2" r="3.4"/><circle cx="1632.1" cy="1034.6" r="3.4"/><circle cx="1658.4" cy="957.8" r="3.4"/><circle cx="1607.8" cy="1063.1" r="3.4"/><circle cx="1654.6" cy="1072.2" r="3.4"/><circle cx="1641.5" cy="1032.8" r="3.4"/><circle cx="1641.8" cy="1032.5" r="3.4"/><circle cx="1632.3" cy="1014.7" r="3.4"/><circle cx="1610.9" cy="1060.6" r="3.4"/><circle cx="1652.5" cy="1058.6" r="3.4"/><circle cx="1642.0" cy="1014.6" r="3.4"/><circle cx="1656.8" cy="1053.6" r="3.4"/><circle cx="1649.0" cy="1065.6" r="3.4"/><circle cx="1638.7" cy="1011.0" r="3.4"/><circle cx="1625.8" cy="1056.1" r="3.4"/><circle cx="1622.1" cy="1057.4" r="3.4"/><circle cx="1596.0" cy="1067.7" r="3.4"/><circle cx="1614.2" cy="1073.7" r="3.4"/><circle cx="1637.8" cy="1044.2" r="3.4"/><circle cx="1623.2" cy="996.8" r="3.4"/><circle cx="1593.8" cy="1041.8" r="3.4"/><circle cx="1640.3" cy="1024.9" r="3.4"/><circle cx="1609.5" cy="1054.5" r="3.4"/><circle cx="1682.1" cy="956.9" r="3.4"/><circle cx="1593.2" cy="1048.9" r="3.4"/><circle cx="1724.3" cy="951.1" r="3.4"/><circle cx="1662.8" cy="1021.8" r="3.4"/><circle cx="1713.1" cy="986.1" r="3.4"/><circle cx="1611.2" cy="1079.3" r="3.4"/><circle cx="1647.8" cy="1021.4" r="3.4"/><circle cx="1628.3" cy="1032.5" r="3.4"/><circle cx="1605.8" cy="1057.8" r="3.4"/><circle cx="1595.5" cy="1078.5" r="3.4"/><circle cx="1596.1" cy="1024.3" r="3.4"/><circle cx="1626.3" cy="1042.8" r="3.4"/><circle cx="1607.9" cy="1043.6" r="3.4"/><circle cx="1597.0" cy="1068.0" r="3.4"/><circle cx="1597.6" cy="1024.9" r="3.4"/><circle cx="1618.0" cy="1072.9" r="3.4"/><circle cx="1625.3" cy="984.4" r="3.4"/><circle cx="1662.4" cy="986.4" r="3.4"/><circle cx="1609.3" cy="1073.9" r="3.4"/><circle cx="1611.3" cy="1053.5" r="3.4"/><circle cx="1608.0" cy="1027.5" r="3.4"/><circle cx="1636.8" cy="1044.3" r="3.4"/><circle cx="1633.4" cy="1031.2" r="3.4"/><circle cx="1624.4" cy="1060.1" r="3.4"/><circle cx="1642.4" cy="1042.9" r="3.4"/><circle cx="1596.2" cy="1042.1" r="3.4"/><circle cx="1673.4" cy="1007.5" r="3.4"/><circle cx="1599.9" cy="1060.7" r="3.4"/><circle cx="1622.8" cy="1056.5" r="3.4"/><circle cx="1606.2" cy="1003.7" r="3.4"/><circle cx="1621.1" cy="1002.1" r="3.4"/><circle cx="1629.3" cy="1009.3" r="3.4"/><circle cx="1630.0" cy="1030.3" r="3.4"/><circle cx="1602.6" cy="1090.1" r="3.4"/><circle cx="1779.9" cy="862.5" r="3.4"/><circle cx="1716.1" cy="915.8" r="3.4"/><circle cx="1651.1" cy="1060.6" r="3.4"/><circle cx="1733.7" cy="975.3" r="3.4"/><circle cx="1653.7" cy="940.2" r="3.4"/><circle cx="1664.4" cy="981.4" r="3.4"/><circle cx="1669.6" cy="921.5" r="3.4"/><circle cx="1636.1" cy="999.7" r="3.4"/><circle cx="1693.0" cy="1022.4" r="3.4"/><circle cx="1668.0" cy="1000.3" r="3.4"/><circle cx="1693.7" cy="979.0" r="3.4"/><circle cx="1683.2" cy="973.4" r="3.4"/><circle cx="1641.3" cy="916.3" r="3.4"/><circle cx="1739.8" cy="881.4" r="3.4"/><circle cx="1682.7" cy="976.0" r="3.4"/><circle cx="1637.4" cy="1010.4" r="3.4"/><circle cx="1704.7" cy="951.8" r="3.4"/><circle cx="1696.6" cy="954.5" r="3.4"/><circle cx="1639.9" cy="1006.0" r="3.4"/><circle cx="1743.1" cy="1005.6" r="3.4"/><circle cx="1746.9" cy="938.3" r="3.4"/><circle cx="1682.0" cy="920.7" r="3.4"/><circle cx="1725.4" cy="954.5" r="3.4"/><circle cx="1691.7" cy="923.4" r="3.4"/><circle cx="1724.6" cy="937.5" r="3.4"/><circle cx="1617.1" cy="974.9" r="3.4"/><circle cx="1633.4" cy="1015.0" r="3.4"/><circle cx="1669.6" cy="992.4" r="3.4"/><circle cx="1703.9" cy="968.4" r="3.4"/><circle cx="1677.9" cy="943.1" r="3.4"/><circle cx="1600.8" cy="941.8" r="3.4"/><circle cx="1720.8" cy="856.1" r="3.4"/><circle cx="1655.5" cy="948.4" r="3.4"/><circle cx="1723.1" cy="947.8" r="3.4"/><circle cx="1625.8" cy="924.5" r="3.4"/><circle cx="1706.8" cy="991.9" r="3.4"/><circle cx="1681.6" cy="928.2" r="3.4"/><circle cx="1660.0" cy="989.4" r="3.4"/><circle cx="1614.9" cy="1004.4" r="3.4"/><circle cx="1724.9" cy="899.2" r="3.4"/><circle cx="1689.7" cy="984.5" r="3.4"/><circle cx="1667.1" cy="993.0" r="3.4"/><circle cx="1677.2" cy="990.8" r="3.4"/><circle cx="1609.7" cy="1005.7" r="3.4"/><circle cx="1696.8" cy="876.1" r="3.4"/><circle cx="1629.7" cy="956.9" r="3.4"/><circle cx="1630.0" cy="1002.3" r="3.4"/><circle cx="1615.4" cy="1087.2" r="3.4"/><circle cx="1711.9" cy="886.0" r="3.4"/><circle cx="1713.4" cy="956.9" r="3.4"/><circle cx="1680.3" cy="999.9" r="3.4"/><circle cx="1615.4" cy="964.3" r="3.4"/><circle cx="1691.5" cy="958.3" r="3.4"/><circle cx="1679.1" cy="979.8" r="3.4"/><circle cx="1595.9" cy="1050.8" r="3.4"/><circle cx="1723.7" cy="969.7" r="3.4"/><circle cx="1755.3" cy="968.4" r="3.4"/><circle cx="1675.3" cy="978.1" r="3.4"/><circle cx="1721.5" cy="874.2" r="3.4"/><circle cx="1673.3" cy="1025.1" r="3.4"/><circle cx="1711.4" cy="999.3" r="3.4"/><circle cx="1670.5" cy="956.2" r="3.4"/><circle cx="1649.2" cy="924.0" r="3.4"/><circle cx="1707.7" cy="903.6" r="3.4"/><circle cx="1703.9" cy="980.8" r="3.4"/><circle cx="1652.0" cy="990.8" r="3.4"/><circle cx="1662.8" cy="929.9" r="3.4"/><circle cx="1687.2" cy="944.1" r="3.4"/><circle cx="1659.0" cy="998.2" r="3.4"/><circle cx="1711.0" cy="948.1" r="3.4"/><circle cx="1737.3" cy="892.5" r="3.4"/><circle cx="1677.3" cy="931.5" r="3.4"/><circle cx="1670.1" cy="930.3" r="3.4"/><circle cx="1761.8" cy="928.8" r="3.4"/><circle cx="1757.3" cy="958.7" r="3.4"/><circle cx="1612.0" cy="991.7" r="3.4"/><circle cx="1616.6" cy="991.9" r="3.4"/><circle cx="1660.7" cy="1002.3" r="3.4"/><circle cx="1671.5" cy="1028.4" r="3.4"/><circle cx="1737.9" cy="857.4" r="3.4"/><circle cx="1706.9" cy="897.5" r="3.4"/><circle cx="1727.2" cy="940.3" r="3.4"/><circle cx="1695.0" cy="929.3" r="3.4"/><circle cx="1632.1" cy="1060.1" r="3.4"/><circle cx="1638.1" cy="972.1" r="3.4"/><circle cx="1716.7" cy="943.0" r="3.4"/><circle cx="1613.9" cy="947.9" r="3.4"/><circle cx="1716.3" cy="960.8" r="3.4"/><circle cx="1742.5" cy="985.9" r="3.4"/><circle cx="1727.4" cy="910.8" r="3.4"/><circle cx="1697.3" cy="938.9" r="3.4"/><circle cx="1667.8" cy="993.7" r="3.4"/><circle cx="1671.0" cy="943.9" r="3.4"/><circle cx="1663.3" cy="970.3" r="3.4"/><circle cx="1616.7" cy="997.8" r="3.4"/><circle cx="1721.1" cy="917.3" r="3.4"/><circle cx="1693.5" cy="984.2" r="3.4"/><circle cx="1642.3" cy="959.0" r="3.4"/><circle cx="1680.7" cy="956.0" r="3.4"/><circle cx="1684.0" cy="940.2" r="3.4"/><circle cx="1631.2" cy="1020.2" r="3.4"/><circle cx="1644.1" cy="975.1" r="3.4"/><circle cx="1647.9" cy="1012.9" r="3.4"/><circle cx="1771.7" cy="922.8" r="3.4"/><circle cx="1635.2" cy="917.0" r="3.4"/><circle cx="1652.7" cy="946.8" r="3.4"/><circle cx="1608.2" cy="1004.8" r="3.4"/><circle cx="1601.9" cy="941.3" r="3.4"/><circle cx="1667.7" cy="979.0" r="3.4"/><circle cx="1655.5" cy="980.1" r="3.4"/><circle cx="1753.8" cy="958.6" r="3.4"/><circle cx="1658.1" cy="1054.5" r="3.4"/><circle cx="1702.4" cy="921.0" r="3.4"/><circle cx="1630.2" cy="1004.1" r="3.4"/><circle cx="1680.4" cy="978.3" r="3.4"/><circle cx="1641.5" cy="958.6" r="3.4"/><circle cx="1710.7" cy="1010.7" r="3.4"/><circle cx="1656.7" cy="957.7" r="3.4"/><circle cx="1689.7" cy="1017.5" r="3.4"/><circle cx="1666.8" cy="964.7" r="3.4"/><circle cx="1655.9" cy="1026.0" r="3.4"/><circle cx="1672.0" cy="1005.5" r="3.4"/><circle cx="1648.9" cy="961.6" r="3.4"/><circle cx="1682.3" cy="919.4" r="3.4"/><circle cx="1694.3" cy="917.9" r="3.4"/><circle cx="1682.8" cy="968.5" r="3.4"/><circle cx="1719.0" cy="958.0" r="3.4"/><circle cx="1595.1" cy="1045.8" r="3.4"/><circle cx="1678.0" cy="942.7" r="3.4"/><circle cx="1656.1" cy="1030.2" r="3.4"/><circle cx="1660.1" cy="968.2" r="3.4"/><circle cx="1664.4" cy="981.8" r="3.4"/><circle cx="1674.7" cy="984.6" r="3.4"/><circle cx="1670.5" cy="946.5" r="3.4"/><circle cx="1636.2" cy="1006.2" r="3.4"/><circle cx="1672.8" cy="981.1" r="3.4"/><circle cx="1637.7" cy="986.3" r="3.4"/><circle cx="1736.2" cy="854.2" r="3.4"/><circle cx="1661.7" cy="1007.8" r="3.4"/><circle cx="1623.8" cy="1001.0" r="3.4"/><circle cx="1607.0" cy="1002.3" r="3.4"/><circle cx="1664.1" cy="1002.8" r="3.4"/><circle cx="1777.7" cy="927.6" r="3.4"/><circle cx="1722.9" cy="1001.9" r="3.4"/><circle cx="1654.8" cy="957.7" r="3.4"/><circle cx="1669.4" cy="964.1" r="3.4"/><circle cx="1619.9" cy="1001.2" r="3.4"/><circle cx="1606.5" cy="1063.7" r="3.4"/><circle cx="1607.9" cy="1055.1" r="3.4"/><circle cx="1696.5" cy="958.0" r="3.4"/><circle cx="1730.6" cy="865.9" r="3.4"/><circle cx="1611.6" cy="1011.1" r="3.4"/><circle cx="1593.0" cy="1036.5" r="3.4"/><circle cx="1705.1" cy="923.4" r="3.4"/><circle cx="1715.8" cy="1024.6" r="3.4"/><circle cx="1692.2" cy="918.3" r="3.4"/><circle cx="1700.8" cy="979.4" r="3.4"/><circle cx="1720.5" cy="970.7" r="3.4"/><circle cx="1687.5" cy="910.5" r="3.4"/><circle cx="1673.0" cy="956.3" r="3.4"/><circle cx="1769.6" cy="913.8" r="3.4"/><circle cx="1662.8" cy="985.9" r="3.4"/><circle cx="1706.5" cy="983.6" r="3.4"/><circle cx="1648.4" cy="964.3" r="3.4"/><circle cx="1635.3" cy="1041.7" r="3.4"/><circle cx="1627.4" cy="998.4" r="3.4"/><circle cx="1655.9" cy="1060.8" r="3.4"/><circle cx="1628.0" cy="1033.0" r="3.4"/><circle cx="1682.5" cy="924.1" r="3.4"/><circle cx="1661.2" cy="982.7" r="3.4"/><circle cx="1748.7" cy="904.7" r="3.4"/><circle cx="1650.3" cy="1029.3" r="3.4"/><circle cx="1648.2" cy="1024.1" r="3.4"/><circle cx="1673.1" cy="914.1" r="3.4"/><circle cx="1714.8" cy="933.4" r="3.4"/><circle cx="1683.4" cy="987.5" r="3.4"/><circle cx="1733.9" cy="901.6" r="3.4"/><circle cx="1641.6" cy="1015.5" r="3.4"/><circle cx="1702.4" cy="914.9" r="3.4"/><circle cx="1672.2" cy="1027.5" r="3.4"/><circle cx="1748.3" cy="955.9" r="3.4"/><circle cx="1598.6" cy="979.2" r="3.4"/><circle cx="1603.7" cy="972.5" r="3.4"/><circle cx="1679.4" cy="963.3" r="3.4"/><circle cx="1707.1" cy="936.8" r="3.4"/><circle cx="1598.1" cy="1051.8" r="3.4"/><circle cx="1714.4" cy="879.8" r="3.4"/><circle cx="1747.5" cy="1007.7" r="3.4"/><circle cx="1728.2" cy="945.0" r="3.4"/><circle cx="1674.5" cy="942.3" r="3.4"/><circle cx="1699.5" cy="965.9" r="3.4"/><circle cx="1671.8" cy="945.2" r="3.4"/><circle cx="1639.8" cy="923.8" r="3.4"/><circle cx="1696.0" cy="896.2" r="3.4"/><circle cx="1678.1" cy="979.2" r="3.4"/><circle cx="1600.2" cy="968.0" r="3.4"/><circle cx="1673.7" cy="1004.8" r="3.4"/><circle cx="1694.7" cy="900.5" r="3.4"/><circle cx="1640.3" cy="942.8" r="3.4"/><circle cx="1732.5" cy="935.0" r="3.4"/><circle cx="1649.0" cy="1018.7" r="3.4"/><circle cx="1622.7" cy="1010.7" r="3.4"/><circle cx="1643.9" cy="993.2" r="3.4"/><circle cx="1725.8" cy="937.0" r="3.4"/><circle cx="1757.2" cy="956.3" r="3.4"/><circle cx="1704.1" cy="1021.3" r="3.4"/><circle cx="1670.2" cy="966.3" r="3.4"/><circle cx="1681.1" cy="947.9" r="3.4"/><circle cx="1596.7" cy="1041.6" r="3.4"/><circle cx="1736.4" cy="903.6" r="3.4"/><circle cx="1662.8" cy="1001.2" r="3.4"/><circle cx="1626.0" cy="931.7" r="3.4"/><circle cx="1673.0" cy="927.4" r="3.4"/><circle cx="1628.1" cy="938.2" r="3.4"/><circle cx="1658.0" cy="992.1" r="3.4"/><circle cx="1652.8" cy="1000.4" r="3.4"/><circle cx="1696.5" cy="909.4" r="3.4"/><circle cx="1642.3" cy="1008.8" r="3.4"/><circle cx="1713.7" cy="907.1" r="3.4"/><circle cx="1732.4" cy="982.2" r="3.4"/><circle cx="1684.0" cy="948.7" r="3.4"/><circle cx="1654.4" cy="1021.9" r="3.4"/><circle cx="1685.9" cy="994.5" r="3.4"/><circle cx="1635.4" cy="1009.5" r="3.4"/><circle cx="1594.1" cy="1026.9" r="3.4"/><circle cx="1603.8" cy="947.2" r="3.4"/><circle cx="1612.9" cy="1000.0" r="3.4"/><circle cx="1731.3" cy="922.9" r="3.4"/><circle cx="1645.7" cy="1034.0" r="3.4"/><circle cx="1608.9" cy="1068.8" r="3.4"/><circle cx="1720.6" cy="928.4" r="3.4"/><circle cx="1739.6" cy="974.6" r="3.4"/><circle cx="1693.2" cy="945.6" r="3.4"/><circle cx="1728.0" cy="901.5" r="3.4"/><circle cx="1719.6" cy="968.4" r="3.4"/><circle cx="1649.2" cy="962.1" r="3.4"/><circle cx="1737.1" cy="920.2" r="3.4"/><circle cx="1628.5" cy="1002.8" r="3.4"/><circle cx="1642.4" cy="960.7" r="3.4"/><circle cx="1708.3" cy="955.1" r="3.4"/><circle cx="1617.5" cy="1003.6" r="3.4"/><circle cx="1703.8" cy="993.3" r="3.4"/><circle cx="1634.2" cy="1007.7" r="3.4"/><circle cx="1596.6" cy="1037.2" r="3.4"/><circle cx="1741.6" cy="904.9" r="3.4"/><circle cx="1640.0" cy="876.4" r="3.4"/><circle cx="1660.6" cy="1003.9" r="3.4"/><circle cx="1728.4" cy="962.9" r="3.4"/><circle cx="1674.6" cy="1010.1" r="3.4"/><circle cx="1799.4" cy="909.4" r="3.4"/><circle cx="1692.4" cy="930.9" r="3.4"/><circle cx="1635.5" cy="1010.2" r="3.4"/><circle cx="1689.3" cy="915.9" r="3.4"/><circle cx="1618.0" cy="1001.7" r="3.4"/><circle cx="1621.3" cy="974.5" r="3.4"/><circle cx="1655.5" cy="989.4" r="3.4"/><circle cx="1662.0" cy="1052.1" r="3.4"/><circle cx="1694.0" cy="914.8" r="3.4"/><circle cx="1649.0" cy="930.4" r="3.4"/><circle cx="1664.3" cy="971.9" r="3.4"/><circle cx="1656.4" cy="982.5" r="3.4"/><circle cx="1631.0" cy="982.9" r="3.4"/><circle cx="1687.2" cy="1034.6" r="3.4"/><circle cx="1661.4" cy="1003.4" r="3.4"/><circle cx="1642.0" cy="1079.8" r="3.4"/><circle cx="1711.8" cy="978.0" r="3.4"/><circle cx="1628.7" cy="973.1" r="3.4"/><circle cx="1721.6" cy="941.9" r="3.4"/><circle cx="1667.9" cy="974.3" r="3.4"/><circle cx="1660.2" cy="1020.9" r="3.4"/><circle cx="1619.3" cy="1022.4" r="3.4"/><circle cx="1635.6" cy="975.6" r="3.4"/><circle cx="1702.9" cy="862.9" r="3.4"/><circle cx="1706.5" cy="1035.0" r="3.4"/><circle cx="1672.9" cy="986.2" r="3.4"/><circle cx="1611.9" cy="945.2" r="3.4"/><circle cx="1646.7" cy="1029.8" r="3.4"/><circle cx="1594.8" cy="1057.0" r="3.4"/><circle cx="1659.9" cy="1017.1" r="3.4"/><circle cx="1632.7" cy="1018.5" r="3.4"/><circle cx="1688.6" cy="982.1" r="3.4"/><circle cx="1726.3" cy="1010.6" r="3.4"/><circle cx="1649.8" cy="919.1" r="3.4"/><circle cx="1608.1" cy="1048.1" r="3.4"/><circle cx="1727.0" cy="919.4" r="3.4"/><circle cx="1681.9" cy="908.8" r="3.4"/><circle cx="1668.8" cy="966.4" r="3.4"/><circle cx="1648.1" cy="964.2" r="3.4"/><circle cx="1689.7" cy="932.0" r="3.4"/><circle cx="1695.1" cy="971.9" r="3.4"/><circle cx="1654.0" cy="1002.3" r="3.4"/><circle cx="1681.5" cy="868.6" r="3.4"/><circle cx="1594.3" cy="1039.0" r="3.4"/><circle cx="1743.4" cy="869.8" r="3.4"/><circle cx="1690.2" cy="956.4" r="3.4"/><circle cx="1633.8" cy="1026.3" r="3.4"/><circle cx="1781.8" cy="875.6" r="3.4"/><circle cx="1667.3" cy="951.7" r="3.4"/><circle cx="1686.1" cy="990.7" r="3.4"/><circle cx="1680.1" cy="949.0" r="3.4"/><circle cx="1697.5" cy="913.6" r="3.4"/><circle cx="1703.6" cy="1021.8" r="3.4"/><circle cx="1636.8" cy="1009.9" r="3.4"/><circle cx="1669.0" cy="994.1" r="3.4"/><circle cx="1625.1" cy="949.5" r="3.4"/><circle cx="1723.3" cy="944.3" r="3.4"/><circle cx="1733.0" cy="919.0" r="3.4"/><circle cx="1668.4" cy="966.2" r="3.4"/><circle cx="1682.6" cy="974.8" r="3.4"/><circle cx="1669.4" cy="935.1" r="3.4"/><circle cx="1663.6" cy="933.2" r="3.4"/><circle cx="1614.4" cy="1028.9" r="3.4"/><circle cx="1732.9" cy="918.8" r="3.4"/><circle cx="1620.6" cy="993.5" r="3.4"/><circle cx="1609.0" cy="958.7" r="3.4"/><circle cx="1721.2" cy="900.8" r="3.4"/><circle cx="1683.9" cy="955.7" r="3.4"/><circle cx="1667.8" cy="969.3" r="3.4"/><circle cx="1686.9" cy="920.3" r="3.4"/><circle cx="1687.8" cy="996.5" r="3.4"/><circle cx="1656.5" cy="1003.0" r="3.4"/><circle cx="1688.0" cy="1007.6" r="3.4"/><circle cx="1602.1" cy="1064.2" r="3.4"/><circle cx="1719.1" cy="1004.1" r="3.4"/><circle cx="1602.6" cy="1009.7" r="3.4"/><circle cx="1651.0" cy="1003.3" r="3.4"/><circle cx="1650.9" cy="998.1" r="3.4"/><circle cx="1661.9" cy="996.9" r="3.4"/><circle cx="1697.2" cy="930.8" r="3.4"/><circle cx="1703.6" cy="913.2" r="3.4"/><circle cx="1771.1" cy="951.1" r="3.4"/><circle cx="1675.9" cy="976.5" r="3.4"/><circle cx="1718.2" cy="975.0" r="3.4"/><circle cx="1699.4" cy="989.1" r="3.4"/><circle cx="1755.5" cy="944.4" r="3.4"/><circle cx="1732.3" cy="964.8" r="3.4"/><circle cx="1710.7" cy="1005.7" r="3.4"/><circle cx="1718.4" cy="978.9" r="3.4"/><circle cx="1690.9" cy="1017.5" r="3.4"/><circle cx="1601.1" cy="993.1" r="3.4"/><circle cx="1739.7" cy="940.8" r="3.4"/><circle cx="1660.8" cy="980.3" r="3.4"/><circle cx="1709.7" cy="954.4" r="3.4"/><circle cx="1654.6" cy="1026.2" r="3.4"/><circle cx="1728.3" cy="891.8" r="3.4"/><circle cx="1692.8" cy="957.3" r="3.4"/><circle cx="1669.0" cy="1029.0" r="3.4"/><circle cx="1624.5" cy="1022.9" r="3.4"/><circle cx="1644.2" cy="977.3" r="3.4"/><circle cx="1657.6" cy="930.3" r="3.4"/><circle cx="1696.6" cy="900.0" r="3.4"/><circle cx="1668.2" cy="1061.8" r="3.4"/><circle cx="1640.1" cy="1043.5" r="3.4"/><circle cx="1660.9" cy="961.7" r="3.4"/><circle cx="1631.8" cy="952.1" r="3.4"/><circle cx="1684.1" cy="954.6" r="3.4"/><circle cx="1594.2" cy="988.2" r="3.4"/><circle cx="1602.1" cy="1031.5" r="3.4"/><circle cx="1688.6" cy="905.0" r="3.4"/><circle cx="1712.1" cy="995.2" r="3.4"/><circle cx="1665.3" cy="1054.5" r="3.4"/><circle cx="1646.4" cy="1018.9" r="3.4"/><circle cx="1699.5" cy="950.7" r="3.4"/><circle cx="1611.3" cy="948.2" r="3.4"/><circle cx="1695.0" cy="977.0" r="3.4"/><circle cx="1695.1" cy="901.2" r="3.4"/><circle cx="1714.1" cy="959.1" r="3.4"/><circle cx="1663.4" cy="937.5" r="3.4"/><circle cx="1713.4" cy="945.7" r="3.4"/><circle cx="1675.2" cy="930.7" r="3.4"/><circle cx="1663.7" cy="885.2" r="3.4"/><circle cx="1638.9" cy="1002.7" r="3.4"/><circle cx="1652.9" cy="989.9" r="3.4"/><circle cx="1678.3" cy="1013.4" r="3.4"/><circle cx="1601.5" cy="1057.8" r="3.4"/><circle cx="1701.6" cy="946.6" r="3.4"/><circle cx="1673.5" cy="927.7" r="3.4"/><circle cx="1697.5" cy="973.6" r="3.4"/><circle cx="1773.9" cy="926.2" r="3.4"/><circle cx="1691.3" cy="988.3" r="3.4"/><circle cx="1644.3" cy="938.1" r="3.4"/><circle cx="1686.9" cy="961.6" r="3.4"/><circle cx="1641.0" cy="987.7" r="3.4"/><circle cx="1664.0" cy="994.5" r="3.4"/><circle cx="1640.6" cy="940.2" r="3.4"/><circle cx="1672.1" cy="896.7" r="3.4"/><circle cx="1667.5" cy="959.1" r="3.4"/><circle cx="1673.3" cy="960.3" r="3.4"/><circle cx="1683.8" cy="917.2" r="3.4"/><circle cx="1594.6" cy="958.2" r="3.4"/><circle cx="1738.8" cy="942.7" r="3.4"/><circle cx="1671.2" cy="1013.1" r="3.4"/><circle cx="1677.7" cy="987.8" r="3.4"/><circle cx="1639.2" cy="989.2" r="3.4"/><circle cx="1688.2" cy="984.2" r="3.4"/><circle cx="1670.4" cy="959.3" r="3.4"/><circle cx="1750.2" cy="935.6" r="3.4"/><circle cx="1629.4" cy="984.0" r="3.4"/><circle cx="1692.3" cy="895.4" r="3.4"/><circle cx="1780.4" cy="871.5" r="3.4"/><circle cx="1695.9" cy="961.3" r="3.4"/><circle cx="1673.4" cy="985.6" r="3.4"/><circle cx="1704.1" cy="963.0" r="3.4"/><circle cx="1637.1" cy="1017.9" r="3.4"/><circle cx="1729.1" cy="909.8" r="3.4"/><circle cx="1765.4" cy="902.8" r="3.4"/><circle cx="1602.3" cy="1079.1" r="3.4"/><circle cx="1714.1" cy="889.5" r="3.4"/><circle cx="1627.2" cy="1064.8" r="3.4"/><circle cx="1678.9" cy="1028.1" r="3.4"/><circle cx="1701.5" cy="996.1" r="3.4"/><circle cx="1609.0" cy="1036.8" r="3.4"/><circle cx="1687.0" cy="970.9" r="3.4"/><circle cx="1684.7" cy="1022.7" r="3.4"/><circle cx="1682.0" cy="933.8" r="3.4"/><circle cx="1621.1" cy="1050.4" r="3.4"/><circle cx="1601.2" cy="1078.8" r="3.4"/><circle cx="1614.1" cy="1040.9" r="3.4"/><circle cx="1709.0" cy="889.6" r="3.4"/><circle cx="1634.9" cy="1001.7" r="3.4"/><circle cx="1733.0" cy="963.8" r="3.4"/><circle cx="1626.0" cy="1046.3" r="3.4"/><circle cx="1614.1" cy="1061.7" r="3.4"/><circle cx="1608.7" cy="1011.6" r="3.4"/><circle cx="1653.4" cy="1006.2" r="3.4"/><circle cx="1654.0" cy="1008.5" r="3.4"/><circle cx="1689.7" cy="939.3" r="3.4"/><circle cx="1621.6" cy="978.9" r="3.4"/><circle cx="1666.8" cy="965.5" r="3.4"/><circle cx="1685.9" cy="1032.1" r="3.4"/><circle cx="1711.1" cy="999.1" r="3.4"/><circle cx="1659.1" cy="1037.5" r="3.4"/><circle cx="1746.0" cy="1009.8" r="3.4"/><circle cx="1683.2" cy="907.2" r="3.4"/><circle cx="1614.1" cy="1013.1" r="3.4"/><circle cx="1625.8" cy="1016.0" r="3.4"/><circle cx="1694.8" cy="949.3" r="3.4"/><circle cx="1705.8" cy="963.9" r="3.4"/><circle cx="1734.4" cy="898.0" r="3.4"/><circle cx="1658.5" cy="923.0" r="3.4"/><circle cx="1710.0" cy="914.9" r="3.4"/><circle cx="1657.1" cy="925.0" r="3.4"/><circle cx="1702.9" cy="899.2" r="3.4"/><circle cx="1685.8" cy="884.6" r="3.4"/><circle cx="1682.6" cy="1008.7" r="3.4"/><circle cx="1692.3" cy="974.8" r="3.4"/><circle cx="1682.0" cy="962.3" r="3.4"/><circle cx="1686.3" cy="938.4" r="3.4"/><circle cx="1645.8" cy="996.3" r="3.4"/><circle cx="1633.2" cy="990.3" r="3.4"/><circle cx="1677.7" cy="971.7" r="3.4"/><circle cx="1727.3" cy="937.7" r="3.4"/><circle cx="1615.8" cy="977.8" r="3.4"/><circle cx="1676.1" cy="944.3" r="3.4"/><circle cx="1683.3" cy="944.4" r="3.4"/><circle cx="1677.4" cy="969.5" r="3.4"/><circle cx="1763.2" cy="924.2" r="3.4"/><circle cx="1593.2" cy="1078.5" r="3.4"/><circle cx="1736.3" cy="905.3" r="3.4"/><circle cx="1670.6" cy="921.3" r="3.4"/><circle cx="1688.4" cy="981.3" r="3.4"/><circle cx="1620.5" cy="992.3" r="3.4"/><circle cx="1699.7" cy="934.5" r="3.4"/><circle cx="1622.4" cy="1056.5" r="3.4"/><circle cx="1625.7" cy="1017.2" r="3.4"/><circle cx="1710.6" cy="936.9" r="3.4"/><circle cx="1650.6" cy="1030.6" r="3.4"/><circle cx="1669.3" cy="998.7" r="3.4"/><circle cx="1611.0" cy="1049.2" r="3.4"/><circle cx="1730.6" cy="897.4" r="3.4"/><circle cx="1695.1" cy="979.7" r="3.4"/><circle cx="1668.7" cy="992.8" r="3.4"/><circle cx="1701.3" cy="946.4" r="3.4"/><circle cx="1606.3" cy="1024.8" r="3.4"/><circle cx="1628.4" cy="1041.3" r="3.4"/><circle cx="1657.3" cy="972.9" r="3.4"/><circle cx="1659.2" cy="996.2" r="3.4"/><circle cx="1687.2" cy="988.6" r="3.4"/><circle cx="1775.1" cy="938.4" r="3.4"/><circle cx="1625.6" cy="924.5" r="3.4"/><circle cx="1611.7" cy="1038.7" r="3.4"/><circle cx="1662.2" cy="924.5" r="3.4"/><circle cx="1759.2" cy="942.2" r="3.4"/><circle cx="1725.3" cy="923.5" r="3.4"/><circle cx="1631.0" cy="892.0" r="3.4"/><circle cx="1622.2" cy="965.8" r="3.4"/><circle cx="1592.4" cy="962.1" r="3.4"/><circle cx="1654.4" cy="1018.1" r="3.4"/><circle cx="1687.5" cy="994.9" r="3.4"/><circle cx="1705.1" cy="931.1" r="3.4"/><circle cx="1644.8" cy="970.7" r="3.4"/><circle cx="1723.9" cy="940.7" r="3.4"/><circle cx="1602.6" cy="1041.0" r="3.4"/><circle cx="1724.3" cy="974.0" r="3.4"/><circle cx="1722.0" cy="939.0" r="3.4"/><circle cx="1732.4" cy="1001.9" r="3.4"/><circle cx="1773.2" cy="896.8" r="3.4"/><circle cx="1644.9" cy="979.7" r="3.4"/><circle cx="1704.7" cy="972.6" r="3.4"/><circle cx="1637.8" cy="1036.1" r="3.4"/><circle cx="1685.9" cy="959.8" r="3.4"/><circle cx="1642.2" cy="938.8" r="3.4"/><circle cx="1705.0" cy="932.3" r="3.4"/><circle cx="1779.1" cy="912.0" r="3.4"/><circle cx="1683.8" cy="950.8" r="3.4"/><circle cx="1710.8" cy="943.3" r="3.4"/><circle cx="1688.9" cy="1039.1" r="3.4"/><circle cx="1625.8" cy="972.0" r="3.4"/><circle cx="1736.7" cy="949.1" r="3.4"/><circle cx="1623.8" cy="869.9" r="3.4"/><circle cx="1698.6" cy="980.3" r="3.4"/><circle cx="1663.0" cy="985.1" r="3.4"/><circle cx="1627.6" cy="1025.2" r="3.4"/><circle cx="1716.6" cy="866.7" r="3.4"/><circle cx="1644.4" cy="1044.8" r="3.4"/><circle cx="1661.1" cy="928.8" r="3.4"/><circle cx="1717.3" cy="975.6" r="3.4"/><circle cx="1619.7" cy="1032.0" r="3.4"/><circle cx="1652.5" cy="994.5" r="3.4"/><circle cx="1623.7" cy="988.4" r="3.4"/><circle cx="1649.8" cy="1023.7" r="3.4"/><circle cx="1685.7" cy="990.8" r="3.4"/><circle cx="1672.2" cy="933.4" r="3.4"/><circle cx="1659.6" cy="905.0" r="3.4"/><circle cx="1691.3" cy="929.5" r="3.4"/><circle cx="1592.8" cy="970.3" r="3.4"/><circle cx="1652.3" cy="1027.8" r="3.4"/><circle cx="1683.0" cy="954.8" r="3.4"/><circle cx="1647.0" cy="959.1" r="3.4"/><circle cx="1708.5" cy="985.6" r="3.4"/><circle cx="1596.1" cy="1012.9" r="3.4"/><circle cx="1689.7" cy="1011.1" r="3.4"/><circle cx="1740.1" cy="873.2" r="3.4"/><circle cx="1597.7" cy="1055.4" r="3.4"/><circle cx="1672.9" cy="961.2" r="3.4"/><circle cx="1726.8" cy="958.8" r="3.4"/><circle cx="1728.6" cy="940.4" r="3.4"/><circle cx="1664.4" cy="966.9" r="3.4"/><circle cx="1663.0" cy="1020.4" r="3.4"/><circle cx="1705.9" cy="869.6" r="3.4"/><circle cx="1639.9" cy="1058.4" r="3.4"/><circle cx="1709.7" cy="895.1" r="3.4"/><circle cx="1608.8" cy="1011.5" r="3.4"/><circle cx="1661.7" cy="1001.6" r="3.4"/><circle cx="1694.3" cy="985.7" r="3.4"/><circle cx="1664.4" cy="944.5" r="3.4"/><circle cx="1687.6" cy="928.7" r="3.4"/><circle cx="1604.4" cy="1012.3" r="3.4"/><circle cx="1603.4" cy="939.9" r="3.4"/><circle cx="1715.7" cy="996.0" r="3.4"/><circle cx="1675.2" cy="990.3" r="3.4"/><circle cx="1657.8" cy="1007.7" r="3.4"/><circle cx="1749.4" cy="953.0" r="3.4"/><circle cx="1612.3" cy="987.1" r="3.4"/><circle cx="1794.3" cy="875.5" r="3.4"/><circle cx="1754.7" cy="937.7" r="3.4"/><circle cx="1654.9" cy="989.2" r="3.4"/><circle cx="1735.7" cy="948.5" r="3.4"/><circle cx="1745.8" cy="915.7" r="3.4"/><circle cx="1701.2" cy="992.0" r="3.4"/><circle cx="1689.1" cy="982.0" r="3.4"/><circle cx="1682.1" cy="960.9" r="3.4"/><circle cx="1680.9" cy="991.0" r="3.4"/><circle cx="1623.9" cy="1013.9" r="3.4"/><circle cx="1661.0" cy="993.8" r="3.4"/><circle cx="1738.5" cy="950.7" r="3.4"/><circle cx="1679.4" cy="1040.2" r="3.4"/><circle cx="1682.7" cy="983.5" r="3.4"/><circle cx="1746.3" cy="950.4" r="3.4"/><circle cx="1641.8" cy="1043.8" r="3.4"/><circle cx="1648.3" cy="915.6" r="3.4"/><circle cx="1766.3" cy="927.8" r="3.4"/><circle cx="1656.8" cy="1010.5" r="3.4"/><circle cx="1724.5" cy="890.4" r="3.4"/><circle cx="1597.6" cy="1018.2" r="3.4"/><circle cx="1648.0" cy="958.5" r="3.4"/><circle cx="1693.9" cy="965.9" r="3.4"/><circle cx="1661.2" cy="941.4" r="3.4"/><circle cx="1615.4" cy="989.3" r="3.4"/><circle cx="1659.1" cy="976.0" r="3.4"/><circle cx="1610.5" cy="1004.7" r="3.4"/><circle cx="1724.9" cy="889.3" r="3.4"/><circle cx="1689.7" cy="917.8" r="3.4"/><circle cx="1695.4" cy="1036.5" r="3.4"/><circle cx="1637.9" cy="916.0" r="3.4"/><circle cx="1644.4" cy="953.6" r="3.4"/><circle cx="1642.4" cy="932.9" r="3.4"/><circle cx="1593.7" cy="1054.0" r="3.4"/><circle cx="1649.9" cy="905.0" r="3.4"/><circle cx="1744.0" cy="954.6" r="3.4"/><circle cx="1645.4" cy="988.8" r="3.4"/><circle cx="1690.5" cy="873.5" r="3.4"/><circle cx="1599.6" cy="1028.3" r="3.4"/><circle cx="1710.1" cy="968.4" r="3.4"/><circle cx="1634.2" cy="1057.0" r="3.4"/><circle cx="1740.7" cy="990.7" r="3.4"/><circle cx="1700.4" cy="950.8" r="3.4"/><circle cx="1657.9" cy="1006.6" r="3.4"/><circle cx="1659.8" cy="938.4" r="3.4"/><circle cx="1749.3" cy="962.4" r="3.4"/><circle cx="1717.7" cy="901.3" r="3.4"/><circle cx="1754.5" cy="939.6" r="3.4"/><circle cx="1716.3" cy="869.9" r="3.4"/><circle cx="1641.1" cy="996.1" r="3.4"/><circle cx="1702.4" cy="974.3" r="3.4"/><circle cx="1805.9" cy="876.5" r="3.4"/><circle cx="1601.7" cy="949.7" r="3.4"/><circle cx="1704.8" cy="889.0" r="3.4"/><circle cx="1652.2" cy="1042.8" r="3.4"/><circle cx="1762.0" cy="902.7" r="3.4"/><circle cx="1635.4" cy="997.1" r="3.4"/><circle cx="1680.2" cy="927.1" r="3.4"/><circle cx="1678.2" cy="966.2" r="3.4"/><circle cx="1614.6" cy="1021.7" r="3.4"/><circle cx="1628.7" cy="995.0" r="3.4"/><circle cx="1632.4" cy="1020.0" r="3.4"/><circle cx="1678.4" cy="987.6" r="3.4"/><circle cx="1658.6" cy="1028.4" r="3.4"/><circle cx="1727.2" cy="881.8" r="3.4"/><circle cx="1620.6" cy="959.5" r="3.4"/><circle cx="1679.6" cy="925.7" r="3.4"/><circle cx="1650.2" cy="1066.5" r="3.4"/><circle cx="1674.0" cy="932.2" r="3.4"/><circle cx="1625.6" cy="950.6" r="3.4"/><circle cx="1637.3" cy="951.5" r="3.4"/><circle cx="1690.9" cy="938.3" r="3.4"/><circle cx="1692.2" cy="989.6" r="3.4"/><circle cx="1640.4" cy="985.8" r="3.4"/><circle cx="1701.1" cy="963.8" r="3.4"/><circle cx="1620.7" cy="1034.4" r="3.4"/><circle cx="1805.3" cy="880.8" r="3.4"/><circle cx="1619.0" cy="979.2" r="3.4"/><circle cx="1596.7" cy="991.8" r="3.4"/><circle cx="1671.6" cy="953.6" r="3.4"/><circle cx="1615.4" cy="1008.5" r="3.4"/><circle cx="1667.2" cy="936.6" r="3.4"/><circle cx="1721.1" cy="887.5" r="3.4"/><circle cx="1634.2" cy="976.8" r="3.4"/><circle cx="1706.8" cy="867.5" r="3.4"/><circle cx="1655.2" cy="1011.2" r="3.4"/><circle cx="1696.8" cy="966.0" r="3.4"/><circle cx="1632.5" cy="971.3" r="3.4"/><circle cx="1758.7" cy="891.6" r="3.4"/><circle cx="1739.2" cy="948.7" r="3.4"/><circle cx="1660.4" cy="971.4" r="3.4"/><circle cx="1740.2" cy="914.1" r="3.4"/><circle cx="1773.6" cy="932.9" r="3.4"/><circle cx="1680.5" cy="991.5" r="3.4"/><circle cx="1624.7" cy="1080.6" r="3.4"/><circle cx="1650.7" cy="952.0" r="3.4"/><circle cx="1671.8" cy="917.0" r="3.4"/><circle cx="1647.1" cy="970.2" r="3.4"/><circle cx="1675.8" cy="935.1" r="3.4"/><circle cx="1608.2" cy="1006.0" r="3.4"/><circle cx="1663.9" cy="976.9" r="3.4"/><circle cx="1597.3" cy="1028.6" r="3.4"/><circle cx="1753.1" cy="997.4" r="3.4"/><circle cx="1698.7" cy="911.9" r="3.4"/><circle cx="1747.3" cy="893.9" r="3.4"/><circle cx="1693.1" cy="959.1" r="3.4"/><circle cx="1663.2" cy="891.7" r="3.4"/><circle cx="1618.7" cy="957.6" r="3.4"/><circle cx="1679.7" cy="890.9" r="3.4"/><circle cx="1641.7" cy="1035.6" r="3.4"/><circle cx="1674.7" cy="1009.9" r="3.4"/><circle cx="1674.8" cy="988.0" r="3.4"/><circle cx="1725.1" cy="878.0" r="3.4"/><circle cx="1711.5" cy="1019.1" r="3.4"/><circle cx="1720.2" cy="1014.3" r="3.4"/><circle cx="1619.5" cy="1003.0" r="3.4"/><circle cx="1711.2" cy="931.2" r="3.4"/><circle cx="1722.6" cy="936.9" r="3.4"/><circle cx="1740.1" cy="935.1" r="3.4"/><circle cx="1625.4" cy="988.6" r="3.4"/><circle cx="1612.5" cy="1004.0" r="3.4"/><circle cx="1687.7" cy="953.5" r="3.4"/><circle cx="1659.9" cy="939.5" r="3.4"/><circle cx="1665.7" cy="978.6" r="3.4"/><circle cx="1659.5" cy="959.4" r="3.4"/><circle cx="1744.1" cy="982.6" r="3.4"/><circle cx="1666.6" cy="900.1" r="3.4"/><circle cx="1659.2" cy="1013.3" r="3.4"/><circle cx="1688.5" cy="981.0" r="3.4"/><circle cx="1695.5" cy="993.0" r="3.4"/><circle cx="1648.5" cy="1011.2" r="3.4"/><circle cx="1664.6" cy="991.5" r="3.4"/><circle cx="1692.8" cy="965.7" r="3.4"/><circle cx="1722.9" cy="976.0" r="3.4"/><circle cx="1666.7" cy="1002.5" r="3.4"/><circle cx="1666.9" cy="956.0" r="3.4"/><circle cx="1664.3" cy="1008.5" r="3.4"/><circle cx="1641.4" cy="1018.0" r="3.4"/><circle cx="1732.6" cy="881.8" r="3.4"/><circle cx="1677.3" cy="899.8" r="3.4"/><circle cx="1643.6" cy="1024.3" r="3.4"/><circle cx="1729.4" cy="998.0" r="3.4"/><circle cx="1701.1" cy="986.4" r="3.4"/><circle cx="1669.9" cy="999.3" r="3.4"/><circle cx="1672.7" cy="971.8" r="3.4"/><circle cx="1599.3" cy="1047.0" r="3.4"/><circle cx="1647.2" cy="980.6" r="3.4"/><circle cx="1638.6" cy="936.0" r="3.4"/><circle cx="1697.2" cy="992.9" r="3.4"/><circle cx="1702.6" cy="909.8" r="3.4"/><circle cx="1634.6" cy="976.6" r="3.4"/><circle cx="1676.1" cy="989.0" r="3.4"/><circle cx="1648.8" cy="936.2" r="3.4"/><circle cx="1645.9" cy="930.7" r="3.4"/><circle cx="1671.3" cy="967.2" r="3.4"/><circle cx="1660.6" cy="947.3" r="3.4"/><circle cx="1663.4" cy="980.8" r="3.4"/><circle cx="1702.0" cy="1016.6" r="3.4"/><circle cx="1684.7" cy="966.2" r="3.4"/><circle cx="1739.3" cy="917.4" r="3.4"/><circle cx="1691.9" cy="950.1" r="3.4"/><circle cx="1672.5" cy="973.2" r="3.4"/><circle cx="1765.0" cy="924.7" r="3.4"/><circle cx="1712.9" cy="891.6" r="3.4"/><circle cx="1649.4" cy="966.1" r="3.4"/><circle cx="1693.5" cy="953.6" r="3.4"/><circle cx="1676.7" cy="992.1" r="3.4"/><circle cx="1707.2" cy="986.0" r="3.4"/><circle cx="1659.5" cy="1063.2" r="3.4"/><circle cx="1668.3" cy="930.4" r="3.4"/><circle cx="1689.1" cy="966.5" r="3.4"/><circle cx="1657.0" cy="968.0" r="3.4"/><circle cx="1651.3" cy="921.0" r="3.4"/><circle cx="1692.5" cy="922.3" r="3.4"/><circle cx="1681.3" cy="984.6" r="3.4"/><circle cx="1613.7" cy="1046.9" r="3.4"/><circle cx="1664.0" cy="963.5" r="3.4"/><circle cx="1634.7" cy="989.4" r="3.4"/><circle cx="1599.7" cy="943.1" r="3.4"/><circle cx="1670.0" cy="967.8" r="3.4"/><circle cx="1616.4" cy="1043.8" r="3.4"/><circle cx="1657.4" cy="975.5" r="3.4"/><circle cx="1600.3" cy="1043.1" r="3.4"/><circle cx="1635.6" cy="950.5" r="3.4"/><circle cx="1685.7" cy="940.0" r="3.4"/><circle cx="1669.2" cy="1004.0" r="3.4"/><circle cx="1617.9" cy="1021.6" r="3.4"/><circle cx="1726.0" cy="931.9" r="3.4"/><circle cx="1683.1" cy="954.0" r="3.4"/><circle cx="1656.7" cy="998.2" r="3.4"/><circle cx="1671.8" cy="940.4" r="3.4"/><circle cx="1605.6" cy="991.1" r="3.4"/><circle cx="1670.7" cy="973.2" r="3.4"/><circle cx="1653.4" cy="1038.6" r="3.4"/><circle cx="1643.4" cy="939.9" r="3.4"/><circle cx="1714.2" cy="968.2" r="3.4"/><circle cx="1735.6" cy="884.2" r="3.4"/><circle cx="1637.3" cy="958.0" r="3.4"/><circle cx="1693.5" cy="937.3" r="3.4"/><circle cx="1666.7" cy="970.0" r="3.4"/><circle cx="1698.9" cy="999.3" r="3.4"/><circle cx="1646.3" cy="1002.6" r="3.4"/><circle cx="1670.5" cy="910.9" r="3.4"/><circle cx="1646.9" cy="977.1" r="3.4"/><circle cx="1637.3" cy="1074.1" r="3.4"/><circle cx="1673.3" cy="999.1" r="3.4"/><circle cx="1772.2" cy="968.1" r="3.4"/><circle cx="1704.3" cy="940.9" r="3.4"/><circle cx="1725.7" cy="1010.5" r="3.4"/><circle cx="1727.1" cy="934.6" r="3.4"/><circle cx="1600.9" cy="910.2" r="3.4"/><circle cx="1671.6" cy="981.4" r="3.4"/><circle cx="1665.6" cy="1035.7" r="3.4"/><circle cx="1595.5" cy="998.8" r="3.4"/><circle cx="1654.1" cy="943.1" r="3.4"/><circle cx="1796.6" cy="909.3" r="3.4"/><circle cx="1711.4" cy="850.9" r="3.4"/><circle cx="1658.0" cy="1000.7" r="3.4"/><circle cx="1726.9" cy="974.2" r="3.4"/><circle cx="1672.3" cy="906.4" r="3.4"/><circle cx="1643.5" cy="1010.7" r="3.4"/><circle cx="1668.4" cy="959.4" r="3.4"/><circle cx="1609.6" cy="995.1" r="3.4"/><circle cx="1669.2" cy="1004.0" r="3.4"/><circle cx="1658.3" cy="973.9" r="3.4"/><circle cx="1680.2" cy="943.5" r="3.4"/><circle cx="1738.1" cy="970.2" r="3.4"/><circle cx="1672.5" cy="990.9" r="3.4"/><circle cx="1639.2" cy="963.7" r="3.4"/><circle cx="1665.3" cy="907.7" r="3.4"/><circle cx="1726.3" cy="882.5" r="3.4"/><circle cx="1672.1" cy="1008.3" r="3.4"/><circle cx="1785.3" cy="912.2" r="3.4"/><circle cx="1684.9" cy="938.4" r="3.4"/><circle cx="1649.9" cy="999.0" r="3.4"/><circle cx="1660.7" cy="963.9" r="3.4"/><circle cx="1766.7" cy="907.8" r="3.4"/><circle cx="1692.9" cy="979.8" r="3.4"/><circle cx="1669.7" cy="987.6" r="3.4"/><circle cx="1756.9" cy="931.9" r="3.4"/><circle cx="1691.2" cy="938.5" r="3.4"/><circle cx="1661.0" cy="1018.7" r="3.4"/><circle cx="1650.5" cy="977.6" r="3.4"/><circle cx="1667.2" cy="923.7" r="3.4"/><circle cx="1709.5" cy="913.7" r="3.4"/><circle cx="1694.4" cy="987.4" r="3.4"/><circle cx="1606.7" cy="1033.3" r="3.4"/><circle cx="1683.3" cy="943.9" r="3.4"/><circle cx="1773.8" cy="911.5" r="3.4"/><circle cx="1626.3" cy="1036.2" r="3.4"/><circle cx="1667.7" cy="1022.5" r="3.4"/><circle cx="1615.9" cy="943.8" r="3.4"/><circle cx="1735.2" cy="905.4" r="3.4"/><circle cx="1692.7" cy="1002.0" r="3.4"/><circle cx="1627.0" cy="974.0" r="3.4"/><circle cx="1698.4" cy="954.5" r="3.4"/><circle cx="1731.3" cy="997.0" r="3.4"/><circle cx="1713.0" cy="930.2" r="3.4"/><circle cx="1641.4" cy="1029.6" r="3.4"/><circle cx="1639.4" cy="1029.9" r="3.4"/><circle cx="1693.8" cy="1025.5" r="3.4"/><circle cx="1600.3" cy="1080.8" r="3.4"/><circle cx="1660.8" cy="997.9" r="3.4"/><circle cx="1602.8" cy="1025.4" r="3.4"/><circle cx="1643.9" cy="993.8" r="3.4"/><circle cx="1745.4" cy="882.8" r="3.4"/><circle cx="1766.2" cy="872.2" r="3.4"/><circle cx="1661.5" cy="1077.9" r="3.4"/><circle cx="1699.7" cy="940.7" r="3.4"/><circle cx="1668.9" cy="943.4" r="3.4"/><circle cx="1673.6" cy="1033.0" r="3.4"/><circle cx="1709.7" cy="981.5" r="3.4"/><circle cx="1662.1" cy="981.8" r="3.4"/><circle cx="1701.5" cy="954.3" r="3.4"/><circle cx="1647.9" cy="968.9" r="3.4"/><circle cx="1657.1" cy="1014.7" r="3.4"/><circle cx="1670.5" cy="970.0" r="3.4"/><circle cx="1733.5" cy="927.8" r="3.4"/><circle cx="1657.5" cy="918.9" r="3.4"/><circle cx="1652.6" cy="927.8" r="3.4"/><circle cx="1682.6" cy="932.1" r="3.4"/><circle cx="1749.7" cy="925.4" r="3.4"/><circle cx="1626.6" cy="1070.2" r="3.4"/><circle cx="1696.8" cy="939.0" r="3.4"/><circle cx="1721.8" cy="914.1" r="3.4"/><circle cx="1592.7" cy="1065.9" r="3.4"/><circle cx="1612.7" cy="1050.2" r="3.4"/><circle cx="1736.9" cy="929.1" r="3.4"/><circle cx="1742.5" cy="886.7" r="3.4"/><circle cx="1658.8" cy="951.3" r="3.4"/><circle cx="1597.4" cy="994.5" r="3.4"/><circle cx="1644.8" cy="997.2" r="3.4"/><circle cx="1632.3" cy="990.7" r="3.4"/><circle cx="1660.9" cy="958.7" r="3.4"/><circle cx="1727.4" cy="939.0" r="3.4"/><circle cx="1669.7" cy="945.8" r="3.4"/><circle cx="1723.5" cy="862.6" r="3.4"/><circle cx="1652.7" cy="930.9" r="3.4"/><circle cx="1710.0" cy="965.3" r="3.4"/><circle cx="1671.9" cy="1020.2" r="3.4"/><circle cx="1745.2" cy="964.5" r="3.4"/><circle cx="1726.8" cy="925.2" r="3.4"/><circle cx="1705.2" cy="951.8" r="3.4"/><circle cx="1725.8" cy="885.4" r="3.4"/><circle cx="1704.9" cy="1003.6" r="3.4"/><circle cx="1704.2" cy="944.2" r="3.4"/><circle cx="1634.1" cy="935.7" r="3.4"/><circle cx="1700.8" cy="1015.4" r="3.4"/><circle cx="1641.1" cy="1012.7" r="3.4"/><circle cx="1657.9" cy="997.9" r="3.4"/><circle cx="1647.1" cy="1012.7" r="3.4"/><circle cx="1681.8" cy="1004.1" r="3.4"/><circle cx="1637.9" cy="1009.7" r="3.4"/><circle cx="1684.1" cy="992.3" r="3.4"/><circle cx="1686.2" cy="986.6" r="3.4"/><circle cx="1610.1" cy="1007.4" r="3.4"/><circle cx="1651.1" cy="965.6" r="3.4"/><circle cx="1650.1" cy="966.7" r="3.4"/><circle cx="1707.0" cy="989.0" r="3.4"/><circle cx="1662.6" cy="965.2" r="3.4"/><circle cx="1658.9" cy="981.4" r="3.4"/><circle cx="1753.2" cy="937.4" r="3.4"/><circle cx="1655.3" cy="967.8" r="3.4"/><circle cx="1628.9" cy="962.9" r="3.4"/><circle cx="1686.7" cy="919.1" r="3.4"/><circle cx="1687.2" cy="852.3" r="3.4"/><circle cx="1697.6" cy="939.1" r="3.4"/><circle cx="1742.6" cy="928.6" r="3.4"/><circle cx="1674.1" cy="992.6" r="3.4"/><circle cx="1662.7" cy="945.0" r="3.4"/><circle cx="1617.6" cy="1034.9" r="3.4"/><circle cx="1592.8" cy="1053.4" r="3.4"/><circle cx="1665.1" cy="1063.2" r="3.4"/><circle cx="1717.3" cy="955.9" r="3.4"/><circle cx="1646.8" cy="929.3" r="3.4"/><circle cx="1673.5" cy="989.7" r="3.4"/><circle cx="1648.7" cy="1047.2" r="3.4"/><circle cx="1672.2" cy="963.0" r="3.4"/><circle cx="1678.1" cy="930.3" r="3.4"/><circle cx="1673.1" cy="993.7" r="3.4"/><circle cx="1649.7" cy="980.6" r="3.4"/><circle cx="1690.4" cy="941.8" r="3.4"/><circle cx="1625.8" cy="1008.2" r="3.4"/><circle cx="1592.8" cy="1028.1" r="3.4"/><circle cx="1627.3" cy="1007.5" r="3.4"/><circle cx="1606.3" cy="1021.4" r="3.4"/><circle cx="1677.9" cy="995.1" r="3.4"/><circle cx="1652.1" cy="1035.6" r="3.4"/><circle cx="1623.2" cy="973.6" r="3.4"/><circle cx="1593.8" cy="974.4" r="3.4"/><circle cx="1711.3" cy="939.8" r="3.4"/><circle cx="1612.9" cy="1011.3" r="3.4"/><circle cx="1682.7" cy="945.7" r="3.4"/><circle cx="1617.1" cy="1045.7" r="3.4"/><circle cx="1648.0" cy="956.9" r="3.4"/><circle cx="1628.8" cy="1014.7" r="3.4"/><circle cx="1654.4" cy="1039.8" r="3.4"/><circle cx="1662.6" cy="985.9" r="3.4"/><circle cx="1769.0" cy="926.2" r="3.4"/><circle cx="1635.1" cy="1076.1" r="3.4"/><circle cx="1719.8" cy="939.3" r="3.4"/><circle cx="1733.0" cy="979.8" r="3.4"/><circle cx="1651.6" cy="919.7" r="3.4"/><circle cx="1649.6" cy="994.0" r="3.4"/><circle cx="1746.1" cy="924.7" r="3.4"/><circle cx="1710.6" cy="940.6" r="3.4"/><circle cx="1694.8" cy="917.0" r="3.4"/><circle cx="1703.1" cy="882.0" r="3.4"/><circle cx="1645.7" cy="1012.5" r="3.4"/><circle cx="1650.1" cy="972.8" r="3.4"/><circle cx="1777.2" cy="876.3" r="3.4"/><circle cx="1628.7" cy="929.1" r="3.4"/><circle cx="1595.8" cy="1063.7" r="3.4"/><circle cx="1673.6" cy="931.2" r="3.4"/><circle cx="1742.9" cy="956.6" r="3.4"/><circle cx="1650.3" cy="1003.4" r="3.4"/><circle cx="1630.2" cy="1030.3" r="3.4"/><circle cx="1682.8" cy="996.1" r="3.4"/><circle cx="1651.5" cy="968.0" r="3.4"/><circle cx="1631.6" cy="1048.6" r="3.4"/><circle cx="1626.0" cy="993.8" r="3.4"/><circle cx="1637.4" cy="917.3" r="3.4"/><circle cx="1599.1" cy="1058.0" r="3.4"/><circle cx="1656.0" cy="1025.1" r="3.4"/><circle cx="1597.3" cy="955.2" r="3.4"/><circle cx="1619.1" cy="892.1" r="3.4"/><circle cx="1649.4" cy="974.7" r="3.4"/><circle cx="1649.8" cy="1050.6" r="3.4"/><circle cx="1741.0" cy="920.4" r="3.4"/><circle cx="1749.4" cy="957.0" r="3.4"/><circle cx="1684.5" cy="1013.6" r="3.4"/><circle cx="1692.0" cy="964.4" r="3.4"/><circle cx="1729.7" cy="979.3" r="3.4"/><circle cx="1648.7" cy="947.3" r="3.4"/><circle cx="1635.4" cy="1030.1" r="3.4"/><circle cx="1745.7" cy="875.3" r="3.4"/><circle cx="1607.1" cy="1060.2" r="3.4"/><circle cx="1688.9" cy="1007.2" r="3.4"/><circle cx="1718.2" cy="941.2" r="3.4"/><circle cx="1767.3" cy="966.7" r="3.4"/><circle cx="1711.2" cy="993.1" r="3.4"/><circle cx="1669.0" cy="975.4" r="3.4"/><circle cx="1752.2" cy="930.8" r="3.4"/><circle cx="1602.4" cy="1002.8" r="3.4"/><circle cx="1683.4" cy="964.1" r="3.4"/><circle cx="1658.7" cy="951.6" r="3.4"/><circle cx="1634.1" cy="1036.0" r="3.4"/><circle cx="1634.2" cy="917.1" r="3.4"/><circle cx="1621.8" cy="1042.8" r="3.4"/><circle cx="1668.5" cy="995.4" r="3.4"/><circle cx="1734.6" cy="964.9" r="3.4"/><circle cx="1760.0" cy="908.1" r="3.4"/><circle cx="1668.7" cy="1021.4" r="3.4"/><circle cx="1691.6" cy="1036.1" r="3.4"/><circle cx="1664.5" cy="925.2" r="3.4"/><circle cx="1714.6" cy="957.9" r="3.4"/><circle cx="1672.8" cy="952.3" r="3.4"/><circle cx="1656.4" cy="989.7" r="3.4"/><circle cx="1640.9" cy="975.8" r="3.4"/><circle cx="1688.2" cy="1009.8" r="3.4"/><circle cx="1746.8" cy="890.2" r="3.4"/><circle cx="1680.4" cy="1031.6" r="3.4"/><circle cx="1688.6" cy="917.9" r="3.4"/><circle cx="1794.7" cy="915.5" r="3.4"/><circle cx="1692.6" cy="999.8" r="3.4"/><circle cx="1667.8" cy="984.0" r="3.4"/><circle cx="1708.2" cy="935.8" r="3.4"/><circle cx="1692.9" cy="903.5" r="3.4"/><circle cx="1748.8" cy="977.3" r="3.4"/><circle cx="1705.6" cy="905.6" r="3.4"/><circle cx="1647.5" cy="950.7" r="3.4"/><circle cx="1768.6" cy="927.3" r="3.4"/><circle cx="1666.1" cy="1015.5" r="3.4"/><circle cx="1680.3" cy="1001.7" r="3.4"/><circle cx="1637.6" cy="1058.5" r="3.4"/><circle cx="1649.1" cy="1039.7" r="3.4"/><circle cx="1652.6" cy="1011.0" r="3.4"/><circle cx="1678.2" cy="957.4" r="3.4"/><circle cx="1675.5" cy="957.0" r="3.4"/><circle cx="1781.5" cy="905.3" r="3.4"/><circle cx="1635.9" cy="1002.0" r="3.4"/><circle cx="1628.5" cy="977.0" r="3.4"/><circle cx="1650.4" cy="1030.7" r="3.4"/><circle cx="1641.2" cy="1006.8" r="3.4"/><circle cx="1721.7" cy="975.2" r="3.4"/><circle cx="1661.5" cy="961.1" r="3.4"/><circle cx="1767.6" cy="884.7" r="3.4"/><circle cx="1743.4" cy="897.3" r="3.4"/><circle cx="1824.0" cy="887.6" r="3.4"/><circle cx="1737.0" cy="918.2" r="3.4"/><circle cx="1781.2" cy="878.5" r="3.4"/><circle cx="1735.4" cy="935.4" r="3.4"/><circle cx="1756.2" cy="900.7" r="3.4"/><circle cx="1752.5" cy="928.6" r="3.4"/><circle cx="1834.5" cy="896.2" r="3.4"/><circle cx="1729.2" cy="934.0" r="3.4"/><circle cx="1767.6" cy="904.5" r="3.4"/><circle cx="1778.1" cy="917.8" r="3.4"/><circle cx="1864.9" cy="849.8" r="3.4"/><circle cx="1728.5" cy="961.4" r="3.4"/><circle cx="1759.4" cy="891.3" r="3.4"/><circle cx="1767.1" cy="889.2" r="3.4"/><circle cx="1772.2" cy="906.1" r="3.4"/><circle cx="1754.4" cy="917.0" r="3.4"/><circle cx="1791.6" cy="851.7" r="3.4"/><circle cx="1779.2" cy="926.9" r="3.4"/><circle cx="1814.7" cy="879.8" r="3.4"/><circle cx="1783.9" cy="881.8" r="3.4"/><circle cx="1800.2" cy="884.1" r="3.4"/><circle cx="1803.2" cy="906.1" r="3.4"/><circle cx="1849.8" cy="850.2" r="3.4"/><circle cx="1732.6" cy="947.1" r="3.4"/><circle cx="1758.7" cy="927.4" r="3.4"/><circle cx="1797.9" cy="897.4" r="3.4"/><circle cx="1769.1" cy="907.9" r="3.4"/><circle cx="1726.0" cy="943.1" r="3.4"/><circle cx="1735.9" cy="887.6" r="3.4"/><circle cx="1753.6" cy="918.7" r="3.4"/><circle cx="1787.7" cy="889.5" r="3.4"/><circle cx="1725.0" cy="892.0" r="3.4"/><circle cx="1758.6" cy="908.0" r="3.4"/><circle cx="1824.4" cy="864.4" r="3.4"/><circle cx="1707.9" cy="904.4" r="3.4"/><circle cx="1853.9" cy="863.1" r="3.4"/><circle cx="1774.5" cy="904.7" r="3.4"/><circle cx="1760.4" cy="905.0" r="3.4"/><circle cx="1761.4" cy="947.4" r="3.4"/><circle cx="1766.7" cy="920.8" r="3.4"/><circle cx="1691.1" cy="943.6" r="3.4"/><circle cx="1746.4" cy="906.0" r="3.4"/><circle cx="1748.3" cy="919.0" r="3.4"/><circle cx="1829.3" cy="861.1" r="3.4"/><circle cx="1734.6" cy="949.8" r="3.4"/><circle cx="1822.4" cy="881.2" r="3.4"/><circle cx="1841.0" cy="864.5" r="3.4"/><circle cx="1753.1" cy="897.0" r="3.4"/><circle cx="1810.1" cy="867.9" r="3.4"/><circle cx="1787.3" cy="893.4" r="3.4"/><circle cx="1791.4" cy="873.5" r="3.4"/><circle cx="1760.5" cy="919.0" r="3.4"/><circle cx="1742.4" cy="923.5" r="3.4"/><circle cx="1725.6" cy="944.5" r="3.4"/><circle cx="1758.8" cy="925.7" r="3.4"/><circle cx="1788.2" cy="895.2" r="3.4"/><circle cx="1816.7" cy="898.6" r="3.4"/><circle cx="1806.4" cy="898.7" r="3.4"/></g>
<g fill="#00C000" fill-opacity="0.5"><circle cx="1742.3" cy="1143.1" r="3.4"/><circle cx="1754.7" cy="1136.5" r="3.4"/><circle cx="1766.5" cy="1133.2" r="3.4"/><circle cx="1728.5" cy="1114.8" r="3.4"/><circle cx="1739.5" cy="1156.5" r="3.4"/><circle cx="1766.4" cy="1081.9" r="3.4"/><circle cx="1769.5" cy="1125.6" r="3.4"/><circle cx="1780.8" cy="1116.8" r="3.4"/><circle cx="1726.9" cy="1135.5" r="3.4"/><circle cx="1747.2" cy="1112.0" r="3.4"/><circle cx="1784.6" cy="1118.0" r="3.4"/><circle cx="1722.6" cy="1141.8" r="3.4"/><circle cx="1758.3" cy="1120.8" r="3.4"/><circle cx="1732.0" cy="1130.3" r="3.4"/><circle cx="1680.2" cy="1153.0" r="3.4"/><circle cx="1691.7" cy="1149.2" r="3.4"/><circle cx="1716.0" cy="1119.2" r="3.4"/><circle cx="1745.3" cy="1086.5" r="3.4"/><circle cx="1789.6" cy="1121.1" r="3.4"/><circle cx="1735.8" cy="1096.2" r="3.4"/><circle cx="1752.9" cy="1104.7" r="3.4"/><circle cx="1765.9" cy="1125.7" r="3.4"/><circle cx="1733.2" cy="1128.2" r="3.4"/><circle cx="1773.1" cy="1112.4" r="3.4"/><circle cx="1775.2" cy="1091.2" r="3.4"/><circle cx="1742.1" cy="1078.6" r="3.4"/><circle cx="1759.8" cy="1112.2" r="3.4"/><circle cx="1900.9" cy="1118.1" r="3.4"/><circle cx="1702.4" cy="1117.6" r="3.4"/><circle cx="1710.0" cy="1115.8" r="3.4"/><circle cx="1725.2" cy="1136.2" r="3.4"/><circle cx="1722.0" cy="1138.1" r="3.4"/><circle cx="1736.7" cy="1132.5" r="3.4"/><circle cx="1747.3" cy="1115.6" r="3.4"/><circle cx="1732.5" cy="1154.3" r="3.4"/><circle cx="1775.2" cy="1110.4" r="3.4"/><circle cx="1730.1" cy="1154.3" r="3.4"/><circle cx="1699.5" cy="1111.4" r="3.4"/><circle cx="1756.3" cy="1118.6" r="3.4"/><circle cx="1747.1" cy="1106.8" r="3.4"/><circle cx="1782.7" cy="1120.3" r="3.4"/><circle cx="1771.2" cy="1129.0" r="3.4"/><circle cx="1786.8" cy="1106.3" r="3.4"/><circle cx="1711.1" cy="1106.3" r="3.4"/><circle cx="1797.5" cy="1120.2" r="3.4"/><circle cx="1690.2" cy="1118.3" r="3.4"/><circle cx="1792.0" cy="1124.4" r="3.4"/><circle cx="1766.1" cy="1132.4" r="3.4"/><circle cx="1760.1" cy="1125.8" r="3.4"/><circle cx="1706.2" cy="1103.4" r="3.4"/><circle cx="1800.6" cy="1138.5" r="3.4"/><circle cx="1790.5" cy="1109.5" r="3.4"/><circle cx="1774.8" cy="1127.5" r="3.4"/><circle cx="1824.1" cy="1121.9" r="3.4"/><circle cx="1776.3" cy="1137.8" r="3.4"/><circle cx="1744.4" cy="1131.8" r="3.4"/><circle cx="1678.6" cy="1110.9" r="3.4"/><circle cx="1783.3" cy="1095.8" r="3.4"/><circle cx="1702.1" cy="1142.9" r="3.4"/><circle cx="1734.9" cy="1097.5" r="3.4"/><circle cx="1680.1" cy="1114.6" r="3.4"/><circle cx="1769.3" cy="1103.3" r="3.4"/><circle cx="1803.1" cy="1092.7" r="3.4"/><circle cx="1706.8" cy="1109.9" r="3.4"/><circle cx="1742.2" cy="1145.8" r="3.4"/><circle cx="1806.2" cy="1130.3" r="3.4"/><circle cx="1729.6" cy="1116.4" r="3.4"/><circle cx="1716.8" cy="1121.0" r="3.4"/><circle cx="1698.5" cy="1120.8" r="3.4"/><circle cx="1671.7" cy="1132.5" r="3.4"/><circle cx="1785.9" cy="1079.1" r="3.4"/><circle cx="1709.6" cy="1097.3" r="3.4"/><circle cx="1738.9" cy="1125.2" r="3.4"/><circle cx="1776.3" cy="1108.7" r="3.4"/><circle cx="1699.7" cy="1128.4" r="3.4"/><circle cx="1750.7" cy="1115.7" r="3.4"/><circle cx="1780.9" cy="1121.4" r="3.4"/><circle cx="1748.4" cy="1058.0" r="3.4"/><circle cx="1767.6" cy="1113.9" r="3.4"/><circle cx="1787.0" cy="1132.0" r="3.4"/><circle cx="1747.1" cy="1118.1" r="3.4"/><circle cx="1713.5" cy="1096.7" r="3.4"/><circle cx="1793.4" cy="1104.3" r="3.4"/><circle cx="1769.1" cy="1121.5" r="3.4"/><circle cx="1733.1" cy="1150.2" r="3.4"/><circle cx="1771.4" cy="1123.6" r="3.4"/><circle cx="1756.7" cy="1082.5" r="3.4"/><circle cx="1735.8" cy="1152.6" r="3.4"/><circle cx="1730.7" cy="1109.3" r="3.4"/><circle cx="1723.9" cy="1104.6" r="3.4"/><circle cx="1725.1" cy="1090.2" r="3.4"/><circle cx="1741.6" cy="1125.1" r="3.4"/><circle cx="1709.6" cy="1130.4" r="3.4"/><circle cx="1735.6" cy="1131.0" r="3.4"/><circle cx="1787.4" cy="1127.7" r="3.4"/><circle cx="1690.3" cy="1155.5" r="3.4"/><circle cx="1706.9" cy="1119.3" r="3.4"/><circle cx="1768.2" cy="1145.3" r="3.4"/><circle cx="1764.0" cy="1112.7" r="3.4"/><circle cx="1775.1" cy="1087.6" r="3.4"/><circle cx="1704.5" cy="1129.6" r="3.4"/><circle cx="1771.5" cy="1149.6" r="3.4"/><circle cx="1696.7" cy="1146.3" r="3.4"/><circle cx="1736.9" cy="1135.3" r="3.4"/><circle cx="1796.0" cy="1110.0" r="3.4"/><circle cx="1790.2" cy="1152.0" r="3.4"/><circle cx="1781.3" cy="1130.3" r="3.4"/><circle cx="1690.6" cy="1109.3" r="3.4"/><circle cx="1690.5" cy="1145.0" r="3.4"/><circle cx="1790.1" cy="1068.1" r="3.4"/><circle cx="1738.2" cy="1135.8" r="3.4"/><circle cx="1744.2" cy="1104.4" r="3.4"/><circle cx="1761.6" cy="1092.3" r="3.4"/><circle cx="1785.4" cy="1127.9" r="3.4"/><circle cx="1746.4" cy="1072.9" r="3.4"/><circle cx="1780.2" cy="1137.0" r="3.4"/><circle cx="1723.1" cy="1152.5" r="3.4"/><circle cx="1719.8" cy="1141.7" r="3.4"/><circle cx="1779.3" cy="1110.9" r="3.4"/><circle cx="1705.9" cy="1089.6" r="3.4"/><circle cx="1749.1" cy="1091.1" r="3.4"/><circle cx="1757.3" cy="1135.9" r="3.4"/><circle cx="1741.3" cy="1126.9" r="3.4"/><circle cx="1788.1" cy="1129.0" r="3.4"/><circle cx="1792.4" cy="1139.2" r="3.4"/><circle cx="1788.3" cy="1132.4" r="3.4"/><circle cx="1751.7" cy="1109.7" r="3.4"/><circle cx="1721.1" cy="1136.2" r="3.4"/><circle cx="1703.3" cy="1128.4" r="3.4"/><circle cx="1693.9" cy="1137.1" r="3.4"/><circle cx="1746.5" cy="1135.7" r="3.4"/><circle cx="1759.1" cy="1135.9" r="3.4"/><circle cx="1716.4" cy="1152.9" r="3.4"/><circle cx="1801.0" cy="1085.7" r="3.4"/><circle cx="1727.0" cy="1099.3" r="3.4"/><circle cx="1708.2" cy="1093.2" r="3.4"/><circle cx="1791.4" cy="1123.0" r="3.4"/><circle cx="1732.1" cy="1124.3" r="3.4"/><circle cx="1759.2" cy="1103.7" r="3.4"/><circle cx="1860.9" cy="1121.1" r="3.4"/><circle cx="1751.7" cy="1093.1" r="3.4"/><circle cx="1708.4" cy="1146.9" r="3.4"/><circle cx="1773.0" cy="1154.5" r="3.4"/><circle cx="1758.9" cy="1147.6" r="3.4"/><circle cx="1715.8" cy="1144.0" r="3.4"/><circle cx="1806.6" cy="1105.3" r="3.4"/><circle cx="1772.4" cy="1148.0" r="3.4"/><circle cx="1772.4" cy="1126.8" r="3.4"/><circle cx="1732.6" cy="1116.4" r="3.4"/><circle cx="1802.8" cy="1104.4" r="3.4"/><circle cx="1811.1" cy="1113.9" r="3.4"/><circle cx="1807.3" cy="1102.4" r="3.4"/><circle cx="1799.3" cy="1110.3" r="3.4"/><circle cx="1779.2" cy="1090.2" r="3.4"/><circle cx="1708.2" cy="1130.7" r="3.4"/><circle cx="1737.6" cy="1102.1" r="3.4"/><circle cx="1733.4" cy="1146.0" r="3.4"/><circle cx="1708.4" cy="1152.6" r="3.4"/><circle cx="1780.1" cy="1124.9" r="3.4"/><circle cx="1800.7" cy="1114.0" r="3.4"/><circle cx="1801.8" cy="1088.8" r="3.4"/><circle cx="1682.5" cy="1147.1" r="3.4"/><circle cx="1687.1" cy="1145.8" r="3.4"/><circle cx="1733.6" cy="1127.8" r="3.4"/><circle cx="1779.3" cy="1144.6" r="3.4"/><circle cx="1791.2" cy="1126.3" r="3.4"/><circle cx="1771.1" cy="1117.7" r="3.4"/><circle cx="1767.7" cy="1124.3" r="3.4"/><circle cx="1790.9" cy="1117.1" r="3.4"/><circle cx="1719.6" cy="1115.3" r="3.4"/><circle cx="1774.4" cy="1120.4" r="3.4"/><circle cx="1778.3" cy="1132.6" r="3.4"/><circle cx="1744.9" cy="1129.8" r="3.4"/><circle cx="1702.0" cy="1131.3" r="3.4"/><circle cx="1750.2" cy="1144.1" r="3.4"/><circle cx="1711.7" cy="1140.6" r="3.4"/><circle cx="1768.9" cy="1100.4" r="3.4"/><circle cx="1743.1" cy="1150.6" r="3.4"/><circle cx="1768.0" cy="1122.0" r="3.4"/><circle cx="1728.8" cy="1099.3" r="3.4"/><circle cx="1761.7" cy="1121.1" r="3.4"/><circle cx="1737.7" cy="1109.9" r="3.4"/><circle cx="1740.7" cy="1123.0" r="3.4"/><circle cx="1811.5" cy="1134.4" r="3.4"/><circle cx="1769.4" cy="1110.0" r="3.4"/><circle cx="1834.6" cy="1122.1" r="3.4"/><circle cx="1670.1" cy="1149.6" r="3.4"/><circle cx="1737.9" cy="1150.9" r="3.4"/><circle cx="1785.5" cy="1095.6" r="3.4"/><circle cx="1723.9" cy="1092.4" r="3.4"/><circle cx="1746.1" cy="1111.0" r="3.4"/><circle cx="1808.8" cy="1117.0" r="3.4"/><circle cx="1737.0" cy="1101.5" r="3.4"/><circle cx="1705.1" cy="1133.7" r="3.4"/><circle cx="1703.3" cy="1151.5" r="3.4"/><circle cx="1781.9" cy="1111.1" r="3.4"/><circle cx="1798.7" cy="1114.5" r="3.4"/><circle cx="1786.2" cy="1127.8" r="3.4"/><circle cx="1758.0" cy="1099.0" r="3.4"/><circle cx="1759.7" cy="1152.9" r="3.4"/><circle cx="1716.4" cy="1120.6" r="3.4"/><circle cx="1737.9" cy="1105.3" r="3.4"/><circle cx="1802.8" cy="1114.9" r="3.4"/><circle cx="1830.2" cy="1109.1" r="3.4"/><circle cx="1732.9" cy="1149.7" r="3.4"/><circle cx="1781.2" cy="1148.8" r="3.4"/><circle cx="1759.0" cy="1155.8" r="3.4"/><circle cx="1730.8" cy="1100.2" r="3.4"/><circle cx="1739.5" cy="1109.7" r="3.4"/><circle cx="1721.2" cy="1105.2" r="3.4"/><circle cx="1797.6" cy="1121.9" r="3.4"/><circle cx="1737.9" cy="1158.1" r="3.4"/><circle cx="1841.7" cy="1117.5" r="3.4"/><circle cx="1707.6" cy="1107.4" r="3.4"/><circle cx="1754.6" cy="1111.4" r="3.4"/><circle cx="1691.4" cy="1093.4" r="3.4"/><circle cx="1776.2" cy="1137.2" r="3.4"/><circle cx="1732.4" cy="1104.4" r="3.4"/><circle cx="1772.0" cy="1129.1" r="3.4"/><circle cx="1714.2" cy="1133.5" r="3.4"/><circle cx="1742.6" cy="1107.0" r="3.4"/><circle cx="1763.7" cy="1129.0" r="3.4"/><circle cx="1722.5" cy="1149.1" r="3.4"/><circle cx="1749.7" cy="1086.7" r="3.4"/><circle cx="1768.6" cy="1156.3" r="3.4"/><circle cx="1746.7" cy="1124.7" r="3.4"/><circle cx="1723.3" cy="1124.2" r="3.4"/><circle cx="1808.5" cy="1129.2" r="3.4"/><circle cx="1766.3" cy="1115.0" r="3.4"/><circle cx="1696.1" cy="1144.3" r="3.4"/><circle cx="1697.7" cy="1137.3" r="3.4"/><circle cx="1750.6" cy="1103.0" r="3.4"/><circle cx="1705.6" cy="1124.9" r="3.4"/><circle cx="1701.5" cy="1155.1" r="3.4"/><circle cx="1770.9" cy="1103.8" r="3.4"/><circle cx="1766.7" cy="1131.5" r="3.4"/><circle cx="1800.7" cy="1111.1" r="3.4"/><circle cx="1769.2" cy="1101.1" r="3.4"/><circle cx="1751.2" cy="1107.9" r="3.4"/><circle cx="1684.8" cy="1157.6" r="3.4"/><circle cx="1706.2" cy="1118.3" r="3.4"/><circle cx="1705.8" cy="1121.2" r="3.4"/><circle cx="1803.7" cy="1104.7" r="3.4"/><circle cx="1779.8" cy="1134.0" r="3.4"/><circle cx="1782.8" cy="1147.3" r="3.4"/><circle cx="1700.1" cy="1102.0" r="3.4"/><circle cx="1774.0" cy="1135.8" r="3.4"/><circle cx="1711.5" cy="1136.1" r="3.4"/><circle cx="1729.0" cy="1128.1" r="3.4"/><circle cx="1768.2" cy="1152.9" r="3.4"/><circle cx="1828.3" cy="1105.4" r="3.4"/><circle cx="1797.1" cy="1119.0" r="3.4"/><circle cx="1800.8" cy="1105.9" r="3.4"/><circle cx="1758.4" cy="1133.2" r="3.4"/><circle cx="1701.4" cy="1127.2" r="3.4"/><circle cx="1775.5" cy="1116.4" r="3.4"/><circle cx="1669.9" cy="1148.6" r="3.4"/><circle cx="1750.1" cy="1123.3" r="3.4"/><circle cx="1742.1" cy="1126.5" r="3.4"/><circle cx="1732.7" cy="1151.8" r="3.4"/><circle cx="1824.1" cy="1122.0" r="3.4"/><circle cx="1743.0" cy="1093.4" r="3.4"/><circle cx="1723.1" cy="1141.4" r="3.4"/><circle cx="1717.4" cy="1134.9" r="3.4"/><circle cx="1803.2" cy="1127.2" r="3.4"/><circle cx="1833.8" cy="1089.2" r="3.4"/><circle cx="1672.1" cy="1138.9" r="3.4"/><circle cx="1767.3" cy="1133.1" r="3.4"/><circle cx="1851.1" cy="1074.6" r="3.4"/><circle cx="1782.8" cy="1080.0" r="3.4"/><circle cx="1808.5" cy="1094.5" r="3.4"/><circle cx="1765.8" cy="1129.1" r="3.4"/><circle cx="1800.7" cy="1117.5" r="3.4"/><circle cx="1736.2" cy="1123.1" r="3.4"/><circle cx="1759.2" cy="1133.4" r="3.4"/><circle cx="1736.1" cy="1131.3" r="3.4"/><circle cx="1699.4" cy="1123.8" r="3.4"/><circle cx="1717.0" cy="1135.3" r="3.4"/><circle cx="1747.8" cy="1105.1" r="3.4"/><circle cx="1782.0" cy="1133.3" r="3.4"/><circle cx="1799.9" cy="1118.3" r="3.4"/><circle cx="1732.2" cy="1119.1" r="3.4"/><circle cx="1694.5" cy="1134.1" r="3.4"/><circle cx="1725.3" cy="1094.4" r="3.4"/><circle cx="1732.4" cy="1117.5" r="3.4"/><circle cx="1753.6" cy="1131.2" r="3.4"/><circle cx="1712.6" cy="1134.2" r="3.4"/><circle cx="1770.9" cy="1124.1" r="3.4"/><circle cx="1810.4" cy="1148.5" r="3.4"/><circle cx="1762.6" cy="1132.3" r="3.4"/><circle cx="1706.4" cy="1132.8" r="3.4"/><circle cx="1739.1" cy="1127.7" r="3.4"/><circle cx="1736.4" cy="1111.3" r="3.4"/><circle cx="1752.7" cy="1126.2" r="3.4"/><circle cx="1762.4" cy="1145.9" r="3.4"/><circle cx="1683.6" cy="1121.8" r="3.4"/><circle cx="1741.6" cy="1110.8" r="3.4"/><circle cx="1714.6" cy="1141.3" r="3.4"/><circle cx="1734.9" cy="1091.2" r="3.4"/><circle cx="1735.3" cy="1087.3" r="3.4"/><circle cx="1779.3" cy="1108.1" r="3.4"/><circle cx="1726.7" cy="1061.9" r="3.4"/><circle cx="1754.6" cy="1089.2" r="3.4"/><circle cx="1873.2" cy="1034.2" r="3.4"/><circle cx="1871.2" cy="1080.9" r="3.4"/><circle cx="1832.8" cy="1044.7" r="3.4"/><circle cx="1828.5" cy="1069.8" r="3.4"/><circle cx="1771.2" cy="1121.4" r="3.4"/><circle cx="1734.6" cy="1085.9" r="3.4"/><circle cx="1885.9" cy="1102.1" r="3.4"/><circle cx="1701.6" cy="1092.5" r="3.4"/><circle cx="1927.8" cy="1062.7" r="3.4"/><circle cx="1885.0" cy="1090.0" r="3.4"/><circle cx="1840.4" cy="1048.6" r="3.4"/><circle cx="1891.5" cy="1071.8" r="3.4"/><circle cx="1750.7" cy="1057.4" r="3.4"/><circle cx="1804.8" cy="1097.6" r="3.4"/><circle cx="1821.3" cy="1077.4" r="3.4"/><circle cx="1779.6" cy="1094.2" r="3.4"/><circle cx="1881.2" cy="1026.1" r="3.4"/><circle cx="1780.7" cy="1113.4" r="3.4"/><circle cx="1932.9" cy="1043.4" r="3.4"/><circle cx="1840.6" cy="1018.2" r="3.4"/><circle cx="1841.7" cy="1038.0" r="3.4"/><circle cx="1818.9" cy="1112.8" r="3.4"/><circle cx="1823.8" cy="1064.0" r="3.4"/><circle cx="1782.4" cy="1091.7" r="3.4"/><circle cx="1816.9" cy="1101.7" r="3.4"/><circle cx="1874.8" cy="1105.4" r="3.4"/><circle cx="1730.4" cy="1061.7" r="3.4"/><circle cx="1702.8" cy="1090.9" r="3.4"/><circle cx="1727.6" cy="1114.5" r="3.4"/><circle cx="1796.1" cy="1111.0" r="3.4"/><circle cx="1745.7" cy="1086.4" r="3.4"/><circle cx="1736.9" cy="1096.5" r="3.4"/><circle cx="1790.8" cy="1105.7" r="3.4"/><circle cx="1804.4" cy="1106.2" r="3.4"/><circle cx="1797.8" cy="1118.1" r="3.4"/><circle cx="1813.1" cy="1053.6" r="3.4"/><circle cx="1758.1" cy="1058.1" r="3.4"/><circle cx="1793.8" cy="1066.6" r="3.4"/><circle cx="1697.1" cy="1102.3" r="3.4"/><circle cx="1843.9" cy="1060.8" r="3.4"/><circle cx="1750.3" cy="1109.5" r="3.4"/><circle cx="1742.9" cy="1061.9" r="3.4"/><circle cx="1878.6" cy="1070.2" r="3.4"/><circle cx="1753.7" cy="1115.7" r="3.4"/><circle cx="1761.1" cy="1154.0" r="3.4"/><circle cx="1824.6" cy="1056.1" r="3.4"/><circle cx="1761.8" cy="1081.7" r="3.4"/><circle cx="1837.0" cy="1059.8" r="3.4"/><circle cx="1815.6" cy="1054.0" r="3.4"/><circle cx="1825.0" cy="1069.1" r="3.4"/><circle cx="1868.0" cy="1073.3" r="3.4"/><circle cx="1792.0" cy="1097.6" r="3.4"/><circle cx="1786.6" cy="1085.9" r="3.4"/><circle cx="1887.6" cy="1042.6" r="3.4"/><circle cx="1840.8" cy="1048.5" r="3.4"/><circle cx="1864.5" cy="1119.4" r="3.4"/><circle cx="1906.5" cy="1076.9" r="3.4"/><circle cx="1815.5" cy="1093.9" r="3.4"/><circle cx="1774.3" cy="1098.7" r="3.4"/><circle cx="1733.9" cy="1092.3" r="3.4"/><circle cx="1874.6" cy="1070.0" r="3.4"/><circle cx="1858.4" cy="1078.8" r="3.4"/><circle cx="1746.5" cy="1125.9" r="3.4"/><circle cx="1854.5" cy="1058.2" r="3.4"/><circle cx="1844.8" cy="1076.1" r="3.4"/><circle cx="1759.6" cy="1154.2" r="3.4"/><circle cx="1708.8" cy="1151.0" r="3.4"/><circle cx="1756.0" cy="1099.0" r="3.4"/><circle cx="1795.9" cy="1041.9" r="3.4"/><circle cx="1733.2" cy="1077.8" r="3.4"/><circle cx="1757.1" cy="1095.7" r="3.4"/><circle cx="1781.6" cy="1076.5" r="3.4"/><circle cx="1770.6" cy="1097.7" r="3.4"/><circle cx="1707.3" cy="1122.9" r="3.4"/><circle cx="1753.9" cy="1121.5" r="3.4"/><circle cx="1822.3" cy="1034.3" r="3.4"/><circle cx="1778.7" cy="1084.5" r="3.4"/><circle cx="1754.9" cy="1090.3" r="3.4"/><circle cx="1767.8" cy="1120.5" r="3.4"/><circle cx="1816.6" cy="1050.0" r="3.4"/><circle cx="1765.2" cy="1046.5" r="3.4"/><circle cx="1941.8" cy="1017.8" r="3.4"/><circle cx="1745.3" cy="1124.2" r="3.4"/><circle cx="1897.3" cy="1046.1" r="3.4"/><circle cx="1864.2" cy="1094.1" r="3.4"/><circle cx="1828.3" cy="1075.5" r="3.4"/><circle cx="1933.4" cy="1002.7" r="3.4"/><circle cx="1806.8" cy="1128.6" r="3.4"/><circle cx="1939.7" cy="1046.9" r="3.4"/><circle cx="1864.5" cy="1089.5" r="3.4"/><circle cx="1787.5" cy="1076.7" r="3.4"/><circle cx="1759.2" cy="1146.4" r="3.4"/><circle cx="1766.6" cy="1101.3" r="3.4"/><circle cx="1861.4" cy="1091.9" r="3.4"/><circle cx="1783.5" cy="1123.0" r="3.4"/><circle cx="1830.8" cy="1048.3" r="3.4"/><circle cx="1866.7" cy="1048.0" r="3.4"/><circle cx="1768.8" cy="1051.6" r="3.4"/><circle cx="1836.7" cy="1102.4" r="3.4"/><circle cx="1783.3" cy="1084.6" r="3.4"/><circle cx="1839.9" cy="1079.2" r="3.4"/><circle cx="1825.2" cy="1114.9" r="3.4"/><circle cx="1735.4" cy="1093.1" r="3.4"/><circle cx="1877.7" cy="1048.5" r="3.4"/><circle cx="1728.7" cy="1091.9" r="3.4"/><circle cx="1819.7" cy="1102.0" r="3.4"/><circle cx="1751.3" cy="1083.5" r="3.4"/><circle cx="1703.1" cy="1117.6" r="3.4"/><circle cx="1919.8" cy="1089.3" r="3.4"/><circle cx="1720.1" cy="1092.3" r="3.4"/><circle cx="1834.1" cy="1039.9" r="3.4"/><circle cx="1874.9" cy="1053.6" r="3.4"/><circle cx="1821.6" cy="1053.7" r="3.4"/><circle cx="1820.4" cy="1069.4" r="3.4"/><circle cx="1808.4" cy="1068.3" r="3.4"/><circle cx="1822.2" cy="1075.5" r="3.4"/><circle cx="1830.1" cy="1095.3" r="3.4"/><circle cx="1753.0" cy="1134.8" r="3.4"/><circle cx="1684.4" cy="1116.6" r="3.4"/><circle cx="1710.3" cy="1112.8" r="3.4"/><circle cx="1752.5" cy="1079.8" r="3.4"/><circle cx="1718.2" cy="1114.9" r="3.4"/><circle cx="1866.2" cy="1082.9" r="3.4"/><circle cx="1840.0" cy="1036.9" r="3.4"/><circle cx="1821.2" cy="1085.6" r="3.4"/><circle cx="1691.3" cy="1127.0" r="3.4"/><circle cx="1785.3" cy="1080.1" r="3.4"/><circle cx="1925.4" cy="1094.4" r="3.4"/><circle cx="1804.3" cy="1056.6" r="3.4"/><circle cx="1930.0" cy="1041.5" r="3.4"/><circle cx="1893.4" cy="1043.5" r="3.4"/><circle cx="1839.1" cy="1079.7" r="3.4"/><circle cx="1940.3" cy="1048.9" r="3.4"/><circle cx="1871.5" cy="1061.1" r="3.4"/><circle cx="1793.1" cy="1033.8" r="3.4"/><circle cx="1724.6" cy="1122.2" r="3.4"/><circle cx="1783.7" cy="1113.8" r="3.4"/><circle cx="1727.4" cy="1139.4" r="3.4"/><circle cx="1873.3" cy="1061.6" r="3.4"/><circle cx="1853.1" cy="1104.3" r="3.4"/><circle cx="1704.3" cy="1139.4" r="3.4"/><circle cx="1879.1" cy="1046.8" r="3.4"/><circle cx="1808.5" cy="1056.7" r="3.4"/><circle cx="1852.9" cy="1042.2" r="3.4"/><circle cx="1777.9" cy="1107.7" r="3.4"/><circle cx="1836.3" cy="1121.1" r="3.4"/><circle cx="1808.7" cy="1121.0" r="3.4"/><circle cx="1794.5" cy="1067.6" r="3.4"/><circle cx="1845.2" cy="1021.4" r="3.4"/><circle cx="1864.7" cy="1046.4" r="3.4"/><circle cx="1753.5" cy="1114.2" r="3.4"/><circle cx="1781.8" cy="1046.1" r="3.4"/><circle cx="1817.7" cy="1001.3" r="3.4"/><circle cx="1777.9" cy="1151.7" r="3.4"/><circle cx="1845.4" cy="1116.6" r="3.4"/><circle cx="1817.0" cy="1031.1" r="3.4"/><circle cx="1764.7" cy="1057.0" r="3.4"/><circle cx="1758.0" cy="1110.6" r="3.4"/><circle cx="1806.6" cy="1063.4" r="3.4"/><circle cx="1745.1" cy="1080.9" r="3.4"/><circle cx="1777.1" cy="1056.0" r="3.4"/><circle cx="1839.0" cy="1023.9" r="3.4"/><circle cx="1946.6" cy="998.6" r="3.4"/><circle cx="1866.4" cy="1045.6" r="3.4"/><circle cx="1904.5" cy="984.0" r="3.4"/><circle cx="1859.5" cy="1098.4" r="3.4"/><circle cx="1826.2" cy="1089.7" r="3.4"/><circle cx="1811.2" cy="1037.5" r="3.4"/><circle cx="1748.5" cy="1119.8" r="3.4"/><circle cx="1809.3" cy="1120.7" r="3.4"/><circle cx="1782.3" cy="1058.2" r="3.4"/><circle cx="1800.3" cy="1137.0" r="3.4"/><circle cx="1751.4" cy="1090.2" r="3.4"/><circle cx="1779.0" cy="1074.5" r="3.4"/><circle cx="1803.1" cy="1096.8" r="3.4"/><circle cx="1880.6" cy="1095.7" r="3.4"/><circle cx="1741.5" cy="1067.4" r="3.4"/><circle cx="1854.7" cy="1098.6" r="3.4"/><circle cx="1725.1" cy="1073.6" r="3.4"/><circle cx="1746.5" cy="1045.5" r="3.4"/><circle cx="1825.0" cy="1091.3" r="3.4"/><circle cx="1814.5" cy="1087.8" r="3.4"/><circle cx="1914.1" cy="1043.0" r="3.4"/><circle cx="1777.1" cy="1138.6" r="3.4"/><circle cx="1812.7" cy="1080.1" r="3.4"/><circle cx="1819.8" cy="1083.6" r="3.4"/><circle cx="1831.1" cy="1093.8" r="3.4"/><circle cx="1720.3" cy="979.2" r="3.4"/><circle cx="1797.0" cy="984.3" r="3.4"/><circle cx="1823.1" cy="970.8" r="3.4"/><circle cx="1830.5" cy="991.0" r="3.4"/><circle cx="1782.1" cy="1034.8" r="3.4"/><circle cx="1756.1" cy="1034.8" r="3.4"/></g>
<rect x="1578.0" y="809.3" width="400.7" height="363.2" fill="none" stroke="#000" stroke-width="2.7"/>
<path d="M1592.3 1172.5v9.3M1578.0 1159.4h-9.3M1666.7 1172.5v9.3M1578.0 1092.0h-9.3M1741.2 1172.5v9.3M1578.0 1024.7h-9.3M1815.6 1172.5v9.3M1578.0 957.3h-9.3M1890.1 1172.5v9.3M1578.0 890.0h-9.3M1964.5 1172.5v9.3M1578.0 822.6h-9.3" stroke="#000" stroke-width="2.6" fill="none"/>
<g font-size="28">
<text x="1592.3" y="1202.6" text-anchor="middle">0</text>
<text x="1547.2" y="1170.3" text-anchor="middle">0</text>
<text x="1666.7" y="1202.6" text-anchor="middle">20</text>
<text x="1547.2" y="1102.9" text-anchor="middle">20</text>
<text x="1741.2" y="1202.6" text-anchor="middle">40</text>
<text x="1547.2" y="1035.6" text-anchor="middle">40</text>
<text x="1815.6" y="1202.6" text-anchor="middle">60</text>
<text x="1547.2" y="968.2" text-anchor="middle">60</text>
<text x="1890.1" y="1202.6" text-anchor="middle">80</text>
<text x="1547.2" y="900.9" text-anchor="middle">80</text>
<text x="1964.5" y="1202.6" text-anchor="middle">100</text>
<text x="1547.2" y="833.5" text-anchor="middle">100</text>
</g>
<text x="1778.4" y="1235" font-size="35" text-anchor="middle">Matched normal</text>
<text transform="translate(1525.1 990.9) rotate(-90)" font-size="35" text-anchor="middle">ADC</text>
<text x="1778.4" y="789.8" font-size="37.9" font-weight="bold" fill="#0000CD" text-anchor="middle">Pearson's r = 0.7403</text>
</g>
</g>
<g id="panelC">
<text transform="translate(-1 1319.6) scale(0.96 1)" font-size="56.5" fill="#000" stroke="#000" stroke-width="0.9">c</text>
<g id="cL">
<clipPath id="cLclip"><rect x="190.9" y="1353.3" width="439.3" height="409.9"/></clipPath>
<rect x="190.9" y="1353.3" width="439.3" height="409.9" fill="#F8F8FF"/>
<path d="M190.9 1735.2H630.2M190.9 1691.1H630.2M190.9 1647.0H630.2M190.9 1603.0H630.2M190.9 1558.8H630.2M190.9 1514.8H630.2M190.9 1470.6H630.2M190.9 1426.5H630.2M190.9 1382.4H630.2" stroke="#fff" stroke-width="1.2" fill="none" opacity="0.8"/>
<path d="M190.9 1757.3H630.2M190.9 1713.2H630.2M190.9 1669.1H630.2M190.9 1625.0H630.2M190.9 1580.9H630.2M190.9 1536.8H630.2M190.9 1492.7H630.2M190.9 1448.6H630.2M190.9 1404.5H630.2M190.9 1360.4H630.2" stroke="#fff" stroke-width="2.2" fill="none" opacity="0.85"/>
<path d="M252.4 1353.3V1763.2M357.7 1353.3V1763.2M463.3 1353.3V1763.2M569.0 1353.3V1763.2" stroke="#fff" stroke-width="3" fill="none" opacity="0.9"/>
<g clip-path="url(#cLclip)">
<path d="M252.5 1838.0L252.6 1834.7L252.6 1831.3L252.7 1828.0L252.8 1824.7L252.9 1821.4L253.1 1818.1L253.3 1814.8L253.5 1811.4L253.8 1808.1L254.1 1804.8L254.5 1801.5L254.9 1798.2L255.4 1794.9L256.0 1791.5L256.7 1788.2L257.4 1784.9L258.2 1781.6L259.1 1778.3L260.0 1775.0L261.0 1771.6L262.0 1768.3L263.1 1765.0L264.2 1761.7L265.4 1758.4L266.5 1755.1L267.6 1751.7L268.7 1748.4L269.7 1745.1L270.7 1741.8L271.6 1738.5L272.5 1735.2L273.2 1731.8L273.8 1728.5L274.4 1725.2L274.8 1721.9L275.1 1718.6L275.4 1715.3L275.5 1711.9L275.6 1708.6L275.6 1705.3L275.5 1702.0L275.3 1698.7L275.2 1695.4L275.0 1692.0L274.7 1688.7L274.5 1685.4L274.3 1682.1L274.1 1678.8L273.9 1675.5L273.8 1672.1L273.7 1668.8L273.6 1665.5L273.6 1662.2L273.7 1658.9L273.9 1655.6L274.1 1652.2L274.4 1648.9L274.9 1645.6L275.4 1642.3L276.0 1639.0L276.8 1635.7L277.6 1632.3L278.6 1629.0L279.6 1625.7L280.7 1622.4L281.9 1619.1L283.1 1615.8L284.3 1612.4L285.4 1609.1L286.4 1605.8L287.4 1602.5L288.2 1599.2L288.8 1595.9L289.1 1592.6L289.3 1589.2L289.1 1585.9L288.7 1582.6L288.1 1579.3L287.2 1576.0L286.0 1572.7L284.6 1569.3L283.0 1566.0L281.3 1562.7L279.5 1559.4L277.6 1556.1L275.7 1552.8L273.8 1549.4L271.9 1546.1L270.2 1542.8L268.7 1539.5L267.2 1536.2L266.0 1532.9L265.0 1529.5L264.3 1526.2L263.7 1522.9L263.4 1519.6L263.3 1516.3L263.5 1513.0L263.8 1509.6L264.4 1506.3L265.2 1503.0L266.1 1499.7L267.3 1496.4L268.5 1493.1L269.9 1489.7L271.4 1486.4L272.9 1483.1L274.5 1479.8L276.2 1476.5L277.9 1473.2L279.6 1469.8L281.3 1466.5L282.9 1463.2L284.5 1459.9L285.9 1456.6L287.3 1453.3L288.5 1449.9L289.6 1446.6L290.4 1443.3L291.1 1440.0L291.5 1436.7L291.7 1433.4L291.6 1430.0L291.3 1426.7L290.7 1423.4L289.9 1420.1L288.8 1416.8L287.5 1413.5L285.9 1410.1L284.2 1406.8L282.4 1403.5L280.4 1400.2L278.4 1396.9L276.3 1393.6L274.2 1390.2L272.1 1386.9L270.1 1383.6L268.1 1380.3L266.3 1377.0L264.6 1373.7L262.9 1370.3L261.5 1367.0L260.1 1363.7L258.9 1360.4L257.9 1357.1L256.9 1353.8L256.1 1350.4L255.4 1347.1L254.9 1343.8L254.4 1340.5L254.0 1337.2L253.6 1333.9L253.4 1330.5L253.1 1327.2L253.0 1323.9L252.8 1320.6L252.7 1317.3L252.6 1314.0L252.6 1310.6L252.2 1310.6L252.2 1314.0L252.1 1317.3L252.0 1320.6L251.8 1323.9L251.7 1327.2L251.4 1330.5L251.2 1333.9L250.8 1337.2L250.4 1340.5L249.9 1343.8L249.4 1347.1L248.7 1350.4L247.9 1353.8L246.9 1357.1L245.9 1360.4L244.7 1363.7L243.3 1367.0L241.9 1370.3L240.2 1373.7L238.5 1377.0L236.7 1380.3L234.7 1383.6L232.7 1386.9L230.6 1390.2L228.5 1393.6L226.4 1396.9L224.4 1400.2L222.4 1403.5L220.6 1406.8L218.9 1410.1L217.3 1413.5L216.0 1416.8L214.9 1420.1L214.1 1423.4L213.5 1426.7L213.2 1430.0L213.1 1433.4L213.3 1436.7L213.7 1440.0L214.4 1443.3L215.2 1446.6L216.3 1449.9L217.5 1453.3L218.9 1456.6L220.3 1459.9L221.9 1463.2L223.5 1466.5L225.2 1469.8L226.9 1473.2L228.6 1476.5L230.3 1479.8L231.9 1483.1L233.4 1486.4L234.9 1489.7L236.3 1493.1L237.5 1496.4L238.7 1499.7L239.6 1503.0L240.4 1506.3L241.0 1509.6L241.3 1513.0L241.5 1516.3L241.4 1519.6L241.1 1522.9L240.5 1526.2L239.8 1529.5L238.8 1532.9L237.6 1536.2L236.1 1539.5L234.6 1542.8L232.9 1546.1L231.0 1549.4L229.1 1552.8L227.2 1556.1L225.3 1559.4L223.5 1562.7L221.8 1566.0L220.2 1569.3L218.8 1572.7L217.6 1576.0L216.7 1579.3L216.1 1582.6L215.7 1585.9L215.5 1589.2L215.7 1592.6L216.0 1595.9L216.6 1599.2L217.4 1602.5L218.4 1605.8L219.4 1609.1L220.5 1612.4L221.7 1615.8L222.9 1619.1L224.1 1622.4L225.2 1625.7L226.2 1629.0L227.2 1632.3L228.0 1635.7L228.8 1639.0L229.4 1642.3L229.9 1645.6L230.4 1648.9L230.7 1652.2L230.9 1655.6L231.1 1658.9L231.2 1662.2L231.2 1665.5L231.1 1668.8L231.0 1672.1L230.9 1675.5L230.7 1678.8L230.5 1682.1L230.3 1685.4L230.1 1688.7L229.8 1692.0L229.6 1695.4L229.5 1698.7L229.3 1702.0L229.2 1705.3L229.2 1708.6L229.3 1711.9L229.4 1715.3L229.7 1718.6L230.0 1721.9L230.4 1725.2L231.0 1728.5L231.6 1731.8L232.3 1735.2L233.2 1738.5L234.1 1741.8L235.1 1745.1L236.1 1748.4L237.2 1751.7L238.3 1755.1L239.4 1758.4L240.6 1761.7L241.7 1765.0L242.8 1768.3L243.8 1771.6L244.8 1775.0L245.7 1778.3L246.6 1781.6L247.4 1784.9L248.1 1788.2L248.8 1791.5L249.4 1794.9L249.9 1798.2L250.3 1801.5L250.7 1804.8L251.0 1808.1L251.3 1811.4L251.5 1814.8L251.7 1818.1L251.9 1821.4L252.0 1824.7L252.1 1828.0L252.2 1831.3L252.2 1834.7L252.3 1838.0Z" fill="#EE7621" fill-opacity="0.55"/>
<path d="M252.4 1210.1V1938.5" stroke="#EE7621" stroke-width="0.8" opacity="0.2"/>
<path d="M357.8 1642.3L357.9 1640.7L358.0 1639.0L358.2 1637.4L358.5 1635.7L358.8 1634.1L359.2 1632.5L359.8 1630.8L360.5 1629.2L361.3 1627.6L362.3 1625.9L363.4 1624.3L364.5 1622.6L365.7 1621.0L366.9 1619.4L367.9 1617.7L368.8 1616.1L369.5 1614.5L369.9 1612.8L370.0 1611.2L369.8 1609.5L369.3 1607.9L368.6 1606.3L367.7 1604.6L366.8 1603.0L365.8 1601.4L364.9 1599.7L364.2 1598.1L363.7 1596.4L363.4 1594.8L363.4 1593.2L363.7 1591.5L364.3 1589.9L365.0 1588.3L365.9 1586.6L366.9 1585.0L367.8 1583.3L368.7 1581.7L369.4 1580.1L369.8 1578.4L370.0 1576.8L369.9 1575.2L369.4 1573.5L368.7 1571.9L367.8 1570.2L366.7 1568.6L365.6 1567.0L364.4 1565.3L363.3 1563.7L362.2 1562.1L361.3 1560.4L360.5 1558.8L359.9 1557.1L359.5 1555.5L359.2 1553.9L359.1 1552.2L359.1 1550.6L359.4 1549.0L359.8 1547.3L360.3 1545.7L361.1 1544.0L362.0 1542.4L363.0 1540.8L364.1 1539.1L365.3 1537.5L366.5 1535.9L367.7 1534.2L368.7 1532.6L369.6 1530.9L370.3 1529.3L370.8 1527.7L371.1 1526.0L371.3 1524.4L371.4 1522.8L371.5 1521.1L371.7 1519.5L372.1 1517.8L372.7 1516.2L373.6 1514.6L374.8 1512.9L376.3 1511.3L377.9 1509.7L379.6 1508.0L381.2 1506.4L382.7 1504.7L383.9 1503.1L384.8 1501.5L385.4 1499.8L385.8 1498.2L386.0 1496.6L386.1 1494.9L386.3 1493.3L386.8 1491.6L387.4 1490.0L388.5 1488.4L389.8 1486.7L391.3 1485.1L392.8 1483.5L394.4 1481.8L395.7 1480.2L396.6 1478.5L397.0 1476.9L396.9 1475.3L396.2 1473.6L395.0 1472.0L393.4 1470.4L391.4 1468.7L389.3 1467.1L387.1 1465.4L384.8 1463.8L382.6 1462.2L380.5 1460.5L378.5 1458.9L376.5 1457.3L374.6 1455.6L372.8 1454.0L371.0 1452.3L369.3 1450.7L367.7 1449.1L366.2 1447.4L364.8 1445.8L363.6 1444.2L362.6 1442.5L361.8 1440.9L361.4 1439.2L361.2 1437.6L361.4 1436.0L361.9 1434.3L362.7 1432.7L363.9 1431.1L365.5 1429.4L367.3 1427.8L369.4 1426.1L371.7 1424.5L374.0 1422.9L376.3 1421.2L378.3 1419.6L380.0 1418.0L381.3 1416.3L382.0 1414.7L382.1 1413.0L381.5 1411.4L380.5 1409.8L378.9 1408.1L376.9 1406.5L374.7 1404.9L372.3 1403.2L370.0 1401.6L367.8 1399.9L365.8 1398.3L364.0 1396.7L362.5 1395.0L361.2 1393.4L360.3 1391.8L359.5 1390.1L358.9 1388.5L358.5 1386.8L358.2 1385.2L358.0 1383.6L357.9 1381.9L357.5 1381.9L357.4 1383.6L357.2 1385.2L356.9 1386.8L356.5 1388.5L355.9 1390.1L355.1 1391.8L354.2 1393.4L352.9 1395.0L351.4 1396.7L349.6 1398.3L347.6 1399.9L345.4 1401.6L343.1 1403.2L340.7 1404.9L338.5 1406.5L336.5 1408.1L334.9 1409.8L333.9 1411.4L333.3 1413.0L333.4 1414.7L334.1 1416.3L335.4 1418.0L337.1 1419.6L339.1 1421.2L341.4 1422.9L343.7 1424.5L346.0 1426.1L348.1 1427.8L349.9 1429.4L351.5 1431.1L352.7 1432.7L353.5 1434.3L354.0 1436.0L354.2 1437.6L354.0 1439.2L353.6 1440.9L352.8 1442.5L351.8 1444.2L350.6 1445.8L349.2 1447.4L347.7 1449.1L346.1 1450.7L344.4 1452.3L342.6 1454.0L340.8 1455.6L338.9 1457.3L336.9 1458.9L334.9 1460.5L332.8 1462.2L330.6 1463.8L328.3 1465.4L326.1 1467.1L324.0 1468.7L322.0 1470.4L320.4 1472.0L319.2 1473.6L318.5 1475.3L318.4 1476.9L318.8 1478.5L319.7 1480.2L321.0 1481.8L322.6 1483.5L324.1 1485.1L325.6 1486.7L326.9 1488.4L328.0 1490.0L328.6 1491.6L329.1 1493.3L329.3 1494.9L329.4 1496.6L329.6 1498.2L330.0 1499.8L330.6 1501.5L331.5 1503.1L332.7 1504.7L334.2 1506.4L335.8 1508.0L337.5 1509.7L339.1 1511.3L340.6 1512.9L341.8 1514.6L342.7 1516.2L343.3 1517.8L343.7 1519.5L343.9 1521.1L344.0 1522.8L344.1 1524.4L344.3 1526.0L344.6 1527.7L345.1 1529.3L345.8 1530.9L346.7 1532.6L347.7 1534.2L348.9 1535.9L350.1 1537.5L351.3 1539.1L352.4 1540.8L353.4 1542.4L354.3 1544.0L355.1 1545.7L355.6 1547.3L356.0 1549.0L356.3 1550.6L356.3 1552.2L356.2 1553.9L355.9 1555.5L355.5 1557.1L354.9 1558.8L354.1 1560.4L353.2 1562.1L352.1 1563.7L351.0 1565.3L349.8 1567.0L348.7 1568.6L347.6 1570.2L346.7 1571.9L346.0 1573.5L345.5 1575.2L345.4 1576.8L345.6 1578.4L346.0 1580.1L346.7 1581.7L347.6 1583.3L348.5 1585.0L349.5 1586.6L350.4 1588.3L351.1 1589.9L351.7 1591.5L352.0 1593.2L352.0 1594.8L351.7 1596.4L351.2 1598.1L350.5 1599.7L349.6 1601.4L348.6 1603.0L347.7 1604.6L346.8 1606.3L346.1 1607.9L345.6 1609.5L345.4 1611.2L345.5 1612.8L345.9 1614.5L346.6 1616.1L347.5 1617.7L348.5 1619.4L349.7 1621.0L350.9 1622.6L352.0 1624.3L353.1 1625.9L354.1 1627.6L354.9 1629.2L355.6 1630.8L356.2 1632.5L356.6 1634.1L356.9 1635.7L357.2 1637.4L357.4 1639.0L357.5 1640.7L357.6 1642.3Z" fill="#1E90FF" fill-opacity="0.55"/>
<path d="M357.7 1351.2V1673.0" stroke="#1E90FF" stroke-width="0.8" opacity="0.2"/>
<path d="M463.4 1702.0L463.4 1699.8L463.5 1697.5L463.5 1695.3L463.6 1693.1L463.7 1690.9L463.8 1688.6L464.0 1686.4L464.2 1684.2L464.4 1681.9L464.7 1679.7L465.0 1677.5L465.4 1675.2L465.8 1673.0L466.3 1670.8L466.8 1668.5L467.3 1666.3L467.9 1664.1L468.4 1661.8L469.0 1659.6L469.6 1657.4L470.1 1655.1L470.6 1652.9L471.1 1650.7L471.5 1648.4L471.9 1646.2L472.3 1644.0L472.6 1641.7L473.0 1639.5L473.4 1637.3L473.8 1635.1L474.3 1632.8L474.9 1630.6L475.6 1628.4L476.4 1626.1L477.4 1623.9L478.6 1621.7L479.9 1619.4L481.3 1617.2L482.8 1615.0L484.4 1612.7L486.0 1610.5L487.7 1608.3L489.3 1606.0L490.7 1603.8L492.0 1601.6L493.2 1599.3L494.0 1597.1L494.6 1594.9L495.0 1592.6L495.0 1590.4L494.7 1588.2L494.2 1586.0L493.3 1583.7L492.3 1581.5L491.0 1579.3L489.6 1577.0L488.1 1574.8L486.5 1572.6L484.8 1570.3L483.2 1568.1L481.6 1565.9L480.2 1563.6L478.9 1561.4L477.7 1559.2L476.8 1556.9L476.1 1554.7L475.6 1552.5L475.4 1550.2L475.4 1548.0L475.7 1545.8L476.3 1543.5L477.2 1541.3L478.2 1539.1L479.5 1536.9L481.0 1534.6L482.6 1532.4L484.3 1530.2L486.0 1527.9L487.7 1525.7L489.4 1523.5L491.0 1521.2L492.4 1519.0L493.6 1516.8L494.6 1514.5L495.4 1512.3L495.8 1510.1L496.0 1507.8L496.0 1505.6L495.6 1503.4L495.0 1501.1L494.2 1498.9L493.2 1496.7L492.1 1494.4L490.9 1492.2L489.6 1490.0L488.4 1487.8L487.1 1485.5L486.0 1483.3L485.0 1481.1L484.1 1478.8L483.5 1476.6L483.0 1474.4L482.7 1472.1L482.7 1469.9L483.0 1467.7L483.4 1465.4L484.1 1463.2L485.1 1461.0L486.2 1458.7L487.5 1456.5L489.0 1454.3L490.6 1452.0L492.2 1449.8L493.9 1447.6L495.6 1445.3L497.2 1443.1L498.7 1440.9L500.0 1438.6L501.1 1436.4L501.9 1434.2L502.4 1432.0L502.6 1429.7L502.5 1427.5L502.0 1425.3L501.3 1423.0L500.2 1420.8L498.9 1418.6L497.3 1416.3L495.5 1414.1L493.6 1411.9L491.5 1409.6L489.4 1407.4L487.3 1405.2L485.1 1402.9L483.0 1400.7L480.9 1398.5L478.9 1396.2L477.1 1394.0L475.3 1391.8L473.7 1389.5L472.2 1387.3L470.9 1385.1L469.7 1382.9L468.6 1380.6L467.7 1378.4L466.9 1376.2L466.2 1373.9L465.6 1371.7L465.1 1369.5L464.7 1367.2L464.4 1365.0L464.1 1362.8L463.9 1360.5L463.8 1358.3L463.7 1356.1L463.6 1353.8L463.5 1351.6L463.4 1349.4L463.4 1347.1L463.2 1347.1L463.2 1349.4L463.1 1351.6L463.0 1353.8L462.9 1356.1L462.8 1358.3L462.7 1360.5L462.5 1362.8L462.2 1365.0L461.9 1367.2L461.5 1369.5L461.0 1371.7L460.4 1373.9L459.7 1376.2L458.9 1378.4L458.0 1380.6L456.9 1382.9L455.7 1385.1L454.4 1387.3L452.9 1389.5L451.3 1391.8L449.5 1394.0L447.7 1396.2L445.7 1398.5L443.6 1400.7L441.5 1402.9L439.3 1405.2L437.2 1407.4L435.1 1409.6L433.0 1411.9L431.1 1414.1L429.3 1416.3L427.7 1418.6L426.4 1420.8L425.3 1423.0L424.6 1425.3L424.1 1427.5L424.0 1429.7L424.2 1432.0L424.7 1434.2L425.5 1436.4L426.6 1438.6L427.9 1440.9L429.4 1443.1L431.0 1445.3L432.7 1447.6L434.4 1449.8L436.0 1452.0L437.6 1454.3L439.1 1456.5L440.4 1458.7L441.5 1461.0L442.5 1463.2L443.2 1465.4L443.6 1467.7L443.9 1469.9L443.9 1472.1L443.6 1474.4L443.1 1476.6L442.5 1478.8L441.6 1481.1L440.6 1483.3L439.5 1485.5L438.2 1487.8L437.0 1490.0L435.7 1492.2L434.5 1494.4L433.4 1496.7L432.4 1498.9L431.6 1501.1L431.0 1503.4L430.6 1505.6L430.6 1507.8L430.8 1510.1L431.2 1512.3L432.0 1514.5L433.0 1516.8L434.2 1519.0L435.6 1521.2L437.2 1523.5L438.9 1525.7L440.6 1527.9L442.3 1530.2L444.0 1532.4L445.6 1534.6L447.1 1536.9L448.4 1539.1L449.4 1541.3L450.3 1543.5L450.9 1545.8L451.2 1548.0L451.2 1550.2L451.0 1552.5L450.5 1554.7L449.8 1556.9L448.9 1559.2L447.7 1561.4L446.4 1563.6L445.0 1565.9L443.4 1568.1L441.8 1570.3L440.1 1572.6L438.5 1574.8L437.0 1577.0L435.6 1579.3L434.3 1581.5L433.3 1583.7L432.4 1586.0L431.9 1588.2L431.6 1590.4L431.6 1592.6L432.0 1594.9L432.6 1597.1L433.4 1599.3L434.6 1601.6L435.9 1603.8L437.3 1606.0L438.9 1608.3L440.6 1610.5L442.2 1612.7L443.8 1615.0L445.3 1617.2L446.7 1619.4L448.0 1621.7L449.2 1623.9L450.2 1626.1L451.0 1628.4L451.7 1630.6L452.3 1632.8L452.8 1635.1L453.2 1637.3L453.6 1639.5L454.0 1641.7L454.3 1644.0L454.7 1646.2L455.1 1648.4L455.5 1650.7L456.0 1652.9L456.5 1655.1L457.0 1657.4L457.6 1659.6L458.2 1661.8L458.7 1664.1L459.3 1666.3L459.8 1668.5L460.3 1670.8L460.8 1673.0L461.2 1675.2L461.6 1677.5L461.9 1679.7L462.2 1681.9L462.4 1684.2L462.6 1686.4L462.8 1688.6L462.9 1690.9L463.0 1693.1L463.1 1695.3L463.1 1697.5L463.2 1699.8L463.2 1702.0Z" fill="#9B30FF" fill-opacity="0.55"/>
<path d="M463.3 1290.0V1759.1" stroke="#9B30FF" stroke-width="0.8" opacity="0.2"/>
<path d="M569.1 1676.7L569.2 1674.5L569.4 1672.4L569.6 1670.3L569.9 1668.1L570.3 1666.0L570.8 1663.9L571.5 1661.8L572.4 1659.6L573.4 1657.5L574.5 1655.4L575.8 1653.2L577.1 1651.1L578.3 1649.0L579.4 1646.8L580.2 1644.7L580.8 1642.6L581.0 1640.5L580.8 1638.3L580.3 1636.2L579.5 1634.1L578.4 1631.9L577.2 1629.8L575.9 1627.7L574.7 1625.5L573.5 1623.4L572.5 1621.3L571.6 1619.1L570.9 1617.0L570.3 1614.9L569.9 1612.8L569.6 1610.6L569.4 1608.5L569.2 1606.4L569.1 1604.2L569.1 1602.1L569.0 1600.0L569.0 1597.8L569.0 1595.7L569.0 1593.6L569.0 1591.5L569.0 1589.3L569.0 1587.2L569.0 1585.1L569.0 1582.9L569.0 1580.8L569.0 1578.7L569.0 1576.5L569.0 1574.4L569.0 1572.3L569.0 1570.2L569.0 1568.0L569.0 1565.9L569.0 1563.8L569.0 1561.6L569.0 1559.5L569.0 1557.4L569.0 1555.2L569.0 1553.1L569.0 1551.0L569.0 1548.9L569.0 1546.7L569.1 1544.6L569.1 1542.5L569.2 1540.3L569.3 1538.2L569.6 1536.1L569.9 1533.9L570.4 1531.8L571.1 1529.7L572.0 1527.6L573.3 1525.4L574.9 1523.3L576.9 1521.2L579.4 1519.0L582.3 1516.9L585.5 1514.8L589.0 1512.6L592.6 1510.5L596.2 1508.4L599.6 1506.3L602.6 1504.1L605.0 1502.0L606.8 1499.9L607.8 1497.7L608.1 1495.6L607.6 1493.5L606.4 1491.3L604.7 1489.2L602.5 1487.1L600.1 1485.0L597.6 1482.8L595.1 1480.7L593.0 1478.6L591.2 1476.4L590.0 1474.3L589.5 1472.2L589.6 1470.0L590.4 1467.9L591.8 1465.8L593.7 1463.7L596.0 1461.5L598.5 1459.4L601.0 1457.3L603.3 1455.1L605.3 1453.0L606.8 1450.9L607.8 1448.7L608.3 1446.6L608.3 1444.5L607.8 1442.4L606.9 1440.2L605.6 1438.1L604.2 1436.0L602.5 1433.8L600.7 1431.7L598.8 1429.6L596.9 1427.4L594.9 1425.3L592.9 1423.2L590.8 1421.1L588.7 1418.9L586.6 1416.8L584.5 1414.7L582.4 1412.5L580.4 1410.4L578.6 1408.3L576.9 1406.1L575.6 1404.0L574.5 1401.9L573.8 1399.8L573.4 1397.6L573.4 1395.5L573.7 1393.4L574.3 1391.2L575.2 1389.1L576.3 1387.0L577.4 1384.8L578.5 1382.7L579.5 1380.6L580.3 1378.5L580.8 1376.3L581.0 1374.2L580.8 1372.1L580.2 1369.9L579.4 1367.8L578.3 1365.7L577.1 1363.5L575.8 1361.4L574.5 1359.3L573.4 1357.1L572.4 1355.0L571.5 1352.9L570.8 1350.8L570.3 1348.6L569.9 1346.5L569.6 1344.4L569.4 1342.2L569.2 1340.1L569.1 1338.0L568.9 1338.0L568.8 1340.1L568.6 1342.2L568.4 1344.4L568.1 1346.5L567.7 1348.6L567.2 1350.8L566.5 1352.9L565.6 1355.0L564.6 1357.1L563.5 1359.3L562.2 1361.4L560.9 1363.5L559.7 1365.7L558.6 1367.8L557.8 1369.9L557.2 1372.1L557.0 1374.2L557.2 1376.3L557.7 1378.5L558.5 1380.6L559.5 1382.7L560.6 1384.8L561.7 1387.0L562.8 1389.1L563.7 1391.2L564.3 1393.4L564.6 1395.5L564.6 1397.6L564.2 1399.8L563.5 1401.9L562.4 1404.0L561.1 1406.1L559.4 1408.3L557.6 1410.4L555.6 1412.5L553.5 1414.7L551.4 1416.8L549.3 1418.9L547.2 1421.1L545.1 1423.2L543.1 1425.3L541.1 1427.4L539.2 1429.6L537.3 1431.7L535.5 1433.8L533.8 1436.0L532.4 1438.1L531.1 1440.2L530.2 1442.4L529.7 1444.5L529.7 1446.6L530.2 1448.7L531.2 1450.9L532.7 1453.0L534.7 1455.1L537.0 1457.3L539.5 1459.4L542.0 1461.5L544.3 1463.7L546.2 1465.8L547.6 1467.9L548.4 1470.0L548.5 1472.2L548.0 1474.3L546.8 1476.4L545.0 1478.6L542.9 1480.7L540.4 1482.8L537.9 1485.0L535.5 1487.1L533.3 1489.2L531.6 1491.3L530.4 1493.5L529.9 1495.6L530.2 1497.7L531.2 1499.9L533.0 1502.0L535.4 1504.1L538.4 1506.3L541.8 1508.4L545.4 1510.5L549.0 1512.6L552.5 1514.8L555.7 1516.9L558.6 1519.0L561.1 1521.2L563.1 1523.3L564.7 1525.4L566.0 1527.6L566.9 1529.7L567.6 1531.8L568.1 1533.9L568.4 1536.1L568.7 1538.2L568.8 1540.3L568.9 1542.5L568.9 1544.6L569.0 1546.7L569.0 1548.9L569.0 1551.0L569.0 1553.1L569.0 1555.2L569.0 1557.4L569.0 1559.5L569.0 1561.6L569.0 1563.8L569.0 1565.9L569.0 1568.0L569.0 1570.2L569.0 1572.3L569.0 1574.4L569.0 1576.5L569.0 1578.7L569.0 1580.8L569.0 1582.9L569.0 1585.1L569.0 1587.2L569.0 1589.3L569.0 1591.5L569.0 1593.6L569.0 1595.7L569.0 1597.8L569.0 1600.0L568.9 1602.1L568.9 1604.2L568.8 1606.4L568.6 1608.5L568.4 1610.6L568.1 1612.8L567.7 1614.9L567.1 1617.0L566.4 1619.1L565.5 1621.3L564.5 1623.4L563.3 1625.5L562.1 1627.7L560.8 1629.8L559.6 1631.9L558.5 1634.1L557.7 1636.2L557.2 1638.3L557.0 1640.5L557.2 1642.6L557.8 1644.7L558.6 1646.8L559.7 1649.0L560.9 1651.1L562.2 1653.2L563.5 1655.4L564.6 1657.5L565.6 1659.6L566.5 1661.8L567.2 1663.9L567.7 1666.0L568.1 1668.1L568.4 1670.3L568.6 1672.4L568.8 1674.5L568.9 1676.7Z" fill="#FF1493" fill-opacity="0.55"/>
<path d="M569.0 1301.7V1713.0" stroke="#FF1493" stroke-width="0.8" opacity="0.2"/>
</g>
<g fill="#229A22">
<circle cx="265.8" cy="1411.0" r="3.5"/>
<circle cx="238.5" cy="1425.4" r="3.5"/>
<circle cx="263.7" cy="1437.1" r="3.5"/>
<circle cx="238.5" cy="1472.3" r="3.5"/>
<circle cx="264.4" cy="1578.8" r="3.5"/>
<circle cx="259.8" cy="1580.7" r="3.5"/>
<circle cx="260.8" cy="1596.3" r="3.5"/>
<circle cx="246.9" cy="1652.6" r="3.5"/>
<circle cx="245.2" cy="1702.5" r="3.5"/>
<circle cx="258.4" cy="1737.3" r="3.5"/>
<circle cx="343.5" cy="1412.4" r="3.5"/>
<circle cx="358.1" cy="1414.3" r="3.5"/>
<circle cx="362.2" cy="1457.2" r="3.5"/>
<circle cx="350.5" cy="1473.1" r="3.5"/>
<circle cx="344.5" cy="1478.6" r="3.5"/>
<circle cx="360.3" cy="1477.6" r="3.5"/>
<circle cx="347.6" cy="1501.6" r="3.5"/>
<circle cx="357.4" cy="1500.2" r="3.5"/>
<circle cx="354.3" cy="1527.2" r="3.5"/>
<circle cx="354.5" cy="1576.4" r="3.5"/>
<circle cx="364.6" cy="1611.4" r="3.5"/>
<circle cx="461.9" cy="1404.0" r="3.5"/>
<circle cx="450.3" cy="1418.4" r="3.5"/>
<circle cx="479.6" cy="1425.6" r="3.5"/>
<circle cx="465.5" cy="1431.1" r="3.5"/>
<circle cx="444.4" cy="1435.7" r="3.5"/>
<circle cx="484.2" cy="1438.5" r="3.5"/>
<circle cx="472.6" cy="1464.0" r="3.5"/>
<circle cx="470.7" cy="1492.0" r="3.5"/>
<circle cx="466.7" cy="1501.4" r="3.5"/>
<circle cx="448.7" cy="1515.5" r="3.5"/>
<circle cx="451.5" cy="1522.7" r="3.5"/>
<circle cx="463.5" cy="1508.3" r="3.5"/>
<circle cx="463.5" cy="1568.7" r="3.5"/>
<circle cx="458.7" cy="1590.3" r="3.5"/>
<circle cx="468.8" cy="1591.5" r="3.5"/>
<circle cx="482.5" cy="1591.0" r="3.5"/>
<circle cx="472.6" cy="1606.1" r="3.5"/>
<circle cx="443.2" cy="1644.7" r="3.5"/>
<circle cx="559.9" cy="1374.0" r="3.5"/>
<circle cx="574.3" cy="1419.1" r="3.5"/>
<circle cx="556.6" cy="1434.0" r="3.5"/>
<circle cx="569.7" cy="1441.7" r="3.5"/>
<circle cx="563.0" cy="1453.6" r="3.5"/>
<circle cx="565.4" cy="1453.6" r="3.5"/>
<circle cx="587.5" cy="1481.9" r="3.5"/>
<circle cx="577.4" cy="1494.4" r="3.5"/>
<circle cx="552.2" cy="1497.8" r="3.5"/>
<circle cx="588.2" cy="1504.7" r="3.5"/>
<circle cx="577.4" cy="1640.2" r="3.5"/>
</g>
<path d="M252.4 1441.5V1677.7" stroke="#1414FF" stroke-width="3" opacity="0.93"/>
<circle cx="252.4" cy="1559.6" r="7.2" fill="#1818F8" opacity="0.93"/>
<path d="M357.7 1433.0V1554.7" stroke="#1414FF" stroke-width="3" opacity="0.93"/>
<circle cx="357.7" cy="1493.9" r="7.2" fill="#1818F8" opacity="0.93"/>
<path d="M463.3 1433.1V1583.9" stroke="#1414FF" stroke-width="3" opacity="0.93"/>
<circle cx="463.3" cy="1508.5" r="7.2" fill="#1818F8" opacity="0.93"/>
<path d="M569.0 1404.7V1540.3" stroke="#1414FF" stroke-width="3" opacity="0.93"/>
<circle cx="569.0" cy="1472.5" r="7.2" fill="#1818F8" opacity="0.93"/>
<path d="M189.6 1353.3V1765.6M188.4 1764.4H631.2" stroke="#000" stroke-width="2.5" fill="none"/>
<path d="M182.3 1757.3h6.2M182.3 1713.2h6.2M182.3 1669.1h6.2M182.3 1625.0h6.2M182.3 1580.9h6.2M182.3 1536.8h6.2M182.3 1492.7h6.2M182.3 1448.6h6.2M182.3 1404.5h6.2M182.3 1360.4h6.2M252.4 1765.6v6.2M357.7 1765.6v6.2M463.3 1765.6v6.2M569.0 1765.6v6.2" stroke="#333" stroke-width="2.5" fill="none"/>
<g font-size="28.9">
<text x="176.3" y="1767.9" text-anchor="end">0</text>
<text x="176.3" y="1723.8" text-anchor="end">2</text>
<text x="176.3" y="1679.7" text-anchor="end">4</text>
<text x="176.3" y="1635.6" text-anchor="end">6</text>
<text x="176.3" y="1591.5" text-anchor="end">8</text>
<text x="176.3" y="1547.4" text-anchor="end">10</text>
<text x="176.3" y="1503.3" text-anchor="end">12</text>
<text x="176.3" y="1459.2" text-anchor="end">14</text>
<text x="176.3" y="1415.1" text-anchor="end">16</text>
<text x="176.3" y="1371.0" text-anchor="end">18</text>
</g><g font-size="28.6">
<text x="252.4" y="1797.5" text-anchor="middle">AAH</text>
<text x="357.7" y="1797.5" text-anchor="middle">AIS</text>
<text x="463.3" y="1797.5" text-anchor="middle">MIA</text>
<text x="569.0" y="1797.5" text-anchor="middle">ADC</text>
</g>
<text x="410.6" y="1829.5" font-size="26.2" font-weight="bold" text-anchor="middle">Stages</text>
<text transform="translate(103.7 1561.8) rotate(-90)" font-size="26.9" text-anchor="middle">log2 (Normalized number of CpG sites</text>
<text transform="translate(132.4 1561.8) rotate(-90)" font-size="26.9" text-anchor="middle">in DMRs with hypermethylation)</text>
<text x="190.1" y="1333.3" font-size="26.6" fill="#CD2626">p−value = 0.3635 (Kruskal−Wallis test)</text>
<text x="645.6" y="1381.8" font-size="24.3">Stages</text>
<rect x="645.0" y="1396.4" width="26.1" height="26.1" fill="#F8AC78"/>
<path d="M658.0 1399.2v20.5" stroke="#1414FF" stroke-width="2.2"/>
<circle cx="658.0" cy="1409.5" r="7.3" fill="#1C1CF4"/>
<text x="683.3" y="1417.5" font-size="21.7">AAH</text>
<rect x="645.0" y="1422.8" width="26.1" height="26.1" fill="#6EBEF5"/>
<path d="M658.0 1425.6v20.5" stroke="#1414FF" stroke-width="2.2"/>
<circle cx="658.0" cy="1435.9" r="7.3" fill="#1C1CF4"/>
<text x="683.3" y="1443.9" font-size="21.7">AIS</text>
<rect x="645.0" y="1449.2" width="26.1" height="26.1" fill="#A05FEB"/>
<path d="M658.0 1452.0v20.5" stroke="#1414FF" stroke-width="2.2"/>
<circle cx="658.0" cy="1462.2" r="7.3" fill="#1C1CF4"/>
<text x="683.3" y="1470.3" font-size="21.7">MIA</text>
<rect x="645.0" y="1475.6" width="26.1" height="26.1" fill="#F564B4"/>
<path d="M658.0 1478.4v20.5" stroke="#1414FF" stroke-width="2.2"/>
<circle cx="658.0" cy="1488.7" r="7.3" fill="#1C1CF4"/>
<text x="683.3" y="1496.7" font-size="21.7">ADC</text>
</g>
<g id="cR">
<clipPath id="cRclip"><rect x="917.0" y="1353.3" width="440.3" height="409.9"/></clipPath>
<rect x="917.0" y="1353.3" width="440.3" height="409.9" fill="#F8F8FF"/>
<path d="M917.0 1724.4H1357.3M917.0 1680.3H1357.3M917.0 1636.2H1357.3M917.0 1592.0H1357.3M917.0 1547.9H1357.3M917.0 1503.7H1357.3M917.0 1459.6H1357.3M917.0 1415.5H1357.3M917.0 1371.3H1357.3" stroke="#fff" stroke-width="1.2" fill="none" opacity="0.8"/>
<path d="M917.0 1746.5H1357.3M917.0 1702.4H1357.3M917.0 1658.2H1357.3M917.0 1614.1H1357.3M917.0 1569.9H1357.3M917.0 1525.8H1357.3M917.0 1481.7H1357.3M917.0 1437.5H1357.3M917.0 1393.4H1357.3" stroke="#fff" stroke-width="2.2" fill="none" opacity="0.85"/>
<path d="M979.6 1353.3V1763.2M1084.8 1353.3V1763.2M1190.4 1353.3V1763.2M1295.9 1353.3V1763.2" stroke="#fff" stroke-width="3" fill="none" opacity="0.9"/>
<g clip-path="url(#cRclip)">
<path d="M979.8 1720.1L979.9 1718.4L980.0 1716.7L980.1 1715.0L980.3 1713.3L980.5 1711.6L980.7 1709.9L981.1 1708.2L981.5 1706.5L982.0 1704.8L982.5 1703.1L983.3 1701.4L984.1 1699.6L985.0 1697.9L986.2 1696.2L987.4 1694.5L988.8 1692.8L990.4 1691.1L992.1 1689.4L993.9 1687.7L995.8 1686.0L997.9 1684.3L1000.0 1682.6L1002.1 1680.9L1004.2 1679.2L1006.3 1677.4L1008.4 1675.7L1010.3 1674.0L1012.1 1672.3L1013.8 1670.6L1015.2 1668.9L1016.4 1667.2L1017.4 1665.5L1018.2 1663.8L1018.7 1662.1L1018.9 1660.4L1018.9 1658.7L1018.7 1657.0L1018.2 1655.3L1017.5 1653.5L1016.7 1651.8L1015.6 1650.1L1014.5 1648.4L1013.2 1646.7L1011.8 1645.0L1010.3 1643.3L1008.7 1641.6L1007.2 1639.9L1005.6 1638.2L1004.0 1636.5L1002.5 1634.8L1001.0 1633.1L999.6 1631.3L998.3 1629.6L997.2 1627.9L996.1 1626.2L995.2 1624.5L994.5 1622.8L993.8 1621.1L993.4 1619.4L993.0 1617.7L992.8 1616.0L992.7 1614.3L992.7 1612.6L992.8 1610.9L993.0 1609.1L993.2 1607.4L993.4 1605.7L993.8 1604.0L994.1 1602.3L994.5 1600.6L994.8 1598.9L995.2 1597.2L995.7 1595.5L996.1 1593.8L996.6 1592.1L997.1 1590.4L997.7 1588.7L998.2 1587.0L998.8 1585.2L999.5 1583.5L1000.2 1581.8L1000.8 1580.1L1001.5 1578.4L1002.2 1576.7L1002.9 1575.0L1003.5 1573.3L1004.0 1571.6L1004.5 1569.9L1004.9 1568.2L1005.1 1566.5L1005.2 1564.8L1005.2 1563.0L1005.0 1561.3L1004.7 1559.6L1004.2 1557.9L1003.5 1556.2L1002.7 1554.5L1001.7 1552.8L1000.7 1551.1L999.5 1549.4L998.2 1547.7L996.9 1546.0L995.6 1544.3L994.3 1542.6L993.0 1540.8L991.7 1539.1L990.5 1537.4L989.5 1535.7L988.5 1534.0L987.6 1532.3L986.9 1530.6L986.4 1528.9L986.0 1527.2L985.7 1525.5L985.5 1523.8L985.5 1522.1L985.6 1520.4L985.8 1518.7L986.1 1516.9L986.5 1515.2L986.9 1513.5L987.3 1511.8L987.8 1510.1L988.2 1508.4L988.6 1506.7L988.9 1505.0L989.2 1503.3L989.3 1501.6L989.4 1499.9L989.4 1498.2L989.3 1496.5L989.1 1494.7L988.9 1493.0L988.5 1491.3L988.1 1489.6L987.5 1487.9L987.0 1486.2L986.4 1484.5L985.8 1482.8L985.2 1481.1L984.6 1479.4L984.0 1477.7L983.5 1476.0L982.9 1474.3L982.5 1472.5L982.0 1470.8L981.6 1469.1L981.3 1467.4L981.0 1465.7L980.7 1464.0L980.5 1462.3L980.3 1460.6L980.2 1458.9L980.0 1457.2L979.9 1455.5L979.9 1453.8L979.8 1452.1L979.7 1450.4L979.7 1448.6L979.5 1448.6L979.5 1450.4L979.4 1452.1L979.3 1453.8L979.3 1455.5L979.2 1457.2L979.0 1458.9L978.9 1460.6L978.7 1462.3L978.5 1464.0L978.2 1465.7L977.9 1467.4L977.6 1469.1L977.2 1470.8L976.7 1472.5L976.3 1474.3L975.7 1476.0L975.2 1477.7L974.6 1479.4L974.0 1481.1L973.4 1482.8L972.8 1484.5L972.2 1486.2L971.7 1487.9L971.1 1489.6L970.7 1491.3L970.3 1493.0L970.1 1494.7L969.9 1496.5L969.8 1498.2L969.8 1499.9L969.9 1501.6L970.0 1503.3L970.3 1505.0L970.6 1506.7L971.0 1508.4L971.4 1510.1L971.9 1511.8L972.3 1513.5L972.7 1515.2L973.1 1516.9L973.4 1518.7L973.6 1520.4L973.7 1522.1L973.7 1523.8L973.5 1525.5L973.2 1527.2L972.8 1528.9L972.3 1530.6L971.6 1532.3L970.7 1534.0L969.7 1535.7L968.7 1537.4L967.5 1539.1L966.2 1540.8L964.9 1542.6L963.6 1544.3L962.3 1546.0L961.0 1547.7L959.7 1549.4L958.5 1551.1L957.5 1552.8L956.5 1554.5L955.7 1556.2L955.0 1557.9L954.5 1559.6L954.2 1561.3L954.0 1563.0L954.0 1564.8L954.1 1566.5L954.3 1568.2L954.7 1569.9L955.2 1571.6L955.7 1573.3L956.3 1575.0L957.0 1576.7L957.7 1578.4L958.4 1580.1L959.0 1581.8L959.7 1583.5L960.4 1585.2L961.0 1587.0L961.5 1588.7L962.1 1590.4L962.6 1592.1L963.1 1593.8L963.5 1595.5L964.0 1597.2L964.4 1598.9L964.7 1600.6L965.1 1602.3L965.4 1604.0L965.8 1605.7L966.0 1607.4L966.2 1609.1L966.4 1610.9L966.5 1612.6L966.5 1614.3L966.4 1616.0L966.2 1617.7L965.8 1619.4L965.4 1621.1L964.7 1622.8L964.0 1624.5L963.1 1626.2L962.0 1627.9L960.9 1629.6L959.6 1631.3L958.2 1633.1L956.7 1634.8L955.2 1636.5L953.6 1638.2L952.0 1639.9L950.5 1641.6L948.9 1643.3L947.4 1645.0L946.0 1646.7L944.7 1648.4L943.6 1650.1L942.5 1651.8L941.7 1653.5L941.0 1655.3L940.5 1657.0L940.3 1658.7L940.3 1660.4L940.5 1662.1L941.0 1663.8L941.8 1665.5L942.8 1667.2L944.0 1668.9L945.4 1670.6L947.1 1672.3L948.9 1674.0L950.8 1675.7L952.9 1677.4L955.0 1679.2L957.1 1680.9L959.2 1682.6L961.3 1684.3L963.4 1686.0L965.3 1687.7L967.1 1689.4L968.8 1691.1L970.4 1692.8L971.8 1694.5L973.0 1696.2L974.2 1697.9L975.1 1699.6L975.9 1701.4L976.7 1703.1L977.2 1704.8L977.7 1706.5L978.1 1708.2L978.5 1709.9L978.7 1711.6L978.9 1713.3L979.1 1715.0L979.2 1716.7L979.3 1718.4L979.4 1720.1Z" fill="#EE7621" fill-opacity="0.55"/>
<path d="M979.6 1398.6V1770.2" stroke="#EE7621" stroke-width="0.8" opacity="0.2"/>
<path d="M1084.9 1650.2L1085.0 1648.3L1085.0 1646.4L1085.1 1644.5L1085.2 1642.6L1085.3 1640.7L1085.5 1638.8L1085.6 1636.9L1085.9 1635.0L1086.2 1633.2L1086.5 1631.3L1086.9 1629.4L1087.3 1627.5L1087.9 1625.6L1088.5 1623.7L1089.2 1621.8L1089.9 1619.9L1090.8 1618.0L1091.7 1616.1L1092.7 1614.2L1093.7 1612.3L1094.8 1610.4L1096.0 1608.5L1097.1 1606.6L1098.3 1604.7L1099.4 1602.8L1100.6 1600.9L1101.7 1599.0L1102.7 1597.2L1103.6 1595.3L1104.5 1593.4L1105.3 1591.5L1105.9 1589.6L1106.5 1587.7L1107.0 1585.8L1107.3 1583.9L1107.6 1582.0L1107.7 1580.1L1107.8 1578.2L1107.8 1576.3L1107.7 1574.4L1107.5 1572.5L1107.4 1570.6L1107.2 1568.7L1107.0 1566.8L1106.8 1564.9L1106.6 1563.0L1106.5 1561.1L1106.4 1559.3L1106.4 1557.4L1106.5 1555.5L1106.7 1553.6L1107.1 1551.7L1107.5 1549.8L1108.1 1547.9L1108.8 1546.0L1109.6 1544.1L1110.6 1542.2L1111.7 1540.3L1112.8 1538.4L1114.0 1536.5L1115.2 1534.6L1116.5 1532.7L1117.7 1530.8L1118.9 1528.9L1120.0 1527.0L1121.1 1525.1L1122.0 1523.2L1122.7 1521.4L1123.3 1519.5L1123.8 1517.6L1124.0 1515.7L1124.1 1513.8L1124.0 1511.9L1123.7 1510.0L1123.1 1508.1L1122.4 1506.2L1121.5 1504.3L1120.5 1502.4L1119.2 1500.5L1117.8 1498.6L1116.3 1496.7L1114.6 1494.8L1112.9 1492.9L1111.0 1491.0L1109.1 1489.1L1107.2 1487.2L1105.3 1485.3L1103.4 1483.5L1101.6 1481.6L1099.8 1479.7L1098.2 1477.8L1096.7 1475.9L1095.3 1474.0L1094.1 1472.1L1093.1 1470.2L1092.2 1468.3L1091.6 1466.4L1091.2 1464.5L1091.0 1462.6L1091.0 1460.7L1091.3 1458.8L1091.8 1456.9L1092.5 1455.0L1093.5 1453.1L1094.6 1451.2L1096.0 1449.3L1097.6 1447.4L1099.3 1445.6L1101.2 1443.7L1103.2 1441.8L1105.3 1439.9L1107.4 1438.0L1109.5 1436.1L1111.6 1434.2L1113.5 1432.3L1115.4 1430.4L1117.0 1428.5L1118.4 1426.6L1119.6 1424.7L1120.4 1422.8L1121.0 1420.9L1121.2 1419.0L1121.1 1417.1L1120.7 1415.2L1120.0 1413.3L1119.0 1411.4L1117.8 1409.6L1116.4 1407.7L1114.7 1405.8L1112.9 1403.9L1111.0 1402.0L1109.1 1400.1L1107.1 1398.2L1105.1 1396.3L1103.1 1394.4L1101.2 1392.5L1099.4 1390.6L1097.7 1388.7L1096.1 1386.8L1094.6 1384.9L1093.2 1383.0L1092.0 1381.1L1090.9 1379.2L1089.9 1377.3L1089.0 1375.4L1088.3 1373.5L1087.7 1371.7L1087.1 1369.8L1086.7 1367.9L1086.3 1366.0L1086.0 1364.1L1085.7 1362.2L1085.5 1360.3L1085.3 1358.4L1085.2 1356.5L1085.1 1354.6L1085.0 1352.7L1085.0 1350.8L1084.9 1348.9L1084.7 1348.9L1084.6 1350.8L1084.6 1352.7L1084.5 1354.6L1084.4 1356.5L1084.3 1358.4L1084.1 1360.3L1083.9 1362.2L1083.6 1364.1L1083.3 1366.0L1082.9 1367.9L1082.5 1369.8L1081.9 1371.7L1081.3 1373.5L1080.6 1375.4L1079.7 1377.3L1078.7 1379.2L1077.6 1381.1L1076.4 1383.0L1075.0 1384.9L1073.5 1386.8L1071.9 1388.7L1070.2 1390.6L1068.4 1392.5L1066.5 1394.4L1064.5 1396.3L1062.5 1398.2L1060.5 1400.1L1058.6 1402.0L1056.7 1403.9L1054.9 1405.8L1053.2 1407.7L1051.8 1409.6L1050.6 1411.4L1049.6 1413.3L1048.9 1415.2L1048.5 1417.1L1048.4 1419.0L1048.6 1420.9L1049.2 1422.8L1050.0 1424.7L1051.2 1426.6L1052.6 1428.5L1054.2 1430.4L1056.1 1432.3L1058.0 1434.2L1060.1 1436.1L1062.2 1438.0L1064.3 1439.9L1066.4 1441.8L1068.4 1443.7L1070.3 1445.6L1072.0 1447.4L1073.6 1449.3L1075.0 1451.2L1076.1 1453.1L1077.1 1455.0L1077.8 1456.9L1078.3 1458.8L1078.6 1460.7L1078.6 1462.6L1078.4 1464.5L1078.0 1466.4L1077.4 1468.3L1076.5 1470.2L1075.5 1472.1L1074.3 1474.0L1072.9 1475.9L1071.4 1477.8L1069.8 1479.7L1068.0 1481.6L1066.2 1483.5L1064.3 1485.3L1062.4 1487.2L1060.5 1489.1L1058.6 1491.0L1056.7 1492.9L1055.0 1494.8L1053.3 1496.7L1051.8 1498.6L1050.4 1500.5L1049.1 1502.4L1048.1 1504.3L1047.2 1506.2L1046.5 1508.1L1045.9 1510.0L1045.6 1511.9L1045.5 1513.8L1045.6 1515.7L1045.8 1517.6L1046.3 1519.5L1046.9 1521.4L1047.6 1523.2L1048.5 1525.1L1049.6 1527.0L1050.7 1528.9L1051.9 1530.8L1053.1 1532.7L1054.4 1534.6L1055.6 1536.5L1056.8 1538.4L1057.9 1540.3L1059.0 1542.2L1060.0 1544.1L1060.8 1546.0L1061.5 1547.9L1062.1 1549.8L1062.5 1551.7L1062.9 1553.6L1063.1 1555.5L1063.2 1557.4L1063.2 1559.3L1063.1 1561.1L1063.0 1563.0L1062.8 1564.9L1062.6 1566.8L1062.4 1568.7L1062.2 1570.6L1062.1 1572.5L1061.9 1574.4L1061.8 1576.3L1061.8 1578.2L1061.9 1580.1L1062.0 1582.0L1062.3 1583.9L1062.6 1585.8L1063.1 1587.7L1063.7 1589.6L1064.3 1591.5L1065.1 1593.4L1066.0 1595.3L1066.9 1597.2L1067.9 1599.0L1069.0 1600.9L1070.2 1602.8L1071.3 1604.7L1072.5 1606.6L1073.6 1608.5L1074.8 1610.4L1075.9 1612.3L1076.9 1614.2L1077.9 1616.1L1078.8 1618.0L1079.7 1619.9L1080.4 1621.8L1081.1 1623.7L1081.7 1625.6L1082.3 1627.5L1082.7 1629.4L1083.1 1631.3L1083.4 1633.2L1083.7 1635.0L1084.0 1636.9L1084.1 1638.8L1084.3 1640.7L1084.4 1642.6L1084.5 1644.5L1084.6 1646.4L1084.6 1648.3L1084.7 1650.2Z" fill="#1E90FF" fill-opacity="0.55"/>
<path d="M1084.8 1294.5V1704.6" stroke="#1E90FF" stroke-width="0.8" opacity="0.2"/>
<path d="M1190.5 1615.7L1190.5 1614.0L1190.6 1612.3L1190.7 1610.6L1190.8 1608.9L1190.9 1607.2L1191.1 1605.5L1191.4 1603.8L1191.7 1602.1L1192.2 1600.4L1192.6 1598.7L1193.1 1597.0L1193.7 1595.3L1194.3 1593.6L1194.9 1592.0L1195.5 1590.3L1196.1 1588.6L1196.5 1586.9L1196.9 1585.2L1197.1 1583.5L1197.3 1581.8L1197.3 1580.1L1197.3 1578.4L1197.2 1576.7L1197.2 1575.0L1197.2 1573.3L1197.4 1571.6L1197.6 1569.9L1198.0 1568.2L1198.6 1566.5L1199.3 1564.8L1200.1 1563.2L1200.9 1561.5L1201.8 1559.8L1202.5 1558.1L1203.1 1556.4L1203.5 1554.7L1203.7 1553.0L1203.7 1551.3L1203.4 1549.6L1202.9 1547.9L1202.3 1546.2L1201.6 1544.5L1201.0 1542.8L1200.4 1541.1L1199.9 1539.4L1199.6 1537.7L1199.6 1536.0L1199.8 1534.4L1200.2 1532.7L1200.8 1531.0L1201.6 1529.3L1202.6 1527.6L1203.7 1525.9L1204.9 1524.2L1206.1 1522.5L1207.5 1520.8L1208.8 1519.1L1210.3 1517.4L1211.8 1515.7L1213.4 1514.0L1215.1 1512.3L1216.9 1510.6L1218.8 1508.9L1220.7 1507.2L1222.6 1505.6L1224.4 1503.9L1226.0 1502.2L1227.5 1500.5L1228.6 1498.8L1229.4 1497.1L1229.7 1495.4L1229.5 1493.7L1228.9 1492.0L1227.8 1490.3L1226.2 1488.6L1224.3 1486.9L1222.1 1485.2L1219.7 1483.5L1217.2 1481.8L1214.8 1480.1L1212.4 1478.4L1210.3 1476.8L1208.4 1475.1L1206.8 1473.4L1205.4 1471.7L1204.4 1470.0L1203.6 1468.3L1203.0 1466.6L1202.6 1464.9L1202.4 1463.2L1202.1 1461.5L1202.0 1459.8L1201.8 1458.1L1201.6 1456.4L1201.3 1454.7L1201.1 1453.0L1200.7 1451.3L1200.4 1449.6L1200.0 1448.0L1199.7 1446.3L1199.4 1444.6L1199.2 1442.9L1199.1 1441.2L1199.1 1439.5L1199.2 1437.8L1199.4 1436.1L1199.7 1434.4L1200.1 1432.7L1200.5 1431.0L1200.9 1429.3L1201.3 1427.6L1201.6 1425.9L1201.8 1424.2L1202.0 1422.5L1201.9 1420.8L1201.8 1419.2L1201.6 1417.5L1201.3 1415.8L1201.0 1414.1L1200.6 1412.4L1200.2 1410.7L1199.9 1409.0L1199.6 1407.3L1199.5 1405.6L1199.4 1403.9L1199.4 1402.2L1199.6 1400.5L1199.8 1398.8L1200.0 1397.1L1200.3 1395.4L1200.6 1393.7L1200.8 1392.0L1201.0 1390.4L1201.1 1388.7L1201.1 1387.0L1201.0 1385.3L1200.7 1383.6L1200.4 1381.9L1199.9 1380.2L1199.4 1378.5L1198.7 1376.8L1198.0 1375.1L1197.2 1373.4L1196.4 1371.7L1195.6 1370.0L1194.8 1368.3L1194.0 1366.6L1193.4 1364.9L1192.8 1363.2L1192.2 1361.6L1191.8 1359.9L1191.5 1358.2L1191.2 1356.5L1190.9 1354.8L1190.8 1353.1L1190.7 1351.4L1190.6 1349.7L1190.5 1348.0L1190.5 1346.3L1190.3 1346.3L1190.3 1348.0L1190.2 1349.7L1190.1 1351.4L1190.0 1353.1L1189.9 1354.8L1189.6 1356.5L1189.3 1358.2L1189.0 1359.9L1188.6 1361.6L1188.0 1363.2L1187.4 1364.9L1186.8 1366.6L1186.0 1368.3L1185.2 1370.0L1184.4 1371.7L1183.6 1373.4L1182.8 1375.1L1182.1 1376.8L1181.4 1378.5L1180.9 1380.2L1180.4 1381.9L1180.1 1383.6L1179.8 1385.3L1179.7 1387.0L1179.7 1388.7L1179.8 1390.4L1180.0 1392.0L1180.2 1393.7L1180.5 1395.4L1180.8 1397.1L1181.0 1398.8L1181.2 1400.5L1181.4 1402.2L1181.4 1403.9L1181.3 1405.6L1181.2 1407.3L1180.9 1409.0L1180.6 1410.7L1180.2 1412.4L1179.8 1414.1L1179.5 1415.8L1179.2 1417.5L1179.0 1419.2L1178.9 1420.8L1178.8 1422.5L1179.0 1424.2L1179.2 1425.9L1179.5 1427.6L1179.9 1429.3L1180.3 1431.0L1180.7 1432.7L1181.1 1434.4L1181.4 1436.1L1181.6 1437.8L1181.7 1439.5L1181.7 1441.2L1181.6 1442.9L1181.4 1444.6L1181.1 1446.3L1180.8 1448.0L1180.4 1449.6L1180.1 1451.3L1179.7 1453.0L1179.5 1454.7L1179.2 1456.4L1179.0 1458.1L1178.8 1459.8L1178.7 1461.5L1178.4 1463.2L1178.2 1464.9L1177.8 1466.6L1177.2 1468.3L1176.4 1470.0L1175.4 1471.7L1174.0 1473.4L1172.4 1475.1L1170.5 1476.8L1168.4 1478.4L1166.0 1480.1L1163.6 1481.8L1161.1 1483.5L1158.7 1485.2L1156.5 1486.9L1154.6 1488.6L1153.0 1490.3L1151.9 1492.0L1151.3 1493.7L1151.1 1495.4L1151.4 1497.1L1152.2 1498.8L1153.3 1500.5L1154.8 1502.2L1156.4 1503.9L1158.2 1505.6L1160.1 1507.2L1162.0 1508.9L1163.9 1510.6L1165.7 1512.3L1167.4 1514.0L1169.0 1515.7L1170.5 1517.4L1172.0 1519.1L1173.3 1520.8L1174.7 1522.5L1175.9 1524.2L1177.1 1525.9L1178.2 1527.6L1179.2 1529.3L1180.0 1531.0L1180.6 1532.7L1181.0 1534.4L1181.2 1536.0L1181.2 1537.7L1180.9 1539.4L1180.4 1541.1L1179.8 1542.8L1179.2 1544.5L1178.5 1546.2L1177.9 1547.9L1177.4 1549.6L1177.1 1551.3L1177.1 1553.0L1177.3 1554.7L1177.7 1556.4L1178.3 1558.1L1179.0 1559.8L1179.9 1561.5L1180.7 1563.2L1181.5 1564.8L1182.2 1566.5L1182.8 1568.2L1183.2 1569.9L1183.4 1571.6L1183.6 1573.3L1183.6 1575.0L1183.6 1576.7L1183.5 1578.4L1183.5 1580.1L1183.5 1581.8L1183.7 1583.5L1183.9 1585.2L1184.3 1586.9L1184.7 1588.6L1185.3 1590.3L1185.9 1592.0L1186.5 1593.6L1187.1 1595.3L1187.7 1597.0L1188.2 1598.7L1188.6 1600.4L1189.1 1602.1L1189.4 1603.8L1189.7 1605.5L1189.9 1607.2L1190.0 1608.9L1190.1 1610.6L1190.2 1612.3L1190.3 1614.0L1190.3 1615.7Z" fill="#9B30FF" fill-opacity="0.55"/>
<path d="M1190.4 1313.2V1648.8" stroke="#9B30FF" stroke-width="0.8" opacity="0.2"/>
<path d="M1296.0 1581.6L1296.1 1580.3L1296.1 1579.0L1296.2 1577.7L1296.4 1576.3L1296.5 1575.0L1296.7 1573.7L1296.9 1572.4L1297.2 1571.1L1297.6 1569.8L1298.0 1568.5L1298.5 1567.2L1299.0 1565.8L1299.6 1564.5L1300.3 1563.2L1301.0 1561.9L1301.8 1560.6L1302.6 1559.3L1303.4 1558.0L1304.2 1556.7L1305.0 1555.3L1305.7 1554.0L1306.3 1552.7L1306.8 1551.4L1307.2 1550.1L1307.5 1548.8L1307.6 1547.5L1307.6 1546.2L1307.5 1544.9L1307.2 1543.5L1306.9 1542.2L1306.4 1540.9L1306.0 1539.6L1305.5 1538.3L1305.1 1537.0L1304.7 1535.7L1304.5 1534.4L1304.3 1533.0L1304.3 1531.7L1304.6 1530.4L1305.0 1529.1L1305.6 1527.8L1306.4 1526.5L1307.4 1525.2L1308.6 1523.9L1310.0 1522.5L1311.6 1521.2L1313.3 1519.9L1315.0 1518.6L1316.9 1517.3L1318.7 1516.0L1320.5 1514.7L1322.2 1513.4L1323.8 1512.0L1325.2 1510.7L1326.4 1509.4L1327.5 1508.1L1328.3 1506.8L1328.8 1505.5L1329.1 1504.2L1329.1 1502.9L1328.9 1501.5L1328.5 1500.2L1327.9 1498.9L1327.1 1497.6L1326.2 1496.3L1325.2 1495.0L1324.2 1493.7L1323.1 1492.4L1322.0 1491.1L1320.9 1489.7L1319.8 1488.4L1318.8 1487.1L1317.9 1485.8L1317.1 1484.5L1316.4 1483.2L1315.9 1481.9L1315.5 1480.6L1315.3 1479.2L1315.3 1477.9L1315.5 1476.6L1316.0 1475.3L1316.7 1474.0L1317.6 1472.7L1318.8 1471.4L1320.1 1470.1L1321.7 1468.7L1323.4 1467.4L1325.1 1466.1L1326.9 1464.8L1328.7 1463.5L1330.3 1462.2L1331.8 1460.9L1333.0 1459.6L1334.0 1458.2L1334.7 1456.9L1335.1 1455.6L1335.2 1454.3L1335.0 1453.0L1334.5 1451.7L1333.8 1450.4L1332.8 1449.1L1331.8 1447.8L1330.6 1446.4L1329.3 1445.1L1328.1 1443.8L1326.9 1442.5L1325.7 1441.2L1324.6 1439.9L1323.5 1438.6L1322.6 1437.3L1321.7 1435.9L1321.0 1434.6L1320.3 1433.3L1319.6 1432.0L1319.0 1430.7L1318.5 1429.4L1318.0 1428.1L1317.5 1426.8L1317.1 1425.4L1316.6 1424.1L1316.2 1422.8L1315.8 1421.5L1315.4 1420.2L1315.1 1418.9L1314.7 1417.6L1314.3 1416.3L1313.9 1414.9L1313.5 1413.6L1313.1 1412.3L1312.6 1411.0L1312.1 1409.7L1311.5 1408.4L1310.9 1407.1L1310.2 1405.8L1309.4 1404.5L1308.6 1403.1L1307.7 1401.8L1306.8 1400.5L1305.8 1399.2L1304.9 1397.9L1303.9 1396.6L1303.0 1395.3L1302.1 1394.0L1301.2 1392.6L1300.4 1391.3L1299.7 1390.0L1299.1 1388.7L1298.5 1387.4L1298.0 1386.1L1297.6 1384.8L1297.2 1383.5L1296.9 1382.1L1296.7 1380.8L1296.5 1379.5L1296.4 1378.2L1296.2 1376.9L1296.2 1375.6L1296.1 1374.3L1296.0 1373.0L1295.8 1373.0L1295.7 1374.3L1295.6 1375.6L1295.6 1376.9L1295.4 1378.2L1295.3 1379.5L1295.1 1380.8L1294.9 1382.1L1294.6 1383.5L1294.2 1384.8L1293.8 1386.1L1293.3 1387.4L1292.7 1388.7L1292.1 1390.0L1291.4 1391.3L1290.6 1392.6L1289.7 1394.0L1288.8 1395.3L1287.9 1396.6L1286.9 1397.9L1286.0 1399.2L1285.0 1400.5L1284.1 1401.8L1283.2 1403.1L1282.4 1404.5L1281.6 1405.8L1280.9 1407.1L1280.3 1408.4L1279.7 1409.7L1279.2 1411.0L1278.7 1412.3L1278.3 1413.6L1277.9 1414.9L1277.5 1416.3L1277.1 1417.6L1276.7 1418.9L1276.4 1420.2L1276.0 1421.5L1275.6 1422.8L1275.2 1424.1L1274.7 1425.4L1274.3 1426.8L1273.8 1428.1L1273.3 1429.4L1272.8 1430.7L1272.2 1432.0L1271.5 1433.3L1270.8 1434.6L1270.1 1435.9L1269.2 1437.3L1268.3 1438.6L1267.2 1439.9L1266.1 1441.2L1264.9 1442.5L1263.7 1443.8L1262.5 1445.1L1261.2 1446.4L1260.0 1447.8L1259.0 1449.1L1258.0 1450.4L1257.3 1451.7L1256.8 1453.0L1256.6 1454.3L1256.7 1455.6L1257.1 1456.9L1257.8 1458.2L1258.8 1459.6L1260.0 1460.9L1261.5 1462.2L1263.1 1463.5L1264.9 1464.8L1266.7 1466.1L1268.4 1467.4L1270.1 1468.7L1271.7 1470.1L1273.0 1471.4L1274.2 1472.7L1275.1 1474.0L1275.8 1475.3L1276.3 1476.6L1276.5 1477.9L1276.5 1479.2L1276.3 1480.6L1275.9 1481.9L1275.4 1483.2L1274.7 1484.5L1273.9 1485.8L1273.0 1487.1L1272.0 1488.4L1270.9 1489.7L1269.8 1491.1L1268.7 1492.4L1267.6 1493.7L1266.6 1495.0L1265.6 1496.3L1264.7 1497.6L1263.9 1498.9L1263.3 1500.2L1262.9 1501.5L1262.7 1502.9L1262.7 1504.2L1263.0 1505.5L1263.5 1506.8L1264.3 1508.1L1265.4 1509.4L1266.6 1510.7L1268.0 1512.0L1269.6 1513.4L1271.3 1514.7L1273.1 1516.0L1274.9 1517.3L1276.8 1518.6L1278.5 1519.9L1280.2 1521.2L1281.8 1522.5L1283.2 1523.9L1284.4 1525.2L1285.4 1526.5L1286.2 1527.8L1286.8 1529.1L1287.2 1530.4L1287.5 1531.7L1287.5 1533.0L1287.3 1534.4L1287.1 1535.7L1286.7 1537.0L1286.3 1538.3L1285.8 1539.6L1285.4 1540.9L1284.9 1542.2L1284.6 1543.5L1284.3 1544.9L1284.2 1546.2L1284.2 1547.5L1284.3 1548.8L1284.6 1550.1L1285.0 1551.4L1285.5 1552.7L1286.1 1554.0L1286.8 1555.3L1287.6 1556.7L1288.4 1558.0L1289.2 1559.3L1290.0 1560.6L1290.8 1561.9L1291.5 1563.2L1292.2 1564.5L1292.8 1565.8L1293.3 1567.2L1293.8 1568.5L1294.2 1569.8L1294.6 1571.1L1294.9 1572.4L1295.1 1573.7L1295.3 1575.0L1295.4 1576.3L1295.6 1577.7L1295.7 1579.0L1295.7 1580.3L1295.8 1581.6Z" fill="#FF1493" fill-opacity="0.55"/>
<path d="M1295.9 1338.7V1615.8" stroke="#FF1493" stroke-width="0.8" opacity="0.2"/>
</g>
<g fill="#229A22">
<circle cx="960.7" cy="1498.2" r="3.5"/>
<circle cx="983.9" cy="1554.1" r="3.5"/>
<circle cx="988.9" cy="1559.6" r="3.5"/>
<circle cx="980.8" cy="1576.9" r="3.5"/>
<circle cx="993.3" cy="1602.8" r="3.5"/>
<circle cx="965.5" cy="1640.4" r="3.5"/>
<circle cx="980.3" cy="1647.1" r="3.5"/>
<circle cx="960.2" cy="1664.6" r="3.5"/>
<circle cx="983.9" cy="1665.1" r="3.5"/>
<circle cx="988.0" cy="1669.7" r="3.5"/>
<circle cx="1096.8" cy="1402.8" r="3.5"/>
<circle cx="1071.7" cy="1418.2" r="3.5"/>
<circle cx="1077.4" cy="1422.2" r="3.5"/>
<circle cx="1090.8" cy="1425.1" r="3.5"/>
<circle cx="1072.4" cy="1495.8" r="3.5"/>
<circle cx="1099.5" cy="1497.8" r="3.5"/>
<circle cx="1085.1" cy="1516.2" r="3.5"/>
<circle cx="1076.9" cy="1520.3" r="3.5"/>
<circle cx="1094.2" cy="1531.3" r="3.5"/>
<circle cx="1097.3" cy="1559.6" r="3.5"/>
<circle cx="1083.4" cy="1579.8" r="3.5"/>
<circle cx="1065.9" cy="1595.3" r="3.5"/>
<circle cx="1211.0" cy="1378.8" r="3.5"/>
<circle cx="1179.4" cy="1393.2" r="3.5"/>
<circle cx="1200.5" cy="1415.3" r="3.5"/>
<circle cx="1181.5" cy="1427.5" r="3.5"/>
<circle cx="1197.4" cy="1450.3" r="3.5"/>
<circle cx="1190.4" cy="1464.4" r="3.5"/>
<circle cx="1170.3" cy="1485.8" r="3.5"/>
<circle cx="1174.8" cy="1484.3" r="3.5"/>
<circle cx="1181.8" cy="1492.7" r="3.5"/>
<circle cx="1201.0" cy="1493.9" r="3.5"/>
<circle cx="1206.5" cy="1493.9" r="3.5"/>
<circle cx="1205.0" cy="1502.3" r="3.5"/>
<circle cx="1210.3" cy="1503.7" r="3.5"/>
<circle cx="1183.9" cy="1515.3" r="3.5"/>
<circle cx="1198.8" cy="1523.9" r="3.5"/>
<circle cx="1204.6" cy="1551.5" r="3.5"/>
<circle cx="1199.5" cy="1553.1" r="3.5"/>
<circle cx="1195.5" cy="1582.1" r="3.5"/>
<circle cx="1288.7" cy="1406.7" r="3.5"/>
<circle cx="1304.3" cy="1424.9" r="3.5"/>
<circle cx="1307.2" cy="1438.8" r="3.5"/>
<circle cx="1284.2" cy="1454.6" r="3.5"/>
<circle cx="1286.1" cy="1458.7" r="3.5"/>
<circle cx="1302.6" cy="1455.6" r="3.5"/>
<circle cx="1287.3" cy="1483.1" r="3.5"/>
<circle cx="1294.5" cy="1499.4" r="3.5"/>
<circle cx="1298.5" cy="1503.7" r="3.5"/>
<circle cx="1297.8" cy="1512.6" r="3.5"/>
<circle cx="1298.1" cy="1546.9" r="3.5"/>
</g>
<path d="M979.6 1549.5V1667.1" stroke="#1414FF" stroke-width="3" opacity="0.93"/>
<circle cx="979.6" cy="1608.3" r="7.2" fill="#1818F8" opacity="0.93"/>
<path d="M1084.8 1431.2V1563.8" stroke="#1414FF" stroke-width="3" opacity="0.93"/>
<circle cx="1084.8" cy="1497.5" r="7.2" fill="#1818F8" opacity="0.93"/>
<path d="M1190.4 1429.6V1539.4" stroke="#1414FF" stroke-width="3" opacity="0.93"/>
<circle cx="1190.4" cy="1484.5" r="7.2" fill="#1818F8" opacity="0.93"/>
<path d="M1295.9 1430.1V1513.7" stroke="#1414FF" stroke-width="3" opacity="0.93"/>
<circle cx="1295.9" cy="1471.9" r="7.2" fill="#1818F8" opacity="0.93"/>
<path d="M915.7 1353.3V1765.6M914.5 1764.4H1358.3" stroke="#000" stroke-width="2.5" fill="none"/>
<path d="M908.4 1746.5h6.2M908.4 1702.4h6.2M908.4 1658.2h6.2M908.4 1614.1h6.2M908.4 1569.9h6.2M908.4 1525.8h6.2M908.4 1481.7h6.2M908.4 1437.5h6.2M908.4 1393.4h6.2M979.6 1765.6v6.2M1084.8 1765.6v6.2M1190.4 1765.6v6.2M1295.9 1765.6v6.2" stroke="#333" stroke-width="2.5" fill="none"/>
<g font-size="28.9">
<text x="902.4" y="1757.1" text-anchor="end">0</text>
<text x="902.4" y="1713.0" text-anchor="end">2</text>
<text x="902.4" y="1668.8" text-anchor="end">4</text>
<text x="902.4" y="1624.7" text-anchor="end">6</text>
<text x="902.4" y="1580.5" text-anchor="end">8</text>
<text x="902.4" y="1536.4" text-anchor="end">10</text>
<text x="902.4" y="1492.3" text-anchor="end">12</text>
<text x="902.4" y="1448.1" text-anchor="end">14</text>
<text x="902.4" y="1404.0" text-anchor="end">16</text>
</g><g font-size="28.6">
<text x="979.6" y="1797.5" text-anchor="middle">AAH</text>
<text x="1084.8" y="1797.5" text-anchor="middle">AIS</text>
<text x="1190.4" y="1797.5" text-anchor="middle">MIA</text>
<text x="1295.9" y="1797.5" text-anchor="middle">ADC</text>
</g>
<text x="1137.2" y="1829.5" font-size="26.2" font-weight="bold" text-anchor="middle">Stages</text>
<text transform="translate(829.8 1561.8) rotate(-90)" font-size="26.9" text-anchor="middle">log2 (Normalized number of CpG sites</text>
<text transform="translate(858.5 1561.8) rotate(-90)" font-size="26.9" text-anchor="middle">in DMRs with hypomethylation)</text>
<text x="916.2" y="1333.3" font-size="26.6" fill="#CD2626">p−value = 0.000287 (Kruskal−Wallis test)</text>
<text x="1372.1" y="1381.8" font-size="24.3">Stages</text>
<rect x="1371.5" y="1396.4" width="26.1" height="26.1" fill="#F8AC78"/>
<path d="M1384.5 1399.2v20.5" stroke="#1414FF" stroke-width="2.2"/>
<circle cx="1384.5" cy="1409.5" r="7.3" fill="#1C1CF4"/>
<text x="1409.8" y="1417.5" font-size="21.7">AAH</text>
<rect x="1371.5" y="1422.8" width="26.1" height="26.1" fill="#6EBEF5"/>
<path d="M1384.5 1425.6v20.5" stroke="#1414FF" stroke-width="2.2"/>
<circle cx="1384.5" cy="1435.9" r="7.3" fill="#1C1CF4"/>
<text x="1409.8" y="1443.9" font-size="21.7">AIS</text>
<rect x="1371.5" y="1449.2" width="26.1" height="26.1" fill="#A05FEB"/>
<path d="M1384.5 1452.0v20.5" stroke="#1414FF" stroke-width="2.2"/>
<circle cx="1384.5" cy="1462.2" r="7.3" fill="#1C1CF4"/>
<text x="1409.8" y="1470.3" font-size="21.7">MIA</text>
<rect x="1371.5" y="1475.6" width="26.1" height="26.1" fill="#F564B4"/>
<path d="M1384.5 1478.4v20.5" stroke="#1414FF" stroke-width="2.2"/>
<circle cx="1384.5" cy="1488.7" r="7.3" fill="#1C1CF4"/>
<text x="1409.8" y="1496.7" font-size="21.7">ADC</text>
</g>
</g>
</svg>
</body></html>
